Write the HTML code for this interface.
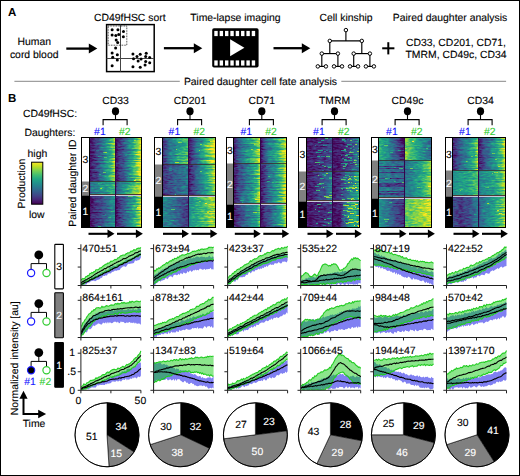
<!DOCTYPE html><html><head><meta charset="utf-8"><title>Figure</title><style>html,body{margin:0;padding:0;background:#fff;width:520px;height:476px;overflow:hidden}svg text{font-family:"Liberation Sans", sans-serif}</style></head><body><svg width="520" height="476" viewBox="0 0 520 476" style="display:block" font-family="Liberation Sans, sans-serif" text-rendering="geometricPrecision"><defs><filter id="vf" x="0" y="0" width="1" height="1" color-interpolation-filters="sRGB"><feTurbulence type="fractalNoise" baseFrequency="0.22 0.65" numOctaves="2" seed="4" result="t"/><feColorMatrix in="t" type="matrix" values="1 0 0 0 0 1 0 0 0 0 1 0 0 0 0 0 0 0 0 1" result="n"/><feComposite in="SourceGraphic" in2="n" operator="arithmetic" k1="0" k2="1" k3="0.42" k4="-0.21" result="s"/><feComponentTransfer in="s"><feFuncR type="table" tableValues="0.267 0.282 0.255 0.208 0.165 0.129 0.133 0.267 0.478 0.741 0.992"/><feFuncG type="table" tableValues="0.004 0.141 0.267 0.373 0.471 0.569 0.659 0.749 0.820 0.875 0.906"/><feFuncB type="table" tableValues="0.329 0.459 0.529 0.553 0.557 0.549 0.518 0.439 0.318 0.149 0.145"/></feComponentTransfer></filter><clipPath id="hc0"><rect x="90.0" y="137.5" width="51.0" height="90.0"/></clipPath><clipPath id="c1"><rect x="90.00" y="137.50" width="25.80" height="44.00"/></clipPath><linearGradient id="g1"><stop offset="0.00" stop-color="#050505"/><stop offset="0.06" stop-color="#0e0e0e"/><stop offset="0.30" stop-color="#2c2c2c"/><stop offset="0.60" stop-color="#656565"/><stop offset="0.85" stop-color="#969696"/><stop offset="1.00" stop-color="#cccccc"/></linearGradient><linearGradient id="g2"><stop offset="0.00" stop-color="#0d0d0d"/><stop offset="0.06" stop-color="#161616"/><stop offset="0.30" stop-color="#373737"/><stop offset="0.60" stop-color="#757575"/><stop offset="0.85" stop-color="#ababab"/><stop offset="1.00" stop-color="#e6e6e6"/></linearGradient><linearGradient id="g3"><stop offset="0.00" stop-color="#050505"/><stop offset="0.06" stop-color="#0f0f0f"/><stop offset="0.30" stop-color="#333333"/><stop offset="0.60" stop-color="#757575"/><stop offset="0.85" stop-color="#aeaeae"/><stop offset="1.00" stop-color="#eeeeee"/></linearGradient><linearGradient id="g4"><stop offset="0.00" stop-color="#0a0a0a"/><stop offset="0.06" stop-color="#141414"/><stop offset="0.30" stop-color="#393939"/><stop offset="0.60" stop-color="#7d7d7d"/><stop offset="0.85" stop-color="#b8b8b8"/><stop offset="1.00" stop-color="#fafafa"/></linearGradient><linearGradient id="g5"><stop offset="0.00" stop-color="#0f0f0f"/><stop offset="0.06" stop-color="#1a1a1a"/><stop offset="0.30" stop-color="#404040"/><stop offset="0.60" stop-color="#878787"/><stop offset="0.85" stop-color="#c4c4c4"/><stop offset="1.00" stop-color="#ffffff"/></linearGradient><linearGradient id="g6"><stop offset="0.00" stop-color="#0a0a0a"/><stop offset="0.06" stop-color="#151515"/><stop offset="0.30" stop-color="#3e3e3e"/><stop offset="0.60" stop-color="#888888"/><stop offset="0.85" stop-color="#c9c9c9"/><stop offset="1.00" stop-color="#ffffff"/></linearGradient><linearGradient id="g7"><stop offset="0.00" stop-color="#0d0d0d"/><stop offset="0.06" stop-color="#191919"/><stop offset="0.30" stop-color="#444444"/><stop offset="0.60" stop-color="#949494"/><stop offset="0.85" stop-color="#d8d8d8"/><stop offset="1.00" stop-color="#ffffff"/></linearGradient><clipPath id="c2"><rect x="115.80" y="137.50" width="25.20" height="44.00"/></clipPath><linearGradient id="g8"><stop offset="0.00" stop-color="#030303"/><stop offset="0.06" stop-color="#0d0d0d"/><stop offset="0.30" stop-color="#323232"/><stop offset="0.60" stop-color="#6a6a6a"/><stop offset="0.85" stop-color="#a4a4a4"/><stop offset="1.00" stop-color="#d2d2d2"/></linearGradient><linearGradient id="g9"><stop offset="0.00" stop-color="#0a0a0a"/><stop offset="0.06" stop-color="#161616"/><stop offset="0.30" stop-color="#3e3e3e"/><stop offset="0.60" stop-color="#7c7c7c"/><stop offset="0.85" stop-color="#bababa"/><stop offset="1.00" stop-color="#ededed"/></linearGradient><linearGradient id="g10"><stop offset="0.00" stop-color="#030303"/><stop offset="0.06" stop-color="#0f0f0f"/><stop offset="0.30" stop-color="#3a3a3a"/><stop offset="0.60" stop-color="#7c7c7c"/><stop offset="0.85" stop-color="#c0c0c0"/><stop offset="1.00" stop-color="#f5f5f5"/></linearGradient><linearGradient id="g11"><stop offset="0.00" stop-color="#080808"/><stop offset="0.06" stop-color="#141414"/><stop offset="0.30" stop-color="#414141"/><stop offset="0.60" stop-color="#858585"/><stop offset="0.85" stop-color="#cacaca"/><stop offset="1.00" stop-color="#ffffff"/></linearGradient><linearGradient id="g12"><stop offset="0.00" stop-color="#0d0d0d"/><stop offset="0.06" stop-color="#1a1a1a"/><stop offset="0.30" stop-color="#484848"/><stop offset="0.60" stop-color="#8f8f8f"/><stop offset="0.85" stop-color="#d7d7d7"/><stop offset="1.00" stop-color="#ffffff"/></linearGradient><linearGradient id="g13"><stop offset="0.00" stop-color="#080808"/><stop offset="0.06" stop-color="#161616"/><stop offset="0.30" stop-color="#474747"/><stop offset="0.60" stop-color="#919191"/><stop offset="0.85" stop-color="#dddddd"/><stop offset="1.00" stop-color="#ffffff"/></linearGradient><linearGradient id="g14"><stop offset="0.00" stop-color="#0a0a0a"/><stop offset="0.06" stop-color="#191919"/><stop offset="0.30" stop-color="#4e4e4e"/><stop offset="0.60" stop-color="#9d9d9d"/><stop offset="0.85" stop-color="#eeeeee"/><stop offset="1.00" stop-color="#ffffff"/></linearGradient><clipPath id="c3"><rect x="90.00" y="181.50" width="25.80" height="14.00"/></clipPath><linearGradient id="g15"><stop offset="0.00" stop-color="#3b3b3b"/><stop offset="0.06" stop-color="#565656"/><stop offset="0.30" stop-color="#666666"/><stop offset="0.60" stop-color="#747474"/><stop offset="0.85" stop-color="#848484"/><stop offset="1.00" stop-color="#979797"/></linearGradient><linearGradient id="g16"><stop offset="0.00" stop-color="#424242"/><stop offset="0.06" stop-color="#606060"/><stop offset="0.30" stop-color="#727272"/><stop offset="0.60" stop-color="#818181"/><stop offset="0.85" stop-color="#929292"/><stop offset="1.00" stop-color="#a7a7a7"/></linearGradient><linearGradient id="g17"><stop offset="0.00" stop-color="#3b3b3b"/><stop offset="0.06" stop-color="#5b5b5b"/><stop offset="0.30" stop-color="#6d6d6d"/><stop offset="0.60" stop-color="#7e7e7e"/><stop offset="0.85" stop-color="#909090"/><stop offset="1.00" stop-color="#a5a5a5"/></linearGradient><linearGradient id="g18"><stop offset="0.00" stop-color="#404040"/><stop offset="0.06" stop-color="#616161"/><stop offset="0.30" stop-color="#747474"/><stop offset="0.60" stop-color="#858585"/><stop offset="0.85" stop-color="#979797"/><stop offset="1.00" stop-color="#adadad"/></linearGradient><linearGradient id="g19"><stop offset="0.00" stop-color="#454545"/><stop offset="0.06" stop-color="#676767"/><stop offset="0.30" stop-color="#7b7b7b"/><stop offset="0.60" stop-color="#8d8d8d"/><stop offset="0.85" stop-color="#9f9f9f"/><stop offset="1.00" stop-color="#b6b6b6"/></linearGradient><linearGradient id="g20"><stop offset="0.00" stop-color="#404040"/><stop offset="0.06" stop-color="#646464"/><stop offset="0.30" stop-color="#797979"/><stop offset="0.60" stop-color="#8b8b8b"/><stop offset="0.85" stop-color="#9f9f9f"/><stop offset="1.00" stop-color="#b7b7b7"/></linearGradient><linearGradient id="g21"><stop offset="0.00" stop-color="#424242"/><stop offset="0.06" stop-color="#696969"/><stop offset="0.30" stop-color="#808080"/><stop offset="0.60" stop-color="#939393"/><stop offset="0.85" stop-color="#a8a8a8"/><stop offset="1.00" stop-color="#c1c1c1"/></linearGradient><clipPath id="c4"><rect x="115.80" y="181.50" width="25.20" height="14.00"/></clipPath><linearGradient id="g22"><stop offset="0.00" stop-color="#0f0f0f"/><stop offset="0.06" stop-color="#3d3d3d"/><stop offset="0.30" stop-color="#686868"/><stop offset="0.60" stop-color="#8c8c8c"/><stop offset="0.85" stop-color="#b1b1b1"/><stop offset="1.00" stop-color="#c2c2c2"/></linearGradient><linearGradient id="g23"><stop offset="0.00" stop-color="#171717"/><stop offset="0.06" stop-color="#494949"/><stop offset="0.30" stop-color="#797979"/><stop offset="0.60" stop-color="#9f9f9f"/><stop offset="0.85" stop-color="#c7c7c7"/><stop offset="1.00" stop-color="#d9d9d9"/></linearGradient><linearGradient id="g24"><stop offset="0.00" stop-color="#0f0f0f"/><stop offset="0.06" stop-color="#464646"/><stop offset="0.30" stop-color="#797979"/><stop offset="0.60" stop-color="#a2a2a2"/><stop offset="0.85" stop-color="#cccccc"/><stop offset="1.00" stop-color="#e0e0e0"/></linearGradient><linearGradient id="g25"><stop offset="0.00" stop-color="#141414"/><stop offset="0.06" stop-color="#4d4d4d"/><stop offset="0.30" stop-color="#818181"/><stop offset="0.60" stop-color="#ababab"/><stop offset="0.85" stop-color="#d7d7d7"/><stop offset="1.00" stop-color="#ebebeb"/></linearGradient><linearGradient id="g26"><stop offset="0.00" stop-color="#1a1a1a"/><stop offset="0.06" stop-color="#545454"/><stop offset="0.30" stop-color="#8a8a8a"/><stop offset="0.60" stop-color="#b6b6b6"/><stop offset="0.85" stop-color="#e3e3e3"/><stop offset="1.00" stop-color="#f8f8f8"/></linearGradient><linearGradient id="g27"><stop offset="0.00" stop-color="#141414"/><stop offset="0.06" stop-color="#525252"/><stop offset="0.30" stop-color="#8c8c8c"/><stop offset="0.60" stop-color="#bababa"/><stop offset="0.85" stop-color="#e9e9e9"/><stop offset="1.00" stop-color="#fefefe"/></linearGradient><linearGradient id="g28"><stop offset="0.00" stop-color="#171717"/><stop offset="0.06" stop-color="#595959"/><stop offset="0.30" stop-color="#979797"/><stop offset="0.60" stop-color="#c8c8c8"/><stop offset="0.85" stop-color="#fbfbfb"/><stop offset="1.00" stop-color="#ffffff"/></linearGradient><clipPath id="c5"><rect x="90.00" y="195.50" width="25.80" height="32.00"/></clipPath><linearGradient id="g29"><stop offset="0.00" stop-color="#050505"/><stop offset="0.06" stop-color="#0e0e0e"/><stop offset="0.30" stop-color="#242424"/><stop offset="0.60" stop-color="#414141"/><stop offset="0.85" stop-color="#606060"/><stop offset="1.00" stop-color="#757575"/></linearGradient><linearGradient id="g30"><stop offset="0.00" stop-color="#0d0d0d"/><stop offset="0.06" stop-color="#161616"/><stop offset="0.30" stop-color="#2e2e2e"/><stop offset="0.60" stop-color="#4e4e4e"/><stop offset="0.85" stop-color="#6f6f6f"/><stop offset="1.00" stop-color="#868686"/></linearGradient><linearGradient id="g31"><stop offset="0.00" stop-color="#050505"/><stop offset="0.06" stop-color="#0f0f0f"/><stop offset="0.30" stop-color="#292929"/><stop offset="0.60" stop-color="#4b4b4b"/><stop offset="0.85" stop-color="#6e6e6e"/><stop offset="1.00" stop-color="#868686"/></linearGradient><linearGradient id="g32"><stop offset="0.00" stop-color="#0a0a0a"/><stop offset="0.06" stop-color="#141414"/><stop offset="0.30" stop-color="#2f2f2f"/><stop offset="0.60" stop-color="#525252"/><stop offset="0.85" stop-color="#767676"/><stop offset="1.00" stop-color="#8f8f8f"/></linearGradient><linearGradient id="g33"><stop offset="0.00" stop-color="#0f0f0f"/><stop offset="0.06" stop-color="#1a1a1a"/><stop offset="0.30" stop-color="#363636"/><stop offset="0.60" stop-color="#5a5a5a"/><stop offset="0.85" stop-color="#7f7f7f"/><stop offset="1.00" stop-color="#999999"/></linearGradient><linearGradient id="g34"><stop offset="0.00" stop-color="#0a0a0a"/><stop offset="0.06" stop-color="#151515"/><stop offset="0.30" stop-color="#333333"/><stop offset="0.60" stop-color="#595959"/><stop offset="0.85" stop-color="#808080"/><stop offset="1.00" stop-color="#9b9b9b"/></linearGradient><linearGradient id="g35"><stop offset="0.00" stop-color="#0d0d0d"/><stop offset="0.06" stop-color="#191919"/><stop offset="0.30" stop-color="#383838"/><stop offset="0.60" stop-color="#606060"/><stop offset="0.85" stop-color="#8a8a8a"/><stop offset="1.00" stop-color="#a6a6a6"/></linearGradient><clipPath id="c6"><rect x="115.80" y="195.50" width="25.20" height="32.00"/></clipPath><linearGradient id="g36"><stop offset="0.00" stop-color="#000000"/><stop offset="0.06" stop-color="#0d0d0d"/><stop offset="0.30" stop-color="#313131"/><stop offset="0.60" stop-color="#5f5f5f"/><stop offset="0.85" stop-color="#8f8f8f"/><stop offset="1.00" stop-color="#bdbdbd"/></linearGradient><linearGradient id="g37"><stop offset="0.00" stop-color="#080808"/><stop offset="0.06" stop-color="#151515"/><stop offset="0.30" stop-color="#3e3e3e"/><stop offset="0.60" stop-color="#707070"/><stop offset="0.85" stop-color="#a3a3a3"/><stop offset="1.00" stop-color="#d5d5d5"/></linearGradient><linearGradient id="g38"><stop offset="0.00" stop-color="#000000"/><stop offset="0.06" stop-color="#0f0f0f"/><stop offset="0.30" stop-color="#3a3a3a"/><stop offset="0.60" stop-color="#707070"/><stop offset="0.85" stop-color="#a7a7a7"/><stop offset="1.00" stop-color="#dddddd"/></linearGradient><linearGradient id="g39"><stop offset="0.00" stop-color="#050505"/><stop offset="0.06" stop-color="#141414"/><stop offset="0.30" stop-color="#414141"/><stop offset="0.60" stop-color="#787878"/><stop offset="0.85" stop-color="#b1b1b1"/><stop offset="1.00" stop-color="#e8e8e8"/></linearGradient><linearGradient id="g40"><stop offset="0.00" stop-color="#0a0a0a"/><stop offset="0.06" stop-color="#1a1a1a"/><stop offset="0.30" stop-color="#494949"/><stop offset="0.60" stop-color="#828282"/><stop offset="0.85" stop-color="#bcbcbc"/><stop offset="1.00" stop-color="#f6f6f6"/></linearGradient><linearGradient id="g41"><stop offset="0.00" stop-color="#050505"/><stop offset="0.06" stop-color="#161616"/><stop offset="0.30" stop-color="#474747"/><stop offset="0.60" stop-color="#838383"/><stop offset="0.85" stop-color="#c1c1c1"/><stop offset="1.00" stop-color="#fdfdfd"/></linearGradient><linearGradient id="g42"><stop offset="0.00" stop-color="#080808"/><stop offset="0.06" stop-color="#1a1a1a"/><stop offset="0.30" stop-color="#4e4e4e"/><stop offset="0.60" stop-color="#8f8f8f"/><stop offset="0.85" stop-color="#d0d0d0"/><stop offset="1.00" stop-color="#ffffff"/></linearGradient><clipPath id="hc1"><rect x="163.0" y="137.5" width="52.0" height="90.0"/></clipPath><clipPath id="c7"><rect x="163.00" y="137.50" width="25.70" height="27.00"/></clipPath><linearGradient id="g43"><stop offset="0.00" stop-color="#141414"/><stop offset="0.06" stop-color="#292929"/><stop offset="0.30" stop-color="#555555"/><stop offset="0.60" stop-color="#787878"/><stop offset="0.85" stop-color="#888888"/><stop offset="1.00" stop-color="#a1a1a1"/></linearGradient><linearGradient id="g44"><stop offset="0.00" stop-color="#1c1c1c"/><stop offset="0.06" stop-color="#333333"/><stop offset="0.30" stop-color="#626262"/><stop offset="0.60" stop-color="#898989"/><stop offset="0.85" stop-color="#9a9a9a"/><stop offset="1.00" stop-color="#b5b5b5"/></linearGradient><linearGradient id="g45"><stop offset="0.00" stop-color="#141414"/><stop offset="0.06" stop-color="#2d2d2d"/><stop offset="0.30" stop-color="#606060"/><stop offset="0.60" stop-color="#898989"/><stop offset="0.85" stop-color="#9b9b9b"/><stop offset="1.00" stop-color="#b8b8b8"/></linearGradient><linearGradient id="g46"><stop offset="0.00" stop-color="#1a1a1a"/><stop offset="0.06" stop-color="#333333"/><stop offset="0.30" stop-color="#676767"/><stop offset="0.60" stop-color="#929292"/><stop offset="0.85" stop-color="#a4a4a4"/><stop offset="1.00" stop-color="#c2c2c2"/></linearGradient><linearGradient id="g47"><stop offset="0.00" stop-color="#1f1f1f"/><stop offset="0.06" stop-color="#393939"/><stop offset="0.30" stop-color="#707070"/><stop offset="0.60" stop-color="#9b9b9b"/><stop offset="0.85" stop-color="#aeaeae"/><stop offset="1.00" stop-color="#cdcdcd"/></linearGradient><linearGradient id="g48"><stop offset="0.00" stop-color="#1a1a1a"/><stop offset="0.06" stop-color="#363636"/><stop offset="0.30" stop-color="#6f6f6f"/><stop offset="0.60" stop-color="#9d9d9d"/><stop offset="0.85" stop-color="#b1b1b1"/><stop offset="1.00" stop-color="#d1d1d1"/></linearGradient><linearGradient id="g49"><stop offset="0.00" stop-color="#1c1c1c"/><stop offset="0.06" stop-color="#3a3a3a"/><stop offset="0.30" stop-color="#787878"/><stop offset="0.60" stop-color="#a9a9a9"/><stop offset="0.85" stop-color="#bebebe"/><stop offset="1.00" stop-color="#e0e0e0"/></linearGradient><clipPath id="c8"><rect x="188.70" y="137.50" width="26.30" height="27.00"/></clipPath><linearGradient id="g50"><stop offset="0.00" stop-color="#050505"/><stop offset="0.06" stop-color="#121212"/><stop offset="0.30" stop-color="#474747"/><stop offset="0.60" stop-color="#808080"/><stop offset="0.85" stop-color="#afafaf"/><stop offset="1.00" stop-color="#c8c8c8"/></linearGradient><linearGradient id="g51"><stop offset="0.00" stop-color="#0d0d0d"/><stop offset="0.06" stop-color="#1b1b1b"/><stop offset="0.30" stop-color="#555555"/><stop offset="0.60" stop-color="#939393"/><stop offset="0.85" stop-color="#c6c6c6"/><stop offset="1.00" stop-color="#e1e1e1"/></linearGradient><linearGradient id="g52"><stop offset="0.00" stop-color="#050505"/><stop offset="0.06" stop-color="#141414"/><stop offset="0.30" stop-color="#535353"/><stop offset="0.60" stop-color="#959595"/><stop offset="0.85" stop-color="#cccccc"/><stop offset="1.00" stop-color="#e9e9e9"/></linearGradient><linearGradient id="g53"><stop offset="0.00" stop-color="#0a0a0a"/><stop offset="0.06" stop-color="#1a1a1a"/><stop offset="0.30" stop-color="#5b5b5b"/><stop offset="0.60" stop-color="#9f9f9f"/><stop offset="0.85" stop-color="#d7d7d7"/><stop offset="1.00" stop-color="#f5f5f5"/></linearGradient><linearGradient id="g54"><stop offset="0.00" stop-color="#0f0f0f"/><stop offset="0.06" stop-color="#1f1f1f"/><stop offset="0.30" stop-color="#636363"/><stop offset="0.60" stop-color="#a9a9a9"/><stop offset="0.85" stop-color="#e4e4e4"/><stop offset="1.00" stop-color="#ffffff"/></linearGradient><linearGradient id="g55"><stop offset="0.00" stop-color="#0a0a0a"/><stop offset="0.06" stop-color="#1b1b1b"/><stop offset="0.30" stop-color="#636363"/><stop offset="0.60" stop-color="#adadad"/><stop offset="0.85" stop-color="#eaeaea"/><stop offset="1.00" stop-color="#ffffff"/></linearGradient><linearGradient id="g56"><stop offset="0.00" stop-color="#0d0d0d"/><stop offset="0.06" stop-color="#1f1f1f"/><stop offset="0.30" stop-color="#6b6b6b"/><stop offset="0.60" stop-color="#bbbbbb"/><stop offset="0.85" stop-color="#fcfcfc"/><stop offset="1.00" stop-color="#ffffff"/></linearGradient><clipPath id="c9"><rect x="163.00" y="164.50" width="25.70" height="32.00"/></clipPath><linearGradient id="g57"><stop offset="0.00" stop-color="#141414"/><stop offset="0.06" stop-color="#1f1f1f"/><stop offset="0.30" stop-color="#2f2f2f"/><stop offset="0.60" stop-color="#444444"/><stop offset="0.85" stop-color="#4d4d4d"/><stop offset="1.00" stop-color="#585858"/></linearGradient><linearGradient id="g58"><stop offset="0.00" stop-color="#1c1c1c"/><stop offset="0.06" stop-color="#282828"/><stop offset="0.30" stop-color="#393939"/><stop offset="0.60" stop-color="#4f4f4f"/><stop offset="0.85" stop-color="#5a5a5a"/><stop offset="1.00" stop-color="#656565"/></linearGradient><linearGradient id="g59"><stop offset="0.00" stop-color="#141414"/><stop offset="0.06" stop-color="#212121"/><stop offset="0.30" stop-color="#333333"/><stop offset="0.60" stop-color="#4b4b4b"/><stop offset="0.85" stop-color="#565656"/><stop offset="1.00" stop-color="#626262"/></linearGradient><linearGradient id="g60"><stop offset="0.00" stop-color="#1a1a1a"/><stop offset="0.06" stop-color="#262626"/><stop offset="0.30" stop-color="#393939"/><stop offset="0.60" stop-color="#525252"/><stop offset="0.85" stop-color="#5d5d5d"/><stop offset="1.00" stop-color="#696969"/></linearGradient><linearGradient id="g61"><stop offset="0.00" stop-color="#1f1f1f"/><stop offset="0.06" stop-color="#2c2c2c"/><stop offset="0.30" stop-color="#404040"/><stop offset="0.60" stop-color="#595959"/><stop offset="0.85" stop-color="#646464"/><stop offset="1.00" stop-color="#707070"/></linearGradient><linearGradient id="g62"><stop offset="0.00" stop-color="#1a1a1a"/><stop offset="0.06" stop-color="#282828"/><stop offset="0.30" stop-color="#3d3d3d"/><stop offset="0.60" stop-color="#575757"/><stop offset="0.85" stop-color="#626262"/><stop offset="1.00" stop-color="#6f6f6f"/></linearGradient><linearGradient id="g63"><stop offset="0.00" stop-color="#1c1c1c"/><stop offset="0.06" stop-color="#2b2b2b"/><stop offset="0.30" stop-color="#424242"/><stop offset="0.60" stop-color="#5e5e5e"/><stop offset="0.85" stop-color="#696969"/><stop offset="1.00" stop-color="#777777"/></linearGradient><clipPath id="c10"><rect x="188.70" y="164.50" width="26.30" height="32.00"/></clipPath><linearGradient id="g64"><stop offset="0.00" stop-color="#080808"/><stop offset="0.06" stop-color="#121212"/><stop offset="0.30" stop-color="#3d3d3d"/><stop offset="0.60" stop-color="#6b6b6b"/><stop offset="0.85" stop-color="#969696"/><stop offset="1.00" stop-color="#b8b8b8"/></linearGradient><linearGradient id="g65"><stop offset="0.00" stop-color="#0f0f0f"/><stop offset="0.06" stop-color="#1b1b1b"/><stop offset="0.30" stop-color="#4a4a4a"/><stop offset="0.60" stop-color="#7c7c7c"/><stop offset="0.85" stop-color="#ababab"/><stop offset="1.00" stop-color="#cfcfcf"/></linearGradient><linearGradient id="g66"><stop offset="0.00" stop-color="#080808"/><stop offset="0.06" stop-color="#141414"/><stop offset="0.30" stop-color="#474747"/><stop offset="0.60" stop-color="#7c7c7c"/><stop offset="0.85" stop-color="#afafaf"/><stop offset="1.00" stop-color="#d5d5d5"/></linearGradient><linearGradient id="g67"><stop offset="0.00" stop-color="#0d0d0d"/><stop offset="0.06" stop-color="#1a1a1a"/><stop offset="0.30" stop-color="#4e4e4e"/><stop offset="0.60" stop-color="#858585"/><stop offset="0.85" stop-color="#b8b8b8"/><stop offset="1.00" stop-color="#e0e0e0"/></linearGradient><linearGradient id="g68"><stop offset="0.00" stop-color="#121212"/><stop offset="0.06" stop-color="#1f1f1f"/><stop offset="0.30" stop-color="#565656"/><stop offset="0.60" stop-color="#8f8f8f"/><stop offset="0.85" stop-color="#c4c4c4"/><stop offset="1.00" stop-color="#ededed"/></linearGradient><linearGradient id="g69"><stop offset="0.00" stop-color="#0d0d0d"/><stop offset="0.06" stop-color="#1b1b1b"/><stop offset="0.30" stop-color="#545454"/><stop offset="0.60" stop-color="#909090"/><stop offset="0.85" stop-color="#c9c9c9"/><stop offset="1.00" stop-color="#f4f4f4"/></linearGradient><linearGradient id="g70"><stop offset="0.00" stop-color="#0f0f0f"/><stop offset="0.06" stop-color="#1e1e1e"/><stop offset="0.30" stop-color="#5c5c5c"/><stop offset="0.60" stop-color="#9c9c9c"/><stop offset="0.85" stop-color="#d8d8d8"/><stop offset="1.00" stop-color="#ffffff"/></linearGradient><clipPath id="c11"><rect x="163.00" y="196.50" width="25.70" height="31.00"/></clipPath><linearGradient id="g71"><stop offset="0.00" stop-color="#6e6e6e"/><stop offset="0.06" stop-color="#6e6e6e"/><stop offset="0.30" stop-color="#5f5f5f"/><stop offset="0.60" stop-color="#4e4e4e"/><stop offset="0.85" stop-color="#393939"/><stop offset="1.00" stop-color="#2f2f2f"/></linearGradient><linearGradient id="g72"><stop offset="0.00" stop-color="#757575"/><stop offset="0.06" stop-color="#757575"/><stop offset="0.30" stop-color="#656565"/><stop offset="0.60" stop-color="#535353"/><stop offset="0.85" stop-color="#3c3c3c"/><stop offset="1.00" stop-color="#303030"/></linearGradient><linearGradient id="g73"><stop offset="0.00" stop-color="#6e6e6e"/><stop offset="0.06" stop-color="#6e6e6e"/><stop offset="0.30" stop-color="#5c5c5c"/><stop offset="0.60" stop-color="#494949"/><stop offset="0.85" stop-color="#303030"/><stop offset="1.00" stop-color="#232323"/></linearGradient><linearGradient id="g74"><stop offset="0.00" stop-color="#737373"/><stop offset="0.06" stop-color="#737373"/><stop offset="0.30" stop-color="#616161"/><stop offset="0.60" stop-color="#4c4c4c"/><stop offset="0.85" stop-color="#333333"/><stop offset="1.00" stop-color="#262626"/></linearGradient><linearGradient id="g75"><stop offset="0.00" stop-color="#787878"/><stop offset="0.06" stop-color="#787878"/><stop offset="0.30" stop-color="#656565"/><stop offset="0.60" stop-color="#505050"/><stop offset="0.85" stop-color="#363636"/><stop offset="1.00" stop-color="#282828"/></linearGradient><linearGradient id="g76"><stop offset="0.00" stop-color="#737373"/><stop offset="0.06" stop-color="#737373"/><stop offset="0.30" stop-color="#5f5f5f"/><stop offset="0.60" stop-color="#494949"/><stop offset="0.85" stop-color="#2d2d2d"/><stop offset="1.00" stop-color="#1f1f1f"/></linearGradient><linearGradient id="g77"><stop offset="0.00" stop-color="#757575"/><stop offset="0.06" stop-color="#757575"/><stop offset="0.30" stop-color="#606060"/><stop offset="0.60" stop-color="#484848"/><stop offset="0.85" stop-color="#2a2a2a"/><stop offset="1.00" stop-color="#1b1b1b"/></linearGradient><clipPath id="c12"><rect x="188.70" y="196.50" width="26.30" height="31.00"/></clipPath><linearGradient id="g78"><stop offset="0.00" stop-color="#6e6e6e"/><stop offset="0.06" stop-color="#787878"/><stop offset="0.30" stop-color="#8e8e8e"/><stop offset="0.60" stop-color="#a7a7a7"/><stop offset="0.85" stop-color="#bebebe"/><stop offset="1.00" stop-color="#cacaca"/></linearGradient><linearGradient id="g79"><stop offset="0.00" stop-color="#757575"/><stop offset="0.06" stop-color="#818181"/><stop offset="0.30" stop-color="#999999"/><stop offset="0.60" stop-color="#b4b4b4"/><stop offset="0.85" stop-color="#cccccc"/><stop offset="1.00" stop-color="#dadada"/></linearGradient><linearGradient id="g80"><stop offset="0.00" stop-color="#6e6e6e"/><stop offset="0.06" stop-color="#7a7a7a"/><stop offset="0.30" stop-color="#949494"/><stop offset="0.60" stop-color="#b1b1b1"/><stop offset="0.85" stop-color="#cacaca"/><stop offset="1.00" stop-color="#d8d8d8"/></linearGradient><linearGradient id="g81"><stop offset="0.00" stop-color="#737373"/><stop offset="0.06" stop-color="#808080"/><stop offset="0.30" stop-color="#9a9a9a"/><stop offset="0.60" stop-color="#b8b8b8"/><stop offset="0.85" stop-color="#d2d2d2"/><stop offset="1.00" stop-color="#e0e0e0"/></linearGradient><linearGradient id="g82"><stop offset="0.00" stop-color="#787878"/><stop offset="0.06" stop-color="#858585"/><stop offset="0.30" stop-color="#a1a1a1"/><stop offset="0.60" stop-color="#c0c0c0"/><stop offset="0.85" stop-color="#dadada"/><stop offset="1.00" stop-color="#e9e9e9"/></linearGradient><linearGradient id="g83"><stop offset="0.00" stop-color="#737373"/><stop offset="0.06" stop-color="#818181"/><stop offset="0.30" stop-color="#9e9e9e"/><stop offset="0.60" stop-color="#bebebe"/><stop offset="0.85" stop-color="#dadada"/><stop offset="1.00" stop-color="#eaeaea"/></linearGradient><linearGradient id="g84"><stop offset="0.00" stop-color="#757575"/><stop offset="0.06" stop-color="#848484"/><stop offset="0.30" stop-color="#a4a4a4"/><stop offset="0.60" stop-color="#c6c6c6"/><stop offset="0.85" stop-color="#e4e4e4"/><stop offset="1.00" stop-color="#f4f4f4"/></linearGradient><clipPath id="hc2"><rect x="234.0" y="137.5" width="52.0" height="90.0"/></clipPath><clipPath id="c13"><rect x="234.00" y="137.50" width="26.50" height="26.00"/></clipPath><linearGradient id="g85"><stop offset="0.00" stop-color="#080808"/><stop offset="0.06" stop-color="#1d1d1d"/><stop offset="0.30" stop-color="#525252"/><stop offset="0.60" stop-color="#767676"/><stop offset="0.85" stop-color="#9b9b9b"/><stop offset="1.00" stop-color="#c9c9c9"/></linearGradient><linearGradient id="g86"><stop offset="0.00" stop-color="#0f0f0f"/><stop offset="0.06" stop-color="#262626"/><stop offset="0.30" stop-color="#616161"/><stop offset="0.60" stop-color="#888888"/><stop offset="0.85" stop-color="#b0b0b0"/><stop offset="1.00" stop-color="#e2e2e2"/></linearGradient><linearGradient id="g87"><stop offset="0.00" stop-color="#080808"/><stop offset="0.06" stop-color="#202020"/><stop offset="0.30" stop-color="#606060"/><stop offset="0.60" stop-color="#898989"/><stop offset="0.85" stop-color="#b3b3b3"/><stop offset="1.00" stop-color="#e9e9e9"/></linearGradient><linearGradient id="g88"><stop offset="0.00" stop-color="#0d0d0d"/><stop offset="0.06" stop-color="#262626"/><stop offset="0.30" stop-color="#676767"/><stop offset="0.60" stop-color="#929292"/><stop offset="0.85" stop-color="#bebebe"/><stop offset="1.00" stop-color="#f5f5f5"/></linearGradient><linearGradient id="g89"><stop offset="0.00" stop-color="#121212"/><stop offset="0.06" stop-color="#2c2c2c"/><stop offset="0.30" stop-color="#707070"/><stop offset="0.60" stop-color="#9c9c9c"/><stop offset="0.85" stop-color="#c9c9c9"/><stop offset="1.00" stop-color="#ffffff"/></linearGradient><linearGradient id="g90"><stop offset="0.00" stop-color="#0d0d0d"/><stop offset="0.06" stop-color="#292929"/><stop offset="0.30" stop-color="#707070"/><stop offset="0.60" stop-color="#9f9f9f"/><stop offset="0.85" stop-color="#cecece"/><stop offset="1.00" stop-color="#ffffff"/></linearGradient><linearGradient id="g91"><stop offset="0.00" stop-color="#0f0f0f"/><stop offset="0.06" stop-color="#2d2d2d"/><stop offset="0.30" stop-color="#7a7a7a"/><stop offset="0.60" stop-color="#ababab"/><stop offset="0.85" stop-color="#dedede"/><stop offset="1.00" stop-color="#ffffff"/></linearGradient><clipPath id="c14"><rect x="260.50" y="137.50" width="25.50" height="26.00"/></clipPath><linearGradient id="g92"><stop offset="0.00" stop-color="#050505"/><stop offset="0.06" stop-color="#121212"/><stop offset="0.30" stop-color="#525252"/><stop offset="0.60" stop-color="#757575"/><stop offset="0.85" stop-color="#a5a5a5"/><stop offset="1.00" stop-color="#cccccc"/></linearGradient><linearGradient id="g93"><stop offset="0.00" stop-color="#0d0d0d"/><stop offset="0.06" stop-color="#1b1b1b"/><stop offset="0.30" stop-color="#616161"/><stop offset="0.60" stop-color="#878787"/><stop offset="0.85" stop-color="#bbbbbb"/><stop offset="1.00" stop-color="#e6e6e6"/></linearGradient><linearGradient id="g94"><stop offset="0.00" stop-color="#050505"/><stop offset="0.06" stop-color="#141414"/><stop offset="0.30" stop-color="#606060"/><stop offset="0.60" stop-color="#898989"/><stop offset="0.85" stop-color="#c0c0c0"/><stop offset="1.00" stop-color="#eeeeee"/></linearGradient><linearGradient id="g95"><stop offset="0.00" stop-color="#0a0a0a"/><stop offset="0.06" stop-color="#1a1a1a"/><stop offset="0.30" stop-color="#676767"/><stop offset="0.60" stop-color="#929292"/><stop offset="0.85" stop-color="#cacaca"/><stop offset="1.00" stop-color="#fafafa"/></linearGradient><linearGradient id="g96"><stop offset="0.00" stop-color="#0f0f0f"/><stop offset="0.06" stop-color="#1f1f1f"/><stop offset="0.30" stop-color="#707070"/><stop offset="0.60" stop-color="#9c9c9c"/><stop offset="0.85" stop-color="#d7d7d7"/><stop offset="1.00" stop-color="#ffffff"/></linearGradient><linearGradient id="g97"><stop offset="0.00" stop-color="#0a0a0a"/><stop offset="0.06" stop-color="#1b1b1b"/><stop offset="0.30" stop-color="#717171"/><stop offset="0.60" stop-color="#9f9f9f"/><stop offset="0.85" stop-color="#dcdcdc"/><stop offset="1.00" stop-color="#ffffff"/></linearGradient><linearGradient id="g98"><stop offset="0.00" stop-color="#0d0d0d"/><stop offset="0.06" stop-color="#1f1f1f"/><stop offset="0.30" stop-color="#7a7a7a"/><stop offset="0.60" stop-color="#acacac"/><stop offset="0.85" stop-color="#ededed"/><stop offset="1.00" stop-color="#ffffff"/></linearGradient><clipPath id="c15"><rect x="234.00" y="163.50" width="26.50" height="41.00"/></clipPath><linearGradient id="g99"><stop offset="0.00" stop-color="#080808"/><stop offset="0.06" stop-color="#121212"/><stop offset="0.30" stop-color="#3d3d3d"/><stop offset="0.60" stop-color="#616161"/><stop offset="0.85" stop-color="#8a8a8a"/><stop offset="1.00" stop-color="#c0c0c0"/></linearGradient><linearGradient id="g100"><stop offset="0.00" stop-color="#0f0f0f"/><stop offset="0.06" stop-color="#1b1b1b"/><stop offset="0.30" stop-color="#4a4a4a"/><stop offset="0.60" stop-color="#717171"/><stop offset="0.85" stop-color="#9d9d9d"/><stop offset="1.00" stop-color="#d8d8d8"/></linearGradient><linearGradient id="g101"><stop offset="0.00" stop-color="#080808"/><stop offset="0.06" stop-color="#141414"/><stop offset="0.30" stop-color="#474747"/><stop offset="0.60" stop-color="#707070"/><stop offset="0.85" stop-color="#a0a0a0"/><stop offset="1.00" stop-color="#dfdfdf"/></linearGradient><linearGradient id="g102"><stop offset="0.00" stop-color="#0d0d0d"/><stop offset="0.06" stop-color="#1a1a1a"/><stop offset="0.30" stop-color="#4e4e4e"/><stop offset="0.60" stop-color="#787878"/><stop offset="0.85" stop-color="#a9a9a9"/><stop offset="1.00" stop-color="#ebebeb"/></linearGradient><linearGradient id="g103"><stop offset="0.00" stop-color="#121212"/><stop offset="0.06" stop-color="#1f1f1f"/><stop offset="0.30" stop-color="#565656"/><stop offset="0.60" stop-color="#818181"/><stop offset="0.85" stop-color="#b4b4b4"/><stop offset="1.00" stop-color="#f8f8f8"/></linearGradient><linearGradient id="g104"><stop offset="0.00" stop-color="#0d0d0d"/><stop offset="0.06" stop-color="#1b1b1b"/><stop offset="0.30" stop-color="#545454"/><stop offset="0.60" stop-color="#828282"/><stop offset="0.85" stop-color="#b8b8b8"/><stop offset="1.00" stop-color="#ffffff"/></linearGradient><linearGradient id="g105"><stop offset="0.00" stop-color="#0f0f0f"/><stop offset="0.06" stop-color="#1e1e1e"/><stop offset="0.30" stop-color="#5c5c5c"/><stop offset="0.60" stop-color="#8d8d8d"/><stop offset="0.85" stop-color="#c6c6c6"/><stop offset="1.00" stop-color="#ffffff"/></linearGradient><clipPath id="c16"><rect x="260.50" y="163.50" width="25.50" height="41.00"/></clipPath><linearGradient id="g106"><stop offset="0.00" stop-color="#030303"/><stop offset="0.06" stop-color="#0d0d0d"/><stop offset="0.30" stop-color="#3c3c3c"/><stop offset="0.60" stop-color="#686868"/><stop offset="0.85" stop-color="#969696"/><stop offset="1.00" stop-color="#c6c6c6"/></linearGradient><linearGradient id="g107"><stop offset="0.00" stop-color="#0a0a0a"/><stop offset="0.06" stop-color="#161616"/><stop offset="0.30" stop-color="#4a4a4a"/><stop offset="0.60" stop-color="#797979"/><stop offset="0.85" stop-color="#aaaaaa"/><stop offset="1.00" stop-color="#dfdfdf"/></linearGradient><linearGradient id="g108"><stop offset="0.00" stop-color="#030303"/><stop offset="0.06" stop-color="#0f0f0f"/><stop offset="0.30" stop-color="#474747"/><stop offset="0.60" stop-color="#7a7a7a"/><stop offset="0.85" stop-color="#aeaeae"/><stop offset="1.00" stop-color="#e7e7e7"/></linearGradient><linearGradient id="g109"><stop offset="0.00" stop-color="#080808"/><stop offset="0.06" stop-color="#141414"/><stop offset="0.30" stop-color="#4e4e4e"/><stop offset="0.60" stop-color="#828282"/><stop offset="0.85" stop-color="#b8b8b8"/><stop offset="1.00" stop-color="#f2f2f2"/></linearGradient><linearGradient id="g110"><stop offset="0.00" stop-color="#0d0d0d"/><stop offset="0.06" stop-color="#1a1a1a"/><stop offset="0.30" stop-color="#565656"/><stop offset="0.60" stop-color="#8c8c8c"/><stop offset="0.85" stop-color="#c4c4c4"/><stop offset="1.00" stop-color="#ffffff"/></linearGradient><linearGradient id="g111"><stop offset="0.00" stop-color="#080808"/><stop offset="0.06" stop-color="#161616"/><stop offset="0.30" stop-color="#555555"/><stop offset="0.60" stop-color="#8e8e8e"/><stop offset="0.85" stop-color="#c9c9c9"/><stop offset="1.00" stop-color="#ffffff"/></linearGradient><linearGradient id="g112"><stop offset="0.00" stop-color="#0a0a0a"/><stop offset="0.06" stop-color="#191919"/><stop offset="0.30" stop-color="#5d5d5d"/><stop offset="0.60" stop-color="#9a9a9a"/><stop offset="0.85" stop-color="#d9d9d9"/><stop offset="1.00" stop-color="#ffffff"/></linearGradient><clipPath id="c17"><rect x="234.00" y="204.50" width="26.50" height="23.00"/></clipPath><linearGradient id="g113"><stop offset="0.00" stop-color="#080808"/><stop offset="0.06" stop-color="#121212"/><stop offset="0.30" stop-color="#333333"/><stop offset="0.60" stop-color="#565656"/><stop offset="0.85" stop-color="#717171"/><stop offset="1.00" stop-color="#a9a9a9"/></linearGradient><linearGradient id="g114"><stop offset="0.00" stop-color="#0f0f0f"/><stop offset="0.06" stop-color="#1b1b1b"/><stop offset="0.30" stop-color="#3f3f3f"/><stop offset="0.60" stop-color="#656565"/><stop offset="0.85" stop-color="#828282"/><stop offset="1.00" stop-color="#bfbfbf"/></linearGradient><linearGradient id="g115"><stop offset="0.00" stop-color="#080808"/><stop offset="0.06" stop-color="#141414"/><stop offset="0.30" stop-color="#3a3a3a"/><stop offset="0.60" stop-color="#646464"/><stop offset="0.85" stop-color="#828282"/><stop offset="1.00" stop-color="#c4c4c4"/></linearGradient><linearGradient id="g116"><stop offset="0.00" stop-color="#0d0d0d"/><stop offset="0.06" stop-color="#1a1a1a"/><stop offset="0.30" stop-color="#414141"/><stop offset="0.60" stop-color="#6c6c6c"/><stop offset="0.85" stop-color="#8b8b8b"/><stop offset="1.00" stop-color="#cfcfcf"/></linearGradient><linearGradient id="g117"><stop offset="0.00" stop-color="#121212"/><stop offset="0.06" stop-color="#1f1f1f"/><stop offset="0.30" stop-color="#484848"/><stop offset="0.60" stop-color="#747474"/><stop offset="0.85" stop-color="#949494"/><stop offset="1.00" stop-color="#dbdbdb"/></linearGradient><linearGradient id="g118"><stop offset="0.00" stop-color="#0d0d0d"/><stop offset="0.06" stop-color="#1b1b1b"/><stop offset="0.30" stop-color="#464646"/><stop offset="0.60" stop-color="#747474"/><stop offset="0.85" stop-color="#969696"/><stop offset="1.00" stop-color="#e0e0e0"/></linearGradient><linearGradient id="g119"><stop offset="0.00" stop-color="#0f0f0f"/><stop offset="0.06" stop-color="#1e1e1e"/><stop offset="0.30" stop-color="#4d4d4d"/><stop offset="0.60" stop-color="#7e7e7e"/><stop offset="0.85" stop-color="#a2a2a2"/><stop offset="1.00" stop-color="#f1f1f1"/></linearGradient><clipPath id="c18"><rect x="260.50" y="204.50" width="25.50" height="23.00"/></clipPath><linearGradient id="g120"><stop offset="0.00" stop-color="#030303"/><stop offset="0.06" stop-color="#0d0d0d"/><stop offset="0.30" stop-color="#323232"/><stop offset="0.60" stop-color="#5a5a5a"/><stop offset="0.85" stop-color="#898989"/><stop offset="1.00" stop-color="#c4c4c4"/></linearGradient><linearGradient id="g121"><stop offset="0.00" stop-color="#0a0a0a"/><stop offset="0.06" stop-color="#161616"/><stop offset="0.30" stop-color="#3e3e3e"/><stop offset="0.60" stop-color="#696969"/><stop offset="0.85" stop-color="#9d9d9d"/><stop offset="1.00" stop-color="#dddddd"/></linearGradient><linearGradient id="g122"><stop offset="0.00" stop-color="#030303"/><stop offset="0.06" stop-color="#0f0f0f"/><stop offset="0.30" stop-color="#3a3a3a"/><stop offset="0.60" stop-color="#696969"/><stop offset="0.85" stop-color="#a0a0a0"/><stop offset="1.00" stop-color="#e4e4e4"/></linearGradient><linearGradient id="g123"><stop offset="0.00" stop-color="#080808"/><stop offset="0.06" stop-color="#141414"/><stop offset="0.30" stop-color="#414141"/><stop offset="0.60" stop-color="#717171"/><stop offset="0.85" stop-color="#a9a9a9"/><stop offset="1.00" stop-color="#f0f0f0"/></linearGradient><linearGradient id="g124"><stop offset="0.00" stop-color="#0d0d0d"/><stop offset="0.06" stop-color="#1a1a1a"/><stop offset="0.30" stop-color="#484848"/><stop offset="0.60" stop-color="#7a7a7a"/><stop offset="0.85" stop-color="#b4b4b4"/><stop offset="1.00" stop-color="#fdfdfd"/></linearGradient><linearGradient id="g125"><stop offset="0.00" stop-color="#080808"/><stop offset="0.06" stop-color="#161616"/><stop offset="0.30" stop-color="#474747"/><stop offset="0.60" stop-color="#7b7b7b"/><stop offset="0.85" stop-color="#b8b8b8"/><stop offset="1.00" stop-color="#ffffff"/></linearGradient><linearGradient id="g126"><stop offset="0.00" stop-color="#0a0a0a"/><stop offset="0.06" stop-color="#191919"/><stop offset="0.30" stop-color="#4e4e4e"/><stop offset="0.60" stop-color="#858585"/><stop offset="0.85" stop-color="#c7c7c7"/><stop offset="1.00" stop-color="#ffffff"/></linearGradient><clipPath id="hc3"><rect x="307.0" y="137.5" width="52.0" height="90.0"/></clipPath><clipPath id="c19"><rect x="307.00" y="137.50" width="25.80" height="34.00"/></clipPath><linearGradient id="g127"><stop offset="0.00" stop-color="#0d0d0d"/><stop offset="0.06" stop-color="#0f0f0f"/><stop offset="0.30" stop-color="#141414"/><stop offset="0.60" stop-color="#1d1d1d"/><stop offset="0.85" stop-color="#262626"/><stop offset="1.00" stop-color="#2f2f2f"/></linearGradient><linearGradient id="g128"><stop offset="0.00" stop-color="#141414"/><stop offset="0.06" stop-color="#171717"/><stop offset="0.30" stop-color="#1d1d1d"/><stop offset="0.60" stop-color="#252525"/><stop offset="0.85" stop-color="#303030"/><stop offset="1.00" stop-color="#383838"/></linearGradient><linearGradient id="g129"><stop offset="0.00" stop-color="#0d0d0d"/><stop offset="0.06" stop-color="#0f0f0f"/><stop offset="0.30" stop-color="#161616"/><stop offset="0.60" stop-color="#1f1f1f"/><stop offset="0.85" stop-color="#292929"/><stop offset="1.00" stop-color="#323232"/></linearGradient><linearGradient id="g130"><stop offset="0.00" stop-color="#121212"/><stop offset="0.06" stop-color="#141414"/><stop offset="0.30" stop-color="#1b1b1b"/><stop offset="0.60" stop-color="#242424"/><stop offset="0.85" stop-color="#2f2f2f"/><stop offset="1.00" stop-color="#383838"/></linearGradient><linearGradient id="g131"><stop offset="0.00" stop-color="#171717"/><stop offset="0.06" stop-color="#1a1a1a"/><stop offset="0.30" stop-color="#202020"/><stop offset="0.60" stop-color="#2a2a2a"/><stop offset="0.85" stop-color="#353535"/><stop offset="1.00" stop-color="#3e3e3e"/></linearGradient><linearGradient id="g132"><stop offset="0.00" stop-color="#121212"/><stop offset="0.06" stop-color="#151515"/><stop offset="0.30" stop-color="#1c1c1c"/><stop offset="0.60" stop-color="#252525"/><stop offset="0.85" stop-color="#313131"/><stop offset="1.00" stop-color="#3a3a3a"/></linearGradient><linearGradient id="g133"><stop offset="0.00" stop-color="#141414"/><stop offset="0.06" stop-color="#171717"/><stop offset="0.30" stop-color="#1f1f1f"/><stop offset="0.60" stop-color="#292929"/><stop offset="0.85" stop-color="#353535"/><stop offset="1.00" stop-color="#3f3f3f"/></linearGradient><clipPath id="c20"><rect x="332.80" y="137.50" width="26.20" height="34.00"/></clipPath><linearGradient id="g134"><stop offset="0.00" stop-color="#080808"/><stop offset="0.06" stop-color="#0a0a0a"/><stop offset="0.30" stop-color="#0f0f0f"/><stop offset="0.60" stop-color="#222222"/><stop offset="0.85" stop-color="#3d3d3d"/><stop offset="1.00" stop-color="#4b4b4b"/></linearGradient><linearGradient id="g135"><stop offset="0.00" stop-color="#0f0f0f"/><stop offset="0.06" stop-color="#121212"/><stop offset="0.30" stop-color="#181818"/><stop offset="0.60" stop-color="#2c2c2c"/><stop offset="0.85" stop-color="#484848"/><stop offset="1.00" stop-color="#585858"/></linearGradient><linearGradient id="g136"><stop offset="0.00" stop-color="#080808"/><stop offset="0.06" stop-color="#0a0a0a"/><stop offset="0.30" stop-color="#101010"/><stop offset="0.60" stop-color="#262626"/><stop offset="0.85" stop-color="#444444"/><stop offset="1.00" stop-color="#555555"/></linearGradient><linearGradient id="g137"><stop offset="0.00" stop-color="#0d0d0d"/><stop offset="0.06" stop-color="#0f0f0f"/><stop offset="0.30" stop-color="#161616"/><stop offset="0.60" stop-color="#2c2c2c"/><stop offset="0.85" stop-color="#4b4b4b"/><stop offset="1.00" stop-color="#5c5c5c"/></linearGradient><linearGradient id="g138"><stop offset="0.00" stop-color="#121212"/><stop offset="0.06" stop-color="#151515"/><stop offset="0.30" stop-color="#1b1b1b"/><stop offset="0.60" stop-color="#323232"/><stop offset="0.85" stop-color="#525252"/><stop offset="1.00" stop-color="#636363"/></linearGradient><linearGradient id="g139"><stop offset="0.00" stop-color="#0d0d0d"/><stop offset="0.06" stop-color="#101010"/><stop offset="0.30" stop-color="#171717"/><stop offset="0.60" stop-color="#2e2e2e"/><stop offset="0.85" stop-color="#505050"/><stop offset="1.00" stop-color="#626262"/></linearGradient><linearGradient id="g140"><stop offset="0.00" stop-color="#0f0f0f"/><stop offset="0.06" stop-color="#121212"/><stop offset="0.30" stop-color="#1a1a1a"/><stop offset="0.60" stop-color="#333333"/><stop offset="0.85" stop-color="#575757"/><stop offset="1.00" stop-color="#6a6a6a"/></linearGradient><clipPath id="c21"><rect x="307.00" y="171.50" width="25.80" height="30.00"/></clipPath><linearGradient id="g141"><stop offset="0.00" stop-color="#080808"/><stop offset="0.06" stop-color="#0c0c0c"/><stop offset="0.30" stop-color="#181818"/><stop offset="0.60" stop-color="#313131"/><stop offset="0.85" stop-color="#4b4b4b"/><stop offset="1.00" stop-color="#585858"/></linearGradient><linearGradient id="g142"><stop offset="0.00" stop-color="#0f0f0f"/><stop offset="0.06" stop-color="#141414"/><stop offset="0.30" stop-color="#212121"/><stop offset="0.60" stop-color="#3c3c3c"/><stop offset="0.85" stop-color="#585858"/><stop offset="1.00" stop-color="#666666"/></linearGradient><linearGradient id="g143"><stop offset="0.00" stop-color="#080808"/><stop offset="0.06" stop-color="#0d0d0d"/><stop offset="0.30" stop-color="#1a1a1a"/><stop offset="0.60" stop-color="#373737"/><stop offset="0.85" stop-color="#555555"/><stop offset="1.00" stop-color="#646464"/></linearGradient><linearGradient id="g144"><stop offset="0.00" stop-color="#0d0d0d"/><stop offset="0.06" stop-color="#121212"/><stop offset="0.30" stop-color="#202020"/><stop offset="0.60" stop-color="#3e3e3e"/><stop offset="0.85" stop-color="#5d5d5d"/><stop offset="1.00" stop-color="#6b6b6b"/></linearGradient><linearGradient id="g145"><stop offset="0.00" stop-color="#121212"/><stop offset="0.06" stop-color="#171717"/><stop offset="0.30" stop-color="#262626"/><stop offset="0.60" stop-color="#444444"/><stop offset="0.85" stop-color="#656565"/><stop offset="1.00" stop-color="#737373"/></linearGradient><linearGradient id="g146"><stop offset="0.00" stop-color="#0d0d0d"/><stop offset="0.06" stop-color="#121212"/><stop offset="0.30" stop-color="#222222"/><stop offset="0.60" stop-color="#424242"/><stop offset="0.85" stop-color="#646464"/><stop offset="1.00" stop-color="#737373"/></linearGradient><linearGradient id="g147"><stop offset="0.00" stop-color="#0f0f0f"/><stop offset="0.06" stop-color="#151515"/><stop offset="0.30" stop-color="#262626"/><stop offset="0.60" stop-color="#484848"/><stop offset="0.85" stop-color="#6c6c6c"/><stop offset="1.00" stop-color="#7c7c7c"/></linearGradient><clipPath id="c22"><rect x="332.80" y="171.50" width="26.20" height="30.00"/></clipPath><linearGradient id="g148"><stop offset="0.00" stop-color="#080808"/><stop offset="0.06" stop-color="#0c0c0c"/><stop offset="0.30" stop-color="#1e1e1e"/><stop offset="0.60" stop-color="#464646"/><stop offset="0.85" stop-color="#666666"/><stop offset="1.00" stop-color="#7f7f7f"/></linearGradient><linearGradient id="g149"><stop offset="0.00" stop-color="#0f0f0f"/><stop offset="0.06" stop-color="#141414"/><stop offset="0.30" stop-color="#282828"/><stop offset="0.60" stop-color="#535353"/><stop offset="0.85" stop-color="#767676"/><stop offset="1.00" stop-color="#919191"/></linearGradient><linearGradient id="g150"><stop offset="0.00" stop-color="#080808"/><stop offset="0.06" stop-color="#0d0d0d"/><stop offset="0.30" stop-color="#222222"/><stop offset="0.60" stop-color="#505050"/><stop offset="0.85" stop-color="#767676"/><stop offset="1.00" stop-color="#939393"/></linearGradient><linearGradient id="g151"><stop offset="0.00" stop-color="#0d0d0d"/><stop offset="0.06" stop-color="#121212"/><stop offset="0.30" stop-color="#282828"/><stop offset="0.60" stop-color="#575757"/><stop offset="0.85" stop-color="#7e7e7e"/><stop offset="1.00" stop-color="#9c9c9c"/></linearGradient><linearGradient id="g152"><stop offset="0.00" stop-color="#121212"/><stop offset="0.06" stop-color="#171717"/><stop offset="0.30" stop-color="#2e2e2e"/><stop offset="0.60" stop-color="#5f5f5f"/><stop offset="0.85" stop-color="#878787"/><stop offset="1.00" stop-color="#a6a6a6"/></linearGradient><linearGradient id="g153"><stop offset="0.00" stop-color="#0d0d0d"/><stop offset="0.06" stop-color="#121212"/><stop offset="0.30" stop-color="#2a2a2a"/><stop offset="0.60" stop-color="#5e5e5e"/><stop offset="0.85" stop-color="#888888"/><stop offset="1.00" stop-color="#a8a8a8"/></linearGradient><linearGradient id="g154"><stop offset="0.00" stop-color="#0f0f0f"/><stop offset="0.06" stop-color="#151515"/><stop offset="0.30" stop-color="#2f2f2f"/><stop offset="0.60" stop-color="#666666"/><stop offset="0.85" stop-color="#939393"/><stop offset="1.00" stop-color="#b5b5b5"/></linearGradient><clipPath id="c23"><rect x="307.00" y="201.50" width="25.80" height="26.00"/></clipPath><linearGradient id="g155"><stop offset="0.00" stop-color="#080808"/><stop offset="0.06" stop-color="#0a0a0a"/><stop offset="0.30" stop-color="#0f0f0f"/><stop offset="0.60" stop-color="#181818"/><stop offset="0.85" stop-color="#212121"/><stop offset="1.00" stop-color="#262626"/></linearGradient><linearGradient id="g156"><stop offset="0.00" stop-color="#0f0f0f"/><stop offset="0.06" stop-color="#121212"/><stop offset="0.30" stop-color="#181818"/><stop offset="0.60" stop-color="#202020"/><stop offset="0.85" stop-color="#2a2a2a"/><stop offset="1.00" stop-color="#2f2f2f"/></linearGradient><linearGradient id="g157"><stop offset="0.00" stop-color="#080808"/><stop offset="0.06" stop-color="#0a0a0a"/><stop offset="0.30" stop-color="#101010"/><stop offset="0.60" stop-color="#1a1a1a"/><stop offset="0.85" stop-color="#242424"/><stop offset="1.00" stop-color="#282828"/></linearGradient><linearGradient id="g158"><stop offset="0.00" stop-color="#0d0d0d"/><stop offset="0.06" stop-color="#0f0f0f"/><stop offset="0.30" stop-color="#161616"/><stop offset="0.60" stop-color="#1f1f1f"/><stop offset="0.85" stop-color="#2a2a2a"/><stop offset="1.00" stop-color="#2e2e2e"/></linearGradient><linearGradient id="g159"><stop offset="0.00" stop-color="#121212"/><stop offset="0.06" stop-color="#151515"/><stop offset="0.30" stop-color="#1b1b1b"/><stop offset="0.60" stop-color="#252525"/><stop offset="0.85" stop-color="#2f2f2f"/><stop offset="1.00" stop-color="#343434"/></linearGradient><linearGradient id="g160"><stop offset="0.00" stop-color="#0d0d0d"/><stop offset="0.06" stop-color="#101010"/><stop offset="0.30" stop-color="#171717"/><stop offset="0.60" stop-color="#202020"/><stop offset="0.85" stop-color="#2b2b2b"/><stop offset="1.00" stop-color="#303030"/></linearGradient><linearGradient id="g161"><stop offset="0.00" stop-color="#0f0f0f"/><stop offset="0.06" stop-color="#121212"/><stop offset="0.30" stop-color="#1a1a1a"/><stop offset="0.60" stop-color="#242424"/><stop offset="0.85" stop-color="#2f2f2f"/><stop offset="1.00" stop-color="#343434"/></linearGradient><clipPath id="c24"><rect x="332.80" y="201.50" width="26.20" height="26.00"/></clipPath><linearGradient id="g162"><stop offset="0.00" stop-color="#030303"/><stop offset="0.06" stop-color="#070707"/><stop offset="0.30" stop-color="#0e0e0e"/><stop offset="0.60" stop-color="#606060"/><stop offset="0.85" stop-color="#858585"/><stop offset="1.00" stop-color="#5b5b5b"/></linearGradient><linearGradient id="g163"><stop offset="0.00" stop-color="#0a0a0a"/><stop offset="0.06" stop-color="#0f0f0f"/><stop offset="0.30" stop-color="#171717"/><stop offset="0.60" stop-color="#707070"/><stop offset="0.85" stop-color="#989898"/><stop offset="1.00" stop-color="#6a6a6a"/></linearGradient><linearGradient id="g164"><stop offset="0.00" stop-color="#030303"/><stop offset="0.06" stop-color="#080808"/><stop offset="0.30" stop-color="#101010"/><stop offset="0.60" stop-color="#707070"/><stop offset="0.85" stop-color="#9b9b9b"/><stop offset="1.00" stop-color="#686868"/></linearGradient><linearGradient id="g165"><stop offset="0.00" stop-color="#080808"/><stop offset="0.06" stop-color="#0d0d0d"/><stop offset="0.30" stop-color="#161616"/><stop offset="0.60" stop-color="#787878"/><stop offset="0.85" stop-color="#a4a4a4"/><stop offset="1.00" stop-color="#707070"/></linearGradient><linearGradient id="g166"><stop offset="0.00" stop-color="#0d0d0d"/><stop offset="0.06" stop-color="#121212"/><stop offset="0.30" stop-color="#1b1b1b"/><stop offset="0.60" stop-color="#828282"/><stop offset="0.85" stop-color="#afafaf"/><stop offset="1.00" stop-color="#797979"/></linearGradient><linearGradient id="g167"><stop offset="0.00" stop-color="#080808"/><stop offset="0.06" stop-color="#0d0d0d"/><stop offset="0.30" stop-color="#171717"/><stop offset="0.60" stop-color="#838383"/><stop offset="0.85" stop-color="#b3b3b3"/><stop offset="1.00" stop-color="#797979"/></linearGradient><linearGradient id="g168"><stop offset="0.00" stop-color="#0a0a0a"/><stop offset="0.06" stop-color="#101010"/><stop offset="0.30" stop-color="#1b1b1b"/><stop offset="0.60" stop-color="#8e8e8e"/><stop offset="0.85" stop-color="#c1c1c1"/><stop offset="1.00" stop-color="#838383"/></linearGradient><clipPath id="hc4"><rect x="379.0" y="137.5" width="52.0" height="90.0"/></clipPath><clipPath id="c25"><rect x="379.00" y="137.50" width="25.80" height="23.00"/></clipPath><linearGradient id="g169"><stop offset="0.00" stop-color="#999999"/><stop offset="0.06" stop-color="#999999"/><stop offset="0.30" stop-color="#808080"/><stop offset="0.60" stop-color="#5a5a5a"/><stop offset="0.85" stop-color="#373737"/><stop offset="1.00" stop-color="#282828"/></linearGradient><linearGradient id="g170"><stop offset="0.00" stop-color="#a1a1a1"/><stop offset="0.06" stop-color="#a1a1a1"/><stop offset="0.30" stop-color="#858585"/><stop offset="0.60" stop-color="#5c5c5c"/><stop offset="0.85" stop-color="#353535"/><stop offset="1.00" stop-color="#252525"/></linearGradient><linearGradient id="g171"><stop offset="0.00" stop-color="#999999"/><stop offset="0.06" stop-color="#999999"/><stop offset="0.30" stop-color="#7b7b7b"/><stop offset="0.60" stop-color="#4f4f4f"/><stop offset="0.85" stop-color="#252525"/><stop offset="1.00" stop-color="#131313"/></linearGradient><linearGradient id="g172"><stop offset="0.00" stop-color="#9e9e9e"/><stop offset="0.06" stop-color="#9e9e9e"/><stop offset="0.30" stop-color="#808080"/><stop offset="0.60" stop-color="#525252"/><stop offset="0.85" stop-color="#262626"/><stop offset="1.00" stop-color="#141414"/></linearGradient><linearGradient id="g173"><stop offset="0.00" stop-color="#a3a3a3"/><stop offset="0.06" stop-color="#a3a3a3"/><stop offset="0.30" stop-color="#838383"/><stop offset="0.60" stop-color="#545454"/><stop offset="0.85" stop-color="#272727"/><stop offset="1.00" stop-color="#141414"/></linearGradient><linearGradient id="g174"><stop offset="0.00" stop-color="#9e9e9e"/><stop offset="0.06" stop-color="#9e9e9e"/><stop offset="0.30" stop-color="#7c7c7c"/><stop offset="0.60" stop-color="#4a4a4a"/><stop offset="0.85" stop-color="#1a1a1a"/><stop offset="1.00" stop-color="#070707"/></linearGradient><linearGradient id="g175"><stop offset="0.00" stop-color="#a1a1a1"/><stop offset="0.06" stop-color="#a1a1a1"/><stop offset="0.30" stop-color="#7d7d7d"/><stop offset="0.60" stop-color="#464646"/><stop offset="0.85" stop-color="#131313"/><stop offset="1.00" stop-color="#000000"/></linearGradient><clipPath id="c26"><rect x="404.80" y="137.50" width="26.20" height="23.00"/></clipPath><linearGradient id="g176"><stop offset="0.00" stop-color="#c2c2c2"/><stop offset="0.06" stop-color="#c6c6c6"/><stop offset="0.30" stop-color="#adadad"/><stop offset="0.60" stop-color="#8b8b8b"/><stop offset="0.85" stop-color="#727272"/><stop offset="1.00" stop-color="#5d5d5d"/></linearGradient><linearGradient id="g177"><stop offset="0.00" stop-color="#c9c9c9"/><stop offset="0.06" stop-color="#cecece"/><stop offset="0.30" stop-color="#b3b3b3"/><stop offset="0.60" stop-color="#8e8e8e"/><stop offset="0.85" stop-color="#727272"/><stop offset="1.00" stop-color="#5b5b5b"/></linearGradient><linearGradient id="g178"><stop offset="0.00" stop-color="#c2c2c2"/><stop offset="0.06" stop-color="#c7c7c7"/><stop offset="0.30" stop-color="#a9a9a9"/><stop offset="0.60" stop-color="#818181"/><stop offset="0.85" stop-color="#646464"/><stop offset="1.00" stop-color="#4b4b4b"/></linearGradient><linearGradient id="g179"><stop offset="0.00" stop-color="#c7c7c7"/><stop offset="0.06" stop-color="#cccccc"/><stop offset="0.30" stop-color="#adadad"/><stop offset="0.60" stop-color="#858585"/><stop offset="0.85" stop-color="#666666"/><stop offset="1.00" stop-color="#4c4c4c"/></linearGradient><linearGradient id="g180"><stop offset="0.00" stop-color="#cccccc"/><stop offset="0.06" stop-color="#d1d1d1"/><stop offset="0.30" stop-color="#b1b1b1"/><stop offset="0.60" stop-color="#878787"/><stop offset="0.85" stop-color="#676767"/><stop offset="1.00" stop-color="#4d4d4d"/></linearGradient><linearGradient id="g181"><stop offset="0.00" stop-color="#c7c7c7"/><stop offset="0.06" stop-color="#cdcdcd"/><stop offset="0.30" stop-color="#ababab"/><stop offset="0.60" stop-color="#7e7e7e"/><stop offset="0.85" stop-color="#5c5c5c"/><stop offset="1.00" stop-color="#404040"/></linearGradient><linearGradient id="g182"><stop offset="0.00" stop-color="#c9c9c9"/><stop offset="0.06" stop-color="#cfcfcf"/><stop offset="0.30" stop-color="#ababab"/><stop offset="0.60" stop-color="#7b7b7b"/><stop offset="0.85" stop-color="#575757"/><stop offset="1.00" stop-color="#393939"/></linearGradient><clipPath id="c27"><rect x="379.00" y="160.50" width="25.80" height="38.00"/></clipPath><linearGradient id="g183"><stop offset="0.00" stop-color="#666666"/><stop offset="0.06" stop-color="#666666"/><stop offset="0.30" stop-color="#626262"/><stop offset="0.60" stop-color="#595959"/><stop offset="0.85" stop-color="#535353"/><stop offset="1.00" stop-color="#535353"/></linearGradient><linearGradient id="g184"><stop offset="0.00" stop-color="#6e6e6e"/><stop offset="0.06" stop-color="#6e6e6e"/><stop offset="0.30" stop-color="#696969"/><stop offset="0.60" stop-color="#606060"/><stop offset="0.85" stop-color="#595959"/><stop offset="1.00" stop-color="#595959"/></linearGradient><linearGradient id="g185"><stop offset="0.00" stop-color="#666666"/><stop offset="0.06" stop-color="#666666"/><stop offset="0.30" stop-color="#616161"/><stop offset="0.60" stop-color="#575757"/><stop offset="0.85" stop-color="#505050"/><stop offset="1.00" stop-color="#505050"/></linearGradient><linearGradient id="g186"><stop offset="0.00" stop-color="#6b6b6b"/><stop offset="0.06" stop-color="#6b6b6b"/><stop offset="0.30" stop-color="#666666"/><stop offset="0.60" stop-color="#5c5c5c"/><stop offset="0.85" stop-color="#545454"/><stop offset="1.00" stop-color="#545454"/></linearGradient><linearGradient id="g187"><stop offset="0.00" stop-color="#707070"/><stop offset="0.06" stop-color="#707070"/><stop offset="0.30" stop-color="#6b6b6b"/><stop offset="0.60" stop-color="#606060"/><stop offset="0.85" stop-color="#585858"/><stop offset="1.00" stop-color="#585858"/></linearGradient><linearGradient id="g188"><stop offset="0.00" stop-color="#6b6b6b"/><stop offset="0.06" stop-color="#6b6b6b"/><stop offset="0.30" stop-color="#656565"/><stop offset="0.60" stop-color="#5a5a5a"/><stop offset="0.85" stop-color="#525252"/><stop offset="1.00" stop-color="#525252"/></linearGradient><linearGradient id="g189"><stop offset="0.00" stop-color="#6e6e6e"/><stop offset="0.06" stop-color="#6e6e6e"/><stop offset="0.30" stop-color="#686868"/><stop offset="0.60" stop-color="#5c5c5c"/><stop offset="0.85" stop-color="#535353"/><stop offset="1.00" stop-color="#535353"/></linearGradient><linearGradient id="g190"><stop offset="0.00" stop-color="#2e2e2e"/><stop offset="0.06" stop-color="#2e2e2e"/><stop offset="0.30" stop-color="#2a2a2a"/><stop offset="0.60" stop-color="#252525"/><stop offset="0.85" stop-color="#232323"/><stop offset="1.00" stop-color="#272727"/></linearGradient><linearGradient id="g191"><stop offset="0.00" stop-color="#2e2e2e"/><stop offset="0.06" stop-color="#2e2e2e"/><stop offset="0.30" stop-color="#292929"/><stop offset="0.60" stop-color="#242424"/><stop offset="0.85" stop-color="#212121"/><stop offset="1.00" stop-color="#262626"/></linearGradient><linearGradient id="g192"><stop offset="0.00" stop-color="#333333"/><stop offset="0.06" stop-color="#333333"/><stop offset="0.30" stop-color="#2d2d2d"/><stop offset="0.60" stop-color="#272727"/><stop offset="0.85" stop-color="#242424"/><stop offset="1.00" stop-color="#2a2a2a"/></linearGradient><clipPath id="c28"><rect x="404.80" y="160.50" width="26.20" height="38.00"/></clipPath><linearGradient id="g193"><stop offset="0.00" stop-color="#4f4f4f"/><stop offset="0.06" stop-color="#5a5a5a"/><stop offset="0.30" stop-color="#6a6a6a"/><stop offset="0.60" stop-color="#838383"/><stop offset="0.85" stop-color="#a3a3a3"/><stop offset="1.00" stop-color="#bcbcbc"/></linearGradient><linearGradient id="g194"><stop offset="0.00" stop-color="#575757"/><stop offset="0.06" stop-color="#626262"/><stop offset="0.30" stop-color="#747474"/><stop offset="0.60" stop-color="#8f8f8f"/><stop offset="0.85" stop-color="#b2b2b2"/><stop offset="1.00" stop-color="#cdcdcd"/></linearGradient><linearGradient id="g195"><stop offset="0.00" stop-color="#4f4f4f"/><stop offset="0.06" stop-color="#5b5b5b"/><stop offset="0.30" stop-color="#6e6e6e"/><stop offset="0.60" stop-color="#8b8b8b"/><stop offset="0.85" stop-color="#b1b1b1"/><stop offset="1.00" stop-color="#cecece"/></linearGradient><linearGradient id="g196"><stop offset="0.00" stop-color="#545454"/><stop offset="0.06" stop-color="#616161"/><stop offset="0.30" stop-color="#747474"/><stop offset="0.60" stop-color="#929292"/><stop offset="0.85" stop-color="#b8b8b8"/><stop offset="1.00" stop-color="#d6d6d6"/></linearGradient><linearGradient id="g197"><stop offset="0.00" stop-color="#595959"/><stop offset="0.06" stop-color="#676767"/><stop offset="0.30" stop-color="#7a7a7a"/><stop offset="0.60" stop-color="#999999"/><stop offset="0.85" stop-color="#c1c1c1"/><stop offset="1.00" stop-color="#e0e0e0"/></linearGradient><linearGradient id="g198"><stop offset="0.00" stop-color="#545454"/><stop offset="0.06" stop-color="#626262"/><stop offset="0.30" stop-color="#777777"/><stop offset="0.60" stop-color="#979797"/><stop offset="0.85" stop-color="#c1c1c1"/><stop offset="1.00" stop-color="#e2e2e2"/></linearGradient><linearGradient id="g199"><stop offset="0.00" stop-color="#575757"/><stop offset="0.06" stop-color="#666666"/><stop offset="0.30" stop-color="#7c7c7c"/><stop offset="0.60" stop-color="#9e9e9e"/><stop offset="0.85" stop-color="#cbcbcb"/><stop offset="1.00" stop-color="#ededed"/></linearGradient><clipPath id="c29"><rect x="379.00" y="198.50" width="25.80" height="29.00"/></clipPath><linearGradient id="g200"><stop offset="0.00" stop-color="#808080"/><stop offset="0.06" stop-color="#777777"/><stop offset="0.30" stop-color="#626262"/><stop offset="0.60" stop-color="#474747"/><stop offset="0.85" stop-color="#323232"/><stop offset="1.00" stop-color="#282828"/></linearGradient><linearGradient id="g201"><stop offset="0.00" stop-color="#878787"/><stop offset="0.06" stop-color="#7e7e7e"/><stop offset="0.30" stop-color="#676767"/><stop offset="0.60" stop-color="#494949"/><stop offset="0.85" stop-color="#323232"/><stop offset="1.00" stop-color="#272727"/></linearGradient><linearGradient id="g202"><stop offset="0.00" stop-color="#808080"/><stop offset="0.06" stop-color="#767676"/><stop offset="0.30" stop-color="#5d5d5d"/><stop offset="0.60" stop-color="#3d3d3d"/><stop offset="0.85" stop-color="#242424"/><stop offset="1.00" stop-color="#181818"/></linearGradient><linearGradient id="g203"><stop offset="0.00" stop-color="#858585"/><stop offset="0.06" stop-color="#7a7a7a"/><stop offset="0.30" stop-color="#616161"/><stop offset="0.60" stop-color="#404040"/><stop offset="0.85" stop-color="#262626"/><stop offset="1.00" stop-color="#191919"/></linearGradient><linearGradient id="g204"><stop offset="0.00" stop-color="#8a8a8a"/><stop offset="0.06" stop-color="#7f7f7f"/><stop offset="0.30" stop-color="#656565"/><stop offset="0.60" stop-color="#424242"/><stop offset="0.85" stop-color="#282828"/><stop offset="1.00" stop-color="#1a1a1a"/></linearGradient><linearGradient id="g205"><stop offset="0.00" stop-color="#858585"/><stop offset="0.06" stop-color="#797979"/><stop offset="0.30" stop-color="#5d5d5d"/><stop offset="0.60" stop-color="#393939"/><stop offset="0.85" stop-color="#1d1d1d"/><stop offset="1.00" stop-color="#0f0f0f"/></linearGradient><linearGradient id="g206"><stop offset="0.00" stop-color="#878787"/><stop offset="0.06" stop-color="#7b7b7b"/><stop offset="0.30" stop-color="#5d5d5d"/><stop offset="0.60" stop-color="#363636"/><stop offset="0.85" stop-color="#181818"/><stop offset="1.00" stop-color="#090909"/></linearGradient><clipPath id="c30"><rect x="404.80" y="198.50" width="26.20" height="29.00"/></clipPath><linearGradient id="g207"><stop offset="0.00" stop-color="#b2b2b2"/><stop offset="0.06" stop-color="#b9b9b9"/><stop offset="0.30" stop-color="#c0c0c0"/><stop offset="0.60" stop-color="#cdcdcd"/><stop offset="0.85" stop-color="#dbdbdb"/><stop offset="1.00" stop-color="#e7e7e7"/></linearGradient><linearGradient id="g208"><stop offset="0.00" stop-color="#bababa"/><stop offset="0.06" stop-color="#c1c1c1"/><stop offset="0.30" stop-color="#c9c9c9"/><stop offset="0.60" stop-color="#d7d7d7"/><stop offset="0.85" stop-color="#e5e5e5"/><stop offset="1.00" stop-color="#f3f3f3"/></linearGradient><linearGradient id="g209"><stop offset="0.00" stop-color="#b2b2b2"/><stop offset="0.06" stop-color="#bababa"/><stop offset="0.30" stop-color="#c3c3c3"/><stop offset="0.60" stop-color="#d1d1d1"/><stop offset="0.85" stop-color="#e0e0e0"/><stop offset="1.00" stop-color="#eeeeee"/></linearGradient><linearGradient id="g210"><stop offset="0.00" stop-color="#b8b8b8"/><stop offset="0.06" stop-color="#bfbfbf"/><stop offset="0.30" stop-color="#c8c8c8"/><stop offset="0.60" stop-color="#d7d7d7"/><stop offset="0.85" stop-color="#e6e6e6"/><stop offset="1.00" stop-color="#f5f5f5"/></linearGradient><linearGradient id="g211"><stop offset="0.00" stop-color="#bdbdbd"/><stop offset="0.06" stop-color="#c5c5c5"/><stop offset="0.30" stop-color="#cecece"/><stop offset="0.60" stop-color="#dddddd"/><stop offset="0.85" stop-color="#ededed"/><stop offset="1.00" stop-color="#fcfcfc"/></linearGradient><linearGradient id="g212"><stop offset="0.00" stop-color="#b8b8b8"/><stop offset="0.06" stop-color="#c0c0c0"/><stop offset="0.30" stop-color="#cacaca"/><stop offset="0.60" stop-color="#d9d9d9"/><stop offset="0.85" stop-color="#eaeaea"/><stop offset="1.00" stop-color="#f9f9f9"/></linearGradient><linearGradient id="g213"><stop offset="0.00" stop-color="#bababa"/><stop offset="0.06" stop-color="#c3c3c3"/><stop offset="0.30" stop-color="#cecece"/><stop offset="0.60" stop-color="#dedede"/><stop offset="0.85" stop-color="#efefef"/><stop offset="1.00" stop-color="#ffffff"/></linearGradient><clipPath id="hc5"><rect x="453.0" y="137.5" width="52.0" height="90.0"/></clipPath><clipPath id="c31"><rect x="453.00" y="137.50" width="25.90" height="33.00"/></clipPath><linearGradient id="g214"><stop offset="0.00" stop-color="#0f0f0f"/><stop offset="0.06" stop-color="#181818"/><stop offset="0.30" stop-color="#3f3f3f"/><stop offset="0.60" stop-color="#626262"/><stop offset="0.85" stop-color="#878787"/><stop offset="1.00" stop-color="#b5b5b5"/></linearGradient><linearGradient id="g215"><stop offset="0.00" stop-color="#171717"/><stop offset="0.06" stop-color="#202020"/><stop offset="0.30" stop-color="#4b4b4b"/><stop offset="0.60" stop-color="#717171"/><stop offset="0.85" stop-color="#999999"/><stop offset="1.00" stop-color="#cbcbcb"/></linearGradient><linearGradient id="g216"><stop offset="0.00" stop-color="#0f0f0f"/><stop offset="0.06" stop-color="#191919"/><stop offset="0.30" stop-color="#474747"/><stop offset="0.60" stop-color="#707070"/><stop offset="0.85" stop-color="#9b9b9b"/><stop offset="1.00" stop-color="#d1d1d1"/></linearGradient><linearGradient id="g217"><stop offset="0.00" stop-color="#141414"/><stop offset="0.06" stop-color="#1f1f1f"/><stop offset="0.30" stop-color="#4e4e4e"/><stop offset="0.60" stop-color="#787878"/><stop offset="0.85" stop-color="#a4a4a4"/><stop offset="1.00" stop-color="#dbdbdb"/></linearGradient><linearGradient id="g218"><stop offset="0.00" stop-color="#1a1a1a"/><stop offset="0.06" stop-color="#242424"/><stop offset="0.30" stop-color="#555555"/><stop offset="0.60" stop-color="#818181"/><stop offset="0.85" stop-color="#aeaeae"/><stop offset="1.00" stop-color="#e8e8e8"/></linearGradient><linearGradient id="g219"><stop offset="0.00" stop-color="#141414"/><stop offset="0.06" stop-color="#202020"/><stop offset="0.30" stop-color="#535353"/><stop offset="0.60" stop-color="#828282"/><stop offset="0.85" stop-color="#b1b1b1"/><stop offset="1.00" stop-color="#eeeeee"/></linearGradient><linearGradient id="g220"><stop offset="0.00" stop-color="#171717"/><stop offset="0.06" stop-color="#232323"/><stop offset="0.30" stop-color="#5b5b5b"/><stop offset="0.60" stop-color="#8c8c8c"/><stop offset="0.85" stop-color="#bebebe"/><stop offset="1.00" stop-color="#ffffff"/></linearGradient><clipPath id="c32"><rect x="478.90" y="137.50" width="26.10" height="33.00"/></clipPath><linearGradient id="g221"><stop offset="0.00" stop-color="#080808"/><stop offset="0.06" stop-color="#121212"/><stop offset="0.30" stop-color="#3d3d3d"/><stop offset="0.60" stop-color="#616161"/><stop offset="0.85" stop-color="#8a8a8a"/><stop offset="1.00" stop-color="#bebebe"/></linearGradient><linearGradient id="g222"><stop offset="0.00" stop-color="#0f0f0f"/><stop offset="0.06" stop-color="#1b1b1b"/><stop offset="0.30" stop-color="#4a4a4a"/><stop offset="0.60" stop-color="#717171"/><stop offset="0.85" stop-color="#9d9d9d"/><stop offset="1.00" stop-color="#d6d6d6"/></linearGradient><linearGradient id="g223"><stop offset="0.00" stop-color="#080808"/><stop offset="0.06" stop-color="#141414"/><stop offset="0.30" stop-color="#474747"/><stop offset="0.60" stop-color="#707070"/><stop offset="0.85" stop-color="#a0a0a0"/><stop offset="1.00" stop-color="#dddddd"/></linearGradient><linearGradient id="g224"><stop offset="0.00" stop-color="#0d0d0d"/><stop offset="0.06" stop-color="#1a1a1a"/><stop offset="0.30" stop-color="#4e4e4e"/><stop offset="0.60" stop-color="#787878"/><stop offset="0.85" stop-color="#a9a9a9"/><stop offset="1.00" stop-color="#e8e8e8"/></linearGradient><linearGradient id="g225"><stop offset="0.00" stop-color="#121212"/><stop offset="0.06" stop-color="#1f1f1f"/><stop offset="0.30" stop-color="#565656"/><stop offset="0.60" stop-color="#818181"/><stop offset="0.85" stop-color="#b4b4b4"/><stop offset="1.00" stop-color="#f5f5f5"/></linearGradient><linearGradient id="g226"><stop offset="0.00" stop-color="#0d0d0d"/><stop offset="0.06" stop-color="#1b1b1b"/><stop offset="0.30" stop-color="#545454"/><stop offset="0.60" stop-color="#828282"/><stop offset="0.85" stop-color="#b8b8b8"/><stop offset="1.00" stop-color="#fcfcfc"/></linearGradient><linearGradient id="g227"><stop offset="0.00" stop-color="#0f0f0f"/><stop offset="0.06" stop-color="#1e1e1e"/><stop offset="0.30" stop-color="#5c5c5c"/><stop offset="0.60" stop-color="#8d8d8d"/><stop offset="0.85" stop-color="#c6c6c6"/><stop offset="1.00" stop-color="#ffffff"/></linearGradient><clipPath id="c33"><rect x="453.00" y="170.50" width="25.90" height="26.00"/></clipPath><linearGradient id="g228"><stop offset="0.00" stop-color="#6e6e6e"/><stop offset="0.06" stop-color="#787878"/><stop offset="0.30" stop-color="#848484"/><stop offset="0.60" stop-color="#888888"/><stop offset="0.85" stop-color="#9c9c9c"/><stop offset="1.00" stop-color="#b1b1b1"/></linearGradient><linearGradient id="g229"><stop offset="0.00" stop-color="#757575"/><stop offset="0.06" stop-color="#818181"/><stop offset="0.30" stop-color="#8e8e8e"/><stop offset="0.60" stop-color="#929292"/><stop offset="0.85" stop-color="#a7a7a7"/><stop offset="1.00" stop-color="#bebebe"/></linearGradient><linearGradient id="g230"><stop offset="0.00" stop-color="#6e6e6e"/><stop offset="0.06" stop-color="#7a7a7a"/><stop offset="0.30" stop-color="#888888"/><stop offset="0.60" stop-color="#8c8c8c"/><stop offset="0.85" stop-color="#a3a3a3"/><stop offset="1.00" stop-color="#bbbbbb"/></linearGradient><linearGradient id="g231"><stop offset="0.00" stop-color="#737373"/><stop offset="0.06" stop-color="#808080"/><stop offset="0.30" stop-color="#8e8e8e"/><stop offset="0.60" stop-color="#929292"/><stop offset="0.85" stop-color="#a9a9a9"/><stop offset="1.00" stop-color="#c2c2c2"/></linearGradient><linearGradient id="g232"><stop offset="0.00" stop-color="#787878"/><stop offset="0.06" stop-color="#858585"/><stop offset="0.30" stop-color="#949494"/><stop offset="0.60" stop-color="#989898"/><stop offset="0.85" stop-color="#b0b0b0"/><stop offset="1.00" stop-color="#c9c9c9"/></linearGradient><linearGradient id="g233"><stop offset="0.00" stop-color="#737373"/><stop offset="0.06" stop-color="#818181"/><stop offset="0.30" stop-color="#909090"/><stop offset="0.60" stop-color="#949494"/><stop offset="0.85" stop-color="#adadad"/><stop offset="1.00" stop-color="#c8c8c8"/></linearGradient><linearGradient id="g234"><stop offset="0.00" stop-color="#757575"/><stop offset="0.06" stop-color="#848484"/><stop offset="0.30" stop-color="#959595"/><stop offset="0.60" stop-color="#999999"/><stop offset="0.85" stop-color="#b4b4b4"/><stop offset="1.00" stop-color="#d0d0d0"/></linearGradient><clipPath id="c34"><rect x="478.90" y="170.50" width="26.10" height="26.00"/></clipPath><linearGradient id="g235"><stop offset="0.00" stop-color="#545454"/><stop offset="0.06" stop-color="#696969"/><stop offset="0.30" stop-color="#757575"/><stop offset="0.60" stop-color="#838383"/><stop offset="0.85" stop-color="#9e9e9e"/><stop offset="1.00" stop-color="#c2c2c2"/></linearGradient><linearGradient id="g236"><stop offset="0.00" stop-color="#5c5c5c"/><stop offset="0.06" stop-color="#737373"/><stop offset="0.30" stop-color="#808080"/><stop offset="0.60" stop-color="#8f8f8f"/><stop offset="0.85" stop-color="#acacac"/><stop offset="1.00" stop-color="#d2d2d2"/></linearGradient><linearGradient id="g237"><stop offset="0.00" stop-color="#545454"/><stop offset="0.06" stop-color="#6d6d6d"/><stop offset="0.30" stop-color="#7b7b7b"/><stop offset="0.60" stop-color="#8b8b8b"/><stop offset="0.85" stop-color="#a9a9a9"/><stop offset="1.00" stop-color="#d3d3d3"/></linearGradient><linearGradient id="g238"><stop offset="0.00" stop-color="#595959"/><stop offset="0.06" stop-color="#737373"/><stop offset="0.30" stop-color="#818181"/><stop offset="0.60" stop-color="#929292"/><stop offset="0.85" stop-color="#b1b1b1"/><stop offset="1.00" stop-color="#dbdbdb"/></linearGradient><linearGradient id="g239"><stop offset="0.00" stop-color="#5e5e5e"/><stop offset="0.06" stop-color="#797979"/><stop offset="0.30" stop-color="#888888"/><stop offset="0.60" stop-color="#999999"/><stop offset="0.85" stop-color="#b9b9b9"/><stop offset="1.00" stop-color="#e5e5e5"/></linearGradient><linearGradient id="g240"><stop offset="0.00" stop-color="#595959"/><stop offset="0.06" stop-color="#757575"/><stop offset="0.30" stop-color="#858585"/><stop offset="0.60" stop-color="#979797"/><stop offset="0.85" stop-color="#b8b8b8"/><stop offset="1.00" stop-color="#e7e7e7"/></linearGradient><linearGradient id="g241"><stop offset="0.00" stop-color="#5c5c5c"/><stop offset="0.06" stop-color="#7a7a7a"/><stop offset="0.30" stop-color="#8a8a8a"/><stop offset="0.60" stop-color="#9d9d9d"/><stop offset="0.85" stop-color="#c1c1c1"/><stop offset="1.00" stop-color="#f3f3f3"/></linearGradient><clipPath id="c35"><rect x="453.00" y="196.50" width="25.90" height="31.00"/></clipPath><linearGradient id="g242"><stop offset="0.00" stop-color="#3b3b3b"/><stop offset="0.06" stop-color="#303030"/><stop offset="0.30" stop-color="#272727"/><stop offset="0.60" stop-color="#363636"/><stop offset="0.85" stop-color="#505050"/><stop offset="1.00" stop-color="#696969"/></linearGradient><linearGradient id="g243"><stop offset="0.00" stop-color="#424242"/><stop offset="0.06" stop-color="#373737"/><stop offset="0.30" stop-color="#2d2d2d"/><stop offset="0.60" stop-color="#3c3c3c"/><stop offset="0.85" stop-color="#595959"/><stop offset="1.00" stop-color="#747474"/></linearGradient><linearGradient id="g244"><stop offset="0.00" stop-color="#3b3b3b"/><stop offset="0.06" stop-color="#2e2e2e"/><stop offset="0.30" stop-color="#232323"/><stop offset="0.60" stop-color="#343434"/><stop offset="0.85" stop-color="#525252"/><stop offset="1.00" stop-color="#6f6f6f"/></linearGradient><linearGradient id="g245"><stop offset="0.00" stop-color="#404040"/><stop offset="0.06" stop-color="#333333"/><stop offset="0.30" stop-color="#282828"/><stop offset="0.60" stop-color="#393939"/><stop offset="0.85" stop-color="#585858"/><stop offset="1.00" stop-color="#757575"/></linearGradient><linearGradient id="g246"><stop offset="0.00" stop-color="#454545"/><stop offset="0.06" stop-color="#383838"/><stop offset="0.30" stop-color="#2c2c2c"/><stop offset="0.60" stop-color="#3d3d3d"/><stop offset="0.85" stop-color="#5d5d5d"/><stop offset="1.00" stop-color="#7c7c7c"/></linearGradient><linearGradient id="g247"><stop offset="0.00" stop-color="#404040"/><stop offset="0.06" stop-color="#323232"/><stop offset="0.30" stop-color="#252525"/><stop offset="0.60" stop-color="#373737"/><stop offset="0.85" stop-color="#595959"/><stop offset="1.00" stop-color="#797979"/></linearGradient><linearGradient id="g248"><stop offset="0.00" stop-color="#424242"/><stop offset="0.06" stop-color="#333333"/><stop offset="0.30" stop-color="#262626"/><stop offset="0.60" stop-color="#393939"/><stop offset="0.85" stop-color="#5c5c5c"/><stop offset="1.00" stop-color="#7f7f7f"/></linearGradient><clipPath id="c36"><rect x="478.90" y="196.50" width="26.10" height="31.00"/></clipPath><linearGradient id="g249"><stop offset="0.00" stop-color="#3b3b3b"/><stop offset="0.06" stop-color="#505050"/><stop offset="0.30" stop-color="#666666"/><stop offset="0.60" stop-color="#7f7f7f"/><stop offset="0.85" stop-color="#999999"/><stop offset="1.00" stop-color="#bdbdbd"/></linearGradient><linearGradient id="g250"><stop offset="0.00" stop-color="#424242"/><stop offset="0.06" stop-color="#595959"/><stop offset="0.30" stop-color="#727272"/><stop offset="0.60" stop-color="#8d8d8d"/><stop offset="0.85" stop-color="#a9a9a9"/><stop offset="1.00" stop-color="#d0d0d0"/></linearGradient><linearGradient id="g251"><stop offset="0.00" stop-color="#3b3b3b"/><stop offset="0.06" stop-color="#535353"/><stop offset="0.30" stop-color="#6d6d6d"/><stop offset="0.60" stop-color="#8a8a8a"/><stop offset="0.85" stop-color="#a9a9a9"/><stop offset="1.00" stop-color="#d2d2d2"/></linearGradient><linearGradient id="g252"><stop offset="0.00" stop-color="#404040"/><stop offset="0.06" stop-color="#595959"/><stop offset="0.30" stop-color="#747474"/><stop offset="0.60" stop-color="#929292"/><stop offset="0.85" stop-color="#b1b1b1"/><stop offset="1.00" stop-color="#dbdbdb"/></linearGradient><linearGradient id="g253"><stop offset="0.00" stop-color="#454545"/><stop offset="0.06" stop-color="#5f5f5f"/><stop offset="0.30" stop-color="#7b7b7b"/><stop offset="0.60" stop-color="#9a9a9a"/><stop offset="0.85" stop-color="#bababa"/><stop offset="1.00" stop-color="#e6e6e6"/></linearGradient><linearGradient id="g254"><stop offset="0.00" stop-color="#404040"/><stop offset="0.06" stop-color="#5c5c5c"/><stop offset="0.30" stop-color="#797979"/><stop offset="0.60" stop-color="#999999"/><stop offset="0.85" stop-color="#bbbbbb"/><stop offset="1.00" stop-color="#e9e9e9"/></linearGradient><linearGradient id="g255"><stop offset="0.00" stop-color="#424242"/><stop offset="0.06" stop-color="#606060"/><stop offset="0.30" stop-color="#808080"/><stop offset="0.60" stop-color="#a2a2a2"/><stop offset="0.85" stop-color="#c6c6c6"/><stop offset="1.00" stop-color="#f7f7f7"/></linearGradient><linearGradient id="cbar" x1="0" y1="0" x2="0" y2="1"><stop offset="0.0" stop-color="#fde725"/><stop offset="0.1" stop-color="#bddf26"/><stop offset="0.2" stop-color="#7ad151"/><stop offset="0.3" stop-color="#44bf70"/><stop offset="0.4" stop-color="#22a884"/><stop offset="0.5" stop-color="#21918c"/><stop offset="0.6" stop-color="#2a788e"/><stop offset="0.7" stop-color="#355f8d"/><stop offset="0.8" stop-color="#414487"/><stop offset="0.9" stop-color="#482475"/><stop offset="1.0" stop-color="#440154"/></linearGradient><clipPath id="pc00"><rect x="80.9" y="240.6" width="61.0" height="44.900000000000006"/></clipPath><clipPath id="pc01"><rect x="153.6" y="240.6" width="61.0" height="44.900000000000006"/></clipPath><clipPath id="pc02"><rect x="227.6" y="240.6" width="61.0" height="44.900000000000006"/></clipPath><clipPath id="pc03"><rect x="300.7" y="240.6" width="61.0" height="44.900000000000006"/></clipPath><clipPath id="pc04"><rect x="373.5" y="240.6" width="61.0" height="44.900000000000006"/></clipPath><clipPath id="pc05"><rect x="446.5" y="240.6" width="61.0" height="44.900000000000006"/></clipPath><clipPath id="pc10"><rect x="80.9" y="292.3" width="61.0" height="45.19999999999999"/></clipPath><clipPath id="pc11"><rect x="153.6" y="292.3" width="61.0" height="45.19999999999999"/></clipPath><clipPath id="pc12"><rect x="227.6" y="292.3" width="61.0" height="45.19999999999999"/></clipPath><clipPath id="pc13"><rect x="300.7" y="292.3" width="61.0" height="45.19999999999999"/></clipPath><clipPath id="pc14"><rect x="373.5" y="292.3" width="61.0" height="45.19999999999999"/></clipPath><clipPath id="pc15"><rect x="446.5" y="292.3" width="61.0" height="45.19999999999999"/></clipPath><clipPath id="pc20"><rect x="80.9" y="345.2" width="61.0" height="45.10000000000002"/></clipPath><clipPath id="pc21"><rect x="153.6" y="345.2" width="61.0" height="45.10000000000002"/></clipPath><clipPath id="pc22"><rect x="227.6" y="345.2" width="61.0" height="45.10000000000002"/></clipPath><clipPath id="pc23"><rect x="300.7" y="345.2" width="61.0" height="45.10000000000002"/></clipPath><clipPath id="pc24"><rect x="373.5" y="345.2" width="61.0" height="45.10000000000002"/></clipPath><clipPath id="pc25"><rect x="446.5" y="345.2" width="61.0" height="45.10000000000002"/></clipPath></defs><rect x="0.5" y="0.5" width="519" height="475" fill="#fff" stroke="#000" stroke-width="1"/><text x="8.00" y="16.40" font-size="11.5" fill="#000" text-anchor="start" font-weight="bold" >A</text><text x="34.20" y="45.40" font-size="10.4" fill="#000" stroke="#000" stroke-width="0.12" text-anchor="middle" font-weight="normal" >Human</text><text x="34.20" y="57.90" font-size="10.4" fill="#000" stroke="#000" stroke-width="0.12" text-anchor="middle" font-weight="normal" >cord blood</text><line x1="66.3" y1="48.6" x2="89.8" y2="48.6" stroke="#000" stroke-width="2.3"/><polygon points="88.8,43.6 97.3,48.6 88.8,53.6" fill="#000"/><text x="129.80" y="21.10" font-size="10.4" fill="#000" stroke="#000" stroke-width="0.12" text-anchor="middle" font-weight="normal" >CD49fHSC sort</text><rect x="106.6" y="24.6" width="47.6" height="47" fill="#fff" stroke="#000" stroke-width="1.5"/><line x1="120.5" y1="24.6" x2="120.5" y2="71.6" stroke="#444" stroke-width="1"/><line x1="106.6" y1="58.5" x2="154.2" y2="58.5" stroke="#444" stroke-width="1"/><rect x="108.2" y="26" width="18.6" height="19.2" fill="none" stroke="#000" stroke-width="0.8" stroke-dasharray="0.8,0.8"/><circle cx="112.14" cy="29.83" r="1.5" fill="#000"/><circle cx="117.92" cy="29.83" r="1.5" fill="#000"/><circle cx="123.47" cy="31.56" r="1.5" fill="#000"/><circle cx="112.14" cy="35.03" r="1.5" fill="#000"/><circle cx="115.84" cy="35.38" r="1.5" fill="#000"/><circle cx="118.73" cy="34.45" r="1.5" fill="#000"/><circle cx="123.35" cy="36.76" r="1.5" fill="#000"/><circle cx="116.18" cy="39.88" r="1.5" fill="#000"/><circle cx="117.69" cy="42.54" r="1.5" fill="#000"/><circle cx="115.61" cy="48.09" r="1.5" fill="#000"/><circle cx="112.14" cy="52.95" r="1.5" fill="#000"/><circle cx="117.34" cy="54.68" r="1.5" fill="#000"/><circle cx="112.72" cy="57.23" r="1.5" fill="#000"/><circle cx="117.34" cy="59.88" r="1.5" fill="#000"/><circle cx="112.14" cy="65.66" r="1.5" fill="#000"/><circle cx="132.95" cy="54.10" r="1.5" fill="#000"/><circle cx="136.99" cy="56.42" r="1.5" fill="#000"/><circle cx="140.23" cy="54.34" r="1.5" fill="#000"/><circle cx="146.24" cy="53.18" r="1.5" fill="#000"/><circle cx="133.53" cy="58.73" r="1.5" fill="#000"/><circle cx="138.15" cy="61.04" r="1.5" fill="#000"/><circle cx="141.04" cy="58.96" r="1.5" fill="#000"/><circle cx="145.66" cy="56.42" r="1.5" fill="#000"/><circle cx="149.71" cy="57.57" r="1.5" fill="#000"/><circle cx="145.66" cy="61.39" r="1.5" fill="#000"/><circle cx="149.71" cy="62.77" r="1.5" fill="#000"/><circle cx="132.95" cy="66.82" r="1.5" fill="#000"/><circle cx="140.23" cy="67.17" r="1.5" fill="#000"/><circle cx="145.09" cy="65.09" r="1.5" fill="#000"/><line x1="163.9" y1="48.2" x2="194.8" y2="48.2" stroke="#000" stroke-width="2.3"/><polygon points="193.8,43.2 202.3,48.2 193.8,53.2" fill="#000"/><text x="235.50" y="21.10" font-size="10.4" fill="#000" stroke="#000" stroke-width="0.12" text-anchor="middle" font-weight="normal" >Time-lapse imaging</text><rect x="212.2" y="28.2" width="46.4" height="39.3" rx="1.8" fill="#000"/><rect x="214.30" y="30.9" width="3.4" height="5.2" fill="#fff"/><rect x="214.30" y="60.4" width="3.4" height="5.2" fill="#fff"/><rect x="219.65" y="30.9" width="3.4" height="5.2" fill="#fff"/><rect x="219.65" y="60.4" width="3.4" height="5.2" fill="#fff"/><rect x="225.00" y="30.9" width="3.4" height="5.2" fill="#fff"/><rect x="225.00" y="60.4" width="3.4" height="5.2" fill="#fff"/><rect x="230.35" y="30.9" width="3.4" height="5.2" fill="#fff"/><rect x="230.35" y="60.4" width="3.4" height="5.2" fill="#fff"/><rect x="235.70" y="30.9" width="3.4" height="5.2" fill="#fff"/><rect x="235.70" y="60.4" width="3.4" height="5.2" fill="#fff"/><rect x="241.05" y="30.9" width="3.4" height="5.2" fill="#fff"/><rect x="241.05" y="60.4" width="3.4" height="5.2" fill="#fff"/><rect x="246.40" y="30.9" width="3.4" height="5.2" fill="#fff"/><rect x="246.40" y="60.4" width="3.4" height="5.2" fill="#fff"/><rect x="251.75" y="30.9" width="3.4" height="5.2" fill="#fff"/><rect x="251.75" y="60.4" width="3.4" height="5.2" fill="#fff"/><polygon points="230.1,39.3 244.4,47.8 230.1,56.3" fill="#fff"/><line x1="273.5" y1="48.2" x2="302.8" y2="48.2" stroke="#000" stroke-width="2.3"/><polygon points="301.8,43.2 310.3,48.2 301.8,53.2" fill="#000"/><text x="346.00" y="21.10" font-size="10.4" fill="#000" stroke="#000" stroke-width="0.12" text-anchor="middle" font-weight="normal" >Cell kinship</text><line x1="345.9" y1="30.1" x2="345.9" y2="40.9" stroke="#000" stroke-width="1.15"/><line x1="329.8" y1="40.9" x2="361.8" y2="40.9" stroke="#000" stroke-width="1.15"/><line x1="329.8" y1="40.9" x2="329.8" y2="53.6" stroke="#000" stroke-width="1.15"/><line x1="361.8" y1="40.9" x2="361.8" y2="53.6" stroke="#000" stroke-width="1.15"/><line x1="321.8" y1="53.6" x2="337.9" y2="53.6" stroke="#000" stroke-width="1.15"/><line x1="353.7" y1="53.6" x2="369.9" y2="53.6" stroke="#000" stroke-width="1.15"/><line x1="321.8" y1="53.6" x2="321.8" y2="66.4" stroke="#000" stroke-width="1.15"/><line x1="317.8" y1="66.4" x2="325.9" y2="66.4" stroke="#000" stroke-width="1.15"/><line x1="337.9" y1="53.6" x2="337.9" y2="66.4" stroke="#000" stroke-width="1.15"/><line x1="334" y1="66.4" x2="342" y2="66.4" stroke="#000" stroke-width="1.15"/><line x1="353.7" y1="53.6" x2="353.7" y2="66.4" stroke="#000" stroke-width="1.15"/><line x1="350" y1="66.4" x2="358" y2="66.4" stroke="#000" stroke-width="1.15"/><line x1="369.9" y1="53.6" x2="369.9" y2="66.4" stroke="#000" stroke-width="1.15"/><line x1="365.9" y1="66.4" x2="373.9" y2="66.4" stroke="#000" stroke-width="1.15"/><circle cx="345.9" cy="30.1" r="1.75" fill="#fff" stroke="#000" stroke-width="1.0"/><circle cx="329.8" cy="40.9" r="1.75" fill="#fff" stroke="#000" stroke-width="1.0"/><circle cx="361.8" cy="40.9" r="1.75" fill="#fff" stroke="#000" stroke-width="1.0"/><circle cx="321.8" cy="53.6" r="1.75" fill="#fff" stroke="#000" stroke-width="1.0"/><circle cx="337.9" cy="53.6" r="1.75" fill="#fff" stroke="#000" stroke-width="1.0"/><circle cx="353.7" cy="53.6" r="1.75" fill="#fff" stroke="#000" stroke-width="1.0"/><circle cx="369.9" cy="53.6" r="1.75" fill="#fff" stroke="#000" stroke-width="1.0"/><circle cx="317.8" cy="66.4" r="1.75" fill="#fff" stroke="#000" stroke-width="1.0"/><circle cx="325.9" cy="66.4" r="1.75" fill="#fff" stroke="#000" stroke-width="1.0"/><circle cx="334" cy="66.4" r="1.75" fill="#fff" stroke="#000" stroke-width="1.0"/><circle cx="342" cy="66.4" r="1.75" fill="#fff" stroke="#000" stroke-width="1.0"/><circle cx="350" cy="66.4" r="1.75" fill="#fff" stroke="#000" stroke-width="1.0"/><circle cx="358" cy="66.4" r="1.75" fill="#fff" stroke="#000" stroke-width="1.0"/><circle cx="365.9" cy="66.4" r="1.75" fill="#fff" stroke="#000" stroke-width="1.0"/><circle cx="373.9" cy="66.4" r="1.75" fill="#fff" stroke="#000" stroke-width="1.0"/><line x1="382.2" y1="48.3" x2="394.4" y2="48.3" stroke="#000" stroke-width="2"/><line x1="388.3" y1="42.2" x2="388.3" y2="54.4" stroke="#000" stroke-width="2"/><text x="450.00" y="21.10" font-size="10.4" fill="#000" stroke="#000" stroke-width="0.12" text-anchor="middle" font-weight="normal" >Paired daughter analysis</text><text x="456.00" y="46.00" font-size="10.4" fill="#000" stroke="#000" stroke-width="0.12" text-anchor="middle" font-weight="normal" >CD33, CD201, CD71,</text><text x="456.00" y="58.00" font-size="10.4" fill="#000" stroke="#000" stroke-width="0.12" text-anchor="middle" font-weight="normal" >TMRM, CD49c, CD34</text><line x1="14.4" y1="81.3" x2="179.8" y2="81.3" stroke="#888" stroke-width="1"/><line x1="341.3" y1="81.3" x2="506.1" y2="81.3" stroke="#888" stroke-width="1"/><text x="183.90" y="84.90" font-size="10.4" fill="#000" stroke="#000" stroke-width="0.12" text-anchor="start" font-weight="normal" >Paired daughter cell fate analysis</text><text x="8.00" y="102.40" font-size="11.5" fill="#000" text-anchor="start" font-weight="bold" >B</text><text x="77.20" y="116.50" font-size="10.4" fill="#000" stroke="#000" stroke-width="0.12" text-anchor="end" font-weight="normal" >CD49fHSC:</text><text x="75.30" y="135.70" font-size="10.4" fill="#000" stroke="#000" stroke-width="0.12" text-anchor="end" font-weight="normal" >Daughters:</text><g clip-path="url(#hc0)"><g filter="url(#vf)"><g clip-path="url(#c1)"><rect x="90.00" y="137.50" width="25.80" height="44.00" fill="url(#g3)"/><rect x="90.0" y="137" width="25.8" height="1" fill="url(#g3)"/><rect x="90.0" y="138" width="25.8" height="1" fill="url(#g2)"/><rect x="90.0" y="139" width="25.8" height="1" fill="url(#g4)"/><rect x="90.0" y="140" width="25.8" height="1" fill="url(#g6)"/><rect x="90.0" y="141" width="25.8" height="1" fill="url(#g1)"/><rect x="90.0" y="142" width="25.8" height="1" fill="url(#g1)"/><rect x="90.0" y="143" width="25.8" height="1" fill="url(#g7)"/><rect x="90.0" y="144" width="25.8" height="1" fill="url(#g5)"/><rect x="90.0" y="145" width="25.8" height="1" fill="url(#g1)"/><rect x="90.0" y="146" width="25.8" height="1" fill="url(#g3)"/><rect x="90.0" y="147" width="25.8" height="1" fill="url(#g5)"/><rect x="90.0" y="148" width="25.8" height="1" fill="url(#g1)"/><rect x="90.0" y="149" width="25.8" height="1" fill="url(#g5)"/><rect x="90.0" y="150" width="25.8" height="1" fill="url(#g2)"/><rect x="90.0" y="151" width="25.8" height="1" fill="url(#g1)"/><rect x="90.0" y="152" width="25.8" height="1" fill="url(#g1)"/><rect x="90.0" y="153" width="25.8" height="1" fill="url(#g4)"/><rect x="90.0" y="154" width="25.8" height="1" fill="url(#g4)"/><rect x="90.0" y="155" width="25.8" height="1" fill="url(#g1)"/><rect x="90.0" y="156" width="25.8" height="1" fill="url(#g2)"/><rect x="90.0" y="157" width="25.8" height="1" fill="url(#g1)"/><rect x="90.0" y="158" width="25.8" height="1" fill="url(#g5)"/><rect x="90.0" y="159" width="25.8" height="1" fill="url(#g4)"/><rect x="90.0" y="160" width="25.8" height="1" fill="url(#g1)"/><rect x="90.0" y="161" width="25.8" height="1" fill="url(#g7)"/><rect x="90.0" y="162" width="25.8" height="1" fill="url(#g5)"/><rect x="90.0" y="163" width="25.8" height="1" fill="url(#g1)"/><rect x="90.0" y="164" width="25.8" height="1" fill="url(#g2)"/><rect x="90.0" y="165" width="25.8" height="1" fill="url(#g6)"/><rect x="90.0" y="166" width="25.8" height="1" fill="url(#g6)"/><rect x="90.0" y="167" width="25.8" height="1" fill="url(#g5)"/><rect x="90.0" y="168" width="25.8" height="1" fill="url(#g1)"/><rect x="90.0" y="169" width="25.8" height="1" fill="url(#g5)"/><rect x="90.0" y="170" width="25.8" height="1" fill="url(#g5)"/><rect x="90.0" y="171" width="25.8" height="1" fill="url(#g4)"/><rect x="90.0" y="172" width="25.8" height="1" fill="url(#g1)"/><rect x="90.0" y="173" width="25.8" height="1" fill="url(#g2)"/><rect x="90.0" y="174" width="25.8" height="1" fill="url(#g1)"/><rect x="90.0" y="175" width="25.8" height="1" fill="url(#g5)"/><rect x="90.0" y="176" width="25.8" height="1" fill="url(#g7)"/><rect x="90.0" y="177" width="25.8" height="1" fill="url(#g2)"/><rect x="90.0" y="178" width="25.8" height="1" fill="url(#g3)"/><rect x="90.0" y="179" width="25.8" height="1" fill="url(#g4)"/><rect x="90.0" y="180" width="25.8" height="1" fill="url(#g2)"/><rect x="90.0" y="181" width="25.8" height="1" fill="url(#g5)"/><rect x="98" y="156" width="4" height="1" fill="#7c7c7c"/><rect x="99" y="174" width="2" height="1" fill="#878787"/><rect x="103" y="172" width="3" height="1" fill="#b2b2b2"/><rect x="96" y="150" width="3" height="1" fill="#707070"/><rect x="104" y="157" width="3" height="1" fill="#a9a9a9"/><rect x="103" y="152" width="4" height="1" fill="#b7b7b7"/></g><g clip-path="url(#c2)"><rect x="115.80" y="137.50" width="25.20" height="44.00" fill="url(#g10)"/><rect x="115.8" y="137" width="25.2" height="1" fill="url(#g14)"/><rect x="115.8" y="138" width="25.2" height="1" fill="url(#g9)"/><rect x="115.8" y="139" width="25.2" height="1" fill="url(#g8)"/><rect x="115.8" y="140" width="25.2" height="1" fill="url(#g12)"/><rect x="115.8" y="141" width="25.2" height="1" fill="url(#g10)"/><rect x="115.8" y="142" width="25.2" height="1" fill="url(#g12)"/><rect x="115.8" y="143" width="25.2" height="1" fill="url(#g11)"/><rect x="115.8" y="144" width="25.2" height="1" fill="url(#g10)"/><rect x="115.8" y="145" width="25.2" height="1" fill="url(#g13)"/><rect x="115.8" y="146" width="25.2" height="1" fill="url(#g11)"/><rect x="115.8" y="147" width="25.2" height="1" fill="url(#g10)"/><rect x="115.8" y="148" width="25.2" height="1" fill="url(#g12)"/><rect x="115.8" y="149" width="25.2" height="1" fill="url(#g8)"/><rect x="115.8" y="150" width="25.2" height="1" fill="url(#g8)"/><rect x="115.8" y="151" width="25.2" height="1" fill="url(#g12)"/><rect x="115.8" y="152" width="25.2" height="1" fill="url(#g11)"/><rect x="115.8" y="153" width="25.2" height="1" fill="url(#g9)"/><rect x="115.8" y="154" width="25.2" height="1" fill="url(#g14)"/><rect x="115.8" y="155" width="25.2" height="1" fill="url(#g10)"/><rect x="115.8" y="156" width="25.2" height="1" fill="url(#g9)"/><rect x="115.8" y="157" width="25.2" height="1" fill="url(#g11)"/><rect x="115.8" y="158" width="25.2" height="1" fill="url(#g11)"/><rect x="115.8" y="159" width="25.2" height="1" fill="url(#g8)"/><rect x="115.8" y="160" width="25.2" height="1" fill="url(#g13)"/><rect x="115.8" y="161" width="25.2" height="1" fill="url(#g8)"/><rect x="115.8" y="162" width="25.2" height="1" fill="url(#g14)"/><rect x="115.8" y="163" width="25.2" height="1" fill="url(#g12)"/><rect x="115.8" y="164" width="25.2" height="1" fill="url(#g12)"/><rect x="115.8" y="165" width="25.2" height="1" fill="url(#g14)"/><rect x="115.8" y="166" width="25.2" height="1" fill="url(#g14)"/><rect x="115.8" y="167" width="25.2" height="1" fill="url(#g10)"/><rect x="115.8" y="168" width="25.2" height="1" fill="url(#g10)"/><rect x="115.8" y="169" width="25.2" height="1" fill="url(#g13)"/><rect x="115.8" y="170" width="25.2" height="1" fill="url(#g10)"/><rect x="115.8" y="171" width="25.2" height="1" fill="url(#g12)"/><rect x="115.8" y="172" width="25.2" height="1" fill="url(#g11)"/><rect x="115.8" y="173" width="25.2" height="1" fill="url(#g12)"/><rect x="115.8" y="174" width="25.2" height="1" fill="url(#g14)"/><rect x="115.8" y="175" width="25.2" height="1" fill="url(#g11)"/><rect x="115.8" y="176" width="25.2" height="1" fill="url(#g8)"/><rect x="115.8" y="177" width="25.2" height="1" fill="url(#g14)"/><rect x="115.8" y="178" width="25.2" height="1" fill="url(#g8)"/><rect x="115.8" y="179" width="25.2" height="1" fill="url(#g10)"/><rect x="115.8" y="180" width="25.2" height="1" fill="url(#g11)"/><rect x="115.8" y="181" width="25.2" height="1" fill="url(#g13)"/><rect x="134" y="140" width="2" height="1" fill="#f2f2f2"/><rect x="134" y="180" width="2" height="1" fill="#f6f6f6"/><rect x="135" y="179" width="3" height="1" fill="#e0e0e0"/><rect x="128" y="176" width="1" height="1" fill="#898989"/><rect x="125" y="155" width="2" height="1" fill="#737373"/><rect x="129" y="168" width="3" height="1" fill="#8e8e8e"/></g><g clip-path="url(#c3)"><rect x="90.00" y="181.50" width="25.80" height="14.00" fill="url(#g17)"/><rect x="90.0" y="181" width="25.8" height="1" fill="url(#g18)"/><rect x="90.0" y="182" width="25.8" height="1" fill="url(#g19)"/><rect x="90.0" y="183" width="25.8" height="1" fill="url(#g17)"/><rect x="90.0" y="184" width="25.8" height="1" fill="url(#g16)"/><rect x="90.0" y="185" width="25.8" height="1" fill="url(#g21)"/><rect x="90.0" y="186" width="25.8" height="1" fill="url(#g18)"/><rect x="90.0" y="187" width="25.8" height="1" fill="url(#g21)"/><rect x="90.0" y="188" width="25.8" height="1" fill="url(#g19)"/><rect x="90.0" y="189" width="25.8" height="1" fill="url(#g17)"/><rect x="90.0" y="190" width="25.8" height="1" fill="url(#g20)"/><rect x="90.0" y="191" width="25.8" height="1" fill="url(#g18)"/><rect x="90.0" y="192" width="25.8" height="1" fill="url(#g17)"/><rect x="90.0" y="193" width="25.8" height="1" fill="url(#g20)"/><rect x="90.0" y="194" width="25.8" height="1" fill="url(#g18)"/><rect x="90.0" y="195" width="25.8" height="1" fill="url(#g16)"/><rect x="98" y="183" width="4" height="1" fill="#999999"/><rect x="100" y="188" width="2" height="1" fill="#d0d0d0"/></g><g clip-path="url(#c4)"><rect x="115.80" y="181.50" width="25.20" height="14.00" fill="url(#g24)"/><rect x="115.8" y="181" width="25.2" height="1" fill="url(#g24)"/><rect x="115.8" y="182" width="25.2" height="1" fill="url(#g24)"/><rect x="115.8" y="183" width="25.2" height="1" fill="url(#g22)"/><rect x="115.8" y="184" width="25.2" height="1" fill="url(#g23)"/><rect x="115.8" y="185" width="25.2" height="1" fill="url(#g25)"/><rect x="115.8" y="186" width="25.2" height="1" fill="url(#g26)"/><rect x="115.8" y="187" width="25.2" height="1" fill="url(#g24)"/><rect x="115.8" y="188" width="25.2" height="1" fill="url(#g26)"/><rect x="115.8" y="189" width="25.2" height="1" fill="url(#g26)"/><rect x="115.8" y="190" width="25.2" height="1" fill="url(#g24)"/><rect x="115.8" y="191" width="25.2" height="1" fill="url(#g23)"/><rect x="115.8" y="192" width="25.2" height="1" fill="url(#g27)"/><rect x="115.8" y="193" width="25.2" height="1" fill="url(#g28)"/><rect x="115.8" y="194" width="25.2" height="1" fill="url(#g26)"/><rect x="115.8" y="195" width="25.2" height="1" fill="url(#g26)"/><rect x="134" y="192" width="5" height="1" fill="#d6d6d6"/><rect x="137" y="194" width="3" height="1" fill="#ffffff"/></g><g clip-path="url(#c5)"><rect x="90.00" y="195.50" width="25.80" height="32.00" fill="url(#g31)"/><rect x="90.0" y="195" width="25.8" height="1" fill="url(#g32)"/><rect x="90.0" y="196" width="25.8" height="1" fill="url(#g32)"/><rect x="90.0" y="197" width="25.8" height="1" fill="url(#g32)"/><rect x="90.0" y="198" width="25.8" height="1" fill="url(#g32)"/><rect x="90.0" y="199" width="25.8" height="1" fill="url(#g29)"/><rect x="90.0" y="200" width="25.8" height="1" fill="url(#g32)"/><rect x="90.0" y="201" width="25.8" height="1" fill="url(#g34)"/><rect x="90.0" y="202" width="25.8" height="1" fill="url(#g32)"/><rect x="90.0" y="203" width="25.8" height="1" fill="url(#g29)"/><rect x="90.0" y="204" width="25.8" height="1" fill="url(#g30)"/><rect x="90.0" y="205" width="25.8" height="1" fill="url(#g29)"/><rect x="90.0" y="206" width="25.8" height="1" fill="url(#g30)"/><rect x="90.0" y="207" width="25.8" height="1" fill="url(#g32)"/><rect x="90.0" y="208" width="25.8" height="1" fill="url(#g30)"/><rect x="90.0" y="209" width="25.8" height="1" fill="url(#g29)"/><rect x="90.0" y="210" width="25.8" height="1" fill="url(#g31)"/><rect x="90.0" y="211" width="25.8" height="1" fill="url(#g33)"/><rect x="90.0" y="212" width="25.8" height="1" fill="url(#g29)"/><rect x="90.0" y="213" width="25.8" height="1" fill="url(#g29)"/><rect x="90.0" y="214" width="25.8" height="1" fill="url(#g29)"/><rect x="90.0" y="215" width="25.8" height="1" fill="url(#g33)"/><rect x="90.0" y="216" width="25.8" height="1" fill="url(#g30)"/><rect x="90.0" y="217" width="25.8" height="1" fill="url(#g33)"/><rect x="90.0" y="218" width="25.8" height="1" fill="url(#g29)"/><rect x="90.0" y="219" width="25.8" height="1" fill="url(#g31)"/><rect x="90.0" y="220" width="25.8" height="1" fill="url(#g33)"/><rect x="90.0" y="221" width="25.8" height="1" fill="url(#g29)"/><rect x="90.0" y="222" width="25.8" height="1" fill="url(#g29)"/><rect x="90.0" y="223" width="25.8" height="1" fill="url(#g35)"/><rect x="90.0" y="224" width="25.8" height="1" fill="url(#g30)"/><rect x="90.0" y="225" width="25.8" height="1" fill="url(#g33)"/><rect x="90.0" y="226" width="25.8" height="1" fill="url(#g32)"/><rect x="90.0" y="227" width="25.8" height="1" fill="url(#g30)"/><rect x="108" y="217" width="3" height="1" fill="#a1a1a1"/><rect x="98" y="226" width="3" height="1" fill="#939393"/><rect x="105" y="214" width="1" height="1" fill="#6b6b6b"/><rect x="111" y="211" width="4" height="1" fill="#a3a3a3"/></g><g clip-path="url(#c6)"><rect x="115.80" y="195.50" width="25.20" height="32.00" fill="url(#g38)"/><rect x="115.8" y="195" width="25.2" height="1" fill="url(#g37)"/><rect x="115.8" y="196" width="25.2" height="1" fill="url(#g40)"/><rect x="115.8" y="197" width="25.2" height="1" fill="url(#g36)"/><rect x="115.8" y="198" width="25.2" height="1" fill="url(#g37)"/><rect x="115.8" y="199" width="25.2" height="1" fill="url(#g40)"/><rect x="115.8" y="200" width="25.2" height="1" fill="url(#g38)"/><rect x="115.8" y="201" width="25.2" height="1" fill="url(#g37)"/><rect x="115.8" y="202" width="25.2" height="1" fill="url(#g41)"/><rect x="115.8" y="203" width="25.2" height="1" fill="url(#g40)"/><rect x="115.8" y="204" width="25.2" height="1" fill="url(#g36)"/><rect x="115.8" y="205" width="25.2" height="1" fill="url(#g42)"/><rect x="115.8" y="206" width="25.2" height="1" fill="url(#g40)"/><rect x="115.8" y="207" width="25.2" height="1" fill="url(#g38)"/><rect x="115.8" y="208" width="25.2" height="1" fill="url(#g41)"/><rect x="115.8" y="209" width="25.2" height="1" fill="url(#g42)"/><rect x="115.8" y="210" width="25.2" height="1" fill="url(#g36)"/><rect x="115.8" y="211" width="25.2" height="1" fill="url(#g41)"/><rect x="115.8" y="212" width="25.2" height="1" fill="url(#g42)"/><rect x="115.8" y="213" width="25.2" height="1" fill="url(#g38)"/><rect x="115.8" y="214" width="25.2" height="1" fill="url(#g40)"/><rect x="115.8" y="215" width="25.2" height="1" fill="url(#g38)"/><rect x="115.8" y="216" width="25.2" height="1" fill="url(#g37)"/><rect x="115.8" y="217" width="25.2" height="1" fill="url(#g38)"/><rect x="115.8" y="218" width="25.2" height="1" fill="url(#g42)"/><rect x="115.8" y="219" width="25.2" height="1" fill="url(#g37)"/><rect x="115.8" y="220" width="25.2" height="1" fill="url(#g40)"/><rect x="115.8" y="221" width="25.2" height="1" fill="url(#g40)"/><rect x="115.8" y="222" width="25.2" height="1" fill="url(#g42)"/><rect x="115.8" y="223" width="25.2" height="1" fill="url(#g40)"/><rect x="115.8" y="224" width="25.2" height="1" fill="url(#g38)"/><rect x="115.8" y="225" width="25.2" height="1" fill="url(#g41)"/><rect x="115.8" y="226" width="25.2" height="1" fill="url(#g37)"/><rect x="115.8" y="227" width="25.2" height="1" fill="url(#g40)"/><rect x="137" y="207" width="5" height="1" fill="#fdfdfd"/><rect x="129" y="209" width="3" height="1" fill="#8e8e8e"/><rect x="128" y="196" width="5" height="1" fill="#c4c4c4"/><rect x="126" y="211" width="3" height="1" fill="#7d7d7d"/></g></g></g><line x1="89.5" y1="181.5" x2="141.5" y2="181.5" stroke="#3a2a20" stroke-opacity="0.7" stroke-width="1"/><line x1="89.5" y1="194.5" x2="141.5" y2="194.5" stroke="#4a3a32" stroke-width="1"/><line x1="89.5" y1="195.5" x2="141.5" y2="195.5" stroke="#c8c8dc" stroke-width="1"/><line x1="115.5" y1="137.5" x2="115.5" y2="227.5" stroke="#30084a" stroke-width="1"/><rect x="81.5" y="137.5" width="8.0" height="44.0" fill="#fff"/><rect x="81.5" y="181.5" width="8.0" height="14.0" fill="#808080"/><rect x="81.5" y="195.5" width="8.0" height="32.0" fill="#000"/><line x1="89.5" y1="137.5" x2="89.5" y2="227.5" stroke="#000" stroke-width="1"/><rect x="81.5" y="137.5" width="60.0" height="90.0" fill="none" stroke="#000" stroke-width="1"/><text x="85.50" y="163.20" font-size="10.4" fill="#000" stroke="#000" stroke-width="0.12" text-anchor="middle" font-weight="normal" >3</text><text x="85.50" y="192.20" font-size="10.4" fill="#fff" stroke="#fff" stroke-width="0.12" text-anchor="middle" font-weight="normal" >2</text><text x="85.50" y="215.20" font-size="10.4" fill="#fff" stroke="#fff" stroke-width="0.12" text-anchor="middle" font-weight="normal" >1</text><text x="115.50" y="103.80" font-size="10.4" fill="#000" stroke="#000" stroke-width="0.12" text-anchor="middle" font-weight="normal" >CD33</text><ellipse cx="115.5" cy="111.2" rx="3.6" ry="4" fill="#000"/><path d="M115.5,113 V119.6 M103.1,125.2 V119.6 H127.1 V125.2" fill="none" stroke="#000" stroke-width="1.1"/><text x="99.90" y="135.20" font-size="10.4" fill="#1010ff" stroke="#1010ff" stroke-width="0.12" text-anchor="middle" font-weight="normal" >#1</text><text x="124.80" y="135.20" font-size="10.4" fill="#2ecc2e" stroke="#2ecc2e" stroke-width="0.12" text-anchor="middle" font-weight="normal" >#2</text><line x1="88.5" y1="233.8" x2="108.5" y2="233.8" stroke="#000" stroke-width="2.1"/><polygon points="107.5,229.5 114.5,233.8 107.5,238.10000000000002" fill="#000"/><line x1="117.0" y1="233.8" x2="136.9" y2="233.8" stroke="#000" stroke-width="2.1"/><polygon points="135.9,229.5 142.9,233.8 135.9,238.10000000000002" fill="#000"/><g clip-path="url(#hc1)"><g filter="url(#vf)"><g clip-path="url(#c7)"><rect x="163.00" y="137.50" width="25.70" height="27.00" fill="url(#g45)"/><rect x="163.0" y="137" width="25.7" height="1" fill="url(#g45)"/><rect x="163.0" y="138" width="25.7" height="1" fill="url(#g46)"/><rect x="163.0" y="139" width="25.7" height="1" fill="url(#g49)"/><rect x="163.0" y="140" width="25.7" height="1" fill="url(#g48)"/><rect x="163.0" y="141" width="25.7" height="1" fill="url(#g45)"/><rect x="163.0" y="142" width="25.7" height="1" fill="url(#g45)"/><rect x="163.0" y="143" width="25.7" height="1" fill="url(#g43)"/><rect x="163.0" y="144" width="25.7" height="1" fill="url(#g44)"/><rect x="163.0" y="145" width="25.7" height="1" fill="url(#g43)"/><rect x="163.0" y="146" width="25.7" height="1" fill="url(#g44)"/><rect x="163.0" y="147" width="25.7" height="1" fill="url(#g46)"/><rect x="163.0" y="148" width="25.7" height="1" fill="url(#g44)"/><rect x="163.0" y="149" width="25.7" height="1" fill="url(#g45)"/><rect x="163.0" y="150" width="25.7" height="1" fill="url(#g44)"/><rect x="163.0" y="151" width="25.7" height="1" fill="url(#g46)"/><rect x="163.0" y="152" width="25.7" height="1" fill="url(#g47)"/><rect x="163.0" y="153" width="25.7" height="1" fill="url(#g47)"/><rect x="163.0" y="154" width="25.7" height="1" fill="url(#g49)"/><rect x="163.0" y="155" width="25.7" height="1" fill="url(#g43)"/><rect x="163.0" y="156" width="25.7" height="1" fill="url(#g46)"/><rect x="163.0" y="157" width="25.7" height="1" fill="url(#g48)"/><rect x="163.0" y="158" width="25.7" height="1" fill="url(#g45)"/><rect x="163.0" y="159" width="25.7" height="1" fill="url(#g49)"/><rect x="163.0" y="160" width="25.7" height="1" fill="url(#g48)"/><rect x="163.0" y="161" width="25.7" height="1" fill="url(#g43)"/><rect x="163.0" y="162" width="25.7" height="1" fill="url(#g49)"/><rect x="163.0" y="163" width="25.7" height="1" fill="url(#g48)"/><rect x="163.0" y="164" width="25.7" height="1" fill="url(#g43)"/><rect x="187" y="162" width="2" height="1" fill="#f6f6f6"/><rect x="178" y="142" width="4" height="1" fill="#c5c5c5"/><rect x="175" y="162" width="4" height="1" fill="#dddddd"/><rect x="176" y="149" width="1" height="1" fill="#d4d4d4"/></g><g clip-path="url(#c8)"><rect x="188.70" y="137.50" width="26.30" height="27.00" fill="url(#g52)"/><rect x="188.7" y="137" width="26.3" height="1" fill="url(#g55)"/><rect x="188.7" y="138" width="26.3" height="1" fill="url(#g51)"/><rect x="188.7" y="139" width="26.3" height="1" fill="url(#g51)"/><rect x="188.7" y="140" width="26.3" height="1" fill="url(#g51)"/><rect x="188.7" y="141" width="26.3" height="1" fill="url(#g50)"/><rect x="188.7" y="142" width="26.3" height="1" fill="url(#g51)"/><rect x="188.7" y="143" width="26.3" height="1" fill="url(#g54)"/><rect x="188.7" y="144" width="26.3" height="1" fill="url(#g53)"/><rect x="188.7" y="145" width="26.3" height="1" fill="url(#g56)"/><rect x="188.7" y="146" width="26.3" height="1" fill="url(#g55)"/><rect x="188.7" y="147" width="26.3" height="1" fill="url(#g51)"/><rect x="188.7" y="148" width="26.3" height="1" fill="url(#g54)"/><rect x="188.7" y="149" width="26.3" height="1" fill="url(#g56)"/><rect x="188.7" y="150" width="26.3" height="1" fill="url(#g54)"/><rect x="188.7" y="151" width="26.3" height="1" fill="url(#g53)"/><rect x="188.7" y="152" width="26.3" height="1" fill="url(#g55)"/><rect x="188.7" y="153" width="26.3" height="1" fill="url(#g52)"/><rect x="188.7" y="154" width="26.3" height="1" fill="url(#g51)"/><rect x="188.7" y="155" width="26.3" height="1" fill="url(#g54)"/><rect x="188.7" y="156" width="26.3" height="1" fill="url(#g54)"/><rect x="188.7" y="157" width="26.3" height="1" fill="url(#g51)"/><rect x="188.7" y="158" width="26.3" height="1" fill="url(#g50)"/><rect x="188.7" y="159" width="26.3" height="1" fill="url(#g50)"/><rect x="188.7" y="160" width="26.3" height="1" fill="url(#g56)"/><rect x="188.7" y="161" width="26.3" height="1" fill="url(#g55)"/><rect x="188.7" y="162" width="26.3" height="1" fill="url(#g55)"/><rect x="188.7" y="163" width="26.3" height="1" fill="url(#g50)"/><rect x="188.7" y="164" width="26.3" height="1" fill="url(#g54)"/><rect x="210" y="141" width="5" height="1" fill="#fcfcfc"/><rect x="198" y="143" width="2" height="1" fill="#818181"/><rect x="200" y="144" width="2" height="1" fill="#cacaca"/><rect x="199" y="150" width="1" height="1" fill="#c9c9c9"/></g><g clip-path="url(#c9)"><rect x="163.00" y="164.50" width="25.70" height="32.00" fill="url(#g59)"/><rect x="163.0" y="164" width="25.7" height="1" fill="url(#g62)"/><rect x="163.0" y="165" width="25.7" height="1" fill="url(#g59)"/><rect x="163.0" y="166" width="25.7" height="1" fill="url(#g60)"/><rect x="163.0" y="167" width="25.7" height="1" fill="url(#g62)"/><rect x="163.0" y="168" width="25.7" height="1" fill="url(#g61)"/><rect x="163.0" y="169" width="25.7" height="1" fill="url(#g63)"/><rect x="163.0" y="170" width="25.7" height="1" fill="url(#g61)"/><rect x="163.0" y="171" width="25.7" height="1" fill="url(#g60)"/><rect x="163.0" y="172" width="25.7" height="1" fill="url(#g63)"/><rect x="163.0" y="173" width="25.7" height="1" fill="url(#g61)"/><rect x="163.0" y="174" width="25.7" height="1" fill="url(#g58)"/><rect x="163.0" y="175" width="25.7" height="1" fill="url(#g61)"/><rect x="163.0" y="176" width="25.7" height="1" fill="url(#g58)"/><rect x="163.0" y="177" width="25.7" height="1" fill="url(#g61)"/><rect x="163.0" y="178" width="25.7" height="1" fill="url(#g61)"/><rect x="163.0" y="179" width="25.7" height="1" fill="url(#g57)"/><rect x="163.0" y="180" width="25.7" height="1" fill="url(#g63)"/><rect x="163.0" y="181" width="25.7" height="1" fill="url(#g60)"/><rect x="163.0" y="182" width="25.7" height="1" fill="url(#g63)"/><rect x="163.0" y="183" width="25.7" height="1" fill="url(#g58)"/><rect x="163.0" y="184" width="25.7" height="1" fill="url(#g61)"/><rect x="163.0" y="185" width="25.7" height="1" fill="url(#g57)"/><rect x="163.0" y="186" width="25.7" height="1" fill="url(#g63)"/><rect x="163.0" y="187" width="25.7" height="1" fill="url(#g63)"/><rect x="163.0" y="188" width="25.7" height="1" fill="url(#g58)"/><rect x="163.0" y="189" width="25.7" height="1" fill="url(#g58)"/><rect x="163.0" y="190" width="25.7" height="1" fill="url(#g58)"/><rect x="163.0" y="191" width="25.7" height="1" fill="url(#g60)"/><rect x="163.0" y="192" width="25.7" height="1" fill="url(#g61)"/><rect x="163.0" y="193" width="25.7" height="1" fill="url(#g62)"/><rect x="163.0" y="194" width="25.7" height="1" fill="url(#g57)"/><rect x="163.0" y="195" width="25.7" height="1" fill="url(#g61)"/><rect x="163.0" y="196" width="25.7" height="1" fill="url(#g57)"/><rect x="175" y="194" width="1" height="1" fill="#999999"/><rect x="186" y="167" width="2" height="1" fill="#818181"/><rect x="169" y="170" width="3" height="1" fill="#747474"/><rect x="169" y="168" width="3" height="1" fill="#6e6e6e"/></g><g clip-path="url(#c10)"><rect x="188.70" y="164.50" width="26.30" height="32.00" fill="url(#g66)"/><rect x="188.7" y="164" width="26.3" height="1" fill="url(#g68)"/><rect x="188.7" y="165" width="26.3" height="1" fill="url(#g68)"/><rect x="188.7" y="166" width="26.3" height="1" fill="url(#g68)"/><rect x="188.7" y="167" width="26.3" height="1" fill="url(#g65)"/><rect x="188.7" y="168" width="26.3" height="1" fill="url(#g69)"/><rect x="188.7" y="169" width="26.3" height="1" fill="url(#g66)"/><rect x="188.7" y="170" width="26.3" height="1" fill="url(#g67)"/><rect x="188.7" y="171" width="26.3" height="1" fill="url(#g68)"/><rect x="188.7" y="172" width="26.3" height="1" fill="url(#g68)"/><rect x="188.7" y="173" width="26.3" height="1" fill="url(#g70)"/><rect x="188.7" y="174" width="26.3" height="1" fill="url(#g67)"/><rect x="188.7" y="175" width="26.3" height="1" fill="url(#g68)"/><rect x="188.7" y="176" width="26.3" height="1" fill="url(#g65)"/><rect x="188.7" y="177" width="26.3" height="1" fill="url(#g69)"/><rect x="188.7" y="178" width="26.3" height="1" fill="url(#g68)"/><rect x="188.7" y="179" width="26.3" height="1" fill="url(#g66)"/><rect x="188.7" y="180" width="26.3" height="1" fill="url(#g68)"/><rect x="188.7" y="181" width="26.3" height="1" fill="url(#g65)"/><rect x="188.7" y="182" width="26.3" height="1" fill="url(#g70)"/><rect x="188.7" y="183" width="26.3" height="1" fill="url(#g67)"/><rect x="188.7" y="184" width="26.3" height="1" fill="url(#g65)"/><rect x="188.7" y="185" width="26.3" height="1" fill="url(#g67)"/><rect x="188.7" y="186" width="26.3" height="1" fill="url(#g64)"/><rect x="188.7" y="187" width="26.3" height="1" fill="url(#g67)"/><rect x="188.7" y="188" width="26.3" height="1" fill="url(#g67)"/><rect x="188.7" y="189" width="26.3" height="1" fill="url(#g66)"/><rect x="188.7" y="190" width="26.3" height="1" fill="url(#g64)"/><rect x="188.7" y="191" width="26.3" height="1" fill="url(#g69)"/><rect x="188.7" y="192" width="26.3" height="1" fill="url(#g65)"/><rect x="188.7" y="193" width="26.3" height="1" fill="url(#g67)"/><rect x="188.7" y="194" width="26.3" height="1" fill="url(#g64)"/><rect x="188.7" y="195" width="26.3" height="1" fill="url(#g65)"/><rect x="188.7" y="196" width="26.3" height="1" fill="url(#g69)"/><rect x="200" y="171" width="2" height="1" fill="#c3c3c3"/><rect x="214" y="187" width="2" height="1" fill="#eaeaea"/><rect x="214" y="178" width="1" height="1" fill="#ffffff"/><rect x="202" y="195" width="4" height="1" fill="#989898"/></g><g clip-path="url(#c11)"><rect x="163.00" y="196.50" width="25.70" height="31.00" fill="url(#g73)"/><rect x="163.0" y="196" width="25.7" height="1" fill="url(#g77)"/><rect x="163.0" y="197" width="25.7" height="1" fill="url(#g72)"/><rect x="163.0" y="198" width="25.7" height="1" fill="url(#g72)"/><rect x="163.0" y="199" width="25.7" height="1" fill="url(#g76)"/><rect x="163.0" y="200" width="25.7" height="1" fill="url(#g74)"/><rect x="163.0" y="201" width="25.7" height="1" fill="url(#g75)"/><rect x="163.0" y="202" width="25.7" height="1" fill="url(#g74)"/><rect x="163.0" y="203" width="25.7" height="1" fill="url(#g73)"/><rect x="163.0" y="204" width="25.7" height="1" fill="url(#g74)"/><rect x="163.0" y="205" width="25.7" height="1" fill="url(#g72)"/><rect x="163.0" y="206" width="25.7" height="1" fill="url(#g73)"/><rect x="163.0" y="207" width="25.7" height="1" fill="url(#g73)"/><rect x="163.0" y="208" width="25.7" height="1" fill="url(#g71)"/><rect x="163.0" y="209" width="25.7" height="1" fill="url(#g76)"/><rect x="163.0" y="210" width="25.7" height="1" fill="url(#g73)"/><rect x="163.0" y="211" width="25.7" height="1" fill="url(#g71)"/><rect x="163.0" y="212" width="25.7" height="1" fill="url(#g73)"/><rect x="163.0" y="213" width="25.7" height="1" fill="url(#g75)"/><rect x="163.0" y="214" width="25.7" height="1" fill="url(#g74)"/><rect x="163.0" y="215" width="25.7" height="1" fill="url(#g74)"/><rect x="163.0" y="216" width="25.7" height="1" fill="url(#g76)"/><rect x="163.0" y="217" width="25.7" height="1" fill="url(#g71)"/><rect x="163.0" y="218" width="25.7" height="1" fill="url(#g74)"/><rect x="163.0" y="219" width="25.7" height="1" fill="url(#g73)"/><rect x="163.0" y="220" width="25.7" height="1" fill="url(#g75)"/><rect x="163.0" y="221" width="25.7" height="1" fill="url(#g75)"/><rect x="163.0" y="222" width="25.7" height="1" fill="url(#g73)"/><rect x="163.0" y="223" width="25.7" height="1" fill="url(#g75)"/><rect x="163.0" y="224" width="25.7" height="1" fill="url(#g71)"/><rect x="163.0" y="225" width="25.7" height="1" fill="url(#g71)"/><rect x="163.0" y="226" width="25.7" height="1" fill="url(#g77)"/><rect x="163.0" y="227" width="25.7" height="1" fill="url(#g72)"/><rect x="188" y="199" width="2" height="1" fill="#484848"/><rect x="169" y="220" width="5" height="1" fill="#8d8d8d"/><rect x="171" y="209" width="4" height="1" fill="#bbbbbb"/><rect x="185" y="204" width="3" height="1" fill="#6b6b6b"/></g><g clip-path="url(#c12)"><rect x="188.70" y="196.50" width="26.30" height="31.00" fill="url(#g80)"/><rect x="188.7" y="196" width="26.3" height="1" fill="url(#g82)"/><rect x="188.7" y="197" width="26.3" height="1" fill="url(#g82)"/><rect x="188.7" y="198" width="26.3" height="1" fill="url(#g81)"/><rect x="188.7" y="199" width="26.3" height="1" fill="url(#g83)"/><rect x="188.7" y="200" width="26.3" height="1" fill="url(#g80)"/><rect x="188.7" y="201" width="26.3" height="1" fill="url(#g78)"/><rect x="188.7" y="202" width="26.3" height="1" fill="url(#g80)"/><rect x="188.7" y="203" width="26.3" height="1" fill="url(#g78)"/><rect x="188.7" y="204" width="26.3" height="1" fill="url(#g84)"/><rect x="188.7" y="205" width="26.3" height="1" fill="url(#g83)"/><rect x="188.7" y="206" width="26.3" height="1" fill="url(#g79)"/><rect x="188.7" y="207" width="26.3" height="1" fill="url(#g81)"/><rect x="188.7" y="208" width="26.3" height="1" fill="url(#g78)"/><rect x="188.7" y="209" width="26.3" height="1" fill="url(#g80)"/><rect x="188.7" y="210" width="26.3" height="1" fill="url(#g78)"/><rect x="188.7" y="211" width="26.3" height="1" fill="url(#g83)"/><rect x="188.7" y="212" width="26.3" height="1" fill="url(#g78)"/><rect x="188.7" y="213" width="26.3" height="1" fill="url(#g84)"/><rect x="188.7" y="214" width="26.3" height="1" fill="url(#g80)"/><rect x="188.7" y="215" width="26.3" height="1" fill="url(#g78)"/><rect x="188.7" y="216" width="26.3" height="1" fill="url(#g82)"/><rect x="188.7" y="217" width="26.3" height="1" fill="url(#g84)"/><rect x="188.7" y="218" width="26.3" height="1" fill="url(#g79)"/><rect x="188.7" y="219" width="26.3" height="1" fill="url(#g78)"/><rect x="188.7" y="220" width="26.3" height="1" fill="url(#g80)"/><rect x="188.7" y="221" width="26.3" height="1" fill="url(#g84)"/><rect x="188.7" y="222" width="26.3" height="1" fill="url(#g78)"/><rect x="188.7" y="223" width="26.3" height="1" fill="url(#g81)"/><rect x="188.7" y="224" width="26.3" height="1" fill="url(#g78)"/><rect x="188.7" y="225" width="26.3" height="1" fill="url(#g80)"/><rect x="188.7" y="226" width="26.3" height="1" fill="url(#g82)"/><rect x="188.7" y="227" width="26.3" height="1" fill="url(#g81)"/><rect x="213" y="204" width="1" height="1" fill="#ffffff"/><rect x="205" y="203" width="2" height="1" fill="#ffffff"/><rect x="199" y="201" width="2" height="1" fill="#cbcbcb"/><rect x="207" y="212" width="2" height="1" fill="#ffffff"/></g></g></g><line x1="162.5" y1="164.5" x2="215.5" y2="164.5" stroke="#3a2a20" stroke-opacity="0.7" stroke-width="1"/><line x1="162.5" y1="195.5" x2="215.5" y2="195.5" stroke="#4a3a32" stroke-width="1"/><line x1="162.5" y1="196.5" x2="215.5" y2="196.5" stroke="#c8c8dc" stroke-width="1"/><line x1="188.5" y1="137.5" x2="188.5" y2="227.5" stroke="#30084a" stroke-width="1"/><rect x="154.5" y="137.5" width="8.0" height="27.0" fill="#fff"/><rect x="154.5" y="164.5" width="8.0" height="32.0" fill="#808080"/><rect x="154.5" y="196.5" width="8.0" height="31.0" fill="#000"/><line x1="162.5" y1="137.5" x2="162.5" y2="227.5" stroke="#000" stroke-width="1"/><rect x="154.5" y="137.5" width="61.0" height="90.0" fill="none" stroke="#000" stroke-width="1"/><text x="158.50" y="154.70" font-size="10.4" fill="#000" stroke="#000" stroke-width="0.12" text-anchor="middle" font-weight="normal" >3</text><text x="158.50" y="184.20" font-size="10.4" fill="#fff" stroke="#fff" stroke-width="0.12" text-anchor="middle" font-weight="normal" >2</text><text x="158.50" y="215.70" font-size="10.4" fill="#fff" stroke="#fff" stroke-width="0.12" text-anchor="middle" font-weight="normal" >1</text><text x="190.00" y="103.80" font-size="10.4" fill="#000" stroke="#000" stroke-width="0.12" text-anchor="middle" font-weight="normal" >CD201</text><ellipse cx="190.0" cy="111.2" rx="3.6" ry="4" fill="#000"/><path d="M190.0,113 V119.6 M177.6,125.2 V119.6 H201.6 V125.2" fill="none" stroke="#000" stroke-width="1.1"/><text x="174.40" y="135.20" font-size="10.4" fill="#1010ff" stroke="#1010ff" stroke-width="0.12" text-anchor="middle" font-weight="normal" >#1</text><text x="199.30" y="135.20" font-size="10.4" fill="#2ecc2e" stroke="#2ecc2e" stroke-width="0.12" text-anchor="middle" font-weight="normal" >#2</text><line x1="163.0" y1="233.8" x2="183.0" y2="233.8" stroke="#000" stroke-width="2.1"/><polygon points="182.0,229.5 189.0,233.8 182.0,238.10000000000002" fill="#000"/><line x1="191.5" y1="233.8" x2="211.4" y2="233.8" stroke="#000" stroke-width="2.1"/><polygon points="210.4,229.5 217.4,233.8 210.4,238.10000000000002" fill="#000"/><g clip-path="url(#hc2)"><g filter="url(#vf)"><g clip-path="url(#c13)"><rect x="234.00" y="137.50" width="26.50" height="26.00" fill="url(#g87)"/><rect x="234.0" y="137" width="26.5" height="1" fill="url(#g88)"/><rect x="234.0" y="138" width="26.5" height="1" fill="url(#g89)"/><rect x="234.0" y="139" width="26.5" height="1" fill="url(#g90)"/><rect x="234.0" y="140" width="26.5" height="1" fill="url(#g86)"/><rect x="234.0" y="141" width="26.5" height="1" fill="url(#g87)"/><rect x="234.0" y="142" width="26.5" height="1" fill="url(#g87)"/><rect x="234.0" y="143" width="26.5" height="1" fill="url(#g91)"/><rect x="234.0" y="144" width="26.5" height="1" fill="url(#g85)"/><rect x="234.0" y="145" width="26.5" height="1" fill="url(#g87)"/><rect x="234.0" y="146" width="26.5" height="1" fill="url(#g85)"/><rect x="234.0" y="147" width="26.5" height="1" fill="url(#g85)"/><rect x="234.0" y="148" width="26.5" height="1" fill="url(#g85)"/><rect x="234.0" y="149" width="26.5" height="1" fill="url(#g90)"/><rect x="234.0" y="150" width="26.5" height="1" fill="url(#g89)"/><rect x="234.0" y="151" width="26.5" height="1" fill="url(#g89)"/><rect x="234.0" y="152" width="26.5" height="1" fill="url(#g86)"/><rect x="234.0" y="153" width="26.5" height="1" fill="url(#g89)"/><rect x="234.0" y="154" width="26.5" height="1" fill="url(#g88)"/><rect x="234.0" y="155" width="26.5" height="1" fill="url(#g86)"/><rect x="234.0" y="156" width="26.5" height="1" fill="url(#g88)"/><rect x="234.0" y="157" width="26.5" height="1" fill="url(#g85)"/><rect x="234.0" y="158" width="26.5" height="1" fill="url(#g90)"/><rect x="234.0" y="159" width="26.5" height="1" fill="url(#g91)"/><rect x="234.0" y="160" width="26.5" height="1" fill="url(#g90)"/><rect x="234.0" y="161" width="26.5" height="1" fill="url(#g88)"/><rect x="234.0" y="162" width="26.5" height="1" fill="url(#g90)"/><rect x="234.0" y="163" width="26.5" height="1" fill="url(#g88)"/><rect x="251" y="149" width="2" height="1" fill="#f6f6f6"/><rect x="254" y="144" width="5" height="1" fill="#d7d7d7"/><rect x="258" y="160" width="3" height="1" fill="#ffffff"/></g><g clip-path="url(#c14)"><rect x="260.50" y="137.50" width="25.50" height="26.00" fill="url(#g94)"/><rect x="260.5" y="137" width="25.5" height="1" fill="url(#g94)"/><rect x="260.5" y="138" width="25.5" height="1" fill="url(#g92)"/><rect x="260.5" y="139" width="25.5" height="1" fill="url(#g98)"/><rect x="260.5" y="140" width="25.5" height="1" fill="url(#g93)"/><rect x="260.5" y="141" width="25.5" height="1" fill="url(#g92)"/><rect x="260.5" y="142" width="25.5" height="1" fill="url(#g92)"/><rect x="260.5" y="143" width="25.5" height="1" fill="url(#g97)"/><rect x="260.5" y="144" width="25.5" height="1" fill="url(#g97)"/><rect x="260.5" y="145" width="25.5" height="1" fill="url(#g94)"/><rect x="260.5" y="146" width="25.5" height="1" fill="url(#g95)"/><rect x="260.5" y="147" width="25.5" height="1" fill="url(#g93)"/><rect x="260.5" y="148" width="25.5" height="1" fill="url(#g92)"/><rect x="260.5" y="149" width="25.5" height="1" fill="url(#g92)"/><rect x="260.5" y="150" width="25.5" height="1" fill="url(#g97)"/><rect x="260.5" y="151" width="25.5" height="1" fill="url(#g98)"/><rect x="260.5" y="152" width="25.5" height="1" fill="url(#g95)"/><rect x="260.5" y="153" width="25.5" height="1" fill="url(#g98)"/><rect x="260.5" y="154" width="25.5" height="1" fill="url(#g96)"/><rect x="260.5" y="155" width="25.5" height="1" fill="url(#g97)"/><rect x="260.5" y="156" width="25.5" height="1" fill="url(#g94)"/><rect x="260.5" y="157" width="25.5" height="1" fill="url(#g96)"/><rect x="260.5" y="158" width="25.5" height="1" fill="url(#g93)"/><rect x="260.5" y="159" width="25.5" height="1" fill="url(#g97)"/><rect x="260.5" y="160" width="25.5" height="1" fill="url(#g94)"/><rect x="260.5" y="161" width="25.5" height="1" fill="url(#g92)"/><rect x="260.5" y="162" width="25.5" height="1" fill="url(#g95)"/><rect x="260.5" y="163" width="25.5" height="1" fill="url(#g93)"/><rect x="269" y="151" width="2" height="1" fill="#838383"/><rect x="285" y="154" width="1" height="1" fill="#ffffff"/><rect x="285" y="146" width="2" height="1" fill="#ffffff"/></g><g clip-path="url(#c15)"><rect x="234.00" y="163.50" width="26.50" height="41.00" fill="url(#g101)"/><rect x="234.0" y="163" width="26.5" height="1" fill="url(#g99)"/><rect x="234.0" y="164" width="26.5" height="1" fill="url(#g101)"/><rect x="234.0" y="165" width="26.5" height="1" fill="url(#g102)"/><rect x="234.0" y="166" width="26.5" height="1" fill="url(#g99)"/><rect x="234.0" y="167" width="26.5" height="1" fill="url(#g102)"/><rect x="234.0" y="168" width="26.5" height="1" fill="url(#g101)"/><rect x="234.0" y="169" width="26.5" height="1" fill="url(#g103)"/><rect x="234.0" y="170" width="26.5" height="1" fill="url(#g104)"/><rect x="234.0" y="171" width="26.5" height="1" fill="url(#g100)"/><rect x="234.0" y="172" width="26.5" height="1" fill="url(#g100)"/><rect x="234.0" y="173" width="26.5" height="1" fill="url(#g103)"/><rect x="234.0" y="174" width="26.5" height="1" fill="url(#g105)"/><rect x="234.0" y="175" width="26.5" height="1" fill="url(#g99)"/><rect x="234.0" y="176" width="26.5" height="1" fill="url(#g99)"/><rect x="234.0" y="177" width="26.5" height="1" fill="url(#g101)"/><rect x="234.0" y="178" width="26.5" height="1" fill="url(#g105)"/><rect x="234.0" y="179" width="26.5" height="1" fill="url(#g99)"/><rect x="234.0" y="180" width="26.5" height="1" fill="url(#g100)"/><rect x="234.0" y="181" width="26.5" height="1" fill="url(#g102)"/><rect x="234.0" y="182" width="26.5" height="1" fill="url(#g103)"/><rect x="234.0" y="183" width="26.5" height="1" fill="url(#g99)"/><rect x="234.0" y="184" width="26.5" height="1" fill="url(#g102)"/><rect x="234.0" y="185" width="26.5" height="1" fill="url(#g99)"/><rect x="234.0" y="186" width="26.5" height="1" fill="url(#g101)"/><rect x="234.0" y="187" width="26.5" height="1" fill="url(#g101)"/><rect x="234.0" y="188" width="26.5" height="1" fill="url(#g104)"/><rect x="234.0" y="189" width="26.5" height="1" fill="url(#g100)"/><rect x="234.0" y="190" width="26.5" height="1" fill="url(#g99)"/><rect x="234.0" y="191" width="26.5" height="1" fill="url(#g103)"/><rect x="234.0" y="192" width="26.5" height="1" fill="url(#g103)"/><rect x="234.0" y="193" width="26.5" height="1" fill="url(#g105)"/><rect x="234.0" y="194" width="26.5" height="1" fill="url(#g105)"/><rect x="234.0" y="195" width="26.5" height="1" fill="url(#g100)"/><rect x="234.0" y="196" width="26.5" height="1" fill="url(#g104)"/><rect x="234.0" y="197" width="26.5" height="1" fill="url(#g104)"/><rect x="234.0" y="198" width="26.5" height="1" fill="url(#g105)"/><rect x="234.0" y="199" width="26.5" height="1" fill="url(#g103)"/><rect x="234.0" y="200" width="26.5" height="1" fill="url(#g102)"/><rect x="234.0" y="201" width="26.5" height="1" fill="url(#g105)"/><rect x="234.0" y="202" width="26.5" height="1" fill="url(#g101)"/><rect x="234.0" y="203" width="26.5" height="1" fill="url(#g104)"/><rect x="234.0" y="204" width="26.5" height="1" fill="url(#g102)"/><rect x="242" y="202" width="1" height="1" fill="#9a9a9a"/><rect x="257" y="195" width="4" height="1" fill="#ececec"/><rect x="254" y="195" width="3" height="1" fill="#b3b3b3"/><rect x="255" y="199" width="5" height="1" fill="#efefef"/><rect x="240" y="200" width="4" height="1" fill="#919191"/><rect x="254" y="177" width="1" height="1" fill="#acacac"/></g><g clip-path="url(#c16)"><rect x="260.50" y="163.50" width="25.50" height="41.00" fill="url(#g108)"/><rect x="260.5" y="163" width="25.5" height="1" fill="url(#g107)"/><rect x="260.5" y="164" width="25.5" height="1" fill="url(#g111)"/><rect x="260.5" y="165" width="25.5" height="1" fill="url(#g108)"/><rect x="260.5" y="166" width="25.5" height="1" fill="url(#g106)"/><rect x="260.5" y="167" width="25.5" height="1" fill="url(#g109)"/><rect x="260.5" y="168" width="25.5" height="1" fill="url(#g112)"/><rect x="260.5" y="169" width="25.5" height="1" fill="url(#g109)"/><rect x="260.5" y="170" width="25.5" height="1" fill="url(#g110)"/><rect x="260.5" y="171" width="25.5" height="1" fill="url(#g106)"/><rect x="260.5" y="172" width="25.5" height="1" fill="url(#g111)"/><rect x="260.5" y="173" width="25.5" height="1" fill="url(#g106)"/><rect x="260.5" y="174" width="25.5" height="1" fill="url(#g111)"/><rect x="260.5" y="175" width="25.5" height="1" fill="url(#g110)"/><rect x="260.5" y="176" width="25.5" height="1" fill="url(#g111)"/><rect x="260.5" y="177" width="25.5" height="1" fill="url(#g107)"/><rect x="260.5" y="178" width="25.5" height="1" fill="url(#g109)"/><rect x="260.5" y="179" width="25.5" height="1" fill="url(#g108)"/><rect x="260.5" y="180" width="25.5" height="1" fill="url(#g106)"/><rect x="260.5" y="181" width="25.5" height="1" fill="url(#g109)"/><rect x="260.5" y="182" width="25.5" height="1" fill="url(#g112)"/><rect x="260.5" y="183" width="25.5" height="1" fill="url(#g106)"/><rect x="260.5" y="184" width="25.5" height="1" fill="url(#g111)"/><rect x="260.5" y="185" width="25.5" height="1" fill="url(#g110)"/><rect x="260.5" y="186" width="25.5" height="1" fill="url(#g110)"/><rect x="260.5" y="187" width="25.5" height="1" fill="url(#g106)"/><rect x="260.5" y="188" width="25.5" height="1" fill="url(#g111)"/><rect x="260.5" y="189" width="25.5" height="1" fill="url(#g110)"/><rect x="260.5" y="190" width="25.5" height="1" fill="url(#g106)"/><rect x="260.5" y="191" width="25.5" height="1" fill="url(#g111)"/><rect x="260.5" y="192" width="25.5" height="1" fill="url(#g111)"/><rect x="260.5" y="193" width="25.5" height="1" fill="url(#g109)"/><rect x="260.5" y="194" width="25.5" height="1" fill="url(#g108)"/><rect x="260.5" y="195" width="25.5" height="1" fill="url(#g112)"/><rect x="260.5" y="196" width="25.5" height="1" fill="url(#g106)"/><rect x="260.5" y="197" width="25.5" height="1" fill="url(#g112)"/><rect x="260.5" y="198" width="25.5" height="1" fill="url(#g108)"/><rect x="260.5" y="199" width="25.5" height="1" fill="url(#g107)"/><rect x="260.5" y="200" width="25.5" height="1" fill="url(#g111)"/><rect x="260.5" y="201" width="25.5" height="1" fill="url(#g112)"/><rect x="260.5" y="202" width="25.5" height="1" fill="url(#g107)"/><rect x="260.5" y="203" width="25.5" height="1" fill="url(#g107)"/><rect x="260.5" y="204" width="25.5" height="1" fill="url(#g111)"/><rect x="279" y="192" width="3" height="1" fill="#d3d3d3"/><rect x="267" y="181" width="3" height="1" fill="#989898"/><rect x="279" y="175" width="2" height="1" fill="#b1b1b1"/><rect x="272" y="182" width="2" height="1" fill="#b0b0b0"/><rect x="266" y="166" width="4" height="1" fill="#767676"/><rect x="268" y="176" width="2" height="1" fill="#959595"/></g><g clip-path="url(#c17)"><rect x="234.00" y="204.50" width="26.50" height="23.00" fill="url(#g115)"/><rect x="234.0" y="204" width="26.5" height="1" fill="url(#g118)"/><rect x="234.0" y="205" width="26.5" height="1" fill="url(#g117)"/><rect x="234.0" y="206" width="26.5" height="1" fill="url(#g115)"/><rect x="234.0" y="207" width="26.5" height="1" fill="url(#g116)"/><rect x="234.0" y="208" width="26.5" height="1" fill="url(#g116)"/><rect x="234.0" y="209" width="26.5" height="1" fill="url(#g116)"/><rect x="234.0" y="210" width="26.5" height="1" fill="url(#g119)"/><rect x="234.0" y="211" width="26.5" height="1" fill="url(#g113)"/><rect x="234.0" y="212" width="26.5" height="1" fill="url(#g117)"/><rect x="234.0" y="213" width="26.5" height="1" fill="url(#g114)"/><rect x="234.0" y="214" width="26.5" height="1" fill="url(#g115)"/><rect x="234.0" y="215" width="26.5" height="1" fill="url(#g113)"/><rect x="234.0" y="216" width="26.5" height="1" fill="url(#g116)"/><rect x="234.0" y="217" width="26.5" height="1" fill="url(#g113)"/><rect x="234.0" y="218" width="26.5" height="1" fill="url(#g115)"/><rect x="234.0" y="219" width="26.5" height="1" fill="url(#g116)"/><rect x="234.0" y="220" width="26.5" height="1" fill="url(#g113)"/><rect x="234.0" y="221" width="26.5" height="1" fill="url(#g119)"/><rect x="234.0" y="222" width="26.5" height="1" fill="url(#g117)"/><rect x="234.0" y="223" width="26.5" height="1" fill="url(#g116)"/><rect x="234.0" y="224" width="26.5" height="1" fill="url(#g115)"/><rect x="234.0" y="225" width="26.5" height="1" fill="url(#g116)"/><rect x="234.0" y="226" width="26.5" height="1" fill="url(#g114)"/><rect x="234.0" y="227" width="26.5" height="1" fill="url(#g114)"/><rect x="241" y="206" width="3" height="1" fill="#5e5e5e"/><rect x="245" y="215" width="5" height="1" fill="#717171"/><rect x="253" y="212" width="4" height="1" fill="#cecece"/></g><g clip-path="url(#c18)"><rect x="260.50" y="204.50" width="25.50" height="23.00" fill="url(#g122)"/><rect x="260.5" y="204" width="25.5" height="1" fill="url(#g122)"/><rect x="260.5" y="205" width="25.5" height="1" fill="url(#g121)"/><rect x="260.5" y="206" width="25.5" height="1" fill="url(#g123)"/><rect x="260.5" y="207" width="25.5" height="1" fill="url(#g123)"/><rect x="260.5" y="208" width="25.5" height="1" fill="url(#g123)"/><rect x="260.5" y="209" width="25.5" height="1" fill="url(#g120)"/><rect x="260.5" y="210" width="25.5" height="1" fill="url(#g121)"/><rect x="260.5" y="211" width="25.5" height="1" fill="url(#g120)"/><rect x="260.5" y="212" width="25.5" height="1" fill="url(#g123)"/><rect x="260.5" y="213" width="25.5" height="1" fill="url(#g125)"/><rect x="260.5" y="214" width="25.5" height="1" fill="url(#g123)"/><rect x="260.5" y="215" width="25.5" height="1" fill="url(#g123)"/><rect x="260.5" y="216" width="25.5" height="1" fill="url(#g122)"/><rect x="260.5" y="217" width="25.5" height="1" fill="url(#g125)"/><rect x="260.5" y="218" width="25.5" height="1" fill="url(#g121)"/><rect x="260.5" y="219" width="25.5" height="1" fill="url(#g123)"/><rect x="260.5" y="220" width="25.5" height="1" fill="url(#g122)"/><rect x="260.5" y="221" width="25.5" height="1" fill="url(#g123)"/><rect x="260.5" y="222" width="25.5" height="1" fill="url(#g122)"/><rect x="260.5" y="223" width="25.5" height="1" fill="url(#g120)"/><rect x="260.5" y="224" width="25.5" height="1" fill="url(#g126)"/><rect x="260.5" y="225" width="25.5" height="1" fill="url(#g122)"/><rect x="260.5" y="226" width="25.5" height="1" fill="url(#g120)"/><rect x="260.5" y="227" width="25.5" height="1" fill="url(#g122)"/><rect x="281" y="216" width="2" height="1" fill="#b7b7b7"/><rect x="280" y="213" width="1" height="1" fill="#bbbbbb"/><rect x="274" y="222" width="3" height="1" fill="#7e7e7e"/></g></g></g><line x1="233.5" y1="163.5" x2="286.5" y2="163.5" stroke="#3a2a20" stroke-opacity="0.7" stroke-width="1"/><line x1="233.5" y1="203.5" x2="286.5" y2="203.5" stroke="#4a3a32" stroke-width="1"/><line x1="233.5" y1="204.5" x2="286.5" y2="204.5" stroke="#c8c8dc" stroke-width="1"/><line x1="260.5" y1="137.5" x2="260.5" y2="227.5" stroke="#30084a" stroke-width="1"/><rect x="226.5" y="137.5" width="7.0" height="26.0" fill="#fff"/><rect x="226.5" y="163.5" width="7.0" height="41.0" fill="#808080"/><rect x="226.5" y="204.5" width="7.0" height="23.0" fill="#000"/><line x1="233.5" y1="137.5" x2="233.5" y2="227.5" stroke="#000" stroke-width="1"/><rect x="226.5" y="137.5" width="60.0" height="90.0" fill="none" stroke="#000" stroke-width="1"/><text x="230.00" y="154.20" font-size="10.4" fill="#000" stroke="#000" stroke-width="0.12" text-anchor="middle" font-weight="normal" >3</text><text x="230.00" y="187.70" font-size="10.4" fill="#fff" stroke="#fff" stroke-width="0.12" text-anchor="middle" font-weight="normal" >2</text><text x="230.00" y="219.70" font-size="10.4" fill="#fff" stroke="#fff" stroke-width="0.12" text-anchor="middle" font-weight="normal" >1</text><text x="261.80" y="103.80" font-size="10.4" fill="#000" stroke="#000" stroke-width="0.12" text-anchor="middle" font-weight="normal" >CD71</text><ellipse cx="261.8" cy="111.2" rx="3.6" ry="4" fill="#000"/><path d="M261.8,113 V119.6 M249.4,125.2 V119.6 H273.40000000000003 V125.2" fill="none" stroke="#000" stroke-width="1.1"/><text x="246.20" y="135.20" font-size="10.4" fill="#1010ff" stroke="#1010ff" stroke-width="0.12" text-anchor="middle" font-weight="normal" >#1</text><text x="271.10" y="135.20" font-size="10.4" fill="#2ecc2e" stroke="#2ecc2e" stroke-width="0.12" text-anchor="middle" font-weight="normal" >#2</text><line x1="234.8" y1="233.8" x2="254.8" y2="233.8" stroke="#000" stroke-width="2.1"/><polygon points="253.8,229.5 260.8,233.8 253.8,238.10000000000002" fill="#000"/><line x1="263.3" y1="233.8" x2="283.2" y2="233.8" stroke="#000" stroke-width="2.1"/><polygon points="282.2,229.5 289.2,233.8 282.2,238.10000000000002" fill="#000"/><g clip-path="url(#hc3)"><g filter="url(#vf)"><g clip-path="url(#c19)"><rect x="307.00" y="137.50" width="25.80" height="34.00" fill="url(#g129)"/><rect x="307.0" y="137" width="25.8" height="1" fill="url(#g133)"/><rect x="307.0" y="138" width="25.8" height="1" fill="url(#g129)"/><rect x="307.0" y="139" width="25.8" height="1" fill="url(#g133)"/><rect x="307.0" y="140" width="25.8" height="1" fill="url(#g127)"/><rect x="307.0" y="141" width="25.8" height="1" fill="url(#g129)"/><rect x="307.0" y="142" width="25.8" height="1" fill="url(#g127)"/><rect x="307.0" y="143" width="25.8" height="1" fill="url(#g127)"/><rect x="307.0" y="144" width="25.8" height="1" fill="url(#g133)"/><rect x="307.0" y="145" width="25.8" height="1" fill="url(#g132)"/><rect x="307.0" y="146" width="25.8" height="1" fill="url(#g129)"/><rect x="307.0" y="147" width="25.8" height="1" fill="url(#g132)"/><rect x="307.0" y="148" width="25.8" height="1" fill="url(#g128)"/><rect x="307.0" y="149" width="25.8" height="1" fill="url(#g128)"/><rect x="307.0" y="150" width="25.8" height="1" fill="url(#g129)"/><rect x="307.0" y="151" width="25.8" height="1" fill="url(#g130)"/><rect x="307.0" y="152" width="25.8" height="1" fill="url(#g131)"/><rect x="307.0" y="153" width="25.8" height="1" fill="url(#g129)"/><rect x="307.0" y="154" width="25.8" height="1" fill="url(#g128)"/><rect x="307.0" y="155" width="25.8" height="1" fill="url(#g133)"/><rect x="307.0" y="156" width="25.8" height="1" fill="url(#g129)"/><rect x="307.0" y="157" width="25.8" height="1" fill="url(#g133)"/><rect x="307.0" y="158" width="25.8" height="1" fill="url(#g130)"/><rect x="307.0" y="159" width="25.8" height="1" fill="url(#g127)"/><rect x="307.0" y="160" width="25.8" height="1" fill="url(#g133)"/><rect x="307.0" y="161" width="25.8" height="1" fill="url(#g133)"/><rect x="307.0" y="162" width="25.8" height="1" fill="url(#g132)"/><rect x="307.0" y="163" width="25.8" height="1" fill="url(#g130)"/><rect x="307.0" y="164" width="25.8" height="1" fill="url(#g131)"/><rect x="307.0" y="165" width="25.8" height="1" fill="url(#g131)"/><rect x="307.0" y="166" width="25.8" height="1" fill="url(#g128)"/><rect x="307.0" y="167" width="25.8" height="1" fill="url(#g132)"/><rect x="307.0" y="168" width="25.8" height="1" fill="url(#g127)"/><rect x="307.0" y="169" width="25.8" height="1" fill="url(#g127)"/><rect x="307.0" y="170" width="25.8" height="1" fill="url(#g132)"/><rect x="307.0" y="171" width="25.8" height="1" fill="url(#g130)"/><rect x="323" y="145" width="2" height="1" fill="#989898"/><rect x="324" y="145" width="3" height="1" fill="#6e6e6e"/><rect x="321" y="156" width="4" height="1" fill="#747474"/><rect x="332" y="153" width="2" height="1" fill="#8c8c8c"/><rect x="320" y="162" width="4" height="1" fill="#686868"/><rect x="318" y="150" width="5" height="1" fill="#888888"/><rect x="324" y="151" width="2" height="1" fill="#888888"/><rect x="333" y="165" width="3" height="1" fill="#8f8f8f"/><rect x="318" y="142" width="3" height="1" fill="#6b6b6b"/><rect x="316" y="152" width="5" height="1" fill="#7b7b7b"/><rect x="325" y="138" width="3" height="1" fill="#a3a3a3"/><rect x="322" y="170" width="2" height="1" fill="#717171"/><rect x="321" y="140" width="3" height="1" fill="#8a8a8a"/><rect x="332" y="145" width="3" height="1" fill="#a5a5a5"/><rect x="326" y="150" width="2" height="1" fill="#696969"/><rect x="322" y="165" width="2" height="1" fill="#848484"/><rect x="330" y="138" width="3" height="1" fill="#707070"/><rect x="328" y="167" width="3" height="1" fill="#b9b9b9"/><rect x="315" y="162" width="5" height="1" fill="#acacac"/><rect x="324" y="166" width="2" height="1" fill="#b7b7b7"/><rect x="329" y="151" width="3" height="1" fill="#717171"/><rect x="332" y="143" width="4" height="1" fill="#bcbcbc"/><rect x="327" y="166" width="5" height="1" fill="#6a6a6a"/><rect x="315" y="145" width="1" height="1" fill="#6e6e6e"/><rect x="326" y="156" width="4" height="1" fill="#b7b7b7"/><rect x="319" y="164" width="1" height="1" fill="#9b9b9b"/><rect x="317" y="156" width="3" height="1" fill="#898989"/></g><g clip-path="url(#c20)"><rect x="332.80" y="137.50" width="26.20" height="34.00" fill="url(#g136)"/><rect x="332.8" y="137" width="26.2" height="1" fill="url(#g135)"/><rect x="332.8" y="138" width="26.2" height="1" fill="url(#g137)"/><rect x="332.8" y="139" width="26.2" height="1" fill="url(#g136)"/><rect x="332.8" y="140" width="26.2" height="1" fill="url(#g135)"/><rect x="332.8" y="141" width="26.2" height="1" fill="url(#g140)"/><rect x="332.8" y="142" width="26.2" height="1" fill="url(#g138)"/><rect x="332.8" y="143" width="26.2" height="1" fill="url(#g134)"/><rect x="332.8" y="144" width="26.2" height="1" fill="url(#g134)"/><rect x="332.8" y="145" width="26.2" height="1" fill="url(#g138)"/><rect x="332.8" y="146" width="26.2" height="1" fill="url(#g136)"/><rect x="332.8" y="147" width="26.2" height="1" fill="url(#g137)"/><rect x="332.8" y="148" width="26.2" height="1" fill="url(#g136)"/><rect x="332.8" y="149" width="26.2" height="1" fill="url(#g136)"/><rect x="332.8" y="150" width="26.2" height="1" fill="url(#g139)"/><rect x="332.8" y="151" width="26.2" height="1" fill="url(#g140)"/><rect x="332.8" y="152" width="26.2" height="1" fill="url(#g135)"/><rect x="332.8" y="153" width="26.2" height="1" fill="url(#g137)"/><rect x="332.8" y="154" width="26.2" height="1" fill="url(#g138)"/><rect x="332.8" y="155" width="26.2" height="1" fill="url(#g135)"/><rect x="332.8" y="156" width="26.2" height="1" fill="url(#g138)"/><rect x="332.8" y="157" width="26.2" height="1" fill="url(#g135)"/><rect x="332.8" y="158" width="26.2" height="1" fill="url(#g134)"/><rect x="332.8" y="159" width="26.2" height="1" fill="url(#g137)"/><rect x="332.8" y="160" width="26.2" height="1" fill="url(#g139)"/><rect x="332.8" y="161" width="26.2" height="1" fill="url(#g139)"/><rect x="332.8" y="162" width="26.2" height="1" fill="url(#g136)"/><rect x="332.8" y="163" width="26.2" height="1" fill="url(#g134)"/><rect x="332.8" y="164" width="26.2" height="1" fill="url(#g134)"/><rect x="332.8" y="165" width="26.2" height="1" fill="url(#g135)"/><rect x="332.8" y="166" width="26.2" height="1" fill="url(#g137)"/><rect x="332.8" y="167" width="26.2" height="1" fill="url(#g139)"/><rect x="332.8" y="168" width="26.2" height="1" fill="url(#g139)"/><rect x="332.8" y="169" width="26.2" height="1" fill="url(#g137)"/><rect x="332.8" y="170" width="26.2" height="1" fill="url(#g134)"/><rect x="332.8" y="171" width="26.2" height="1" fill="url(#g136)"/><rect x="345" y="164" width="2" height="1" fill="#b0b0b0"/><rect x="350" y="158" width="2" height="1" fill="#ababab"/><rect x="353" y="149" width="2" height="1" fill="#797979"/><rect x="354" y="169" width="3" height="1" fill="#828282"/><rect x="358" y="156" width="2" height="1" fill="#cfcfcf"/><rect x="345" y="151" width="2" height="1" fill="#757575"/><rect x="343" y="168" width="2" height="1" fill="#8f8f8f"/><rect x="350" y="140" width="2" height="1" fill="#bfbfbf"/><rect x="358" y="140" width="3" height="1" fill="#9b9b9b"/><rect x="343" y="140" width="2" height="1" fill="#999999"/><rect x="348" y="157" width="1" height="1" fill="#a6a6a6"/><rect x="358" y="158" width="4" height="1" fill="#999999"/><rect x="358" y="166" width="4" height="1" fill="#8b8b8b"/><rect x="354" y="160" width="3" height="1" fill="#d3d3d3"/><rect x="344" y="137" width="1" height="1" fill="#626262"/><rect x="347" y="144" width="5" height="1" fill="#959595"/><rect x="344" y="159" width="2" height="1" fill="#a1a1a1"/><rect x="356" y="164" width="4" height="1" fill="#898989"/><rect x="349" y="160" width="3" height="1" fill="#9a9a9a"/><rect x="344" y="160" width="3" height="1" fill="#9e9e9e"/><rect x="341" y="163" width="4" height="1" fill="#6c6c6c"/><rect x="355" y="139" width="3" height="1" fill="#a0a0a0"/><rect x="342" y="140" width="4" height="1" fill="#6e6e6e"/><rect x="342" y="158" width="2" height="1" fill="#777777"/><rect x="358" y="139" width="4" height="1" fill="#a1a1a1"/><rect x="353" y="154" width="4" height="1" fill="#939393"/><rect x="355" y="141" width="2" height="1" fill="#808080"/><rect x="343" y="166" width="3" height="1" fill="#aeaeae"/><rect x="355" y="164" width="2" height="1" fill="#c8c8c8"/><rect x="358" y="148" width="4" height="1" fill="#898989"/><rect x="346" y="146" width="2" height="1" fill="#979797"/><rect x="356" y="166" width="5" height="1" fill="#a4a4a4"/><rect x="352" y="169" width="5" height="1" fill="#848484"/><rect x="344" y="163" width="1" height="1" fill="#616161"/><rect x="349" y="157" width="3" height="1" fill="#787878"/><rect x="357" y="141" width="1" height="1" fill="#9d9d9d"/><rect x="344" y="163" width="4" height="1" fill="#898989"/><rect x="358" y="148" width="3" height="1" fill="#9f9f9f"/><rect x="349" y="152" width="5" height="1" fill="#ababab"/><rect x="355" y="144" width="2" height="1" fill="#c4c4c4"/><rect x="346" y="154" width="4" height="1" fill="#828282"/><rect x="345" y="165" width="2" height="1" fill="#757575"/><rect x="345" y="155" width="3" height="1" fill="#adadad"/><rect x="344" y="141" width="2" height="1" fill="#7f7f7f"/><rect x="350" y="151" width="1" height="1" fill="#a6a6a6"/><rect x="353" y="139" width="3" height="1" fill="#7f7f7f"/><rect x="357" y="151" width="2" height="1" fill="#d0d0d0"/><rect x="341" y="155" width="1" height="1" fill="#6b6b6b"/><rect x="344" y="149" width="2" height="1" fill="#afafaf"/><rect x="350" y="148" width="2" height="1" fill="#949494"/><rect x="355" y="137" width="3" height="1" fill="#888888"/><rect x="354" y="159" width="2" height="1" fill="#8d8d8d"/><rect x="347" y="139" width="2" height="1" fill="#757575"/><rect x="341" y="150" width="5" height="1" fill="#9e9e9e"/><rect x="347" y="160" width="2" height="1" fill="#727272"/><rect x="342" y="139" width="3" height="1" fill="#9e9e9e"/><rect x="350" y="163" width="3" height="1" fill="#737373"/><rect x="353" y="146" width="1" height="1" fill="#b0b0b0"/><rect x="353" y="162" width="3" height="1" fill="#b4b4b4"/><rect x="359" y="156" width="1" height="1" fill="#b1b1b1"/><rect x="346" y="159" width="1" height="1" fill="#868686"/></g><g clip-path="url(#c21)"><rect x="307.00" y="171.50" width="25.80" height="30.00" fill="url(#g143)"/><rect x="307.0" y="171" width="25.8" height="1" fill="url(#g147)"/><rect x="307.0" y="172" width="25.8" height="1" fill="url(#g147)"/><rect x="307.0" y="173" width="25.8" height="1" fill="url(#g147)"/><rect x="307.0" y="174" width="25.8" height="1" fill="url(#g143)"/><rect x="307.0" y="175" width="25.8" height="1" fill="url(#g146)"/><rect x="307.0" y="176" width="25.8" height="1" fill="url(#g142)"/><rect x="307.0" y="177" width="25.8" height="1" fill="url(#g144)"/><rect x="307.0" y="178" width="25.8" height="1" fill="url(#g146)"/><rect x="307.0" y="179" width="25.8" height="1" fill="url(#g144)"/><rect x="307.0" y="180" width="25.8" height="1" fill="url(#g142)"/><rect x="307.0" y="181" width="25.8" height="1" fill="url(#g141)"/><rect x="307.0" y="182" width="25.8" height="1" fill="url(#g144)"/><rect x="307.0" y="183" width="25.8" height="1" fill="url(#g142)"/><rect x="307.0" y="184" width="25.8" height="1" fill="url(#g144)"/><rect x="307.0" y="185" width="25.8" height="1" fill="url(#g141)"/><rect x="307.0" y="186" width="25.8" height="1" fill="url(#g147)"/><rect x="307.0" y="187" width="25.8" height="1" fill="url(#g141)"/><rect x="307.0" y="188" width="25.8" height="1" fill="url(#g144)"/><rect x="307.0" y="189" width="25.8" height="1" fill="url(#g145)"/><rect x="307.0" y="190" width="25.8" height="1" fill="url(#g143)"/><rect x="307.0" y="191" width="25.8" height="1" fill="url(#g144)"/><rect x="307.0" y="192" width="25.8" height="1" fill="url(#g147)"/><rect x="307.0" y="193" width="25.8" height="1" fill="url(#g142)"/><rect x="307.0" y="194" width="25.8" height="1" fill="url(#g142)"/><rect x="307.0" y="195" width="25.8" height="1" fill="url(#g141)"/><rect x="307.0" y="196" width="25.8" height="1" fill="url(#g141)"/><rect x="307.0" y="197" width="25.8" height="1" fill="url(#g145)"/><rect x="307.0" y="198" width="25.8" height="1" fill="url(#g142)"/><rect x="307.0" y="199" width="25.8" height="1" fill="url(#g146)"/><rect x="307.0" y="200" width="25.8" height="1" fill="url(#g147)"/><rect x="307.0" y="201" width="25.8" height="1" fill="url(#g144)"/><rect x="316" y="190" width="4" height="1" fill="#b6b6b6"/><rect x="324" y="175" width="2" height="1" fill="#9c9c9c"/><rect x="324" y="200" width="3" height="1" fill="#848484"/><rect x="324" y="196" width="5" height="1" fill="#c3c3c3"/><rect x="318" y="175" width="1" height="1" fill="#b5b5b5"/><rect x="332" y="186" width="3" height="1" fill="#b6b6b6"/><rect x="331" y="183" width="4" height="1" fill="#a0a0a0"/><rect x="326" y="197" width="4" height="1" fill="#d5d5d5"/><rect x="329" y="178" width="3" height="1" fill="#c9c9c9"/><rect x="330" y="197" width="3" height="1" fill="#bebebe"/><rect x="319" y="183" width="2" height="1" fill="#bfbfbf"/><rect x="322" y="174" width="4" height="1" fill="#838383"/><rect x="329" y="177" width="3" height="1" fill="#969696"/><rect x="330" y="192" width="5" height="1" fill="#979797"/><rect x="321" y="183" width="3" height="1" fill="#a7a7a7"/><rect x="330" y="195" width="3" height="1" fill="#b0b0b0"/><rect x="320" y="178" width="4" height="1" fill="#979797"/><rect x="321" y="187" width="1" height="1" fill="#9b9b9b"/><rect x="315" y="186" width="3" height="1" fill="#888888"/><rect x="329" y="195" width="5" height="1" fill="#d9d9d9"/><rect x="318" y="186" width="1" height="1" fill="#8d8d8d"/><rect x="317" y="184" width="5" height="1" fill="#878787"/><rect x="323" y="187" width="1" height="1" fill="#b3b3b3"/><rect x="326" y="173" width="2" height="1" fill="#d9d9d9"/></g><g clip-path="url(#c22)"><rect x="332.80" y="171.50" width="26.20" height="30.00" fill="url(#g150)"/><rect x="332.8" y="171" width="26.2" height="1" fill="url(#g154)"/><rect x="332.8" y="172" width="26.2" height="1" fill="url(#g153)"/><rect x="332.8" y="173" width="26.2" height="1" fill="url(#g152)"/><rect x="332.8" y="174" width="26.2" height="1" fill="url(#g148)"/><rect x="332.8" y="175" width="26.2" height="1" fill="url(#g148)"/><rect x="332.8" y="176" width="26.2" height="1" fill="url(#g154)"/><rect x="332.8" y="177" width="26.2" height="1" fill="url(#g152)"/><rect x="332.8" y="178" width="26.2" height="1" fill="url(#g151)"/><rect x="332.8" y="179" width="26.2" height="1" fill="url(#g153)"/><rect x="332.8" y="180" width="26.2" height="1" fill="url(#g154)"/><rect x="332.8" y="181" width="26.2" height="1" fill="url(#g149)"/><rect x="332.8" y="182" width="26.2" height="1" fill="url(#g148)"/><rect x="332.8" y="183" width="26.2" height="1" fill="url(#g154)"/><rect x="332.8" y="184" width="26.2" height="1" fill="url(#g148)"/><rect x="332.8" y="185" width="26.2" height="1" fill="url(#g152)"/><rect x="332.8" y="186" width="26.2" height="1" fill="url(#g153)"/><rect x="332.8" y="187" width="26.2" height="1" fill="url(#g153)"/><rect x="332.8" y="188" width="26.2" height="1" fill="url(#g154)"/><rect x="332.8" y="189" width="26.2" height="1" fill="url(#g148)"/><rect x="332.8" y="190" width="26.2" height="1" fill="url(#g149)"/><rect x="332.8" y="191" width="26.2" height="1" fill="url(#g149)"/><rect x="332.8" y="192" width="26.2" height="1" fill="url(#g151)"/><rect x="332.8" y="193" width="26.2" height="1" fill="url(#g150)"/><rect x="332.8" y="194" width="26.2" height="1" fill="url(#g154)"/><rect x="332.8" y="195" width="26.2" height="1" fill="url(#g154)"/><rect x="332.8" y="196" width="26.2" height="1" fill="url(#g149)"/><rect x="332.8" y="197" width="26.2" height="1" fill="url(#g153)"/><rect x="332.8" y="198" width="26.2" height="1" fill="url(#g154)"/><rect x="332.8" y="199" width="26.2" height="1" fill="url(#g153)"/><rect x="332.8" y="200" width="26.2" height="1" fill="url(#g149)"/><rect x="332.8" y="201" width="26.2" height="1" fill="url(#g148)"/><rect x="356" y="190" width="2" height="1" fill="#fcfcfc"/><rect x="347" y="190" width="5" height="1" fill="#9f9f9f"/><rect x="349" y="179" width="3" height="1" fill="#c1c1c1"/><rect x="344" y="179" width="2" height="1" fill="#b2b2b2"/><rect x="347" y="172" width="3" height="1" fill="#989898"/><rect x="344" y="200" width="2" height="1" fill="#8f8f8f"/><rect x="357" y="176" width="2" height="1" fill="#ffffff"/><rect x="343" y="187" width="5" height="1" fill="#767676"/><rect x="347" y="198" width="3" height="1" fill="#b3b3b3"/><rect x="351" y="199" width="2" height="1" fill="#efefef"/><rect x="359" y="191" width="4" height="1" fill="#ffffff"/><rect x="355" y="179" width="2" height="1" fill="#d5d5d5"/><rect x="351" y="182" width="1" height="1" fill="#bdbdbd"/><rect x="349" y="176" width="1" height="1" fill="#cacaca"/><rect x="346" y="187" width="4" height="1" fill="#9b9b9b"/><rect x="358" y="198" width="4" height="1" fill="#fcfcfc"/><rect x="357" y="194" width="1" height="1" fill="#c0c0c0"/><rect x="345" y="180" width="3" height="1" fill="#b3b3b3"/><rect x="348" y="182" width="2" height="1" fill="#e0e0e0"/><rect x="350" y="190" width="1" height="1" fill="#d1d1d1"/><rect x="342" y="189" width="1" height="1" fill="#8b8b8b"/><rect x="350" y="188" width="3" height="1" fill="#aeaeae"/><rect x="346" y="175" width="3" height="1" fill="#979797"/><rect x="356" y="176" width="5" height="1" fill="#c4c4c4"/><rect x="345" y="175" width="1" height="1" fill="#a7a7a7"/><rect x="352" y="198" width="2" height="1" fill="#e0e0e0"/><rect x="348" y="179" width="1" height="1" fill="#e5e5e5"/><rect x="352" y="188" width="3" height="1" fill="#f5f5f5"/><rect x="353" y="185" width="3" height="1" fill="#dbdbdb"/><rect x="354" y="178" width="1" height="1" fill="#bcbcbc"/><rect x="341" y="188" width="2" height="1" fill="#6d6d6d"/><rect x="345" y="172" width="1" height="1" fill="#cfcfcf"/><rect x="341" y="188" width="2" height="1" fill="#a2a2a2"/><rect x="343" y="177" width="4" height="1" fill="#a3a3a3"/><rect x="350" y="191" width="3" height="1" fill="#bebebe"/><rect x="344" y="180" width="4" height="1" fill="#7d7d7d"/><rect x="342" y="199" width="3" height="1" fill="#acacac"/><rect x="354" y="171" width="3" height="1" fill="#cdcdcd"/><rect x="354" y="185" width="4" height="1" fill="#b6b6b6"/><rect x="349" y="178" width="2" height="1" fill="#ededed"/><rect x="345" y="172" width="4" height="1" fill="#888888"/><rect x="358" y="198" width="1" height="1" fill="#dbdbdb"/><rect x="346" y="188" width="4" height="1" fill="#bebebe"/><rect x="355" y="187" width="2" height="1" fill="#ffffff"/><rect x="352" y="199" width="3" height="1" fill="#b9b9b9"/><rect x="341" y="179" width="5" height="1" fill="#b8b8b8"/><rect x="354" y="176" width="2" height="1" fill="#f1f1f1"/><rect x="344" y="183" width="2" height="1" fill="#979797"/><rect x="348" y="198" width="4" height="1" fill="#c5c5c5"/><rect x="359" y="197" width="3" height="1" fill="#ffffff"/><rect x="349" y="187" width="5" height="1" fill="#d4d4d4"/><rect x="341" y="194" width="2" height="1" fill="#7e7e7e"/><rect x="355" y="183" width="1" height="1" fill="#eaeaea"/><rect x="351" y="176" width="1" height="1" fill="#ababab"/></g><g clip-path="url(#c23)"><rect x="307.00" y="201.50" width="25.80" height="26.00" fill="url(#g157)"/><rect x="307.0" y="201" width="25.8" height="1" fill="url(#g155)"/><rect x="307.0" y="202" width="25.8" height="1" fill="url(#g155)"/><rect x="307.0" y="203" width="25.8" height="1" fill="url(#g159)"/><rect x="307.0" y="204" width="25.8" height="1" fill="url(#g156)"/><rect x="307.0" y="205" width="25.8" height="1" fill="url(#g157)"/><rect x="307.0" y="206" width="25.8" height="1" fill="url(#g156)"/><rect x="307.0" y="207" width="25.8" height="1" fill="url(#g160)"/><rect x="307.0" y="208" width="25.8" height="1" fill="url(#g155)"/><rect x="307.0" y="209" width="25.8" height="1" fill="url(#g155)"/><rect x="307.0" y="210" width="25.8" height="1" fill="url(#g155)"/><rect x="307.0" y="211" width="25.8" height="1" fill="url(#g156)"/><rect x="307.0" y="212" width="25.8" height="1" fill="url(#g160)"/><rect x="307.0" y="213" width="25.8" height="1" fill="url(#g160)"/><rect x="307.0" y="214" width="25.8" height="1" fill="url(#g160)"/><rect x="307.0" y="215" width="25.8" height="1" fill="url(#g155)"/><rect x="307.0" y="216" width="25.8" height="1" fill="url(#g160)"/><rect x="307.0" y="217" width="25.8" height="1" fill="url(#g155)"/><rect x="307.0" y="218" width="25.8" height="1" fill="url(#g160)"/><rect x="307.0" y="219" width="25.8" height="1" fill="url(#g155)"/><rect x="307.0" y="220" width="25.8" height="1" fill="url(#g155)"/><rect x="307.0" y="221" width="25.8" height="1" fill="url(#g161)"/><rect x="307.0" y="222" width="25.8" height="1" fill="url(#g159)"/><rect x="307.0" y="223" width="25.8" height="1" fill="url(#g161)"/><rect x="307.0" y="224" width="25.8" height="1" fill="url(#g157)"/><rect x="307.0" y="225" width="25.8" height="1" fill="url(#g156)"/><rect x="307.0" y="226" width="25.8" height="1" fill="url(#g161)"/><rect x="307.0" y="227" width="25.8" height="1" fill="url(#g161)"/><rect x="324" y="222" width="5" height="1" fill="#616161"/><rect x="328" y="223" width="1" height="1" fill="#b2b2b2"/><rect x="319" y="207" width="1" height="1" fill="#616161"/><rect x="332" y="226" width="1" height="1" fill="#a2a2a2"/><rect x="330" y="221" width="3" height="1" fill="#979797"/><rect x="317" y="204" width="4" height="1" fill="#9c9c9c"/><rect x="318" y="211" width="2" height="1" fill="#757575"/><rect x="315" y="209" width="1" height="1" fill="#a7a7a7"/><rect x="328" y="212" width="5" height="1" fill="#afafaf"/><rect x="332" y="217" width="2" height="1" fill="#898989"/><rect x="326" y="201" width="1" height="1" fill="#a2a2a2"/><rect x="323" y="225" width="3" height="1" fill="#626262"/><rect x="327" y="218" width="4" height="1" fill="#909090"/><rect x="330" y="203" width="2" height="1" fill="#929292"/><rect x="318" y="201" width="2" height="1" fill="#858585"/><rect x="329" y="202" width="3" height="1" fill="#5e5e5e"/><rect x="316" y="223" width="2" height="1" fill="#9c9c9c"/><rect x="332" y="219" width="5" height="1" fill="#7d7d7d"/><rect x="324" y="219" width="2" height="1" fill="#afafaf"/><rect x="329" y="223" width="2" height="1" fill="#737373"/></g><g clip-path="url(#c24)"><rect x="332.80" y="201.50" width="26.20" height="26.00" fill="url(#g164)"/><rect x="332.8" y="201" width="26.2" height="1" fill="url(#g162)"/><rect x="332.8" y="202" width="26.2" height="1" fill="url(#g167)"/><rect x="332.8" y="203" width="26.2" height="1" fill="url(#g168)"/><rect x="332.8" y="204" width="26.2" height="1" fill="url(#g162)"/><rect x="332.8" y="205" width="26.2" height="1" fill="url(#g165)"/><rect x="332.8" y="206" width="26.2" height="1" fill="url(#g168)"/><rect x="332.8" y="207" width="26.2" height="1" fill="url(#g167)"/><rect x="332.8" y="208" width="26.2" height="1" fill="url(#g166)"/><rect x="332.8" y="209" width="26.2" height="1" fill="url(#g168)"/><rect x="332.8" y="210" width="26.2" height="1" fill="url(#g162)"/><rect x="332.8" y="211" width="26.2" height="1" fill="url(#g167)"/><rect x="332.8" y="212" width="26.2" height="1" fill="url(#g164)"/><rect x="332.8" y="213" width="26.2" height="1" fill="url(#g164)"/><rect x="332.8" y="214" width="26.2" height="1" fill="url(#g162)"/><rect x="332.8" y="215" width="26.2" height="1" fill="url(#g165)"/><rect x="332.8" y="216" width="26.2" height="1" fill="url(#g165)"/><rect x="332.8" y="217" width="26.2" height="1" fill="url(#g167)"/><rect x="332.8" y="218" width="26.2" height="1" fill="url(#g162)"/><rect x="332.8" y="219" width="26.2" height="1" fill="url(#g165)"/><rect x="332.8" y="220" width="26.2" height="1" fill="url(#g167)"/><rect x="332.8" y="221" width="26.2" height="1" fill="url(#g162)"/><rect x="332.8" y="222" width="26.2" height="1" fill="url(#g164)"/><rect x="332.8" y="223" width="26.2" height="1" fill="url(#g163)"/><rect x="332.8" y="224" width="26.2" height="1" fill="url(#g164)"/><rect x="332.8" y="225" width="26.2" height="1" fill="url(#g164)"/><rect x="332.8" y="226" width="26.2" height="1" fill="url(#g165)"/><rect x="332.8" y="227" width="26.2" height="1" fill="url(#g166)"/><rect x="350" y="213" width="4" height="1" fill="#ffffff"/><rect x="345" y="215" width="3" height="1" fill="#939393"/><rect x="354" y="225" width="1" height="1" fill="#ffffff"/><rect x="347" y="211" width="5" height="1" fill="#cfcfcf"/><rect x="356" y="222" width="2" height="1" fill="#fbfbfb"/><rect x="344" y="215" width="2" height="1" fill="#b7b7b7"/><rect x="351" y="205" width="4" height="1" fill="#e0e0e0"/><rect x="357" y="208" width="2" height="1" fill="#ececec"/><rect x="346" y="223" width="3" height="1" fill="#e0e0e0"/><rect x="343" y="205" width="4" height="1" fill="#cdcdcd"/><rect x="347" y="217" width="2" height="1" fill="#bbbbbb"/><rect x="347" y="207" width="4" height="1" fill="#b3b3b3"/><rect x="359" y="206" width="1" height="1" fill="#f8f8f8"/><rect x="344" y="205" width="5" height="1" fill="#d7d7d7"/><rect x="346" y="210" width="2" height="1" fill="#bdbdbd"/><rect x="343" y="204" width="3" height="1" fill="#858585"/><rect x="349" y="201" width="5" height="1" fill="#dadada"/><rect x="349" y="208" width="4" height="1" fill="#e0e0e0"/><rect x="346" y="201" width="3" height="1" fill="#a2a2a2"/><rect x="354" y="201" width="5" height="1" fill="#ffffff"/><rect x="349" y="219" width="4" height="1" fill="#e7e7e7"/><rect x="348" y="208" width="4" height="1" fill="#ececec"/><rect x="357" y="225" width="3" height="1" fill="#f9f9f9"/><rect x="356" y="222" width="1" height="1" fill="#d7d7d7"/><rect x="349" y="211" width="4" height="1" fill="#cccccc"/><rect x="342" y="214" width="3" height="1" fill="#7f7f7f"/><rect x="354" y="221" width="5" height="1" fill="#dfdfdf"/><rect x="348" y="215" width="5" height="1" fill="#b3b3b3"/><rect x="348" y="222" width="5" height="1" fill="#e9e9e9"/><rect x="344" y="221" width="1" height="1" fill="#9a9a9a"/><rect x="348" y="216" width="1" height="1" fill="#fbfbfb"/><rect x="341" y="218" width="4" height="1" fill="#707070"/><rect x="355" y="207" width="1" height="1" fill="#ffffff"/><rect x="356" y="215" width="4" height="1" fill="#f9f9f9"/><rect x="349" y="201" width="5" height="1" fill="#f1f1f1"/><rect x="347" y="211" width="3" height="1" fill="#cacaca"/><rect x="345" y="222" width="3" height="1" fill="#939393"/><rect x="355" y="204" width="3" height="1" fill="#ffffff"/><rect x="347" y="202" width="3" height="1" fill="#b9b9b9"/><rect x="348" y="201" width="3" height="1" fill="#b3b3b3"/><rect x="352" y="222" width="2" height="1" fill="#e7e7e7"/><rect x="343" y="210" width="3" height="1" fill="#aeaeae"/><rect x="358" y="226" width="3" height="1" fill="#fefefe"/><rect x="345" y="205" width="1" height="1" fill="#d6d6d6"/><rect x="356" y="221" width="4" height="1" fill="#e4e4e4"/><rect x="351" y="208" width="2" height="1" fill="#ffffff"/></g></g></g><line x1="306.5" y1="171.5" x2="359.5" y2="171.5" stroke="#3a2a20" stroke-opacity="0.7" stroke-width="1"/><line x1="306.5" y1="200.5" x2="359.5" y2="200.5" stroke="#4a3a32" stroke-width="1"/><line x1="306.5" y1="201.5" x2="359.5" y2="201.5" stroke="#c8c8dc" stroke-width="1"/><line x1="332.5" y1="137.5" x2="332.5" y2="227.5" stroke="#30084a" stroke-width="1"/><rect x="298.5" y="137.5" width="8.0" height="34.0" fill="#fff"/><rect x="298.5" y="171.5" width="8.0" height="30.0" fill="#808080"/><rect x="298.5" y="201.5" width="8.0" height="26.0" fill="#000"/><line x1="306.5" y1="137.5" x2="306.5" y2="227.5" stroke="#000" stroke-width="1"/><rect x="298.5" y="137.5" width="61.0" height="90.0" fill="none" stroke="#000" stroke-width="1"/><text x="302.50" y="158.20" font-size="10.4" fill="#000" stroke="#000" stroke-width="0.12" text-anchor="middle" font-weight="normal" >3</text><text x="302.50" y="190.20" font-size="10.4" fill="#fff" stroke="#fff" stroke-width="0.12" text-anchor="middle" font-weight="normal" >2</text><text x="302.50" y="218.20" font-size="10.4" fill="#fff" stroke="#fff" stroke-width="0.12" text-anchor="middle" font-weight="normal" >1</text><text x="334.50" y="103.80" font-size="10.4" fill="#000" stroke="#000" stroke-width="0.12" text-anchor="middle" font-weight="normal" >TMRM</text><ellipse cx="334.5" cy="111.2" rx="3.6" ry="4" fill="#000"/><path d="M334.5,113 V119.6 M322.1,125.2 V119.6 H346.1 V125.2" fill="none" stroke="#000" stroke-width="1.1"/><text x="318.90" y="135.20" font-size="10.4" fill="#1010ff" stroke="#1010ff" stroke-width="0.12" text-anchor="middle" font-weight="normal" >#1</text><text x="343.80" y="135.20" font-size="10.4" fill="#2ecc2e" stroke="#2ecc2e" stroke-width="0.12" text-anchor="middle" font-weight="normal" >#2</text><line x1="307.5" y1="233.8" x2="327.5" y2="233.8" stroke="#000" stroke-width="2.1"/><polygon points="326.5,229.5 333.5,233.8 326.5,238.10000000000002" fill="#000"/><line x1="336.0" y1="233.8" x2="355.9" y2="233.8" stroke="#000" stroke-width="2.1"/><polygon points="354.9,229.5 361.9,233.8 354.9,238.10000000000002" fill="#000"/><g clip-path="url(#hc4)"><g filter="url(#vf)"><g clip-path="url(#c25)"><rect x="379.00" y="137.50" width="25.80" height="23.00" fill="url(#g171)"/><rect x="379.0" y="137" width="25.8" height="1" fill="url(#g171)"/><rect x="379.0" y="138" width="25.8" height="1" fill="url(#g174)"/><rect x="379.0" y="139" width="25.8" height="1" fill="url(#g174)"/><rect x="379.0" y="140" width="25.8" height="1" fill="url(#g175)"/><rect x="379.0" y="141" width="25.8" height="1" fill="url(#g175)"/><rect x="379.0" y="142" width="25.8" height="1" fill="url(#g175)"/><rect x="379.0" y="143" width="25.8" height="1" fill="url(#g175)"/><rect x="379.0" y="144" width="25.8" height="1" fill="url(#g172)"/><rect x="379.0" y="145" width="25.8" height="1" fill="url(#g172)"/><rect x="379.0" y="146" width="25.8" height="1" fill="url(#g171)"/><rect x="379.0" y="147" width="25.8" height="1" fill="url(#g175)"/><rect x="379.0" y="148" width="25.8" height="1" fill="url(#g173)"/><rect x="379.0" y="149" width="25.8" height="1" fill="url(#g174)"/><rect x="379.0" y="150" width="25.8" height="1" fill="url(#g170)"/><rect x="379.0" y="151" width="25.8" height="1" fill="url(#g175)"/><rect x="379.0" y="152" width="25.8" height="1" fill="url(#g175)"/><rect x="379.0" y="153" width="25.8" height="1" fill="url(#g172)"/><rect x="379.0" y="154" width="25.8" height="1" fill="url(#g171)"/><rect x="379.0" y="155" width="25.8" height="1" fill="url(#g175)"/><rect x="379.0" y="156" width="25.8" height="1" fill="url(#g175)"/><rect x="379.0" y="157" width="25.8" height="1" fill="url(#g170)"/><rect x="379.0" y="158" width="25.8" height="1" fill="url(#g171)"/><rect x="379.0" y="159" width="25.8" height="1" fill="url(#g174)"/><rect x="379.0" y="160" width="25.8" height="1" fill="url(#g172)"/><rect x="398" y="150" width="3" height="1" fill="#858585"/><rect x="384" y="145" width="4" height="1" fill="#c1c1c1"/><rect x="390" y="152" width="3" height="1" fill="#a8a8a8"/></g><g clip-path="url(#c26)"><rect x="404.80" y="137.50" width="26.20" height="23.00" fill="url(#g178)"/><rect x="404.8" y="137" width="26.2" height="1" fill="url(#g181)"/><rect x="404.8" y="138" width="26.2" height="1" fill="url(#g176)"/><rect x="404.8" y="139" width="26.2" height="1" fill="url(#g181)"/><rect x="404.8" y="140" width="26.2" height="1" fill="url(#g178)"/><rect x="404.8" y="141" width="26.2" height="1" fill="url(#g177)"/><rect x="404.8" y="142" width="26.2" height="1" fill="url(#g178)"/><rect x="404.8" y="143" width="26.2" height="1" fill="url(#g182)"/><rect x="404.8" y="144" width="26.2" height="1" fill="url(#g179)"/><rect x="404.8" y="145" width="26.2" height="1" fill="url(#g176)"/><rect x="404.8" y="146" width="26.2" height="1" fill="url(#g176)"/><rect x="404.8" y="147" width="26.2" height="1" fill="url(#g182)"/><rect x="404.8" y="148" width="26.2" height="1" fill="url(#g180)"/><rect x="404.8" y="149" width="26.2" height="1" fill="url(#g178)"/><rect x="404.8" y="150" width="26.2" height="1" fill="url(#g182)"/><rect x="404.8" y="151" width="26.2" height="1" fill="url(#g177)"/><rect x="404.8" y="152" width="26.2" height="1" fill="url(#g180)"/><rect x="404.8" y="153" width="26.2" height="1" fill="url(#g182)"/><rect x="404.8" y="154" width="26.2" height="1" fill="url(#g178)"/><rect x="404.8" y="155" width="26.2" height="1" fill="url(#g181)"/><rect x="404.8" y="156" width="26.2" height="1" fill="url(#g180)"/><rect x="404.8" y="157" width="26.2" height="1" fill="url(#g176)"/><rect x="404.8" y="158" width="26.2" height="1" fill="url(#g181)"/><rect x="404.8" y="159" width="26.2" height="1" fill="url(#g176)"/><rect x="404.8" y="160" width="26.2" height="1" fill="url(#g177)"/><rect x="430" y="157" width="3" height="1" fill="#838383"/><rect x="412" y="141" width="2" height="1" fill="#ffffff"/><rect x="426" y="148" width="2" height="1" fill="#bfbfbf"/></g><g clip-path="url(#c27)"><rect x="379.00" y="160.50" width="25.80" height="38.00" fill="url(#g185)"/><rect x="379.0" y="160" width="25.8" height="1" fill="url(#g189)"/><rect x="379.0" y="161" width="25.8" height="1" fill="url(#g187)"/><rect x="379.0" y="162" width="25.8" height="1" fill="url(#g187)"/><rect x="379.0" y="163" width="25.8" height="1" fill="url(#g183)"/><rect x="379.0" y="164" width="25.8" height="1" fill="url(#g187)"/><rect x="379.0" y="165" width="25.8" height="1" fill="url(#g189)"/><rect x="379.0" y="166" width="25.8" height="1" fill="url(#g191)"/><rect x="379.0" y="167" width="25.8" height="1" fill="url(#g187)"/><rect x="379.0" y="168" width="25.8" height="1" fill="url(#g191)"/><rect x="379.0" y="169" width="25.8" height="1" fill="url(#g183)"/><rect x="379.0" y="170" width="25.8" height="1" fill="url(#g185)"/><rect x="379.0" y="171" width="25.8" height="1" fill="url(#g189)"/><rect x="379.0" y="172" width="25.8" height="1" fill="url(#g191)"/><rect x="379.0" y="173" width="25.8" height="1" fill="url(#g186)"/><rect x="379.0" y="174" width="25.8" height="1" fill="url(#g184)"/><rect x="379.0" y="175" width="25.8" height="1" fill="url(#g184)"/><rect x="379.0" y="176" width="25.8" height="1" fill="url(#g187)"/><rect x="379.0" y="177" width="25.8" height="1" fill="url(#g188)"/><rect x="379.0" y="178" width="25.8" height="1" fill="url(#g191)"/><rect x="379.0" y="179" width="25.8" height="1" fill="url(#g187)"/><rect x="379.0" y="180" width="25.8" height="1" fill="url(#g185)"/><rect x="379.0" y="181" width="25.8" height="1" fill="url(#g185)"/><rect x="379.0" y="182" width="25.8" height="1" fill="url(#g188)"/><rect x="379.0" y="183" width="25.8" height="1" fill="url(#g192)"/><rect x="379.0" y="184" width="25.8" height="1" fill="url(#g192)"/><rect x="379.0" y="185" width="25.8" height="1" fill="url(#g192)"/><rect x="379.0" y="186" width="25.8" height="1" fill="url(#g192)"/><rect x="379.0" y="187" width="25.8" height="1" fill="url(#g185)"/><rect x="379.0" y="188" width="25.8" height="1" fill="url(#g183)"/><rect x="379.0" y="189" width="25.8" height="1" fill="url(#g186)"/><rect x="379.0" y="190" width="25.8" height="1" fill="url(#g184)"/><rect x="379.0" y="191" width="25.8" height="1" fill="url(#g192)"/><rect x="379.0" y="192" width="25.8" height="1" fill="url(#g184)"/><rect x="379.0" y="193" width="25.8" height="1" fill="url(#g192)"/><rect x="379.0" y="194" width="25.8" height="1" fill="url(#g191)"/><rect x="379.0" y="195" width="25.8" height="1" fill="url(#g187)"/><rect x="379.0" y="196" width="25.8" height="1" fill="url(#g184)"/><rect x="379.0" y="197" width="25.8" height="1" fill="url(#g191)"/><rect x="379.0" y="198" width="25.8" height="1" fill="url(#g187)"/><rect x="385" y="178" width="5" height="1" fill="#979797"/><rect x="394" y="181" width="2" height="1" fill="#9c9c9c"/><rect x="402" y="182" width="4" height="1" fill="#b8b8b8"/><rect x="394" y="167" width="2" height="1" fill="#8f8f8f"/><rect x="399" y="168" width="4" height="1" fill="#9d9d9d"/></g><g clip-path="url(#c28)"><rect x="404.80" y="160.50" width="26.20" height="38.00" fill="url(#g195)"/><rect x="404.8" y="160" width="26.2" height="1" fill="url(#g193)"/><rect x="404.8" y="161" width="26.2" height="1" fill="url(#g199)"/><rect x="404.8" y="162" width="26.2" height="1" fill="url(#g193)"/><rect x="404.8" y="163" width="26.2" height="1" fill="url(#g196)"/><rect x="404.8" y="164" width="26.2" height="1" fill="url(#g198)"/><rect x="404.8" y="165" width="26.2" height="1" fill="url(#g197)"/><rect x="404.8" y="166" width="26.2" height="1" fill="url(#g196)"/><rect x="404.8" y="167" width="26.2" height="1" fill="url(#g197)"/><rect x="404.8" y="168" width="26.2" height="1" fill="url(#g197)"/><rect x="404.8" y="169" width="26.2" height="1" fill="url(#g193)"/><rect x="404.8" y="170" width="26.2" height="1" fill="url(#g196)"/><rect x="404.8" y="171" width="26.2" height="1" fill="url(#g195)"/><rect x="404.8" y="172" width="26.2" height="1" fill="url(#g193)"/><rect x="404.8" y="173" width="26.2" height="1" fill="url(#g193)"/><rect x="404.8" y="174" width="26.2" height="1" fill="url(#g193)"/><rect x="404.8" y="175" width="26.2" height="1" fill="url(#g194)"/><rect x="404.8" y="176" width="26.2" height="1" fill="url(#g199)"/><rect x="404.8" y="177" width="26.2" height="1" fill="url(#g196)"/><rect x="404.8" y="178" width="26.2" height="1" fill="url(#g197)"/><rect x="404.8" y="179" width="26.2" height="1" fill="url(#g199)"/><rect x="404.8" y="180" width="26.2" height="1" fill="url(#g198)"/><rect x="404.8" y="181" width="26.2" height="1" fill="url(#g193)"/><rect x="404.8" y="182" width="26.2" height="1" fill="url(#g199)"/><rect x="404.8" y="183" width="26.2" height="1" fill="url(#g197)"/><rect x="404.8" y="184" width="26.2" height="1" fill="url(#g197)"/><rect x="404.8" y="185" width="26.2" height="1" fill="url(#g197)"/><rect x="404.8" y="186" width="26.2" height="1" fill="url(#g196)"/><rect x="404.8" y="187" width="26.2" height="1" fill="url(#g197)"/><rect x="404.8" y="188" width="26.2" height="1" fill="url(#g194)"/><rect x="404.8" y="189" width="26.2" height="1" fill="url(#g198)"/><rect x="404.8" y="190" width="26.2" height="1" fill="url(#g198)"/><rect x="404.8" y="191" width="26.2" height="1" fill="url(#g198)"/><rect x="404.8" y="192" width="26.2" height="1" fill="url(#g198)"/><rect x="404.8" y="193" width="26.2" height="1" fill="url(#g197)"/><rect x="404.8" y="194" width="26.2" height="1" fill="url(#g198)"/><rect x="404.8" y="195" width="26.2" height="1" fill="url(#g193)"/><rect x="404.8" y="196" width="26.2" height="1" fill="url(#g194)"/><rect x="404.8" y="197" width="26.2" height="1" fill="url(#g193)"/><rect x="404.8" y="198" width="26.2" height="1" fill="url(#g198)"/><rect x="423" y="171" width="2" height="1" fill="#bcbcbc"/><rect x="428" y="186" width="4" height="1" fill="#ffffff"/><rect x="410" y="168" width="3" height="1" fill="#c2c2c2"/><rect x="425" y="179" width="1" height="1" fill="#cacaca"/><rect x="417" y="187" width="3" height="1" fill="#c5c5c5"/></g><g clip-path="url(#c29)"><rect x="379.00" y="198.50" width="25.80" height="29.00" fill="url(#g202)"/><rect x="379.0" y="198" width="25.8" height="1" fill="url(#g200)"/><rect x="379.0" y="199" width="25.8" height="1" fill="url(#g203)"/><rect x="379.0" y="200" width="25.8" height="1" fill="url(#g204)"/><rect x="379.0" y="201" width="25.8" height="1" fill="url(#g204)"/><rect x="379.0" y="202" width="25.8" height="1" fill="url(#g200)"/><rect x="379.0" y="203" width="25.8" height="1" fill="url(#g206)"/><rect x="379.0" y="204" width="25.8" height="1" fill="url(#g200)"/><rect x="379.0" y="205" width="25.8" height="1" fill="url(#g206)"/><rect x="379.0" y="206" width="25.8" height="1" fill="url(#g206)"/><rect x="379.0" y="207" width="25.8" height="1" fill="url(#g203)"/><rect x="379.0" y="208" width="25.8" height="1" fill="url(#g204)"/><rect x="379.0" y="209" width="25.8" height="1" fill="url(#g205)"/><rect x="379.0" y="210" width="25.8" height="1" fill="url(#g203)"/><rect x="379.0" y="211" width="25.8" height="1" fill="url(#g203)"/><rect x="379.0" y="212" width="25.8" height="1" fill="url(#g200)"/><rect x="379.0" y="213" width="25.8" height="1" fill="url(#g200)"/><rect x="379.0" y="214" width="25.8" height="1" fill="url(#g205)"/><rect x="379.0" y="215" width="25.8" height="1" fill="url(#g203)"/><rect x="379.0" y="216" width="25.8" height="1" fill="url(#g204)"/><rect x="379.0" y="217" width="25.8" height="1" fill="url(#g204)"/><rect x="379.0" y="218" width="25.8" height="1" fill="url(#g205)"/><rect x="379.0" y="219" width="25.8" height="1" fill="url(#g201)"/><rect x="379.0" y="220" width="25.8" height="1" fill="url(#g203)"/><rect x="379.0" y="221" width="25.8" height="1" fill="url(#g206)"/><rect x="379.0" y="222" width="25.8" height="1" fill="url(#g203)"/><rect x="379.0" y="223" width="25.8" height="1" fill="url(#g204)"/><rect x="379.0" y="224" width="25.8" height="1" fill="url(#g200)"/><rect x="379.0" y="225" width="25.8" height="1" fill="url(#g200)"/><rect x="379.0" y="226" width="25.8" height="1" fill="url(#g205)"/><rect x="379.0" y="227" width="25.8" height="1" fill="url(#g203)"/><rect x="389" y="202" width="3" height="1" fill="#a3a3a3"/><rect x="384" y="219" width="5" height="1" fill="#b8b8b8"/><rect x="386" y="225" width="3" height="1" fill="#878787"/><rect x="385" y="221" width="3" height="1" fill="#afafaf"/></g><g clip-path="url(#c30)"><rect x="404.80" y="198.50" width="26.20" height="29.00" fill="url(#g209)"/><rect x="404.8" y="198" width="26.2" height="1" fill="url(#g212)"/><rect x="404.8" y="199" width="26.2" height="1" fill="url(#g212)"/><rect x="404.8" y="200" width="26.2" height="1" fill="url(#g208)"/><rect x="404.8" y="201" width="26.2" height="1" fill="url(#g207)"/><rect x="404.8" y="202" width="26.2" height="1" fill="url(#g209)"/><rect x="404.8" y="203" width="26.2" height="1" fill="url(#g213)"/><rect x="404.8" y="204" width="26.2" height="1" fill="url(#g212)"/><rect x="404.8" y="205" width="26.2" height="1" fill="url(#g212)"/><rect x="404.8" y="206" width="26.2" height="1" fill="url(#g212)"/><rect x="404.8" y="207" width="26.2" height="1" fill="url(#g213)"/><rect x="404.8" y="208" width="26.2" height="1" fill="url(#g208)"/><rect x="404.8" y="209" width="26.2" height="1" fill="url(#g212)"/><rect x="404.8" y="210" width="26.2" height="1" fill="url(#g213)"/><rect x="404.8" y="211" width="26.2" height="1" fill="url(#g207)"/><rect x="404.8" y="212" width="26.2" height="1" fill="url(#g209)"/><rect x="404.8" y="213" width="26.2" height="1" fill="url(#g212)"/><rect x="404.8" y="214" width="26.2" height="1" fill="url(#g211)"/><rect x="404.8" y="215" width="26.2" height="1" fill="url(#g212)"/><rect x="404.8" y="216" width="26.2" height="1" fill="url(#g210)"/><rect x="404.8" y="217" width="26.2" height="1" fill="url(#g210)"/><rect x="404.8" y="218" width="26.2" height="1" fill="url(#g212)"/><rect x="404.8" y="219" width="26.2" height="1" fill="url(#g209)"/><rect x="404.8" y="220" width="26.2" height="1" fill="url(#g207)"/><rect x="404.8" y="221" width="26.2" height="1" fill="url(#g212)"/><rect x="404.8" y="222" width="26.2" height="1" fill="url(#g207)"/><rect x="404.8" y="223" width="26.2" height="1" fill="url(#g207)"/><rect x="404.8" y="224" width="26.2" height="1" fill="url(#g207)"/><rect x="404.8" y="225" width="26.2" height="1" fill="url(#g207)"/><rect x="404.8" y="226" width="26.2" height="1" fill="url(#g212)"/><rect x="404.8" y="227" width="26.2" height="1" fill="url(#g212)"/><rect x="427" y="200" width="2" height="1" fill="#ffffff"/><rect x="425" y="203" width="5" height="1" fill="#ffffff"/><rect x="420" y="199" width="3" height="1" fill="#ffffff"/><rect x="425" y="213" width="2" height="1" fill="#ffffff"/></g></g></g><line x1="378.5" y1="160.5" x2="431.5" y2="160.5" stroke="#3a2a20" stroke-opacity="0.7" stroke-width="1"/><line x1="378.5" y1="197.5" x2="431.5" y2="197.5" stroke="#4a3a32" stroke-width="1"/><line x1="378.5" y1="198.5" x2="431.5" y2="198.5" stroke="#c8c8dc" stroke-width="1"/><line x1="404.5" y1="137.5" x2="404.5" y2="227.5" stroke="#30084a" stroke-width="1"/><rect x="371.5" y="137.5" width="7.0" height="23.0" fill="#fff"/><rect x="371.5" y="160.5" width="7.0" height="38.0" fill="#808080"/><rect x="371.5" y="198.5" width="7.0" height="29.0" fill="#000"/><line x1="378.5" y1="137.5" x2="378.5" y2="227.5" stroke="#000" stroke-width="1"/><rect x="371.5" y="137.5" width="60.0" height="90.0" fill="none" stroke="#000" stroke-width="1"/><text x="375.00" y="152.70" font-size="10.4" fill="#000" stroke="#000" stroke-width="0.12" text-anchor="middle" font-weight="normal" >3</text><text x="375.00" y="183.20" font-size="10.4" fill="#fff" stroke="#fff" stroke-width="0.12" text-anchor="middle" font-weight="normal" >2</text><text x="375.00" y="216.70" font-size="10.4" fill="#fff" stroke="#fff" stroke-width="0.12" text-anchor="middle" font-weight="normal" >1</text><text x="407.50" y="103.80" font-size="10.4" fill="#000" stroke="#000" stroke-width="0.12" text-anchor="middle" font-weight="normal" >CD49c</text><ellipse cx="407.5" cy="111.2" rx="3.6" ry="4" fill="#000"/><path d="M407.5,113 V119.6 M395.1,125.2 V119.6 H419.1 V125.2" fill="none" stroke="#000" stroke-width="1.1"/><text x="391.90" y="135.20" font-size="10.4" fill="#1010ff" stroke="#1010ff" stroke-width="0.12" text-anchor="middle" font-weight="normal" >#1</text><text x="416.80" y="135.20" font-size="10.4" fill="#2ecc2e" stroke="#2ecc2e" stroke-width="0.12" text-anchor="middle" font-weight="normal" >#2</text><line x1="380.5" y1="233.8" x2="400.5" y2="233.8" stroke="#000" stroke-width="2.1"/><polygon points="399.5,229.5 406.5,233.8 399.5,238.10000000000002" fill="#000"/><line x1="409.0" y1="233.8" x2="428.9" y2="233.8" stroke="#000" stroke-width="2.1"/><polygon points="427.9,229.5 434.9,233.8 427.9,238.10000000000002" fill="#000"/><g clip-path="url(#hc5)"><g filter="url(#vf)"><g clip-path="url(#c31)"><rect x="453.00" y="137.50" width="25.90" height="33.00" fill="url(#g216)"/><rect x="453.0" y="137" width="25.9" height="1" fill="url(#g220)"/><rect x="453.0" y="138" width="25.9" height="1" fill="url(#g214)"/><rect x="453.0" y="139" width="25.9" height="1" fill="url(#g216)"/><rect x="453.0" y="140" width="25.9" height="1" fill="url(#g219)"/><rect x="453.0" y="141" width="25.9" height="1" fill="url(#g215)"/><rect x="453.0" y="142" width="25.9" height="1" fill="url(#g219)"/><rect x="453.0" y="143" width="25.9" height="1" fill="url(#g220)"/><rect x="453.0" y="144" width="25.9" height="1" fill="url(#g217)"/><rect x="453.0" y="145" width="25.9" height="1" fill="url(#g217)"/><rect x="453.0" y="146" width="25.9" height="1" fill="url(#g217)"/><rect x="453.0" y="147" width="25.9" height="1" fill="url(#g220)"/><rect x="453.0" y="148" width="25.9" height="1" fill="url(#g220)"/><rect x="453.0" y="149" width="25.9" height="1" fill="url(#g217)"/><rect x="453.0" y="150" width="25.9" height="1" fill="url(#g216)"/><rect x="453.0" y="151" width="25.9" height="1" fill="url(#g220)"/><rect x="453.0" y="152" width="25.9" height="1" fill="url(#g220)"/><rect x="453.0" y="153" width="25.9" height="1" fill="url(#g218)"/><rect x="453.0" y="154" width="25.9" height="1" fill="url(#g216)"/><rect x="453.0" y="155" width="25.9" height="1" fill="url(#g216)"/><rect x="453.0" y="156" width="25.9" height="1" fill="url(#g216)"/><rect x="453.0" y="157" width="25.9" height="1" fill="url(#g214)"/><rect x="453.0" y="158" width="25.9" height="1" fill="url(#g218)"/><rect x="453.0" y="159" width="25.9" height="1" fill="url(#g219)"/><rect x="453.0" y="160" width="25.9" height="1" fill="url(#g219)"/><rect x="453.0" y="161" width="25.9" height="1" fill="url(#g220)"/><rect x="453.0" y="162" width="25.9" height="1" fill="url(#g220)"/><rect x="453.0" y="163" width="25.9" height="1" fill="url(#g218)"/><rect x="453.0" y="164" width="25.9" height="1" fill="url(#g216)"/><rect x="453.0" y="165" width="25.9" height="1" fill="url(#g220)"/><rect x="453.0" y="166" width="25.9" height="1" fill="url(#g218)"/><rect x="453.0" y="167" width="25.9" height="1" fill="url(#g219)"/><rect x="453.0" y="168" width="25.9" height="1" fill="url(#g214)"/><rect x="453.0" y="169" width="25.9" height="1" fill="url(#g220)"/><rect x="453.0" y="170" width="25.9" height="1" fill="url(#g215)"/><rect x="471" y="156" width="2" height="1" fill="#c5c5c5"/><rect x="466" y="161" width="2" height="1" fill="#aeaeae"/><rect x="475" y="155" width="2" height="1" fill="#e7e7e7"/><rect x="464" y="164" width="5" height="1" fill="#808080"/></g><g clip-path="url(#c32)"><rect x="478.90" y="137.50" width="26.10" height="33.00" fill="url(#g223)"/><rect x="478.9" y="137" width="26.1" height="1" fill="url(#g227)"/><rect x="478.9" y="138" width="26.1" height="1" fill="url(#g227)"/><rect x="478.9" y="139" width="26.1" height="1" fill="url(#g221)"/><rect x="478.9" y="140" width="26.1" height="1" fill="url(#g223)"/><rect x="478.9" y="141" width="26.1" height="1" fill="url(#g227)"/><rect x="478.9" y="142" width="26.1" height="1" fill="url(#g222)"/><rect x="478.9" y="143" width="26.1" height="1" fill="url(#g227)"/><rect x="478.9" y="144" width="26.1" height="1" fill="url(#g227)"/><rect x="478.9" y="145" width="26.1" height="1" fill="url(#g225)"/><rect x="478.9" y="146" width="26.1" height="1" fill="url(#g222)"/><rect x="478.9" y="147" width="26.1" height="1" fill="url(#g223)"/><rect x="478.9" y="148" width="26.1" height="1" fill="url(#g227)"/><rect x="478.9" y="149" width="26.1" height="1" fill="url(#g227)"/><rect x="478.9" y="150" width="26.1" height="1" fill="url(#g227)"/><rect x="478.9" y="151" width="26.1" height="1" fill="url(#g225)"/><rect x="478.9" y="152" width="26.1" height="1" fill="url(#g226)"/><rect x="478.9" y="153" width="26.1" height="1" fill="url(#g227)"/><rect x="478.9" y="154" width="26.1" height="1" fill="url(#g224)"/><rect x="478.9" y="155" width="26.1" height="1" fill="url(#g223)"/><rect x="478.9" y="156" width="26.1" height="1" fill="url(#g225)"/><rect x="478.9" y="157" width="26.1" height="1" fill="url(#g221)"/><rect x="478.9" y="158" width="26.1" height="1" fill="url(#g225)"/><rect x="478.9" y="159" width="26.1" height="1" fill="url(#g225)"/><rect x="478.9" y="160" width="26.1" height="1" fill="url(#g224)"/><rect x="478.9" y="161" width="26.1" height="1" fill="url(#g227)"/><rect x="478.9" y="162" width="26.1" height="1" fill="url(#g224)"/><rect x="478.9" y="163" width="26.1" height="1" fill="url(#g222)"/><rect x="478.9" y="164" width="26.1" height="1" fill="url(#g227)"/><rect x="478.9" y="165" width="26.1" height="1" fill="url(#g227)"/><rect x="478.9" y="166" width="26.1" height="1" fill="url(#g226)"/><rect x="478.9" y="167" width="26.1" height="1" fill="url(#g222)"/><rect x="478.9" y="168" width="26.1" height="1" fill="url(#g223)"/><rect x="478.9" y="169" width="26.1" height="1" fill="url(#g225)"/><rect x="478.9" y="170" width="26.1" height="1" fill="url(#g221)"/><rect x="498" y="166" width="2" height="1" fill="#dbdbdb"/><rect x="496" y="137" width="3" height="1" fill="#d5d5d5"/><rect x="495" y="159" width="2" height="1" fill="#cdcdcd"/><rect x="492" y="153" width="3" height="1" fill="#c6c6c6"/></g><g clip-path="url(#c33)"><rect x="453.00" y="170.50" width="25.90" height="26.00" fill="url(#g230)"/><rect x="453.0" y="170" width="25.9" height="1" fill="url(#g230)"/><rect x="453.0" y="171" width="25.9" height="1" fill="url(#g231)"/><rect x="453.0" y="172" width="25.9" height="1" fill="url(#g232)"/><rect x="453.0" y="173" width="25.9" height="1" fill="url(#g232)"/><rect x="453.0" y="174" width="25.9" height="1" fill="url(#g229)"/><rect x="453.0" y="175" width="25.9" height="1" fill="url(#g229)"/><rect x="453.0" y="176" width="25.9" height="1" fill="url(#g229)"/><rect x="453.0" y="177" width="25.9" height="1" fill="url(#g229)"/><rect x="453.0" y="178" width="25.9" height="1" fill="url(#g228)"/><rect x="453.0" y="179" width="25.9" height="1" fill="url(#g229)"/><rect x="453.0" y="180" width="25.9" height="1" fill="url(#g234)"/><rect x="453.0" y="181" width="25.9" height="1" fill="url(#g233)"/><rect x="453.0" y="182" width="25.9" height="1" fill="url(#g230)"/><rect x="453.0" y="183" width="25.9" height="1" fill="url(#g230)"/><rect x="453.0" y="184" width="25.9" height="1" fill="url(#g232)"/><rect x="453.0" y="185" width="25.9" height="1" fill="url(#g232)"/><rect x="453.0" y="186" width="25.9" height="1" fill="url(#g230)"/><rect x="453.0" y="187" width="25.9" height="1" fill="url(#g231)"/><rect x="453.0" y="188" width="25.9" height="1" fill="url(#g234)"/><rect x="453.0" y="189" width="25.9" height="1" fill="url(#g232)"/><rect x="453.0" y="190" width="25.9" height="1" fill="url(#g234)"/><rect x="453.0" y="191" width="25.9" height="1" fill="url(#g229)"/><rect x="453.0" y="192" width="25.9" height="1" fill="url(#g229)"/><rect x="453.0" y="193" width="25.9" height="1" fill="url(#g228)"/><rect x="453.0" y="194" width="25.9" height="1" fill="url(#g231)"/><rect x="453.0" y="195" width="25.9" height="1" fill="url(#g230)"/><rect x="453.0" y="196" width="25.9" height="1" fill="url(#g234)"/><rect x="460" y="190" width="1" height="1" fill="#c8c8c8"/><rect x="461" y="189" width="2" height="1" fill="#a8a8a8"/><rect x="469" y="170" width="2" height="1" fill="#aeaeae"/></g><g clip-path="url(#c34)"><rect x="478.90" y="170.50" width="26.10" height="26.00" fill="url(#g237)"/><rect x="478.9" y="170" width="26.1" height="1" fill="url(#g241)"/><rect x="478.9" y="171" width="26.1" height="1" fill="url(#g241)"/><rect x="478.9" y="172" width="26.1" height="1" fill="url(#g239)"/><rect x="478.9" y="173" width="26.1" height="1" fill="url(#g238)"/><rect x="478.9" y="174" width="26.1" height="1" fill="url(#g239)"/><rect x="478.9" y="175" width="26.1" height="1" fill="url(#g239)"/><rect x="478.9" y="176" width="26.1" height="1" fill="url(#g236)"/><rect x="478.9" y="177" width="26.1" height="1" fill="url(#g237)"/><rect x="478.9" y="178" width="26.1" height="1" fill="url(#g241)"/><rect x="478.9" y="179" width="26.1" height="1" fill="url(#g237)"/><rect x="478.9" y="180" width="26.1" height="1" fill="url(#g238)"/><rect x="478.9" y="181" width="26.1" height="1" fill="url(#g235)"/><rect x="478.9" y="182" width="26.1" height="1" fill="url(#g238)"/><rect x="478.9" y="183" width="26.1" height="1" fill="url(#g241)"/><rect x="478.9" y="184" width="26.1" height="1" fill="url(#g239)"/><rect x="478.9" y="185" width="26.1" height="1" fill="url(#g241)"/><rect x="478.9" y="186" width="26.1" height="1" fill="url(#g239)"/><rect x="478.9" y="187" width="26.1" height="1" fill="url(#g236)"/><rect x="478.9" y="188" width="26.1" height="1" fill="url(#g237)"/><rect x="478.9" y="189" width="26.1" height="1" fill="url(#g241)"/><rect x="478.9" y="190" width="26.1" height="1" fill="url(#g235)"/><rect x="478.9" y="191" width="26.1" height="1" fill="url(#g237)"/><rect x="478.9" y="192" width="26.1" height="1" fill="url(#g236)"/><rect x="478.9" y="193" width="26.1" height="1" fill="url(#g236)"/><rect x="478.9" y="194" width="26.1" height="1" fill="url(#g238)"/><rect x="478.9" y="195" width="26.1" height="1" fill="url(#g235)"/><rect x="478.9" y="196" width="26.1" height="1" fill="url(#g235)"/><rect x="485" y="187" width="4" height="1" fill="#b2b2b2"/><rect x="494" y="172" width="4" height="1" fill="#e6e6e6"/><rect x="492" y="173" width="1" height="1" fill="#d8d8d8"/></g><g clip-path="url(#c35)"><rect x="453.00" y="196.50" width="25.90" height="31.00" fill="url(#g244)"/><rect x="453.0" y="196" width="25.9" height="1" fill="url(#g244)"/><rect x="453.0" y="197" width="25.9" height="1" fill="url(#g244)"/><rect x="453.0" y="198" width="25.9" height="1" fill="url(#g246)"/><rect x="453.0" y="199" width="25.9" height="1" fill="url(#g243)"/><rect x="453.0" y="200" width="25.9" height="1" fill="url(#g247)"/><rect x="453.0" y="201" width="25.9" height="1" fill="url(#g242)"/><rect x="453.0" y="202" width="25.9" height="1" fill="url(#g247)"/><rect x="453.0" y="203" width="25.9" height="1" fill="url(#g246)"/><rect x="453.0" y="204" width="25.9" height="1" fill="url(#g245)"/><rect x="453.0" y="205" width="25.9" height="1" fill="url(#g243)"/><rect x="453.0" y="206" width="25.9" height="1" fill="url(#g245)"/><rect x="453.0" y="207" width="25.9" height="1" fill="url(#g248)"/><rect x="453.0" y="208" width="25.9" height="1" fill="url(#g243)"/><rect x="453.0" y="209" width="25.9" height="1" fill="url(#g244)"/><rect x="453.0" y="210" width="25.9" height="1" fill="url(#g243)"/><rect x="453.0" y="211" width="25.9" height="1" fill="url(#g247)"/><rect x="453.0" y="212" width="25.9" height="1" fill="url(#g243)"/><rect x="453.0" y="213" width="25.9" height="1" fill="url(#g243)"/><rect x="453.0" y="214" width="25.9" height="1" fill="url(#g242)"/><rect x="453.0" y="215" width="25.9" height="1" fill="url(#g244)"/><rect x="453.0" y="216" width="25.9" height="1" fill="url(#g244)"/><rect x="453.0" y="217" width="25.9" height="1" fill="url(#g242)"/><rect x="453.0" y="218" width="25.9" height="1" fill="url(#g246)"/><rect x="453.0" y="219" width="25.9" height="1" fill="url(#g242)"/><rect x="453.0" y="220" width="25.9" height="1" fill="url(#g248)"/><rect x="453.0" y="221" width="25.9" height="1" fill="url(#g242)"/><rect x="453.0" y="222" width="25.9" height="1" fill="url(#g244)"/><rect x="453.0" y="223" width="25.9" height="1" fill="url(#g248)"/><rect x="453.0" y="224" width="25.9" height="1" fill="url(#g246)"/><rect x="453.0" y="225" width="25.9" height="1" fill="url(#g247)"/><rect x="453.0" y="226" width="25.9" height="1" fill="url(#g247)"/><rect x="453.0" y="227" width="25.9" height="1" fill="url(#g247)"/><rect x="474" y="211" width="2" height="1" fill="#666666"/><rect x="465" y="196" width="4" height="1" fill="#8e8e8e"/><rect x="474" y="214" width="5" height="1" fill="#8e8e8e"/><rect x="472" y="211" width="2" height="1" fill="#727272"/></g><g clip-path="url(#c36)"><rect x="478.90" y="196.50" width="26.10" height="31.00" fill="url(#g251)"/><rect x="478.9" y="196" width="26.1" height="1" fill="url(#g252)"/><rect x="478.9" y="197" width="26.1" height="1" fill="url(#g249)"/><rect x="478.9" y="198" width="26.1" height="1" fill="url(#g251)"/><rect x="478.9" y="199" width="26.1" height="1" fill="url(#g252)"/><rect x="478.9" y="200" width="26.1" height="1" fill="url(#g252)"/><rect x="478.9" y="201" width="26.1" height="1" fill="url(#g250)"/><rect x="478.9" y="202" width="26.1" height="1" fill="url(#g252)"/><rect x="478.9" y="203" width="26.1" height="1" fill="url(#g250)"/><rect x="478.9" y="204" width="26.1" height="1" fill="url(#g255)"/><rect x="478.9" y="205" width="26.1" height="1" fill="url(#g250)"/><rect x="478.9" y="206" width="26.1" height="1" fill="url(#g254)"/><rect x="478.9" y="207" width="26.1" height="1" fill="url(#g249)"/><rect x="478.9" y="208" width="26.1" height="1" fill="url(#g252)"/><rect x="478.9" y="209" width="26.1" height="1" fill="url(#g254)"/><rect x="478.9" y="210" width="26.1" height="1" fill="url(#g250)"/><rect x="478.9" y="211" width="26.1" height="1" fill="url(#g255)"/><rect x="478.9" y="212" width="26.1" height="1" fill="url(#g249)"/><rect x="478.9" y="213" width="26.1" height="1" fill="url(#g250)"/><rect x="478.9" y="214" width="26.1" height="1" fill="url(#g255)"/><rect x="478.9" y="215" width="26.1" height="1" fill="url(#g250)"/><rect x="478.9" y="216" width="26.1" height="1" fill="url(#g249)"/><rect x="478.9" y="217" width="26.1" height="1" fill="url(#g253)"/><rect x="478.9" y="218" width="26.1" height="1" fill="url(#g255)"/><rect x="478.9" y="219" width="26.1" height="1" fill="url(#g251)"/><rect x="478.9" y="220" width="26.1" height="1" fill="url(#g254)"/><rect x="478.9" y="221" width="26.1" height="1" fill="url(#g250)"/><rect x="478.9" y="222" width="26.1" height="1" fill="url(#g255)"/><rect x="478.9" y="223" width="26.1" height="1" fill="url(#g252)"/><rect x="478.9" y="224" width="26.1" height="1" fill="url(#g249)"/><rect x="478.9" y="225" width="26.1" height="1" fill="url(#g252)"/><rect x="478.9" y="226" width="26.1" height="1" fill="url(#g255)"/><rect x="478.9" y="227" width="26.1" height="1" fill="url(#g249)"/><rect x="497" y="210" width="2" height="1" fill="#fbfbfb"/><rect x="501" y="211" width="2" height="1" fill="#cacaca"/><rect x="487" y="203" width="2" height="1" fill="#c6c6c6"/><rect x="499" y="213" width="3" height="1" fill="#fbfbfb"/></g></g></g><line x1="452.5" y1="170.5" x2="505.5" y2="170.5" stroke="#3a2a20" stroke-opacity="0.7" stroke-width="1"/><line x1="452.5" y1="195.5" x2="505.5" y2="195.5" stroke="#4a3a32" stroke-width="1"/><line x1="452.5" y1="196.5" x2="505.5" y2="196.5" stroke="#c8c8dc" stroke-width="1"/><line x1="478.5" y1="137.5" x2="478.5" y2="227.5" stroke="#30084a" stroke-width="1"/><rect x="445.5" y="137.5" width="7.0" height="33.0" fill="#fff"/><rect x="445.5" y="170.5" width="7.0" height="26.0" fill="#808080"/><rect x="445.5" y="196.5" width="7.0" height="31.0" fill="#000"/><line x1="452.5" y1="137.5" x2="452.5" y2="227.5" stroke="#000" stroke-width="1"/><rect x="445.5" y="137.5" width="60.0" height="90.0" fill="none" stroke="#000" stroke-width="1"/><text x="449.00" y="157.70" font-size="10.4" fill="#000" stroke="#000" stroke-width="0.12" text-anchor="middle" font-weight="normal" >3</text><text x="449.00" y="187.20" font-size="10.4" fill="#fff" stroke="#fff" stroke-width="0.12" text-anchor="middle" font-weight="normal" >2</text><text x="449.00" y="215.70" font-size="10.4" fill="#fff" stroke="#fff" stroke-width="0.12" text-anchor="middle" font-weight="normal" >1</text><text x="480.50" y="103.80" font-size="10.4" fill="#000" stroke="#000" stroke-width="0.12" text-anchor="middle" font-weight="normal" >CD34</text><ellipse cx="480.5" cy="111.2" rx="3.6" ry="4" fill="#000"/><path d="M480.5,113 V119.6 M468.1,125.2 V119.6 H492.1 V125.2" fill="none" stroke="#000" stroke-width="1.1"/><text x="464.90" y="135.20" font-size="10.4" fill="#1010ff" stroke="#1010ff" stroke-width="0.12" text-anchor="middle" font-weight="normal" >#1</text><text x="489.80" y="135.20" font-size="10.4" fill="#2ecc2e" stroke="#2ecc2e" stroke-width="0.12" text-anchor="middle" font-weight="normal" >#2</text><line x1="453.5" y1="233.8" x2="473.5" y2="233.8" stroke="#000" stroke-width="2.1"/><polygon points="472.5,229.5 479.5,233.8 472.5,238.10000000000002" fill="#000"/><line x1="482.0" y1="233.8" x2="501.9" y2="233.8" stroke="#000" stroke-width="2.1"/><polygon points="500.9,229.5 507.9,233.8 500.9,238.10000000000002" fill="#000"/><rect x="31.6" y="162.2" width="11.2" height="42" fill="url(#cbar)" stroke="#000" stroke-width="1"/><text x="37.40" y="156.70" font-size="10.4" fill="#000" stroke="#000" stroke-width="0.12" text-anchor="middle" font-weight="normal" >high</text><text x="36.80" y="218.20" font-size="10.4" fill="#000" stroke="#000" stroke-width="0.12" text-anchor="middle" font-weight="normal" >low</text><text x="0" y="0" font-size="10.4" stroke="#000" stroke-width="0.12" text-anchor="middle" transform="translate(25.3,183.6) rotate(-90)">Production</text><text x="0" y="0" font-size="10.4" stroke="#000" stroke-width="0.12" text-anchor="middle" transform="translate(75.6,183.1) rotate(-90)">Paired daughter ID</text><text x="0" y="0" font-size="10.4" stroke="#000" stroke-width="0.12" text-anchor="middle" transform="translate(17.8,358.3) rotate(-90)">Normalized intensity [au]</text><rect x="54.8" y="244.4" width="8.6" height="44.49999999999997" rx="0.6" fill="#fff" stroke="#000" stroke-width="1.1"/><text x="59.10" y="270.35" font-size="10.4" fill="#000" stroke="#000" stroke-width="0.12" text-anchor="middle" font-weight="normal" >3</text><circle cx="38.8" cy="254.9" r="4.4" fill="#000"/><path d="M38.8,254.9 V263.6 M31.1,269.2 V263.6 H46.5 V269.2" fill="none" stroke="#000" stroke-width="1"/><circle cx="31.1" cy="273.0" r="3.6" fill="#fff" stroke="#1a1aff" stroke-width="1.2"/><circle cx="46.5" cy="273.0" r="3.6" fill="#fff" stroke="#33cc33" stroke-width="1.2"/><rect x="54.8" y="292.8" width="8.6" height="44.89999999999998" rx="0.6" fill="#808080" stroke="#000" stroke-width="1.1"/><text x="59.10" y="318.95" font-size="10.4" fill="#fff" stroke="#fff" stroke-width="0.12" text-anchor="middle" font-weight="normal" >2</text><circle cx="38.8" cy="303.6" r="4.4" fill="#000"/><path d="M38.8,303.6 V312.4 M31.1,317.7 V312.4 H46.5 V317.7" fill="none" stroke="#000" stroke-width="1"/><circle cx="31.1" cy="321.5" r="3.6" fill="#fff" stroke="#1a1aff" stroke-width="1.2"/><circle cx="46.5" cy="321.5" r="3.6" fill="#fff" stroke="#33cc33" stroke-width="1.2"/><rect x="54.8" y="342.5" width="8.6" height="44.80000000000001" rx="0.6" fill="#000" stroke="#000" stroke-width="1.1"/><text x="59.10" y="368.60" font-size="10.4" fill="#fff" stroke="#fff" stroke-width="0.12" text-anchor="middle" font-weight="normal" >1</text><circle cx="38.8" cy="352.6" r="4.4" fill="#000"/><path d="M38.8,352.6 V361.4 M31.1,366.5 V361.4 H46.5 V366.5" fill="none" stroke="#000" stroke-width="1"/><circle cx="31.1" cy="370.3" r="3.6" fill="#000" stroke="#1a1aff" stroke-width="1.2"/><circle cx="46.5" cy="370.3" r="3.6" fill="#fff" stroke="#33cc33" stroke-width="1.2"/><text x="30.00" y="384.80" font-size="10.4" fill="#1a1aff" stroke="#1a1aff" stroke-width="0.12" text-anchor="middle" font-weight="normal" >#1</text><text x="45.40" y="384.80" font-size="10.4" fill="#33cc33" stroke="#33cc33" stroke-width="0.12" text-anchor="middle" font-weight="normal" >#2</text><path d="M23.5,397 V414 H40" fill="none" stroke="#000" stroke-width="2"/><polygon points="19.4,398.8 23.5,390.8 27.6,398.8" fill="#000"/><polygon points="38.2,409.8 46.1,414 38.2,418.2" fill="#000"/><text x="34.00" y="426.70" font-size="10.4" fill="#000" stroke="#000" stroke-width="0.12" text-anchor="middle" font-weight="normal" >Time</text><path d="M107,434.8 L107.00,402.80 A32.0,32.0 0 0 1 134.02,451.95 Z" fill="#000" stroke="#000" stroke-width="0.6"/><path d="M107,434.8 L134.02,451.95 A32.0,32.0 0 0 1 109.01,466.74 Z" fill="#808080" stroke="#000" stroke-width="0.6"/><path d="M107,434.8 L109.01,466.74 A32.0,32.0 0 1 1 107.00,402.80 Z" fill="#fff" stroke="#000" stroke-width="0.6"/><circle cx="107" cy="434.8" r="32.0" fill="none" stroke="#000" stroke-width="1"/><text x="121.30" y="429.80" font-size="10.4" fill="#fff" stroke="#fff" stroke-width="0.12" text-anchor="middle" font-weight="normal" >34</text><text x="116.20" y="456.70" font-size="10.4" fill="#fff" stroke="#fff" stroke-width="0.12" text-anchor="middle" font-weight="normal" >15</text><text x="91.80" y="439.90" font-size="10.4" fill="#000" stroke="#000" stroke-width="0.12" text-anchor="middle" font-weight="normal" >51</text><path d="M180.6,434.8 L180.60,402.80 A32.0,32.0 0 0 1 209.55,448.42 Z" fill="#000" stroke="#000" stroke-width="0.6"/><path d="M180.6,434.8 L209.55,448.42 A32.0,32.0 0 0 1 150.17,444.69 Z" fill="#808080" stroke="#000" stroke-width="0.6"/><path d="M180.6,434.8 L150.17,444.69 A32.0,32.0 0 0 1 180.60,402.80 Z" fill="#fff" stroke="#000" stroke-width="0.6"/><circle cx="180.6" cy="434.8" r="32.0" fill="none" stroke="#000" stroke-width="1"/><text x="195.50" y="430.30" font-size="10.4" fill="#fff" stroke="#fff" stroke-width="0.12" text-anchor="middle" font-weight="normal" >32</text><text x="177.30" y="456.20" font-size="10.4" fill="#fff" stroke="#fff" stroke-width="0.12" text-anchor="middle" font-weight="normal" >38</text><text x="166.00" y="429.50" font-size="10.4" fill="#000" stroke="#000" stroke-width="0.12" text-anchor="middle" font-weight="normal" >30</text><path d="M255.4,434.8 L255.40,402.80 A32.0,32.0 0 0 1 287.15,430.79 Z" fill="#000" stroke="#000" stroke-width="0.6"/><path d="M255.4,434.8 L287.15,430.79 A32.0,32.0 0 0 1 223.65,438.81 Z" fill="#808080" stroke="#000" stroke-width="0.6"/><path d="M255.4,434.8 L223.65,438.81 A32.0,32.0 0 0 1 255.40,402.80 Z" fill="#fff" stroke="#000" stroke-width="0.6"/><circle cx="255.4" cy="434.8" r="32.0" fill="none" stroke="#000" stroke-width="1"/><text x="269.10" y="425.10" font-size="10.4" fill="#fff" stroke="#fff" stroke-width="0.12" text-anchor="middle" font-weight="normal" >23</text><text x="257.40" y="454.70" font-size="10.4" fill="#fff" stroke="#fff" stroke-width="0.12" text-anchor="middle" font-weight="normal" >50</text><text x="241.00" y="428.10" font-size="10.4" fill="#000" stroke="#000" stroke-width="0.12" text-anchor="middle" font-weight="normal" >27</text><path d="M330.4,434.8 L330.40,402.80 A32.0,32.0 0 0 1 361.83,440.80 Z" fill="#000" stroke="#000" stroke-width="0.6"/><path d="M330.4,434.8 L361.83,440.80 A32.0,32.0 0 0 1 316.78,463.75 Z" fill="#808080" stroke="#000" stroke-width="0.6"/><path d="M330.4,434.8 L316.78,463.75 A32.0,32.0 0 0 1 330.40,402.80 Z" fill="#fff" stroke="#000" stroke-width="0.6"/><circle cx="330.4" cy="434.8" r="32.0" fill="none" stroke="#000" stroke-width="1"/><text x="345.50" y="428.40" font-size="10.4" fill="#fff" stroke="#fff" stroke-width="0.12" text-anchor="middle" font-weight="normal" >28</text><text x="337.40" y="455.80" font-size="10.4" fill="#fff" stroke="#fff" stroke-width="0.12" text-anchor="middle" font-weight="normal" >29</text><text x="313.50" y="434.80" font-size="10.4" fill="#000" stroke="#000" stroke-width="0.12" text-anchor="middle" font-weight="normal" >43</text><path d="M403.4,434.8 L403.40,402.80 A32.0,32.0 0 0 1 434.39,442.76 Z" fill="#000" stroke="#000" stroke-width="0.6"/><path d="M403.4,434.8 L434.39,442.76 A32.0,32.0 0 0 1 371.40,434.80 Z" fill="#808080" stroke="#000" stroke-width="0.6"/><path d="M403.4,434.8 L371.40,434.80 A32.0,32.0 0 0 1 403.40,402.80 Z" fill="#fff" stroke="#000" stroke-width="0.6"/><circle cx="403.4" cy="434.8" r="32.0" fill="none" stroke="#000" stroke-width="1"/><text x="418.80" y="429.30" font-size="10.4" fill="#fff" stroke="#fff" stroke-width="0.12" text-anchor="middle" font-weight="normal" >29</text><text x="402.00" y="455.50" font-size="10.4" fill="#fff" stroke="#fff" stroke-width="0.12" text-anchor="middle" font-weight="normal" >46</text><text x="388.50" y="426.90" font-size="10.4" fill="#000" stroke="#000" stroke-width="0.12" text-anchor="middle" font-weight="normal" >25</text><path d="M477.0,434.8 L477.00,402.80 A32.0,32.0 0 0 1 494.15,461.82 Z" fill="#000" stroke="#000" stroke-width="0.6"/><path d="M477.0,434.8 L494.15,461.82 A32.0,32.0 0 0 1 446.57,444.69 Z" fill="#808080" stroke="#000" stroke-width="0.6"/><path d="M477.0,434.8 L446.57,444.69 A32.0,32.0 0 0 1 477.00,402.80 Z" fill="#fff" stroke="#000" stroke-width="0.6"/><circle cx="477.0" cy="434.8" r="32.0" fill="none" stroke="#000" stroke-width="1"/><text x="493.00" y="434.00" font-size="10.4" fill="#fff" stroke="#fff" stroke-width="0.12" text-anchor="middle" font-weight="normal" >41</text><text x="470.30" y="456.20" font-size="10.4" fill="#fff" stroke="#fff" stroke-width="0.12" text-anchor="middle" font-weight="normal" >29</text><text x="462.70" y="425.90" font-size="10.4" fill="#000" stroke="#000" stroke-width="0.12" text-anchor="middle" font-weight="normal" >30</text><g clip-path="url(#pc00)"><polygon points="80.9,283.2 81.9,282.3 82.9,282.7 83.9,281.7 84.9,280.4 85.9,279.8 86.9,280.9 87.9,280.2 88.9,280.0 89.9,278.7 90.9,279.0 91.9,277.6 92.9,276.7 93.9,276.9 94.9,275.6 95.9,275.3 96.9,275.9 97.9,274.3 98.9,274.4 99.9,273.6 100.9,273.3 101.9,272.0 102.9,272.0 103.9,272.0 104.9,270.7 105.9,269.7 106.9,270.2 107.9,269.9 108.9,269.0 109.9,267.4 110.9,266.8 111.9,266.9 112.9,265.9 113.9,265.6 114.9,266.0 115.9,266.1 116.9,264.5 117.9,264.2 118.9,264.1 119.9,263.9 120.9,263.0 121.9,262.4 122.9,262.3 123.9,261.7 124.9,260.9 125.9,259.6 126.9,259.6 127.9,259.8 128.9,259.3 129.9,258.4 130.9,258.5 131.9,258.0 132.9,256.9 133.9,257.3 134.9,256.0 135.9,255.7 136.9,254.5 137.9,254.0 138.9,253.6 139.9,253.1 140.9,253.3 140.9,257.4 139.9,259.3 138.9,260.2 137.9,259.9 136.9,261.1 135.9,260.4 134.9,260.4 133.9,262.9 132.9,263.2 131.9,263.6 130.9,263.6 129.9,264.0 128.9,263.8 127.9,264.0 126.9,265.6 125.9,267.1 124.9,266.5 123.9,266.2 122.9,266.4 121.9,267.4 120.9,268.0 119.9,269.8 118.9,270.3 117.9,269.9 116.9,270.8 115.9,270.7 114.9,270.4 113.9,271.5 112.9,271.8 111.9,272.0 110.9,273.4 109.9,273.2 108.9,273.4 107.9,273.6 106.9,275.7 105.9,275.1 104.9,275.9 103.9,276.0 102.9,275.8 101.9,278.1 100.9,277.6 99.9,279.1 98.9,279.6 97.9,279.8 96.9,280.1 95.9,280.9 94.9,281.3 93.9,280.4 92.9,281.1 91.9,280.8 90.9,281.4 89.9,281.7 88.9,283.2 87.9,281.8 86.9,284.0 85.9,284.8 84.9,284.2 83.9,284.9 82.9,284.6 81.9,285.5 80.9,285.1" fill="#8080f2" fill-opacity="1"/><polygon points="80.9,279.6 81.9,279.3 82.9,278.4 83.9,279.0 84.9,278.3 85.9,276.5 86.9,276.5 87.9,275.5 88.9,275.4 89.9,273.4 90.9,273.5 91.9,272.4 92.9,273.0 93.9,271.6 94.9,271.7 95.9,269.7 96.9,269.8 97.9,269.8 98.9,269.2 99.9,267.8 100.9,268.0 101.9,267.2 102.9,266.2 103.9,265.5 104.9,264.8 105.9,264.1 106.9,264.0 107.9,263.0 108.9,263.2 109.9,262.4 110.9,261.0 111.9,261.5 112.9,260.9 113.9,260.3 114.9,259.4 115.9,259.7 116.9,259.1 117.9,257.9 118.9,257.8 119.9,256.5 120.9,255.8 121.9,255.6 122.9,255.0 123.9,255.0 124.9,255.1 125.9,253.9 126.9,253.6 127.9,252.7 128.9,253.0 129.9,252.4 130.9,251.0 131.9,251.5 132.9,250.8 133.9,249.5 134.9,250.2 135.9,249.9 136.9,248.6 137.9,248.4 138.9,247.9 139.9,248.5 140.9,247.4 140.9,254.6 139.9,255.2 138.9,255.6 137.9,257.0 136.9,256.0 135.9,256.8 134.9,257.5 133.9,258.3 132.9,258.6 131.9,260.0 130.9,260.4 129.9,260.2 128.9,261.3 127.9,260.8 126.9,262.4 125.9,262.1 124.9,262.7 123.9,262.6 122.9,263.0 121.9,264.6 120.9,264.0 119.9,264.7 118.9,265.4 117.9,265.5 116.9,267.0 115.9,267.3 114.9,267.6 113.9,268.2 112.9,268.2 111.9,269.3 110.9,269.3 109.9,270.9 108.9,270.9 107.9,270.5 106.9,272.0 105.9,272.6 104.9,271.9 103.9,272.5 102.9,273.6 101.9,274.8 100.9,274.2 99.9,275.2 98.9,275.4 97.9,276.2 96.9,276.4 95.9,276.5 94.9,278.4 93.9,277.6 92.9,279.2 91.9,278.6 90.9,279.7 89.9,280.0 88.9,280.3 87.9,281.2 86.9,280.9 85.9,281.4 84.9,283.1 83.9,284.0 82.9,283.4 81.9,284.7 80.9,285.6" fill="#00c800" fill-opacity="0.45"/><polyline points="80.9,279.6 81.9,279.3 82.9,278.4 83.9,279.0 84.9,278.3 85.9,276.5 86.9,276.5 87.9,275.5 88.9,275.4 89.9,273.4 90.9,273.5 91.9,272.4 92.9,273.0 93.9,271.6 94.9,271.7 95.9,269.7 96.9,269.8 97.9,269.8 98.9,269.2 99.9,267.8 100.9,268.0 101.9,267.2 102.9,266.2 103.9,265.5 104.9,264.8 105.9,264.1 106.9,264.0 107.9,263.0 108.9,263.2 109.9,262.4 110.9,261.0 111.9,261.5 112.9,260.9 113.9,260.3 114.9,259.4 115.9,259.7 116.9,259.1 117.9,257.9 118.9,257.8 119.9,256.5 120.9,255.8 121.9,255.6 122.9,255.0 123.9,255.0 124.9,255.1 125.9,253.9 126.9,253.6 127.9,252.7 128.9,253.0 129.9,252.4 130.9,251.0 131.9,251.5 132.9,250.8 133.9,249.5 134.9,250.2 135.9,249.9 136.9,248.6 137.9,248.4 138.9,247.9 139.9,248.5 140.9,247.4" fill="none" stroke="#22cc22" stroke-width="1.1" stroke-linejoin="round"/><polyline points="80.9,285.6 81.9,284.7 82.9,283.4 83.9,284.0 84.9,283.1 85.9,281.4 86.9,280.9 87.9,281.2 88.9,280.3 89.9,280.0 90.9,279.7 91.9,278.6 92.9,279.2 93.9,277.6 94.9,278.4 95.9,276.5 96.9,276.4 97.9,276.2 98.9,275.4 99.9,275.2 100.9,274.2 101.9,274.8 102.9,273.6 103.9,272.5 104.9,271.9 105.9,272.6 106.9,272.0 107.9,270.5 108.9,270.9 109.9,270.9 110.9,269.3 111.9,269.3 112.9,268.2 113.9,268.2 114.9,267.6 115.9,267.3 116.9,267.0 117.9,265.5 118.9,265.4 119.9,264.7 120.9,264.0 121.9,264.6 122.9,263.0 123.9,262.6 124.9,262.7 125.9,262.1 126.9,262.4 127.9,260.8 128.9,261.3 129.9,260.2 130.9,260.4 131.9,260.0 132.9,258.6 133.9,258.3 134.9,257.5 135.9,256.8 136.9,256.0 137.9,257.0 138.9,255.6 139.9,255.2 140.9,254.6" fill="none" stroke="#22cc22" stroke-width="1.1" stroke-linejoin="round"/><polyline points="80.9,284.3 81.9,284.0 82.9,283.7 83.9,282.9 84.9,282.2 85.9,282.2 86.9,282.0 87.9,281.5 88.9,281.0 89.9,279.9 90.9,279.7 91.9,279.0 92.9,279.1 93.9,278.5 94.9,277.7 95.9,277.1 96.9,277.0 97.9,276.8 98.9,275.6 99.9,275.6 100.9,274.8 101.9,274.8 102.9,273.8 103.9,273.2 104.9,272.8 105.9,272.6 106.9,271.8 107.9,271.8 108.9,271.2 109.9,270.6 110.9,269.7 111.9,269.8 112.9,268.7 113.9,268.2 114.9,267.6 115.9,267.6 116.9,267.2 117.9,266.6 118.9,265.6 119.9,265.0 120.9,264.7 121.9,264.4 122.9,264.0 123.9,263.0 124.9,262.5 125.9,262.6 126.9,262.0 127.9,260.9 128.9,260.4 129.9,260.3 130.9,259.8 131.9,259.1 132.9,258.5 133.9,258.3 134.9,257.1 135.9,256.9 136.9,256.1 137.9,256.0 138.9,254.9 139.9,254.5 140.9,254.3" fill="none" stroke="#000" stroke-width="1.1" stroke-linejoin="round"/><polyline points="80.9,282.9 81.9,282.2 82.9,281.4 83.9,281.1 84.9,280.4 85.9,279.7 86.9,279.6 87.9,278.7 88.9,278.4 89.9,277.7 90.9,277.3 91.9,276.5 92.9,275.9 93.9,275.1 94.9,274.4 95.9,273.7 96.9,273.4 97.9,272.4 98.9,272.3 99.9,271.4 100.9,271.0 101.9,270.4 102.9,270.1 103.9,269.0 104.9,268.6 105.9,268.6 106.9,267.7 107.9,266.8 108.9,267.0 109.9,266.3 110.9,265.4 111.9,265.4 112.9,264.3 113.9,263.9 114.9,263.3 115.9,262.9 116.9,262.1 117.9,262.0 118.9,261.3 119.9,261.2 120.9,260.3 121.9,259.9 122.9,259.0 123.9,258.5 124.9,258.7 125.9,258.3 126.9,257.7 127.9,257.1 128.9,256.2 129.9,255.9 130.9,255.4 131.9,255.0 132.9,254.9 133.9,254.1 134.9,253.1 135.9,252.8 136.9,252.6 137.9,252.4 138.9,251.4 139.9,251.3 140.9,250.7" fill="none" stroke="#000" stroke-width="1.1" stroke-linejoin="round"/></g><path d="M80.9,244.29999999999998 V288.5 M77.7,248.6 H80.9 M77.7,267.05 H80.9 M77.7,285.5 H140.9 M110.9,285.5 V288.5 M140.9,285.5 V288.5" fill="none" stroke="#222" stroke-width="1"/><text x="82.30" y="251.90" font-size="10.5" fill="#000" stroke="#000" stroke-width="0.12" text-anchor="start" font-weight="normal" >470±51</text><g clip-path="url(#pc01)"><polygon points="153.6,275.8 154.6,274.9 155.6,274.2 156.6,273.4 157.6,273.5 158.6,271.6 159.6,272.0 160.6,270.5 161.6,269.9 162.6,269.2 163.6,269.4 164.6,268.9 165.6,267.4 166.6,267.6 167.6,267.6 168.6,265.6 169.6,266.9 170.6,264.6 171.6,265.4 172.6,264.8 173.6,263.1 174.6,263.8 175.6,262.8 176.6,263.0 177.6,261.6 178.6,261.6 179.6,261.8 180.6,262.2 181.6,261.3 182.6,260.7 183.6,260.9 184.6,260.0 185.6,260.4 186.6,259.6 187.6,259.2 188.6,258.7 189.6,258.3 190.6,258.1 191.6,258.5 192.6,258.2 193.6,257.2 194.6,258.1 195.6,257.1 196.6,256.4 197.6,256.4 198.6,257.1 199.6,257.5 200.6,256.7 201.6,256.5 202.6,256.7 203.6,257.0 204.6,256.8 205.6,257.5 206.6,257.0 207.6,257.3 208.6,256.2 209.6,255.6 210.6,257.3 211.6,257.6 212.6,256.2 213.6,257.0 213.6,269.4 212.6,269.2 211.6,269.4 210.6,267.8 209.6,269.1 208.6,269.1 207.6,269.3 206.6,268.9 205.6,269.9 204.6,268.8 203.6,269.6 202.6,269.7 201.6,269.2 200.6,268.7 199.6,268.8 198.6,270.5 197.6,269.7 196.6,270.4 195.6,269.4 194.6,270.5 193.6,269.9 192.6,271.0 191.6,272.1 190.6,270.5 189.6,270.8 188.6,272.5 187.6,271.0 186.6,273.0 185.6,273.4 184.6,273.0 183.6,272.2 182.6,274.3 181.6,273.5 180.6,273.1 179.6,275.1 178.6,273.8 177.6,275.0 176.6,275.2 175.6,274.8 174.6,274.7 173.6,275.3 172.6,277.6 171.6,276.6 170.6,276.2 169.6,276.4 168.6,277.4 167.6,279.2 166.6,278.4 165.6,278.0 164.6,279.8 163.6,280.0 162.6,280.6 161.6,280.6 160.6,281.7 159.6,280.7 158.6,281.4 157.6,282.5 156.6,282.8 155.6,284.5 154.6,285.3 153.6,284.7" fill="#8080f2" fill-opacity="1"/><polygon points="153.6,272.3 154.6,270.3 155.6,271.0 156.6,268.9 157.6,269.2 158.6,267.8 159.6,268.5 160.6,267.1 161.6,266.8 162.6,265.4 163.6,264.9 164.6,264.6 165.6,263.6 166.6,262.5 167.6,263.4 168.6,262.1 169.6,261.3 170.6,260.8 171.6,260.9 172.6,259.4 173.6,259.9 174.6,258.4 175.6,258.5 176.6,258.6 177.6,257.0 178.6,257.7 179.6,256.1 180.6,256.0 181.6,255.1 182.6,254.8 183.6,255.0 184.6,255.1 185.6,254.5 186.6,254.5 187.6,253.1 188.6,253.7 189.6,253.2 190.6,252.7 191.6,252.1 192.6,251.3 193.6,251.4 194.6,251.0 195.6,251.4 196.6,250.8 197.6,250.7 198.6,249.6 199.6,250.5 200.6,249.3 201.6,249.0 202.6,249.1 203.6,249.6 204.6,249.1 205.6,249.0 206.6,248.7 207.6,248.6 208.6,247.3 209.6,247.4 210.6,247.2 211.6,247.3 212.6,247.8 213.6,246.8 213.6,260.0 212.6,259.0 211.6,259.1 210.6,259.6 209.6,260.6 208.6,260.2 207.6,260.2 206.6,261.4 205.6,260.0 204.6,261.3 203.6,261.5 202.6,262.1 201.6,261.1 200.6,262.4 199.6,261.9 198.6,261.8 197.6,262.9 196.6,263.5 195.6,263.6 194.6,263.6 193.6,264.7 192.6,264.5 191.6,264.2 190.6,265.5 189.6,265.1 188.6,266.0 187.6,266.8 186.6,266.9 185.6,267.7 184.6,267.8 183.6,267.4 182.6,267.9 181.6,268.0 180.6,268.6 179.6,270.1 178.6,269.6 177.6,270.5 176.6,271.4 175.6,271.9 174.6,271.7 173.6,272.5 172.6,272.5 171.6,273.9 170.6,274.0 169.6,274.0 168.6,274.4 167.6,275.4 166.6,275.6 165.6,276.7 164.6,277.5 163.6,277.5 162.6,277.8 161.6,278.3 160.6,279.4 159.6,280.2 158.6,280.1 157.6,280.6 156.6,282.1 155.6,282.0 154.6,283.5 153.6,283.7" fill="#00c800" fill-opacity="0.45"/><polyline points="153.6,272.3 154.6,270.3 155.6,271.0 156.6,268.9 157.6,269.2 158.6,267.8 159.6,268.5 160.6,267.1 161.6,266.8 162.6,265.4 163.6,264.9 164.6,264.6 165.6,263.6 166.6,262.5 167.6,263.4 168.6,262.1 169.6,261.3 170.6,260.8 171.6,260.9 172.6,259.4 173.6,259.9 174.6,258.4 175.6,258.5 176.6,258.6 177.6,257.0 178.6,257.7 179.6,256.1 180.6,256.0 181.6,255.1 182.6,254.8 183.6,255.0 184.6,255.1 185.6,254.5 186.6,254.5 187.6,253.1 188.6,253.7 189.6,253.2 190.6,252.7 191.6,252.1 192.6,251.3 193.6,251.4 194.6,251.0 195.6,251.4 196.6,250.8 197.6,250.7 198.6,249.6 199.6,250.5 200.6,249.3 201.6,249.0 202.6,249.1 203.6,249.6 204.6,249.1 205.6,249.0 206.6,248.7 207.6,248.6 208.6,247.3 209.6,247.4 210.6,247.2 211.6,247.3 212.6,247.8 213.6,246.8" fill="none" stroke="#22cc22" stroke-width="1.1" stroke-linejoin="round"/><polyline points="153.6,283.7 154.6,283.5 155.6,282.0 156.6,282.1 157.6,280.6 158.6,280.1 159.6,280.2 160.6,279.4 161.6,278.3 162.6,277.8 163.6,277.5 164.6,277.5 165.6,276.7 166.6,275.6 167.6,275.4 168.6,274.4 169.6,274.0 170.6,274.0 171.6,273.9 172.6,272.5 173.6,272.5 174.6,271.7 175.6,271.9 176.6,271.4 177.6,270.5 178.6,269.6 179.6,270.1 180.6,268.6 181.6,268.0 182.6,267.9 183.6,267.4 184.6,267.8 185.6,267.7 186.6,266.9 187.6,266.8 188.6,266.0 189.6,265.1 190.6,265.5 191.6,264.2 192.6,264.5 193.6,264.7 194.6,263.6 195.6,263.6 196.6,263.5 197.6,262.9 198.6,261.8 199.6,261.9 200.6,262.4 201.6,261.1 202.6,262.1 203.6,261.5 204.6,261.3 205.6,260.0 206.6,261.4 207.6,260.2 208.6,260.2 209.6,260.6 210.6,259.6 211.6,259.1 212.6,259.0 213.6,260.0" fill="none" stroke="#22cc22" stroke-width="1.1" stroke-linejoin="round"/><polyline points="153.6,280.7 154.6,279.8 155.6,278.8 156.6,278.1 157.6,277.9 158.6,277.4 159.6,276.4 160.6,276.1 161.6,275.6 162.6,274.9 163.6,274.9 164.6,273.7 165.6,273.8 166.6,272.9 167.6,272.1 168.6,271.9 169.6,271.6 170.6,270.9 171.6,270.3 172.6,270.1 173.6,270.1 174.6,269.0 175.6,269.3 176.6,268.3 177.6,267.8 178.6,268.0 179.6,267.3 180.6,266.8 181.6,266.9 182.6,266.5 183.6,266.3 184.6,265.9 185.6,265.6 186.6,265.2 187.6,264.5 188.6,264.3 189.6,264.0 190.6,263.8 191.6,263.4 192.6,263.7 193.6,263.2 194.6,263.4 195.6,262.8 196.6,262.3 197.6,262.4 198.6,262.4 199.6,262.2 200.6,262.0 201.6,261.4 202.6,261.2 203.6,261.3 204.6,261.0 205.6,261.0 206.6,261.3 207.6,261.1 208.6,260.8 209.6,260.8 210.6,260.7 211.6,260.8 212.6,261.1 213.6,260.4" fill="none" stroke="#000" stroke-width="1.1" stroke-linejoin="round"/><polyline points="153.6,278.1 154.6,277.6 155.6,276.4 156.6,275.8 157.6,275.4 158.6,274.1 159.6,273.5 160.6,272.8 161.6,271.9 162.6,271.4 163.6,271.0 164.6,269.6 165.6,269.4 166.6,268.7 167.6,268.3 168.6,267.1 169.6,266.3 170.6,266.0 171.6,265.2 172.6,265.0 173.6,264.4 174.6,263.9 175.6,263.3 176.6,262.6 177.6,262.3 178.6,262.0 179.6,261.0 180.6,260.8 181.6,260.3 182.6,260.0 183.6,259.7 184.6,258.8 185.6,258.5 186.6,257.7 187.6,258.1 188.6,257.1 189.6,257.4 190.6,256.9 191.6,256.7 192.6,256.0 193.6,255.8 194.6,255.6 195.6,254.8 196.6,254.8 197.6,254.3 198.6,254.1 199.6,254.4 200.6,253.9 201.6,254.1 202.6,253.8 203.6,253.3 204.6,253.3 205.6,253.6 206.6,253.5 207.6,252.8 208.6,252.7 209.6,252.7 210.6,253.0 211.6,252.5 212.6,252.6 213.6,253.0" fill="none" stroke="#000" stroke-width="1.1" stroke-linejoin="round"/></g><path d="M153.6,244.29999999999998 V288.5 M150.4,248.6 H153.6 M150.4,267.05 H153.6 M150.4,285.5 H213.6 M183.6,285.5 V288.5 M213.6,285.5 V288.5" fill="none" stroke="#222" stroke-width="1"/><text x="155.00" y="251.90" font-size="10.5" fill="#000" stroke="#000" stroke-width="0.12" text-anchor="start" font-weight="normal" >673±94</text><g clip-path="url(#pc02)"><polygon points="227.6,281.8 228.6,280.1 229.6,278.6 230.6,278.7 231.6,278.6 232.6,277.0 233.6,277.3 234.6,275.8 235.6,275.5 236.6,275.7 237.6,274.0 238.6,273.4 239.6,271.9 240.6,271.7 241.6,271.9 242.6,270.6 243.6,270.8 244.6,269.3 245.6,268.9 246.6,268.3 247.6,268.6 248.6,266.9 249.6,266.8 250.6,265.8 251.6,266.7 252.6,264.8 253.6,263.8 254.6,264.1 255.6,264.5 256.6,262.4 257.6,262.7 258.6,262.8 259.6,261.6 260.6,260.7 261.6,261.8 262.6,260.5 263.6,259.9 264.6,258.9 265.6,260.3 266.6,259.0 267.6,258.1 268.6,257.9 269.6,257.1 270.6,257.2 271.6,256.9 272.6,256.6 273.6,257.2 274.6,255.5 275.6,255.9 276.6,256.6 277.6,254.7 278.6,254.7 279.6,254.5 280.6,255.5 281.6,253.9 282.6,254.4 283.6,253.2 284.6,254.3 285.6,253.8 286.6,254.0 287.6,254.0 287.6,260.4 286.6,262.5 285.6,261.7 284.6,261.6 283.6,261.8 282.6,261.5 281.6,263.3 280.6,263.6 279.6,262.7 278.6,262.0 277.6,263.3 276.6,263.5 275.6,263.2 274.6,263.2 273.6,264.9 272.6,264.5 271.6,264.9 270.6,264.3 269.6,264.7 268.6,265.3 267.6,267.0 266.6,265.4 265.6,267.3 264.6,266.5 263.6,268.2 262.6,267.6 261.6,268.9 260.6,268.2 259.6,269.6 258.6,268.8 257.6,269.6 256.6,270.2 255.6,269.8 254.6,271.5 253.6,271.4 252.6,271.1 251.6,272.2 250.6,273.4 249.6,272.1 248.6,272.7 247.6,274.9 246.6,274.8 245.6,275.6 244.6,276.9 243.6,276.8 242.6,277.2 241.6,277.2 240.6,277.3 239.6,277.3 238.6,278.3 237.6,280.6 236.6,278.9 235.6,281.4 234.6,281.7 233.6,280.7 232.6,281.9 231.6,281.9 230.6,284.1 229.6,284.4 228.6,284.4 227.6,285.9" fill="#8080f2" fill-opacity="1"/><polygon points="227.6,278.3 228.6,277.4 229.6,275.8 230.6,275.7 231.6,274.8 232.6,273.2 233.6,273.6 234.6,271.5 235.6,271.6 236.6,270.2 237.6,269.4 238.6,269.0 239.6,269.3 240.6,267.6 241.6,267.3 242.6,266.8 243.6,265.8 244.6,264.9 245.6,264.7 246.6,264.0 247.6,263.7 248.6,263.2 249.6,261.8 250.6,260.7 251.6,261.5 252.6,260.0 253.6,259.6 254.6,258.8 255.6,258.9 256.6,258.5 257.6,257.9 258.6,256.5 259.6,256.0 260.6,255.5 261.6,255.9 262.6,255.3 263.6,255.0 264.6,253.9 265.6,254.2 266.6,252.9 267.6,252.4 268.6,252.5 269.6,252.7 270.6,252.1 271.6,251.2 272.6,250.6 273.6,251.1 274.6,250.0 275.6,249.3 276.6,249.2 277.6,248.7 278.6,248.3 279.6,249.1 280.6,248.9 281.6,247.5 282.6,248.1 283.6,248.3 284.6,247.2 285.6,247.2 286.6,247.5 287.6,246.1 287.6,257.4 286.6,256.7 285.6,256.5 284.6,257.1 283.6,256.8 282.6,258.0 281.6,257.8 280.6,258.4 279.6,257.9 278.6,258.5 277.6,258.2 276.6,258.6 275.6,259.9 274.6,259.9 273.6,260.2 272.6,260.1 271.6,260.6 270.6,261.7 269.6,261.8 268.6,262.6 267.6,262.7 266.6,263.3 265.6,263.3 264.6,263.6 263.6,263.5 262.6,263.8 261.6,264.8 260.6,265.2 259.6,265.8 258.6,265.3 257.6,266.7 256.6,266.4 255.6,267.2 254.6,267.8 253.6,268.7 252.6,269.2 251.6,269.8 250.6,270.6 249.6,271.3 248.6,271.3 247.6,271.5 246.6,272.6 245.6,273.4 244.6,273.8 243.6,273.2 242.6,274.1 241.6,274.5 240.6,275.3 239.6,275.7 238.6,276.8 237.6,278.1 236.6,279.0 235.6,278.7 234.6,279.8 233.6,279.7 232.6,281.5 231.6,281.2 230.6,283.3 229.6,283.6 228.6,283.2 227.6,284.8" fill="#00c800" fill-opacity="0.45"/><polyline points="227.6,278.3 228.6,277.4 229.6,275.8 230.6,275.7 231.6,274.8 232.6,273.2 233.6,273.6 234.6,271.5 235.6,271.6 236.6,270.2 237.6,269.4 238.6,269.0 239.6,269.3 240.6,267.6 241.6,267.3 242.6,266.8 243.6,265.8 244.6,264.9 245.6,264.7 246.6,264.0 247.6,263.7 248.6,263.2 249.6,261.8 250.6,260.7 251.6,261.5 252.6,260.0 253.6,259.6 254.6,258.8 255.6,258.9 256.6,258.5 257.6,257.9 258.6,256.5 259.6,256.0 260.6,255.5 261.6,255.9 262.6,255.3 263.6,255.0 264.6,253.9 265.6,254.2 266.6,252.9 267.6,252.4 268.6,252.5 269.6,252.7 270.6,252.1 271.6,251.2 272.6,250.6 273.6,251.1 274.6,250.0 275.6,249.3 276.6,249.2 277.6,248.7 278.6,248.3 279.6,249.1 280.6,248.9 281.6,247.5 282.6,248.1 283.6,248.3 284.6,247.2 285.6,247.2 286.6,247.5 287.6,246.1" fill="none" stroke="#22cc22" stroke-width="1.1" stroke-linejoin="round"/><polyline points="227.6,284.8 228.6,283.2 229.6,283.6 230.6,283.3 231.6,281.2 232.6,281.5 233.6,279.7 234.6,279.8 235.6,278.7 236.6,279.0 237.6,278.1 238.6,276.8 239.6,275.7 240.6,275.3 241.6,274.5 242.6,274.1 243.6,273.2 244.6,273.8 245.6,273.4 246.6,272.6 247.6,271.5 248.6,271.3 249.6,271.3 250.6,270.6 251.6,269.8 252.6,269.2 253.6,268.7 254.6,267.8 255.6,267.2 256.6,266.4 257.6,266.7 258.6,265.3 259.6,265.8 260.6,265.2 261.6,264.8 262.6,263.8 263.6,263.5 264.6,263.6 265.6,263.3 266.6,263.3 267.6,262.7 268.6,262.6 269.6,261.8 270.6,261.7 271.6,260.6 272.6,260.1 273.6,260.2 274.6,259.9 275.6,259.9 276.6,258.6 277.6,258.2 278.6,258.5 279.6,257.9 280.6,258.4 281.6,257.8 282.6,258.0 283.6,256.8 284.6,257.1 285.6,256.5 286.6,256.7 287.6,257.4" fill="none" stroke="#22cc22" stroke-width="1.1" stroke-linejoin="round"/><polyline points="227.6,283.0 228.6,282.2 229.6,281.5 230.6,281.0 231.6,279.6 232.6,278.9 233.6,279.0 234.6,278.3 235.6,277.4 236.6,276.2 237.6,276.0 238.6,275.0 239.6,274.8 240.6,274.0 241.6,273.1 242.6,272.7 243.6,272.3 244.6,271.6 245.6,270.9 246.6,270.5 247.6,270.1 248.6,269.5 249.6,268.5 250.6,268.4 251.6,267.9 252.6,267.3 253.6,266.2 254.6,265.7 255.6,265.6 256.6,265.3 257.6,264.7 258.6,263.8 259.6,263.6 260.6,262.9 261.6,262.5 262.6,262.1 263.6,261.6 264.6,261.5 265.6,261.3 266.6,260.4 267.6,259.9 268.6,259.7 269.6,259.7 270.6,258.8 271.6,258.4 272.6,258.1 273.6,257.9 274.6,257.4 275.6,257.6 276.6,257.0 277.6,256.4 278.6,256.1 279.6,255.9 280.6,255.8 281.6,255.5 282.6,255.4 283.6,255.3 284.6,254.5 285.6,254.5 286.6,254.5 287.6,254.3" fill="none" stroke="#000" stroke-width="1.1" stroke-linejoin="round"/><polyline points="227.6,281.6 228.6,280.6 229.6,279.5 230.6,278.9 231.6,278.4 232.6,277.4 233.6,276.7 234.6,275.7 235.6,275.2 236.6,275.0 237.6,273.5 238.6,273.5 239.6,272.6 240.6,271.5 241.6,271.0 242.6,270.4 243.6,269.9 244.6,269.3 245.6,268.8 246.6,267.8 247.6,267.5 248.6,267.1 249.6,266.5 250.6,266.0 251.6,264.8 252.6,264.8 253.6,264.3 254.6,263.4 255.6,263.2 256.6,262.3 257.6,261.9 258.6,261.5 259.6,261.1 260.6,260.7 261.6,260.2 262.6,259.6 263.6,259.7 264.6,259.1 265.6,258.3 266.6,257.9 267.6,257.7 268.6,257.5 269.6,257.2 270.6,256.6 271.6,256.5 272.6,255.8 273.6,255.4 274.6,255.1 275.6,254.9 276.6,254.4 277.6,254.4 278.6,254.4 279.6,254.2 280.6,254.0 281.6,253.4 282.6,253.0 283.6,252.9 284.6,253.1 285.6,252.5 286.6,252.3 287.6,252.4" fill="none" stroke="#000" stroke-width="1.1" stroke-linejoin="round"/></g><path d="M227.6,244.29999999999998 V288.5 M224.4,248.6 H227.6 M224.4,267.05 H227.6 M224.4,285.5 H287.6 M257.6,285.5 V288.5 M287.6,285.5 V288.5" fill="none" stroke="#222" stroke-width="1"/><text x="229.00" y="251.90" font-size="10.5" fill="#000" stroke="#000" stroke-width="0.12" text-anchor="start" font-weight="normal" >423±37</text><g clip-path="url(#pc03)"><polygon points="300.7,279.9 301.7,280.6 302.7,279.3 303.7,280.3 304.7,279.4 305.7,278.2 306.7,278.3 307.7,278.6 308.7,277.3 309.7,277.7 310.7,276.8 311.7,277.5 312.7,277.0 313.7,276.8 314.7,277.8 315.7,277.4 316.7,277.2 317.7,276.8 318.7,275.0 319.7,275.5 320.7,275.2 321.7,274.5 322.7,275.9 323.7,274.5 324.7,274.8 325.7,274.9 326.7,273.9 327.7,273.6 328.7,273.9 329.7,273.5 330.7,273.0 331.7,273.8 332.7,272.6 333.7,273.2 334.7,272.1 335.7,272.3 336.7,272.4 337.7,271.4 338.7,272.2 339.7,272.7 340.7,271.9 341.7,272.0 342.7,270.6 343.7,272.1 344.7,271.0 345.7,271.0 346.7,271.7 347.7,270.4 348.7,270.5 349.7,270.6 350.7,269.4 351.7,271.0 352.7,269.8 353.7,270.3 354.7,269.7 355.7,269.9 356.7,269.1 357.7,268.5 358.7,270.0 359.7,269.1 360.7,268.4 360.7,283.5 359.7,283.2 358.7,282.8 357.7,284.9 356.7,283.9 355.7,284.6 354.7,284.3 353.7,284.8 352.7,284.2 351.7,283.9 350.7,284.6 349.7,283.6 348.7,285.3 347.7,284.2 346.7,283.4 345.7,284.5 344.7,285.1 343.7,284.5 342.7,283.5 341.7,283.9 340.7,285.4 339.7,284.4 338.7,283.1 337.7,284.3 336.7,285.0 335.7,284.3 334.7,284.8 333.7,283.1 332.7,284.6 331.7,285.0 330.7,284.7 329.7,283.4 328.7,283.4 327.7,284.7 326.7,284.2 325.7,284.8 324.7,284.8 323.7,283.7 322.7,285.8 321.7,284.2 320.7,284.3 319.7,283.5 318.7,285.7 317.7,283.7 316.7,284.6 315.7,284.7 314.7,284.2 313.7,285.4 312.7,286.0 311.7,284.9 310.7,286.2 309.7,286.3 308.7,284.0 307.7,286.3 306.7,284.8 305.7,284.8 304.7,285.1 303.7,286.3 302.7,284.3 301.7,285.9 300.7,286.0" fill="#8080f2" fill-opacity="1"/><polygon points="300.7,278.0 301.7,275.7 302.7,275.7 303.7,274.3 304.7,273.5 305.7,272.5 306.7,273.0 307.7,273.3 308.7,274.8 309.7,276.6 310.7,276.3 311.7,277.0 312.7,275.9 313.7,274.8 314.7,274.0 315.7,274.9 316.7,276.2 317.7,275.2 318.7,272.6 319.7,271.4 320.7,268.9 321.7,266.6 322.7,264.9 323.7,264.5 324.7,264.1 325.7,264.0 326.7,264.6 327.7,265.2 328.7,266.1 329.7,265.4 330.7,266.0 331.7,264.3 332.7,264.7 333.7,263.7 334.7,264.1 335.7,264.1 336.7,265.2 337.7,266.5 338.7,268.6 339.7,270.2 340.7,270.2 341.7,269.8 342.7,269.9 343.7,268.2 344.7,268.1 345.7,267.2 346.7,266.1 347.7,263.7 348.7,263.2 349.7,261.3 350.7,260.3 351.7,258.9 352.7,259.8 353.7,257.8 354.7,258.5 355.7,257.7 356.7,258.8 357.7,258.1 358.7,259.1 359.7,259.9 360.7,260.6 360.7,279.3 359.7,279.7 358.7,278.6 357.7,279.7 356.7,279.0 355.7,279.1 354.7,280.6 353.7,279.7 352.7,279.7 351.7,281.1 350.7,281.2 349.7,280.7 348.7,281.1 347.7,280.4 346.7,281.5 345.7,281.9 344.7,281.2 343.7,282.1 342.7,282.6 341.7,281.4 340.7,281.6 339.7,282.0 338.7,282.3 337.7,281.8 336.7,282.0 335.7,283.4 334.7,282.9 333.7,283.8 332.7,282.6 331.7,283.5 330.7,283.1 329.7,284.1 328.7,283.8 327.7,283.1 326.7,283.3 325.7,284.3 324.7,284.5 323.7,283.2 322.7,284.4 321.7,284.0 320.7,283.5 319.7,283.8 318.7,284.9 317.7,284.3 316.7,284.6 315.7,284.9 314.7,284.7 313.7,284.7 312.7,284.3 311.7,284.8 310.7,284.9 309.7,285.3 308.7,285.2 307.7,285.1 306.7,284.4 305.7,284.7 304.7,284.2 303.7,285.1 302.7,284.8 301.7,284.1 300.7,285.3" fill="#00c800" fill-opacity="0.45"/><polyline points="300.7,278.0 301.7,275.7 302.7,275.7 303.7,274.3 304.7,273.5 305.7,272.5 306.7,273.0 307.7,273.3 308.7,274.8 309.7,276.6 310.7,276.3 311.7,277.0 312.7,275.9 313.7,274.8 314.7,274.0 315.7,274.9 316.7,276.2 317.7,275.2 318.7,272.6 319.7,271.4 320.7,268.9 321.7,266.6 322.7,264.9 323.7,264.5 324.7,264.1 325.7,264.0 326.7,264.6 327.7,265.2 328.7,266.1 329.7,265.4 330.7,266.0 331.7,264.3 332.7,264.7 333.7,263.7 334.7,264.1 335.7,264.1 336.7,265.2 337.7,266.5 338.7,268.6 339.7,270.2 340.7,270.2 341.7,269.8 342.7,269.9 343.7,268.2 344.7,268.1 345.7,267.2 346.7,266.1 347.7,263.7 348.7,263.2 349.7,261.3 350.7,260.3 351.7,258.9 352.7,259.8 353.7,257.8 354.7,258.5 355.7,257.7 356.7,258.8 357.7,258.1 358.7,259.1 359.7,259.9 360.7,260.6" fill="none" stroke="#22cc22" stroke-width="1.1" stroke-linejoin="round"/><polyline points="300.7,285.3 301.7,284.1 302.7,284.8 303.7,285.1 304.7,284.2 305.7,284.7 306.7,284.4 307.7,285.1 308.7,285.2 309.7,285.3 310.7,284.9 311.7,284.8 312.7,284.3 313.7,284.7 314.7,284.7 315.7,284.9 316.7,284.6 317.7,284.3 318.7,284.9 319.7,283.8 320.7,283.5 321.7,284.0 322.7,284.4 323.7,283.2 324.7,284.5 325.7,284.3 326.7,283.3 327.7,283.1 328.7,283.8 329.7,284.1 330.7,283.1 331.7,283.5 332.7,282.6 333.7,283.8 334.7,282.9 335.7,283.4 336.7,282.0 337.7,281.8 338.7,282.3 339.7,282.0 340.7,281.6 341.7,281.4 342.7,282.6 343.7,282.1 344.7,281.2 345.7,281.9 346.7,281.5 347.7,280.4 348.7,281.1 349.7,280.7 350.7,281.2 351.7,281.1 352.7,279.7 353.7,279.7 354.7,280.6 355.7,279.1 356.7,279.0 357.7,279.7 358.7,278.6 359.7,279.7 360.7,279.3" fill="none" stroke="#22cc22" stroke-width="1.1" stroke-linejoin="round"/><polyline points="300.7,283.1 301.7,282.4 302.7,282.3 303.7,282.9 304.7,282.7 305.7,282.6 306.7,282.4 307.7,281.9 308.7,281.6 309.7,281.9 310.7,281.8 311.7,281.4 312.7,281.2 313.7,281.4 314.7,281.3 315.7,281.2 316.7,281.1 317.7,281.0 318.7,281.1 319.7,280.3 320.7,280.5 321.7,280.3 322.7,280.3 323.7,279.9 324.7,280.3 325.7,279.6 326.7,279.4 327.7,280.0 328.7,279.6 329.7,279.8 330.7,279.1 331.7,279.1 332.7,279.4 333.7,278.6 334.7,278.4 335.7,278.8 336.7,278.3 337.7,278.7 338.7,278.1 339.7,278.3 340.7,278.4 341.7,278.0 342.7,277.7 343.7,277.9 344.7,277.1 345.7,277.4 346.7,277.1 347.7,276.6 348.7,276.5 349.7,276.6 350.7,276.4 351.7,276.2 352.7,276.2 353.7,276.1 354.7,275.7 355.7,276.2 356.7,275.3 357.7,275.8 358.7,275.7 359.7,275.2 360.7,275.1" fill="none" stroke="#000" stroke-width="1.1" stroke-linejoin="round"/><polyline points="300.7,281.9 301.7,281.6 302.7,281.2 303.7,280.9 304.7,280.7 305.7,280.6 306.7,280.4 307.7,280.5 308.7,281.1 309.7,280.8 310.7,281.5 311.7,281.7 312.7,281.1 313.7,281.4 314.7,281.1 315.7,280.1 316.7,279.4 317.7,278.5 318.7,276.9 319.7,276.8 320.7,275.7 321.7,275.6 322.7,275.6 323.7,274.9 324.7,275.1 325.7,275.4 326.7,275.0 327.7,274.7 328.7,274.8 329.7,274.8 330.7,274.7 331.7,274.7 332.7,274.5 333.7,274.0 334.7,274.1 335.7,274.4 336.7,274.3 337.7,275.1 338.7,275.0 339.7,275.1 340.7,275.7 341.7,275.5 342.7,275.3 343.7,275.3 344.7,274.0 345.7,273.9 346.7,273.0 347.7,272.6 348.7,271.5 349.7,270.8 350.7,269.8 351.7,270.0 352.7,269.0 353.7,269.5 354.7,269.0 355.7,269.1 356.7,269.3 357.7,269.7 358.7,269.8 359.7,269.9 360.7,270.5" fill="none" stroke="#000" stroke-width="1.1" stroke-linejoin="round"/></g><path d="M300.7,244.29999999999998 V288.5 M297.5,248.6 H300.7 M297.5,267.05 H300.7 M297.5,285.5 H360.7 M330.7,285.5 V288.5 M360.7,285.5 V288.5" fill="none" stroke="#222" stroke-width="1"/><text x="302.10" y="251.90" font-size="10.5" fill="#000" stroke="#000" stroke-width="0.12" text-anchor="start" font-weight="normal" >535±22</text><g clip-path="url(#pc04)"><polygon points="373.5,253.6 374.5,252.6 375.5,253.0 376.5,254.2 377.5,254.8 378.5,253.7 379.5,255.2 380.5,256.2 381.5,254.9 382.5,256.6 383.5,256.6 384.5,256.6 385.5,257.2 386.5,258.1 387.5,258.4 388.5,258.2 389.5,259.3 390.5,258.1 391.5,259.7 392.5,260.3 393.5,260.6 394.5,260.9 395.5,259.8 396.5,261.1 397.5,260.8 398.5,261.0 399.5,262.9 400.5,262.1 401.5,262.0 402.5,263.6 403.5,262.5 404.5,263.6 405.5,264.0 406.5,263.3 407.5,265.3 408.5,264.1 409.5,265.8 410.5,265.5 411.5,266.8 412.5,266.6 413.5,267.1 414.5,266.3 415.5,266.2 416.5,268.3 417.5,268.8 418.5,267.8 419.5,267.5 420.5,267.8 421.5,268.3 422.5,268.9 423.5,269.5 424.5,271.0 425.5,269.4 426.5,270.4 427.5,270.9 428.5,272.1 429.5,272.1 430.5,272.1 431.5,271.1 432.5,272.0 433.5,272.2 433.5,285.4 432.5,285.1 431.5,284.2 430.5,283.3 429.5,283.9 428.5,282.5 427.5,283.3 426.5,281.5 425.5,283.0 424.5,282.3 423.5,280.5 422.5,280.5 421.5,281.3 420.5,281.0 419.5,280.5 418.5,279.8 417.5,279.8 416.5,279.2 415.5,279.3 414.5,279.4 413.5,277.7 412.5,279.8 411.5,279.6 410.5,278.3 409.5,277.3 408.5,276.5 407.5,277.7 406.5,278.0 405.5,276.9 404.5,277.5 403.5,276.9 402.5,276.4 401.5,276.0 400.5,274.5 399.5,275.0 398.5,273.5 397.5,275.1 396.5,272.6 395.5,274.4 394.5,271.8 393.5,272.8 392.5,272.8 391.5,271.4 390.5,271.7 389.5,270.4 388.5,270.7 387.5,271.0 386.5,270.2 385.5,269.2 384.5,269.1 383.5,269.2 382.5,267.5 381.5,268.2 380.5,268.4 379.5,266.5 378.5,267.9 377.5,266.6 376.5,266.9 375.5,266.7 374.5,265.0 373.5,265.5" fill="#8080f2" fill-opacity="1"/><polygon points="373.5,249.4 374.5,250.2 375.5,250.5 376.5,249.7 377.5,249.3 378.5,250.8 379.5,249.9 380.5,250.4 381.5,250.2 382.5,251.3 383.5,251.5 384.5,251.4 385.5,252.2 386.5,252.3 387.5,252.8 388.5,251.9 389.5,252.8 390.5,253.6 391.5,252.7 392.5,254.1 393.5,254.8 394.5,254.4 395.5,254.5 396.5,255.0 397.5,255.2 398.5,256.0 399.5,255.6 400.5,256.3 401.5,257.3 402.5,256.5 403.5,258.2 404.5,258.1 405.5,258.1 406.5,257.8 407.5,259.2 408.5,259.8 409.5,259.4 410.5,259.4 411.5,260.5 412.5,260.4 413.5,260.3 414.5,260.7 415.5,260.3 416.5,261.6 417.5,260.7 418.5,262.1 419.5,261.8 420.5,261.1 421.5,261.7 422.5,261.2 423.5,261.8 424.5,261.6 425.5,262.7 426.5,262.3 427.5,262.4 428.5,262.8 429.5,262.6 430.5,262.3 431.5,261.9 432.5,262.6 433.5,263.3 433.5,276.2 432.5,275.9 431.5,275.7 430.5,275.1 429.5,274.7 428.5,274.1 427.5,274.5 426.5,274.7 425.5,273.7 424.5,273.7 423.5,273.5 422.5,273.5 421.5,273.2 420.5,272.3 419.5,272.5 418.5,272.8 417.5,272.6 416.5,273.1 415.5,272.0 414.5,271.4 413.5,271.1 412.5,271.9 411.5,271.3 410.5,270.4 409.5,270.6 408.5,271.4 407.5,270.2 406.5,269.9 405.5,269.6 404.5,269.5 403.5,269.3 402.5,269.6 401.5,270.1 400.5,269.4 399.5,268.3 398.5,268.5 397.5,269.2 396.5,269.1 395.5,268.1 394.5,268.2 393.5,268.5 392.5,267.3 391.5,266.7 390.5,267.9 389.5,267.2 388.5,266.7 387.5,266.1 386.5,266.9 385.5,266.9 384.5,265.9 383.5,266.6 382.5,265.0 381.5,266.0 380.5,264.8 379.5,265.4 378.5,264.7 377.5,265.3 376.5,265.0 375.5,265.1 374.5,264.9 373.5,264.7" fill="#00c800" fill-opacity="0.45"/><polyline points="373.5,249.4 374.5,250.2 375.5,250.5 376.5,249.7 377.5,249.3 378.5,250.8 379.5,249.9 380.5,250.4 381.5,250.2 382.5,251.3 383.5,251.5 384.5,251.4 385.5,252.2 386.5,252.3 387.5,252.8 388.5,251.9 389.5,252.8 390.5,253.6 391.5,252.7 392.5,254.1 393.5,254.8 394.5,254.4 395.5,254.5 396.5,255.0 397.5,255.2 398.5,256.0 399.5,255.6 400.5,256.3 401.5,257.3 402.5,256.5 403.5,258.2 404.5,258.1 405.5,258.1 406.5,257.8 407.5,259.2 408.5,259.8 409.5,259.4 410.5,259.4 411.5,260.5 412.5,260.4 413.5,260.3 414.5,260.7 415.5,260.3 416.5,261.6 417.5,260.7 418.5,262.1 419.5,261.8 420.5,261.1 421.5,261.7 422.5,261.2 423.5,261.8 424.5,261.6 425.5,262.7 426.5,262.3 427.5,262.4 428.5,262.8 429.5,262.6 430.5,262.3 431.5,261.9 432.5,262.6 433.5,263.3" fill="none" stroke="#22cc22" stroke-width="1.1" stroke-linejoin="round"/><polyline points="373.5,264.7 374.5,264.9 375.5,265.1 376.5,265.0 377.5,265.3 378.5,264.7 379.5,265.4 380.5,264.8 381.5,266.0 382.5,265.0 383.5,266.6 384.5,265.9 385.5,266.9 386.5,266.9 387.5,266.1 388.5,266.7 389.5,267.2 390.5,267.9 391.5,266.7 392.5,267.3 393.5,268.5 394.5,268.2 395.5,268.1 396.5,269.1 397.5,269.2 398.5,268.5 399.5,268.3 400.5,269.4 401.5,270.1 402.5,269.6 403.5,269.3 404.5,269.5 405.5,269.6 406.5,269.9 407.5,270.2 408.5,271.4 409.5,270.6 410.5,270.4 411.5,271.3 412.5,271.9 413.5,271.1 414.5,271.4 415.5,272.0 416.5,273.1 417.5,272.6 418.5,272.8 419.5,272.5 420.5,272.3 421.5,273.2 422.5,273.5 423.5,273.5 424.5,273.7 425.5,273.7 426.5,274.7 427.5,274.5 428.5,274.1 429.5,274.7 430.5,275.1 431.5,275.7 432.5,275.9 433.5,276.2" fill="none" stroke="#22cc22" stroke-width="1.1" stroke-linejoin="round"/><polyline points="373.5,258.7 374.5,258.9 375.5,259.2 376.5,259.5 377.5,259.7 378.5,260.4 379.5,260.2 380.5,260.5 381.5,261.1 382.5,261.4 383.5,262.0 384.5,262.5 385.5,262.7 386.5,262.9 387.5,263.5 388.5,263.7 389.5,264.0 390.5,264.4 391.5,264.7 392.5,265.3 393.5,266.1 394.5,266.5 395.5,266.8 396.5,267.2 397.5,267.8 398.5,268.3 399.5,268.3 400.5,268.9 401.5,269.1 402.5,270.1 403.5,270.0 404.5,270.5 405.5,271.0 406.5,271.6 407.5,271.2 408.5,272.3 409.5,271.9 410.5,272.6 411.5,272.5 412.5,273.5 413.5,273.8 414.5,273.8 415.5,274.0 416.5,274.2 417.5,274.8 418.5,274.8 419.5,275.3 420.5,275.8 421.5,276.1 422.5,276.3 423.5,276.0 424.5,276.8 425.5,276.8 426.5,277.4 427.5,277.0 428.5,277.3 429.5,278.2 430.5,278.4 431.5,278.1 432.5,278.8 433.5,279.2" fill="none" stroke="#000" stroke-width="1.1" stroke-linejoin="round"/><polyline points="373.5,256.4 374.5,256.8 375.5,256.8 376.5,257.0 377.5,257.2 378.5,257.8 379.5,257.7 380.5,258.0 381.5,258.4 382.5,258.2 383.5,258.1 384.5,258.2 385.5,259.1 386.5,258.8 387.5,259.6 388.5,259.7 389.5,259.9 390.5,260.1 391.5,260.5 392.5,260.6 393.5,261.0 394.5,260.7 395.5,260.9 396.5,261.4 397.5,262.0 398.5,262.2 399.5,262.5 400.5,262.1 401.5,262.7 402.5,263.3 403.5,263.2 404.5,263.7 405.5,263.7 406.5,264.1 407.5,264.2 408.5,264.3 409.5,264.8 410.5,265.4 411.5,265.4 412.5,265.5 413.5,266.0 414.5,265.7 415.5,266.0 416.5,266.7 417.5,266.4 418.5,266.6 419.5,266.9 420.5,267.2 421.5,267.4 422.5,267.9 423.5,268.1 424.5,267.7 425.5,268.1 426.5,268.2 427.5,268.3 428.5,268.2 429.5,268.6 430.5,268.9 431.5,269.0 432.5,269.4 433.5,269.0" fill="none" stroke="#000" stroke-width="1.1" stroke-linejoin="round"/></g><path d="M373.5,244.29999999999998 V288.5 M370.3,248.6 H373.5 M370.3,267.05 H373.5 M370.3,285.5 H433.5 M403.5,285.5 V288.5 M433.5,285.5 V288.5" fill="none" stroke="#222" stroke-width="1"/><text x="374.90" y="251.90" font-size="10.5" fill="#000" stroke="#000" stroke-width="0.12" text-anchor="start" font-weight="normal" >807±19</text><g clip-path="url(#pc05)"><polygon points="446.5,277.9 447.5,278.7 448.5,276.9 449.5,276.0 450.5,275.8 451.5,276.0 452.5,275.7 453.5,274.6 454.5,274.6 455.5,275.1 456.5,273.7 457.5,273.1 458.5,273.8 459.5,273.5 460.5,272.8 461.5,273.2 462.5,271.4 463.5,272.2 464.5,270.7 465.5,271.1 466.5,270.9 467.5,269.3 468.5,268.5 469.5,269.4 470.5,267.8 471.5,268.9 472.5,268.0 473.5,267.6 474.5,266.6 475.5,266.7 476.5,266.5 477.5,265.2 478.5,265.1 479.5,264.1 480.5,264.0 481.5,263.8 482.5,263.1 483.5,262.0 484.5,261.7 485.5,262.0 486.5,261.2 487.5,261.6 488.5,259.4 489.5,258.7 490.5,258.6 491.5,257.8 492.5,258.8 493.5,257.9 494.5,257.8 495.5,257.4 496.5,256.2 497.5,255.4 498.5,254.3 499.5,253.6 500.5,254.3 501.5,252.5 502.5,251.9 503.5,251.9 504.5,251.0 505.5,250.1 506.5,250.4 506.5,265.9 505.5,266.2 504.5,266.5 503.5,267.2 502.5,267.8 501.5,266.5 500.5,267.0 499.5,268.0 498.5,269.1 497.5,268.0 496.5,269.0 495.5,269.6 494.5,270.2 493.5,271.1 492.5,270.2 491.5,271.0 490.5,271.4 489.5,273.5 488.5,273.8 487.5,273.4 486.5,272.9 485.5,273.3 484.5,275.3 483.5,274.9 482.5,274.8 481.5,274.8 480.5,275.5 479.5,276.5 478.5,275.5 477.5,275.5 476.5,277.3 475.5,277.5 474.5,277.3 473.5,278.7 472.5,277.1 471.5,278.1 470.5,278.1 469.5,278.6 468.5,278.4 467.5,278.5 466.5,280.0 465.5,281.2 464.5,280.2 463.5,281.9 462.5,281.5 461.5,282.1 460.5,281.4 459.5,281.6 458.5,282.4 457.5,282.4 456.5,282.2 455.5,282.5 454.5,282.2 453.5,282.8 452.5,282.9 451.5,284.2 450.5,284.2 449.5,283.7 448.5,284.1 447.5,285.3 446.5,285.7" fill="#8080f2" fill-opacity="1"/><polygon points="446.5,275.8 447.5,275.0 448.5,274.5 449.5,273.6 450.5,274.2 451.5,273.2 452.5,272.5 453.5,273.2 454.5,273.0 455.5,271.6 456.5,272.1 457.5,271.8 458.5,271.2 459.5,270.2 460.5,270.0 461.5,270.0 462.5,270.0 463.5,268.4 464.5,268.7 465.5,268.5 466.5,267.5 467.5,267.3 468.5,267.5 469.5,266.9 470.5,265.3 471.5,265.1 472.5,265.7 473.5,265.1 474.5,264.7 475.5,263.9 476.5,262.8 477.5,263.0 478.5,263.3 479.5,261.5 480.5,262.4 481.5,261.4 482.5,260.6 483.5,260.2 484.5,260.3 485.5,259.4 486.5,258.9 487.5,259.3 488.5,257.5 489.5,257.8 490.5,257.2 491.5,256.6 492.5,255.5 493.5,255.7 494.5,254.2 495.5,254.3 496.5,253.3 497.5,252.6 498.5,253.0 499.5,251.6 500.5,251.5 501.5,250.5 502.5,249.5 503.5,249.1 504.5,247.1 505.5,247.5 506.5,246.7 506.5,258.0 505.5,257.5 504.5,259.0 503.5,259.8 502.5,259.9 501.5,260.1 500.5,261.3 499.5,261.5 498.5,262.2 497.5,261.9 496.5,262.3 495.5,264.2 494.5,264.8 493.5,264.2 492.5,266.0 491.5,266.2 490.5,266.0 489.5,267.8 488.5,267.5 487.5,267.4 486.5,268.6 485.5,269.9 484.5,270.4 483.5,271.0 482.5,270.6 481.5,271.4 480.5,272.6 479.5,273.4 478.5,274.0 477.5,274.1 476.5,274.7 475.5,274.1 474.5,275.5 473.5,275.3 472.5,276.0 471.5,275.6 470.5,277.1 469.5,277.7 468.5,277.7 467.5,277.9 466.5,277.8 465.5,277.7 464.5,279.3 463.5,279.8 462.5,279.7 461.5,279.9 460.5,280.1 459.5,280.5 458.5,281.3 457.5,281.8 456.5,280.9 455.5,281.0 454.5,282.1 453.5,282.3 452.5,282.6 451.5,282.1 450.5,282.7 449.5,282.3 448.5,282.5 447.5,283.9 446.5,283.6" fill="#00c800" fill-opacity="0.45"/><polyline points="446.5,275.8 447.5,275.0 448.5,274.5 449.5,273.6 450.5,274.2 451.5,273.2 452.5,272.5 453.5,273.2 454.5,273.0 455.5,271.6 456.5,272.1 457.5,271.8 458.5,271.2 459.5,270.2 460.5,270.0 461.5,270.0 462.5,270.0 463.5,268.4 464.5,268.7 465.5,268.5 466.5,267.5 467.5,267.3 468.5,267.5 469.5,266.9 470.5,265.3 471.5,265.1 472.5,265.7 473.5,265.1 474.5,264.7 475.5,263.9 476.5,262.8 477.5,263.0 478.5,263.3 479.5,261.5 480.5,262.4 481.5,261.4 482.5,260.6 483.5,260.2 484.5,260.3 485.5,259.4 486.5,258.9 487.5,259.3 488.5,257.5 489.5,257.8 490.5,257.2 491.5,256.6 492.5,255.5 493.5,255.7 494.5,254.2 495.5,254.3 496.5,253.3 497.5,252.6 498.5,253.0 499.5,251.6 500.5,251.5 501.5,250.5 502.5,249.5 503.5,249.1 504.5,247.1 505.5,247.5 506.5,246.7" fill="none" stroke="#22cc22" stroke-width="1.1" stroke-linejoin="round"/><polyline points="446.5,283.6 447.5,283.9 448.5,282.5 449.5,282.3 450.5,282.7 451.5,282.1 452.5,282.6 453.5,282.3 454.5,282.1 455.5,281.0 456.5,280.9 457.5,281.8 458.5,281.3 459.5,280.5 460.5,280.1 461.5,279.9 462.5,279.7 463.5,279.8 464.5,279.3 465.5,277.7 466.5,277.8 467.5,277.9 468.5,277.7 469.5,277.7 470.5,277.1 471.5,275.6 472.5,276.0 473.5,275.3 474.5,275.5 475.5,274.1 476.5,274.7 477.5,274.1 478.5,274.0 479.5,273.4 480.5,272.6 481.5,271.4 482.5,270.6 483.5,271.0 484.5,270.4 485.5,269.9 486.5,268.6 487.5,267.4 488.5,267.5 489.5,267.8 490.5,266.0 491.5,266.2 492.5,266.0 493.5,264.2 494.5,264.8 495.5,264.2 496.5,262.3 497.5,261.9 498.5,262.2 499.5,261.5 500.5,261.3 501.5,260.1 502.5,259.9 503.5,259.8 504.5,259.0 505.5,257.5 506.5,258.0" fill="none" stroke="#22cc22" stroke-width="1.1" stroke-linejoin="round"/><polyline points="446.5,281.1 447.5,281.1 448.5,280.8 449.5,280.7 450.5,280.9 451.5,280.3 452.5,280.3 453.5,280.0 454.5,279.3 455.5,279.3 456.5,278.9 457.5,278.9 458.5,278.8 459.5,278.3 460.5,278.1 461.5,277.1 462.5,276.8 463.5,276.8 464.5,276.1 465.5,276.3 466.5,275.5 467.5,275.6 468.5,275.0 469.5,274.8 470.5,274.5 471.5,273.8 472.5,273.8 473.5,273.0 474.5,272.4 475.5,272.1 476.5,272.3 477.5,272.0 478.5,271.2 479.5,270.4 480.5,270.1 481.5,269.6 482.5,269.3 483.5,269.0 484.5,268.6 485.5,267.8 486.5,267.2 487.5,266.7 488.5,266.6 489.5,266.0 490.5,265.7 491.5,265.0 492.5,264.2 493.5,263.3 494.5,262.6 495.5,262.1 496.5,261.6 497.5,261.0 498.5,260.6 499.5,259.5 500.5,259.1 501.5,258.0 502.5,257.3 503.5,256.6 504.5,255.6 505.5,255.3 506.5,254.1" fill="none" stroke="#000" stroke-width="1.1" stroke-linejoin="round"/><polyline points="446.5,279.1 447.5,278.9 448.5,278.1 449.5,277.8 450.5,277.7 451.5,277.8 452.5,277.4 453.5,277.0 454.5,276.7 455.5,276.3 456.5,276.0 457.5,275.4 458.5,275.6 459.5,275.2 460.5,274.3 461.5,274.5 462.5,273.9 463.5,273.5 464.5,273.2 465.5,272.5 466.5,272.6 467.5,272.5 468.5,272.1 469.5,271.0 470.5,271.0 471.5,270.8 472.5,270.3 473.5,270.1 474.5,269.3 475.5,269.4 476.5,268.6 477.5,268.1 478.5,268.1 479.5,267.1 480.5,267.2 481.5,266.3 482.5,266.4 483.5,265.9 484.5,265.2 485.5,264.8 486.5,264.8 487.5,264.2 488.5,263.6 489.5,263.2 490.5,262.6 491.5,262.4 492.5,261.3 493.5,261.2 494.5,260.4 495.5,259.7 496.5,259.6 497.5,258.5 498.5,257.8 499.5,257.6 500.5,256.6 501.5,255.9 502.5,254.9 503.5,254.3 504.5,253.9 505.5,252.9 506.5,252.4" fill="none" stroke="#000" stroke-width="1.1" stroke-linejoin="round"/></g><path d="M446.5,244.29999999999998 V288.5 M443.3,248.6 H446.5 M443.3,267.05 H446.5 M443.3,285.5 H506.5 M476.5,285.5 V288.5 M506.5,285.5 V288.5" fill="none" stroke="#222" stroke-width="1"/><text x="447.90" y="251.90" font-size="10.5" fill="#000" stroke="#000" stroke-width="0.12" text-anchor="start" font-weight="normal" >422±52</text><g clip-path="url(#pc10)"><polygon points="80.9,330.6 81.9,328.8 82.9,327.1 83.9,324.9 84.9,323.2 85.9,322.8 86.9,321.6 87.9,319.8 88.9,318.7 89.9,318.0 90.9,317.7 91.9,317.0 92.9,315.5 93.9,315.2 94.9,314.4 95.9,312.9 96.9,314.2 97.9,312.5 98.9,312.1 99.9,313.3 100.9,312.1 101.9,312.7 102.9,312.4 103.9,312.1 104.9,311.2 105.9,312.2 106.9,311.2 107.9,311.2 108.9,310.3 109.9,310.2 110.9,309.9 111.9,309.5 112.9,310.3 113.9,311.2 114.9,309.2 115.9,310.9 116.9,309.1 117.9,309.3 118.9,310.5 119.9,310.1 120.9,309.6 121.9,309.9 122.9,309.1 123.9,310.6 124.9,309.5 125.9,310.3 126.9,309.7 127.9,308.9 128.9,308.8 129.9,310.2 130.9,309.0 131.9,310.2 132.9,308.6 133.9,309.6 134.9,309.9 135.9,309.0 136.9,310.2 137.9,308.5 138.9,308.3 139.9,308.2 140.9,309.5 140.9,325.1 139.9,323.7 138.9,323.6 137.9,323.5 136.9,323.9 135.9,322.6 134.9,323.7 133.9,322.3 132.9,323.2 131.9,322.4 130.9,323.2 129.9,322.1 128.9,322.3 127.9,322.9 126.9,322.2 125.9,323.1 124.9,323.2 123.9,322.2 122.9,321.8 121.9,322.3 120.9,321.2 119.9,323.1 118.9,323.3 117.9,321.5 116.9,322.8 115.9,321.7 114.9,321.8 113.9,321.7 112.9,322.8 111.9,323.3 110.9,323.0 109.9,322.0 108.9,323.4 107.9,321.8 106.9,323.8 105.9,322.0 104.9,323.5 103.9,322.8 102.9,322.7 101.9,324.5 100.9,324.4 99.9,324.1 98.9,323.6 97.9,323.4 96.9,324.7 95.9,324.6 94.9,326.3 93.9,325.5 92.9,325.8 91.9,327.8 90.9,328.7 89.9,329.6 88.9,328.6 87.9,329.9 86.9,332.6 85.9,331.9 84.9,332.2 83.9,333.2 82.9,334.2 81.9,335.3 80.9,338.1" fill="#8080f2" fill-opacity="1"/><polygon points="80.9,326.4 81.9,325.7 82.9,322.6 83.9,321.9 84.9,319.8 85.9,318.8 86.9,316.8 87.9,315.5 88.9,314.0 89.9,313.5 90.9,312.8 91.9,311.1 92.9,311.3 93.9,309.6 94.9,310.0 95.9,308.2 96.9,307.8 97.9,307.7 98.9,307.6 99.9,308.2 100.9,307.7 101.9,306.2 102.9,307.4 103.9,306.8 104.9,307.0 105.9,305.9 106.9,305.6 107.9,306.3 108.9,306.1 109.9,305.6 110.9,304.9 111.9,305.1 112.9,305.1 113.9,305.3 114.9,303.9 115.9,303.5 116.9,304.3 117.9,303.1 118.9,304.2 119.9,303.5 120.9,303.3 121.9,302.4 122.9,303.4 123.9,302.3 124.9,303.1 125.9,303.0 126.9,303.1 127.9,302.7 128.9,302.9 129.9,301.4 130.9,302.7 131.9,301.2 132.9,301.6 133.9,302.2 134.9,301.7 135.9,301.3 136.9,301.0 137.9,301.4 138.9,301.7 139.9,301.6 140.9,301.1 140.9,312.2 139.9,311.0 138.9,312.4 137.9,311.5 136.9,312.2 135.9,312.2 134.9,311.2 133.9,312.0 132.9,311.4 131.9,312.4 130.9,312.4 129.9,312.2 128.9,312.4 127.9,313.0 126.9,312.8 125.9,313.3 124.9,313.3 123.9,312.9 122.9,312.7 121.9,312.1 120.9,313.6 119.9,312.7 118.9,312.5 117.9,314.1 116.9,314.4 115.9,313.5 114.9,313.3 113.9,314.8 112.9,314.8 111.9,314.8 110.9,314.8 109.9,314.7 108.9,314.9 107.9,314.1 106.9,315.5 105.9,316.2 104.9,315.7 103.9,316.6 102.9,315.8 101.9,316.4 100.9,318.0 99.9,317.8 98.9,317.5 97.9,319.0 96.9,319.3 95.9,319.6 94.9,320.6 93.9,321.6 92.9,321.8 91.9,323.7 90.9,325.1 89.9,326.5 88.9,326.1 87.9,328.2 86.9,329.5 85.9,330.0 84.9,331.7 83.9,333.3 82.9,334.8 81.9,334.8 80.9,336.6" fill="#00c800" fill-opacity="0.45"/><polyline points="80.9,326.4 81.9,325.7 82.9,322.6 83.9,321.9 84.9,319.8 85.9,318.8 86.9,316.8 87.9,315.5 88.9,314.0 89.9,313.5 90.9,312.8 91.9,311.1 92.9,311.3 93.9,309.6 94.9,310.0 95.9,308.2 96.9,307.8 97.9,307.7 98.9,307.6 99.9,308.2 100.9,307.7 101.9,306.2 102.9,307.4 103.9,306.8 104.9,307.0 105.9,305.9 106.9,305.6 107.9,306.3 108.9,306.1 109.9,305.6 110.9,304.9 111.9,305.1 112.9,305.1 113.9,305.3 114.9,303.9 115.9,303.5 116.9,304.3 117.9,303.1 118.9,304.2 119.9,303.5 120.9,303.3 121.9,302.4 122.9,303.4 123.9,302.3 124.9,303.1 125.9,303.0 126.9,303.1 127.9,302.7 128.9,302.9 129.9,301.4 130.9,302.7 131.9,301.2 132.9,301.6 133.9,302.2 134.9,301.7 135.9,301.3 136.9,301.0 137.9,301.4 138.9,301.7 139.9,301.6 140.9,301.1" fill="none" stroke="#22cc22" stroke-width="1.1" stroke-linejoin="round"/><polyline points="80.9,336.6 81.9,334.8 82.9,334.8 83.9,333.3 84.9,331.7 85.9,330.0 86.9,329.5 87.9,328.2 88.9,326.1 89.9,326.5 90.9,325.1 91.9,323.7 92.9,321.8 93.9,321.6 94.9,320.6 95.9,319.6 96.9,319.3 97.9,319.0 98.9,317.5 99.9,317.8 100.9,318.0 101.9,316.4 102.9,315.8 103.9,316.6 104.9,315.7 105.9,316.2 106.9,315.5 107.9,314.1 108.9,314.9 109.9,314.7 110.9,314.8 111.9,314.8 112.9,314.8 113.9,314.8 114.9,313.3 115.9,313.5 116.9,314.4 117.9,314.1 118.9,312.5 119.9,312.7 120.9,313.6 121.9,312.1 122.9,312.7 123.9,312.9 124.9,313.3 125.9,313.3 126.9,312.8 127.9,313.0 128.9,312.4 129.9,312.2 130.9,312.4 131.9,312.4 132.9,311.4 133.9,312.0 134.9,311.2 135.9,312.2 136.9,312.2 137.9,311.5 138.9,312.4 139.9,311.0 140.9,312.2" fill="none" stroke="#22cc22" stroke-width="1.1" stroke-linejoin="round"/><polyline points="80.9,334.5 81.9,332.8 82.9,330.4 83.9,329.4 84.9,327.4 85.9,326.4 86.9,325.2 87.9,323.8 88.9,323.4 89.9,323.0 90.9,321.7 91.9,321.7 92.9,320.8 93.9,320.0 94.9,319.8 95.9,319.1 96.9,319.4 97.9,319.0 98.9,318.2 99.9,318.0 100.9,318.1 101.9,318.0 102.9,317.9 103.9,317.1 104.9,317.4 105.9,316.9 106.9,316.9 107.9,316.6 108.9,316.8 109.9,316.3 110.9,316.0 111.9,316.2 112.9,316.1 113.9,316.3 114.9,315.6 115.9,315.7 116.9,316.2 117.9,315.5 118.9,315.6 119.9,315.8 120.9,315.6 121.9,315.6 122.9,315.7 123.9,315.6 124.9,316.3 125.9,316.2 126.9,315.7 127.9,315.7 128.9,316.2 129.9,316.0 130.9,316.1 131.9,315.6 132.9,316.0 133.9,315.7 134.9,315.8 135.9,316.1 136.9,315.5 137.9,315.7 138.9,316.1 139.9,316.0 140.9,316.2" fill="none" stroke="#000" stroke-width="1.1" stroke-linejoin="round"/><polyline points="80.9,332.7 81.9,331.1 82.9,328.9 83.9,327.5 84.9,325.5 85.9,324.3 86.9,322.6 87.9,321.6 88.9,320.7 89.9,318.8 90.9,318.5 91.9,317.7 92.9,316.1 93.9,315.5 94.9,315.5 95.9,314.9 96.9,314.2 97.9,314.1 98.9,313.4 99.9,312.5 100.9,312.3 101.9,312.1 102.9,312.1 103.9,311.5 104.9,310.8 105.9,310.6 106.9,310.5 107.9,310.3 108.9,310.1 109.9,310.5 110.9,310.3 111.9,309.6 112.9,309.6 113.9,309.2 114.9,309.6 115.9,309.2 116.9,309.1 117.9,308.8 118.9,309.2 119.9,308.8 120.9,308.4 121.9,308.9 122.9,308.5 123.9,308.4 124.9,308.3 125.9,308.0 126.9,308.0 127.9,307.7 128.9,307.8 129.9,307.9 130.9,307.4 131.9,307.7 132.9,307.8 133.9,307.7 134.9,307.1 135.9,307.1 136.9,307.3 137.9,307.6 138.9,307.4 139.9,307.1 140.9,307.6" fill="none" stroke="#000" stroke-width="1.1" stroke-linejoin="round"/></g><path d="M80.9,296.0 V340.5 M77.7,300.3 H80.9 M77.7,318.9 H80.9 M77.7,337.5 H140.9 M110.9,337.5 V340.5 M140.9,337.5 V340.5" fill="none" stroke="#222" stroke-width="1"/><text x="82.30" y="301.20" font-size="10.5" fill="#000" stroke="#000" stroke-width="0.12" text-anchor="start" font-weight="normal" >864±161</text><g clip-path="url(#pc11)"><polygon points="153.6,330.2 154.6,329.8 155.6,329.3 156.6,329.5 157.6,329.0 158.6,329.0 159.6,327.8 160.6,328.2 161.6,327.8 162.6,327.3 163.6,326.7 164.6,326.5 165.6,325.9 166.6,326.6 167.6,326.3 168.6,325.4 169.6,324.8 170.6,323.4 171.6,325.1 172.6,323.1 173.6,324.2 174.6,323.1 175.6,322.3 176.6,322.0 177.6,322.8 178.6,321.3 179.6,322.6 180.6,321.6 181.6,320.0 182.6,320.2 183.6,320.6 184.6,320.7 185.6,319.9 186.6,319.6 187.6,318.2 188.6,319.5 189.6,317.9 190.6,317.6 191.6,318.4 192.6,316.9 193.6,316.3 194.6,317.0 195.6,317.0 196.6,316.4 197.6,315.9 198.6,315.5 199.6,315.4 200.6,314.4 201.6,315.2 202.6,313.5 203.6,314.1 204.6,314.7 205.6,314.2 206.6,313.1 207.6,312.3 208.6,313.3 209.6,311.4 210.6,312.8 211.6,310.7 212.6,312.0 213.6,310.9 213.6,327.2 212.6,328.0 211.6,326.0 210.6,327.6 209.6,326.0 208.6,326.3 207.6,326.2 206.6,328.1 205.6,326.7 204.6,326.1 203.6,327.6 202.6,328.7 201.6,328.3 200.6,328.2 199.6,328.1 198.6,329.0 197.6,326.9 196.6,328.6 195.6,328.1 194.6,327.9 193.6,328.4 192.6,327.8 191.6,328.9 190.6,329.4 189.6,329.8 188.6,329.8 187.6,329.4 186.6,328.8 185.6,329.5 184.6,330.2 183.6,329.7 182.6,329.9 181.6,330.4 180.6,331.1 179.6,329.7 178.6,332.0 177.6,331.7 176.6,331.0 175.6,332.5 174.6,332.6 173.6,332.3 172.6,332.8 171.6,331.6 170.6,332.7 169.6,333.8 168.6,331.8 167.6,334.3 166.6,333.5 165.6,333.3 164.6,333.2 163.6,334.3 162.6,334.2 161.6,333.6 160.6,334.9 159.6,334.7 158.6,335.4 157.6,334.8 156.6,336.9 155.6,336.4 154.6,337.2 153.6,336.1" fill="#8080f2" fill-opacity="1"/><polygon points="153.6,325.8 154.6,325.4 155.6,325.4 156.6,324.7 157.6,324.4 158.6,323.8 159.6,324.0 160.6,323.2 161.6,323.8 162.6,322.3 163.6,322.7 164.6,322.1 165.6,322.6 166.6,322.0 167.6,321.0 168.6,320.3 169.6,319.6 170.6,319.2 171.6,319.2 172.6,318.4 173.6,319.1 174.6,317.8 175.6,317.4 176.6,316.6 177.6,316.5 178.6,316.7 179.6,315.3 180.6,314.7 181.6,314.5 182.6,313.5 183.6,313.3 184.6,313.4 185.6,312.8 186.6,312.7 187.6,311.6 188.6,312.0 189.6,310.7 190.6,309.5 191.6,309.5 192.6,309.1 193.6,309.0 194.6,308.7 195.6,307.9 196.6,306.4 197.6,306.4 198.6,306.5 199.6,305.2 200.6,304.4 201.6,304.2 202.6,303.5 203.6,303.7 204.6,303.0 205.6,301.7 206.6,301.5 207.6,300.7 208.6,299.2 209.6,300.1 210.6,299.6 211.6,298.6 212.6,297.2 213.6,297.4 213.6,309.9 212.6,310.9 211.6,311.5 210.6,311.1 209.6,313.0 208.6,313.3 207.6,313.8 206.6,314.3 205.6,315.0 204.6,315.6 203.6,315.0 202.6,315.2 201.6,316.4 200.6,316.6 199.6,316.7 198.6,317.5 197.6,317.2 196.6,318.2 195.6,318.7 194.6,318.7 193.6,319.1 192.6,320.6 191.6,320.7 190.6,320.9 189.6,322.4 188.6,322.5 187.6,323.2 186.6,323.3 185.6,322.5 184.6,323.1 183.6,324.7 182.6,323.9 181.6,325.3 180.6,325.9 179.6,326.2 178.6,326.4 177.6,326.4 176.6,326.1 175.6,327.7 174.6,327.7 173.6,328.3 172.6,327.9 171.6,329.1 170.6,329.9 169.6,329.9 168.6,329.5 167.6,330.9 166.6,331.1 165.6,331.6 164.6,331.9 163.6,330.8 162.6,331.5 161.6,332.3 160.6,331.9 159.6,333.1 158.6,333.5 157.6,333.3 156.6,333.7 155.6,334.5 154.6,334.5 153.6,335.2" fill="#00c800" fill-opacity="0.45"/><polyline points="153.6,325.8 154.6,325.4 155.6,325.4 156.6,324.7 157.6,324.4 158.6,323.8 159.6,324.0 160.6,323.2 161.6,323.8 162.6,322.3 163.6,322.7 164.6,322.1 165.6,322.6 166.6,322.0 167.6,321.0 168.6,320.3 169.6,319.6 170.6,319.2 171.6,319.2 172.6,318.4 173.6,319.1 174.6,317.8 175.6,317.4 176.6,316.6 177.6,316.5 178.6,316.7 179.6,315.3 180.6,314.7 181.6,314.5 182.6,313.5 183.6,313.3 184.6,313.4 185.6,312.8 186.6,312.7 187.6,311.6 188.6,312.0 189.6,310.7 190.6,309.5 191.6,309.5 192.6,309.1 193.6,309.0 194.6,308.7 195.6,307.9 196.6,306.4 197.6,306.4 198.6,306.5 199.6,305.2 200.6,304.4 201.6,304.2 202.6,303.5 203.6,303.7 204.6,303.0 205.6,301.7 206.6,301.5 207.6,300.7 208.6,299.2 209.6,300.1 210.6,299.6 211.6,298.6 212.6,297.2 213.6,297.4" fill="none" stroke="#22cc22" stroke-width="1.1" stroke-linejoin="round"/><polyline points="153.6,335.2 154.6,334.5 155.6,334.5 156.6,333.7 157.6,333.3 158.6,333.5 159.6,333.1 160.6,331.9 161.6,332.3 162.6,331.5 163.6,330.8 164.6,331.9 165.6,331.6 166.6,331.1 167.6,330.9 168.6,329.5 169.6,329.9 170.6,329.9 171.6,329.1 172.6,327.9 173.6,328.3 174.6,327.7 175.6,327.7 176.6,326.1 177.6,326.4 178.6,326.4 179.6,326.2 180.6,325.9 181.6,325.3 182.6,323.9 183.6,324.7 184.6,323.1 185.6,322.5 186.6,323.3 187.6,323.2 188.6,322.5 189.6,322.4 190.6,320.9 191.6,320.7 192.6,320.6 193.6,319.1 194.6,318.7 195.6,318.7 196.6,318.2 197.6,317.2 198.6,317.5 199.6,316.7 200.6,316.6 201.6,316.4 202.6,315.2 203.6,315.0 204.6,315.6 205.6,315.0 206.6,314.3 207.6,313.8 208.6,313.3 209.6,313.0 210.6,311.1 211.6,311.5 212.6,310.9 213.6,309.9" fill="none" stroke="#22cc22" stroke-width="1.1" stroke-linejoin="round"/><polyline points="153.6,333.5 154.6,333.2 155.6,332.7 156.6,332.3 157.6,332.3 158.6,332.2 159.6,331.9 160.6,331.3 161.6,330.6 162.6,330.5 163.6,330.4 164.6,329.8 165.6,329.4 166.6,329.1 167.6,329.5 168.6,329.2 169.6,328.9 170.6,328.0 171.6,327.7 172.6,327.8 173.6,327.4 174.6,327.3 175.6,326.7 176.6,326.6 177.6,326.5 178.6,326.5 179.6,325.9 180.6,326.0 181.6,325.3 182.6,325.2 183.6,324.8 184.6,324.8 185.6,324.4 186.6,323.8 187.6,324.2 188.6,323.9 189.6,323.7 190.6,323.4 191.6,322.6 192.6,322.9 193.6,322.2 194.6,321.9 195.6,321.9 196.6,321.5 197.6,321.7 198.6,321.6 199.6,321.1 200.6,321.1 201.6,320.5 202.6,320.4 203.6,320.0 204.6,319.9 205.6,319.7 206.6,319.7 207.6,319.0 208.6,319.5 209.6,318.8 210.6,318.5 211.6,318.3 212.6,318.7 213.6,317.8" fill="none" stroke="#000" stroke-width="1.1" stroke-linejoin="round"/><polyline points="153.6,331.2 154.6,330.7 155.6,329.8 156.6,329.7 157.6,329.5 158.6,328.6 159.6,328.6 160.6,328.3 161.6,328.0 162.6,327.2 163.6,327.1 164.6,326.7 165.6,325.9 166.6,325.5 167.6,325.4 168.6,325.0 169.6,324.4 170.6,324.3 171.6,323.7 172.6,322.9 173.6,322.8 174.6,322.2 175.6,321.5 176.6,321.0 177.6,321.2 178.6,320.2 179.6,319.6 180.6,319.8 181.6,319.4 182.6,318.3 183.6,318.0 184.6,318.0 185.6,316.9 186.6,317.0 187.6,316.1 188.6,315.5 189.6,315.8 190.6,314.6 191.6,314.3 192.6,314.0 193.6,313.4 194.6,312.9 195.6,312.4 196.6,312.4 197.6,311.5 198.6,311.5 199.6,310.5 200.6,309.9 201.6,309.6 202.6,309.0 203.6,309.0 204.6,308.1 205.6,308.0 206.6,307.0 207.6,306.3 208.6,306.0 209.6,306.1 210.6,304.9 211.6,304.5 212.6,304.4 213.6,303.9" fill="none" stroke="#000" stroke-width="1.1" stroke-linejoin="round"/></g><path d="M153.6,296.0 V340.5 M150.4,300.3 H153.6 M150.4,318.9 H153.6 M150.4,337.5 H213.6 M183.6,337.5 V340.5 M213.6,337.5 V340.5" fill="none" stroke="#222" stroke-width="1"/><text x="155.00" y="301.20" font-size="10.5" fill="#000" stroke="#000" stroke-width="0.12" text-anchor="start" font-weight="normal" >878±32</text><g clip-path="url(#pc12)"><polygon points="227.6,333.9 228.6,332.0 229.6,331.6 230.6,332.4 231.6,330.8 232.6,330.6 233.6,329.5 234.6,330.2 235.6,329.8 236.6,329.4 237.6,327.9 238.6,327.0 239.6,327.8 240.6,326.5 241.6,326.2 242.6,325.7 243.6,325.8 244.6,325.1 245.6,324.0 246.6,324.7 247.6,323.1 248.6,323.7 249.6,323.3 250.6,322.6 251.6,321.3 252.6,321.0 253.6,321.4 254.6,319.1 255.6,320.4 256.6,319.4 257.6,318.5 258.6,317.7 259.6,316.7 260.6,316.1 261.6,317.4 262.6,315.4 263.6,316.2 264.6,314.4 265.6,315.6 266.6,314.0 267.6,312.8 268.6,313.8 269.6,311.7 270.6,311.2 271.6,311.9 272.6,311.9 273.6,310.2 274.6,310.2 275.6,310.6 276.6,308.8 277.6,307.9 278.6,308.2 279.6,307.9 280.6,307.7 281.6,306.5 282.6,305.5 283.6,306.1 284.6,305.6 285.6,304.0 286.6,303.5 287.6,304.2 287.6,313.8 286.6,312.2 285.6,314.3 284.6,314.8 283.6,314.2 282.6,315.6 281.6,316.2 280.6,316.3 279.6,316.9 278.6,317.9 277.6,317.7 276.6,317.0 275.6,317.9 274.6,317.7 273.6,318.0 272.6,320.1 271.6,318.3 270.6,319.7 269.6,319.4 268.6,320.7 267.6,321.3 266.6,320.6 265.6,320.9 264.6,322.3 263.6,322.8 262.6,322.6 261.6,322.6 260.6,322.9 259.6,323.5 258.6,325.1 257.6,324.9 256.6,324.6 255.6,327.0 254.6,325.7 253.6,326.9 252.6,327.8 251.6,326.4 250.6,328.0 249.6,327.7 248.6,329.3 247.6,330.2 246.6,329.8 245.6,330.4 244.6,329.7 243.6,331.9 242.6,330.3 241.6,331.3 240.6,331.5 239.6,331.6 238.6,334.0 237.6,334.2 236.6,334.6 235.6,333.9 234.6,334.4 233.6,334.1 232.6,336.2 231.6,335.1 230.6,336.0 229.6,336.2 228.6,335.9 227.6,338.6" fill="#8080f2" fill-opacity="1"/><polygon points="227.6,330.3 228.6,330.4 229.6,329.1 230.6,328.8 231.6,329.4 232.6,327.5 233.6,327.3 234.6,326.7 235.6,326.4 236.6,325.7 237.6,324.5 238.6,325.2 239.6,325.0 240.6,323.4 241.6,323.8 242.6,322.5 243.6,322.3 244.6,322.0 245.6,321.3 246.6,320.9 247.6,319.6 248.6,319.5 249.6,318.6 250.6,317.6 251.6,317.7 252.6,316.2 253.6,316.1 254.6,315.2 255.6,315.2 256.6,315.2 257.6,314.5 258.6,313.5 259.6,312.8 260.6,312.6 261.6,311.3 262.6,311.7 263.6,310.4 264.6,309.9 265.6,309.3 266.6,310.0 267.6,307.9 268.6,307.8 269.6,307.9 270.6,306.4 271.6,306.4 272.6,305.2 273.6,304.6 274.6,305.1 275.6,304.6 276.6,302.9 277.6,302.5 278.6,302.1 279.6,302.6 280.6,301.4 281.6,300.5 282.6,299.7 283.6,300.1 284.6,298.8 285.6,299.4 286.6,298.9 287.6,297.3 287.6,305.4 286.6,306.8 285.6,306.9 284.6,307.6 283.6,309.0 282.6,308.7 281.6,308.6 280.6,310.3 279.6,309.6 278.6,310.4 277.6,310.8 276.6,312.6 275.6,311.6 274.6,313.0 273.6,313.4 272.6,314.2 271.6,314.3 270.6,314.2 269.6,315.5 268.6,316.0 267.6,316.1 266.6,316.6 265.6,318.0 264.6,317.5 263.6,317.7 262.6,319.1 261.6,319.8 260.6,319.3 259.6,319.7 258.6,320.7 257.6,321.9 256.6,321.8 255.6,322.6 254.6,323.0 253.6,323.2 252.6,324.4 251.6,323.8 250.6,324.8 249.6,325.6 248.6,325.6 247.6,326.5 246.6,327.4 245.6,327.8 244.6,327.5 243.6,328.7 242.6,329.1 241.6,330.1 240.6,330.7 239.6,331.1 238.6,330.7 237.6,331.5 236.6,331.5 235.6,333.5 234.6,332.6 233.6,334.2 232.6,334.8 231.6,334.3 230.6,335.7 229.6,335.3 228.6,336.1 227.6,337.2" fill="#00c800" fill-opacity="0.45"/><polyline points="227.6,330.3 228.6,330.4 229.6,329.1 230.6,328.8 231.6,329.4 232.6,327.5 233.6,327.3 234.6,326.7 235.6,326.4 236.6,325.7 237.6,324.5 238.6,325.2 239.6,325.0 240.6,323.4 241.6,323.8 242.6,322.5 243.6,322.3 244.6,322.0 245.6,321.3 246.6,320.9 247.6,319.6 248.6,319.5 249.6,318.6 250.6,317.6 251.6,317.7 252.6,316.2 253.6,316.1 254.6,315.2 255.6,315.2 256.6,315.2 257.6,314.5 258.6,313.5 259.6,312.8 260.6,312.6 261.6,311.3 262.6,311.7 263.6,310.4 264.6,309.9 265.6,309.3 266.6,310.0 267.6,307.9 268.6,307.8 269.6,307.9 270.6,306.4 271.6,306.4 272.6,305.2 273.6,304.6 274.6,305.1 275.6,304.6 276.6,302.9 277.6,302.5 278.6,302.1 279.6,302.6 280.6,301.4 281.6,300.5 282.6,299.7 283.6,300.1 284.6,298.8 285.6,299.4 286.6,298.9 287.6,297.3" fill="none" stroke="#22cc22" stroke-width="1.1" stroke-linejoin="round"/><polyline points="227.6,337.2 228.6,336.1 229.6,335.3 230.6,335.7 231.6,334.3 232.6,334.8 233.6,334.2 234.6,332.6 235.6,333.5 236.6,331.5 237.6,331.5 238.6,330.7 239.6,331.1 240.6,330.7 241.6,330.1 242.6,329.1 243.6,328.7 244.6,327.5 245.6,327.8 246.6,327.4 247.6,326.5 248.6,325.6 249.6,325.6 250.6,324.8 251.6,323.8 252.6,324.4 253.6,323.2 254.6,323.0 255.6,322.6 256.6,321.8 257.6,321.9 258.6,320.7 259.6,319.7 260.6,319.3 261.6,319.8 262.6,319.1 263.6,317.7 264.6,317.5 265.6,318.0 266.6,316.6 267.6,316.1 268.6,316.0 269.6,315.5 270.6,314.2 271.6,314.3 272.6,314.2 273.6,313.4 274.6,313.0 275.6,311.6 276.6,312.6 277.6,310.8 278.6,310.4 279.6,309.6 280.6,310.3 281.6,308.6 282.6,308.7 283.6,309.0 284.6,307.6 285.6,306.9 286.6,306.8 287.6,305.4" fill="none" stroke="#22cc22" stroke-width="1.1" stroke-linejoin="round"/><polyline points="227.6,334.7 228.6,334.7 229.6,334.0 230.6,333.2 231.6,333.1 232.6,332.3 233.6,331.9 234.6,331.3 235.6,330.7 236.6,330.8 237.6,330.3 238.6,329.2 239.6,328.9 240.6,328.6 241.6,328.1 242.6,327.1 243.6,326.9 244.6,326.8 245.6,326.1 246.6,325.4 247.6,325.0 248.6,324.8 249.6,324.1 250.6,323.8 251.6,322.6 252.6,322.6 253.6,321.8 254.6,321.3 255.6,321.2 256.6,320.3 257.6,320.0 258.6,319.6 259.6,318.8 260.6,318.3 261.6,317.9 262.6,317.6 263.6,317.0 264.6,316.7 265.6,315.8 266.6,315.4 267.6,315.3 268.6,315.0 269.6,314.0 270.6,313.3 271.6,313.3 272.6,312.3 273.6,311.9 274.6,311.3 275.6,311.3 276.6,310.3 277.6,310.5 278.6,309.9 279.6,309.3 280.6,308.5 281.6,308.1 282.6,307.9 283.6,307.3 284.6,306.6 285.6,306.2 286.6,305.9 287.6,304.8" fill="none" stroke="#000" stroke-width="1.1" stroke-linejoin="round"/><polyline points="227.6,333.5 228.6,333.1 229.6,332.3 230.6,332.0 231.6,331.4 232.6,331.1 233.6,330.0 234.6,329.9 235.6,329.4 236.6,329.1 237.6,328.0 238.6,327.4 239.6,327.0 240.6,326.3 241.6,326.5 242.6,325.9 243.6,325.5 244.6,324.5 245.6,323.6 246.6,323.5 247.6,322.6 248.6,322.8 249.6,321.7 250.6,321.6 251.6,321.1 252.6,320.2 253.6,319.8 254.6,319.5 255.6,319.0 256.6,318.1 257.6,317.6 258.6,317.0 259.6,317.1 260.6,315.9 261.6,315.5 262.6,315.4 263.6,314.9 264.6,314.0 265.6,314.0 266.6,312.7 267.6,312.7 268.6,312.1 269.6,311.5 270.6,311.4 271.6,310.3 272.6,309.6 273.6,309.3 274.6,308.6 275.6,308.1 276.6,307.5 277.6,307.6 278.6,307.2 279.6,306.3 280.6,306.0 281.6,304.9 282.6,304.6 283.6,304.4 284.6,303.5 285.6,302.8 286.6,302.4 287.6,301.8" fill="none" stroke="#000" stroke-width="1.1" stroke-linejoin="round"/></g><path d="M227.6,296.0 V340.5 M224.4,300.3 H227.6 M224.4,318.9 H227.6 M224.4,337.5 H287.6 M257.6,337.5 V340.5 M287.6,337.5 V340.5" fill="none" stroke="#222" stroke-width="1"/><text x="229.00" y="301.20" font-size="10.5" fill="#000" stroke="#000" stroke-width="0.12" text-anchor="start" font-weight="normal" >442±44</text><g clip-path="url(#pc13)"><polygon points="300.7,323.0 301.7,321.6 302.7,322.2 303.7,321.1 304.7,320.8 305.7,322.1 306.7,321.4 307.7,321.2 308.7,320.3 309.7,320.3 310.7,319.1 311.7,320.1 312.7,319.8 313.7,318.8 314.7,320.2 315.7,319.6 316.7,318.9 317.7,318.9 318.7,318.7 319.7,318.1 320.7,317.8 321.7,318.5 322.7,317.1 323.7,316.6 324.7,317.7 325.7,316.5 326.7,316.6 327.7,316.1 328.7,316.0 329.7,315.5 330.7,314.6 331.7,315.0 332.7,314.2 333.7,315.2 334.7,314.4 335.7,314.0 336.7,314.5 337.7,313.0 338.7,313.9 339.7,311.7 340.7,312.5 341.7,311.1 342.7,312.6 343.7,311.0 344.7,310.5 345.7,310.6 346.7,311.2 347.7,311.1 348.7,309.7 349.7,309.0 350.7,309.9 351.7,309.2 352.7,308.2 353.7,308.7 354.7,308.6 355.7,308.7 356.7,307.7 357.7,308.0 358.7,306.1 359.7,307.2 360.7,305.6 360.7,326.7 359.7,327.3 358.7,326.3 357.7,328.2 356.7,326.3 355.7,327.6 354.7,327.3 353.7,328.3 352.7,327.0 351.7,327.2 350.7,328.9 349.7,328.4 348.7,327.7 347.7,328.8 346.7,329.3 345.7,329.1 344.7,329.9 343.7,330.0 342.7,329.6 341.7,328.9 340.7,329.7 339.7,329.4 338.7,329.3 337.7,331.0 336.7,331.0 335.7,330.4 334.7,329.8 333.7,330.9 332.7,331.3 331.7,330.9 330.7,331.8 329.7,332.9 328.7,331.3 327.7,331.0 326.7,331.9 325.7,332.9 324.7,331.7 323.7,333.5 322.7,333.6 321.7,334.0 320.7,333.0 319.7,334.9 318.7,334.5 317.7,333.7 316.7,334.2 315.7,335.3 314.7,334.3 313.7,336.1 312.7,334.8 311.7,334.4 310.7,336.5 309.7,336.0 308.7,335.5 307.7,336.1 306.7,337.6 305.7,337.1 304.7,337.1 303.7,337.6 302.7,337.9 301.7,336.3 300.7,336.3" fill="#8080f2" fill-opacity="1"/><polygon points="300.7,325.7 301.7,323.9 302.7,321.6 303.7,321.0 304.7,319.9 305.7,319.3 306.7,319.9 307.7,319.3 308.7,320.2 309.7,319.5 310.7,320.3 311.7,320.3 312.7,319.7 313.7,320.6 314.7,321.2 315.7,319.8 316.7,319.8 317.7,319.0 318.7,319.3 319.7,318.9 320.7,317.3 321.7,315.9 322.7,315.5 323.7,313.2 324.7,312.2 325.7,311.0 326.7,310.2 327.7,309.4 328.7,310.1 329.7,308.6 330.7,308.7 331.7,307.8 332.7,308.4 333.7,308.4 334.7,307.7 335.7,307.0 336.7,306.5 337.7,306.3 338.7,306.8 339.7,305.7 340.7,305.8 341.7,305.3 342.7,305.9 343.7,305.4 344.7,305.1 345.7,303.9 346.7,303.7 347.7,303.8 348.7,302.9 349.7,302.6 350.7,303.4 351.7,303.1 352.7,301.6 353.7,302.8 354.7,301.2 355.7,301.2 356.7,301.4 357.7,300.9 358.7,301.3 359.7,300.9 360.7,300.7 360.7,318.4 359.7,318.7 358.7,317.4 357.7,317.2 356.7,318.4 355.7,316.9 354.7,317.4 353.7,317.4 352.7,317.3 351.7,316.5 350.7,316.3 349.7,316.7 348.7,317.2 347.7,317.3 346.7,317.6 345.7,317.7 344.7,318.5 343.7,319.4 342.7,319.4 341.7,320.1 340.7,320.4 339.7,320.5 338.7,320.5 337.7,321.5 336.7,322.1 335.7,321.8 334.7,322.7 333.7,323.1 332.7,324.5 331.7,324.3 330.7,326.0 329.7,326.4 328.7,327.5 327.7,329.0 326.7,329.0 325.7,330.8 324.7,330.2 323.7,331.2 322.7,332.7 321.7,332.8 320.7,332.3 319.7,332.8 318.7,333.9 317.7,334.4 316.7,333.2 315.7,333.9 314.7,335.0 313.7,335.1 312.7,335.8 311.7,334.6 310.7,335.5 309.7,335.0 308.7,335.4 307.7,336.7 306.7,336.6 305.7,336.7 304.7,336.9 303.7,336.2 302.7,337.2 301.7,337.0 300.7,337.0" fill="#00c800" fill-opacity="0.45"/><polyline points="300.7,325.7 301.7,323.9 302.7,321.6 303.7,321.0 304.7,319.9 305.7,319.3 306.7,319.9 307.7,319.3 308.7,320.2 309.7,319.5 310.7,320.3 311.7,320.3 312.7,319.7 313.7,320.6 314.7,321.2 315.7,319.8 316.7,319.8 317.7,319.0 318.7,319.3 319.7,318.9 320.7,317.3 321.7,315.9 322.7,315.5 323.7,313.2 324.7,312.2 325.7,311.0 326.7,310.2 327.7,309.4 328.7,310.1 329.7,308.6 330.7,308.7 331.7,307.8 332.7,308.4 333.7,308.4 334.7,307.7 335.7,307.0 336.7,306.5 337.7,306.3 338.7,306.8 339.7,305.7 340.7,305.8 341.7,305.3 342.7,305.9 343.7,305.4 344.7,305.1 345.7,303.9 346.7,303.7 347.7,303.8 348.7,302.9 349.7,302.6 350.7,303.4 351.7,303.1 352.7,301.6 353.7,302.8 354.7,301.2 355.7,301.2 356.7,301.4 357.7,300.9 358.7,301.3 359.7,300.9 360.7,300.7" fill="none" stroke="#22cc22" stroke-width="1.1" stroke-linejoin="round"/><polyline points="300.7,337.0 301.7,337.0 302.7,337.2 303.7,336.2 304.7,336.9 305.7,336.7 306.7,336.6 307.7,336.7 308.7,335.4 309.7,335.0 310.7,335.5 311.7,334.6 312.7,335.8 313.7,335.1 314.7,335.0 315.7,333.9 316.7,333.2 317.7,334.4 318.7,333.9 319.7,332.8 320.7,332.3 321.7,332.8 322.7,332.7 323.7,331.2 324.7,330.2 325.7,330.8 326.7,329.0 327.7,329.0 328.7,327.5 329.7,326.4 330.7,326.0 331.7,324.3 332.7,324.5 333.7,323.1 334.7,322.7 335.7,321.8 336.7,322.1 337.7,321.5 338.7,320.5 339.7,320.5 340.7,320.4 341.7,320.1 342.7,319.4 343.7,319.4 344.7,318.5 345.7,317.7 346.7,317.6 347.7,317.3 348.7,317.2 349.7,316.7 350.7,316.3 351.7,316.5 352.7,317.3 353.7,317.4 354.7,317.4 355.7,316.9 356.7,318.4 357.7,317.2 358.7,317.4 359.7,318.7 360.7,318.4" fill="none" stroke="#22cc22" stroke-width="1.1" stroke-linejoin="round"/><polyline points="300.7,333.1 301.7,333.4 302.7,332.7 303.7,333.0 304.7,332.2 305.7,332.7 306.7,331.9 307.7,331.7 308.7,331.3 309.7,331.0 310.7,331.3 311.7,330.9 312.7,330.6 313.7,330.4 314.7,330.0 315.7,330.0 316.7,330.0 317.7,329.6 318.7,329.0 319.7,328.8 320.7,328.7 321.7,328.2 322.7,328.3 323.7,327.5 324.7,327.0 325.7,326.6 326.7,326.4 327.7,326.3 328.7,326.2 329.7,325.4 330.7,325.2 331.7,324.8 332.7,324.9 333.7,324.9 334.7,324.1 335.7,324.1 336.7,323.9 337.7,323.4 338.7,322.8 339.7,322.6 340.7,321.9 341.7,321.9 342.7,321.6 343.7,320.9 344.7,321.0 345.7,320.2 346.7,320.1 347.7,319.4 348.7,319.9 349.7,319.5 350.7,319.0 351.7,319.0 352.7,318.9 353.7,318.3 354.7,318.0 355.7,318.0 356.7,317.7 357.7,317.4 358.7,317.4 359.7,317.4 360.7,317.7" fill="none" stroke="#000" stroke-width="1.1" stroke-linejoin="round"/><polyline points="300.7,331.3 301.7,330.7 302.7,330.0 303.7,329.3 304.7,328.5 305.7,328.4 306.7,327.5 307.7,327.4 308.7,326.9 309.7,326.6 310.7,326.2 311.7,325.9 312.7,325.2 313.7,325.4 314.7,324.9 315.7,325.2 316.7,324.4 317.7,324.3 318.7,324.0 319.7,323.6 320.7,323.9 321.7,323.6 322.7,323.3 323.7,322.9 324.7,322.4 325.7,321.5 326.7,321.4 327.7,320.9 328.7,320.4 329.7,319.7 330.7,318.8 331.7,318.3 332.7,317.9 333.7,317.8 334.7,317.5 335.7,317.0 336.7,315.8 337.7,315.7 338.7,315.1 339.7,314.6 340.7,313.9 341.7,313.5 342.7,312.7 343.7,312.0 344.7,312.0 345.7,311.4 346.7,311.1 347.7,310.8 348.7,311.3 349.7,310.9 350.7,311.1 351.7,310.8 352.7,310.9 353.7,311.0 354.7,311.0 355.7,311.4 356.7,311.0 357.7,310.7 358.7,311.3 359.7,311.4 360.7,310.7" fill="none" stroke="#000" stroke-width="1.1" stroke-linejoin="round"/></g><path d="M300.7,296.0 V340.5 M297.5,300.3 H300.7 M297.5,318.9 H300.7 M297.5,337.5 H360.7 M330.7,337.5 V340.5 M360.7,337.5 V340.5" fill="none" stroke="#222" stroke-width="1"/><text x="302.10" y="301.20" font-size="10.5" fill="#000" stroke="#000" stroke-width="0.12" text-anchor="start" font-weight="normal" >709±44</text><g clip-path="url(#pc14)"><polygon points="373.5,316.8 374.5,317.3 375.5,318.3 376.5,317.8 377.5,317.7 378.5,317.0 379.5,317.2 380.5,316.6 381.5,317.0 382.5,318.2 383.5,317.3 384.5,316.2 385.5,316.1 386.5,317.1 387.5,317.0 388.5,317.7 389.5,317.5 390.5,317.1 391.5,316.9 392.5,316.5 393.5,316.5 394.5,316.9 395.5,316.0 396.5,315.5 397.5,315.4 398.5,316.1 399.5,316.6 400.5,315.4 401.5,316.3 402.5,316.2 403.5,314.6 404.5,315.1 405.5,315.4 406.5,314.2 407.5,314.3 408.5,315.1 409.5,314.6 410.5,314.8 411.5,314.6 412.5,313.4 413.5,313.4 414.5,314.3 415.5,312.6 416.5,313.3 417.5,312.0 418.5,312.8 419.5,313.2 420.5,311.7 421.5,311.7 422.5,311.7 423.5,312.7 424.5,311.9 425.5,310.7 426.5,311.3 427.5,311.9 428.5,310.8 429.5,310.5 430.5,311.0 431.5,311.1 432.5,309.2 433.5,308.8 433.5,329.9 432.5,329.6 431.5,328.5 430.5,330.3 429.5,329.9 428.5,330.1 427.5,330.2 426.5,330.1 425.5,329.1 424.5,328.8 423.5,329.2 422.5,330.5 421.5,329.7 420.5,330.1 419.5,330.1 418.5,330.7 417.5,331.2 416.5,330.8 415.5,329.2 414.5,331.6 413.5,330.8 412.5,329.9 411.5,330.3 410.5,329.6 409.5,331.2 408.5,331.8 407.5,331.0 406.5,331.1 405.5,330.0 404.5,331.6 403.5,331.9 402.5,330.4 401.5,331.9 400.5,332.0 399.5,331.8 398.5,330.9 397.5,331.1 396.5,333.0 395.5,332.3 394.5,331.8 393.5,333.9 392.5,333.4 391.5,333.1 390.5,331.8 389.5,332.4 388.5,332.8 387.5,332.1 386.5,333.1 385.5,332.9 384.5,332.0 383.5,332.0 382.5,332.6 381.5,332.5 380.5,333.8 379.5,331.9 378.5,332.5 377.5,333.1 376.5,333.2 375.5,333.1 374.5,332.0 373.5,333.2" fill="#8080f2" fill-opacity="1"/><polygon points="373.5,314.8 374.5,315.6 375.5,315.7 376.5,316.2 377.5,316.6 378.5,316.0 379.5,316.4 380.5,315.4 381.5,315.4 382.5,316.7 383.5,315.6 384.5,316.0 385.5,315.5 386.5,316.1 387.5,316.5 388.5,316.5 389.5,315.7 390.5,316.5 391.5,316.5 392.5,315.4 393.5,314.7 394.5,315.8 395.5,314.2 396.5,315.1 397.5,314.3 398.5,313.8 399.5,313.5 400.5,312.5 401.5,312.5 402.5,312.2 403.5,312.0 404.5,311.4 405.5,310.7 406.5,310.1 407.5,309.9 408.5,309.8 409.5,309.5 410.5,308.1 411.5,307.7 412.5,308.1 413.5,307.8 414.5,307.2 415.5,306.6 416.5,305.6 417.5,306.2 418.5,306.2 419.5,305.0 420.5,305.2 421.5,303.8 422.5,304.5 423.5,302.7 424.5,302.9 425.5,303.3 426.5,301.5 427.5,302.1 428.5,301.0 429.5,300.6 430.5,300.5 431.5,300.2 432.5,299.0 433.5,298.8 433.5,315.7 432.5,315.9 431.5,314.8 430.5,315.5 429.5,316.5 428.5,316.7 427.5,315.7 426.5,317.2 425.5,317.4 424.5,316.8 423.5,316.7 422.5,316.7 421.5,317.8 420.5,317.1 419.5,318.6 418.5,318.1 417.5,318.7 416.5,318.8 415.5,318.7 414.5,319.2 413.5,319.1 412.5,320.5 411.5,320.6 410.5,321.3 409.5,321.6 408.5,320.9 407.5,321.7 406.5,322.3 405.5,322.3 404.5,322.2 403.5,323.2 402.5,323.9 401.5,323.1 400.5,323.9 399.5,325.2 398.5,325.7 397.5,326.3 396.5,325.1 395.5,327.0 394.5,327.5 393.5,326.9 392.5,327.6 391.5,328.6 390.5,327.9 389.5,327.7 388.5,328.7 387.5,329.6 386.5,328.5 385.5,330.3 384.5,329.3 383.5,330.3 382.5,329.9 381.5,330.8 380.5,330.9 379.5,330.6 378.5,330.7 377.5,331.7 376.5,332.0 375.5,331.6 374.5,332.0 373.5,332.1" fill="#00c800" fill-opacity="0.45"/><polyline points="373.5,314.8 374.5,315.6 375.5,315.7 376.5,316.2 377.5,316.6 378.5,316.0 379.5,316.4 380.5,315.4 381.5,315.4 382.5,316.7 383.5,315.6 384.5,316.0 385.5,315.5 386.5,316.1 387.5,316.5 388.5,316.5 389.5,315.7 390.5,316.5 391.5,316.5 392.5,315.4 393.5,314.7 394.5,315.8 395.5,314.2 396.5,315.1 397.5,314.3 398.5,313.8 399.5,313.5 400.5,312.5 401.5,312.5 402.5,312.2 403.5,312.0 404.5,311.4 405.5,310.7 406.5,310.1 407.5,309.9 408.5,309.8 409.5,309.5 410.5,308.1 411.5,307.7 412.5,308.1 413.5,307.8 414.5,307.2 415.5,306.6 416.5,305.6 417.5,306.2 418.5,306.2 419.5,305.0 420.5,305.2 421.5,303.8 422.5,304.5 423.5,302.7 424.5,302.9 425.5,303.3 426.5,301.5 427.5,302.1 428.5,301.0 429.5,300.6 430.5,300.5 431.5,300.2 432.5,299.0 433.5,298.8" fill="none" stroke="#22cc22" stroke-width="1.1" stroke-linejoin="round"/><polyline points="373.5,332.1 374.5,332.0 375.5,331.6 376.5,332.0 377.5,331.7 378.5,330.7 379.5,330.6 380.5,330.9 381.5,330.8 382.5,329.9 383.5,330.3 384.5,329.3 385.5,330.3 386.5,328.5 387.5,329.6 388.5,328.7 389.5,327.7 390.5,327.9 391.5,328.6 392.5,327.6 393.5,326.9 394.5,327.5 395.5,327.0 396.5,325.1 397.5,326.3 398.5,325.7 399.5,325.2 400.5,323.9 401.5,323.1 402.5,323.9 403.5,323.2 404.5,322.2 405.5,322.3 406.5,322.3 407.5,321.7 408.5,320.9 409.5,321.6 410.5,321.3 411.5,320.6 412.5,320.5 413.5,319.1 414.5,319.2 415.5,318.7 416.5,318.8 417.5,318.7 418.5,318.1 419.5,318.6 420.5,317.1 421.5,317.8 422.5,316.7 423.5,316.7 424.5,316.8 425.5,317.4 426.5,317.2 427.5,315.7 428.5,316.7 429.5,316.5 430.5,315.5 431.5,314.8 432.5,315.9 433.5,315.7" fill="none" stroke="#22cc22" stroke-width="1.1" stroke-linejoin="round"/><polyline points="373.5,324.1 374.5,324.8 375.5,324.9 376.5,324.9 377.5,325.1 378.5,325.7 379.5,326.3 380.5,325.8 381.5,326.2 382.5,326.2 383.5,326.9 384.5,327.1 385.5,326.7 386.5,327.4 387.5,326.8 388.5,327.5 389.5,327.2 390.5,326.7 391.5,326.7 392.5,326.6 393.5,326.4 394.5,326.4 395.5,326.7 396.5,325.9 397.5,325.7 398.5,325.8 399.5,325.7 400.5,325.6 401.5,325.1 402.5,325.0 403.5,325.3 404.5,324.5 405.5,324.6 406.5,324.5 407.5,323.9 408.5,323.9 409.5,324.0 410.5,323.7 411.5,323.2 412.5,323.2 413.5,323.5 414.5,322.8 415.5,322.6 416.5,322.4 417.5,322.8 418.5,322.1 419.5,321.9 420.5,321.8 421.5,322.1 422.5,321.6 423.5,321.0 424.5,321.1 425.5,320.9 426.5,321.2 427.5,320.5 428.5,320.2 429.5,320.2 430.5,320.3 431.5,320.4 432.5,319.6 433.5,319.7" fill="none" stroke="#000" stroke-width="1.1" stroke-linejoin="round"/><polyline points="373.5,324.1 374.5,323.4 375.5,323.4 376.5,323.5 377.5,323.5 378.5,323.3 379.5,323.4 380.5,323.5 381.5,323.1 382.5,323.3 383.5,323.0 384.5,322.4 385.5,322.3 386.5,322.7 387.5,322.5 388.5,321.8 389.5,321.9 390.5,321.7 391.5,321.6 392.5,321.5 393.5,320.5 394.5,320.8 395.5,319.7 396.5,319.4 397.5,319.4 398.5,319.0 399.5,318.5 400.5,317.7 401.5,317.8 402.5,317.3 403.5,316.4 404.5,316.5 405.5,316.2 406.5,315.8 407.5,315.4 408.5,314.5 409.5,314.6 410.5,314.1 411.5,313.6 412.5,313.2 413.5,313.4 414.5,313.2 415.5,312.6 416.5,312.3 417.5,311.6 418.5,311.3 419.5,311.0 420.5,310.7 421.5,310.7 422.5,310.1 423.5,309.8 424.5,309.7 425.5,309.3 426.5,309.1 427.5,308.4 428.5,308.9 429.5,307.8 430.5,307.5 431.5,307.3 432.5,307.3 433.5,307.0" fill="none" stroke="#000" stroke-width="1.1" stroke-linejoin="round"/></g><path d="M373.5,296.0 V340.5 M370.3,300.3 H373.5 M370.3,318.9 H373.5 M370.3,337.5 H433.5 M403.5,337.5 V340.5 M433.5,337.5 V340.5" fill="none" stroke="#222" stroke-width="1"/><text x="374.90" y="301.20" font-size="10.5" fill="#000" stroke="#000" stroke-width="0.12" text-anchor="start" font-weight="normal" >984±48</text><g clip-path="url(#pc15)"><polygon points="446.5,316.8 447.5,317.0 448.5,317.6 449.5,316.9 450.5,315.7 451.5,315.8 452.5,315.2 453.5,315.3 454.5,316.4 455.5,314.6 456.5,316.0 457.5,314.4 458.5,315.0 459.5,314.6 460.5,315.4 461.5,314.1 462.5,314.7 463.5,314.5 464.5,312.7 465.5,313.1 466.5,313.4 467.5,313.2 468.5,313.1 469.5,312.2 470.5,312.9 471.5,311.2 472.5,312.1 473.5,310.5 474.5,312.0 475.5,310.7 476.5,311.3 477.5,310.3 478.5,310.4 479.5,309.1 480.5,309.7 481.5,310.4 482.5,308.2 483.5,308.6 484.5,309.1 485.5,308.0 486.5,307.1 487.5,308.3 488.5,308.2 489.5,307.4 490.5,306.5 491.5,306.0 492.5,306.7 493.5,306.8 494.5,305.9 495.5,306.3 496.5,305.8 497.5,304.4 498.5,305.1 499.5,304.4 500.5,304.3 501.5,303.5 502.5,304.4 503.5,303.2 504.5,303.1 505.5,301.7 506.5,302.7 506.5,315.0 505.5,317.2 504.5,317.7 503.5,316.3 502.5,316.3 501.5,317.7 500.5,317.4 499.5,319.5 498.5,317.8 497.5,319.1 496.5,319.7 495.5,318.6 494.5,319.6 493.5,319.3 492.5,320.5 491.5,320.1 490.5,319.7 489.5,320.5 488.5,321.6 487.5,322.1 486.5,321.5 485.5,322.1 484.5,323.1 483.5,323.5 482.5,322.3 481.5,322.4 480.5,322.6 479.5,322.7 478.5,322.5 477.5,324.3 476.5,323.3 475.5,324.1 474.5,324.6 473.5,325.2 472.5,323.6 471.5,324.2 470.5,325.2 469.5,326.0 468.5,324.5 467.5,325.9 466.5,325.4 465.5,326.3 464.5,325.2 463.5,327.1 462.5,325.2 461.5,326.7 460.5,326.4 459.5,327.5 458.5,326.8 457.5,328.1 456.5,328.8 455.5,328.0 454.5,328.0 453.5,328.9 452.5,328.5 451.5,328.9 450.5,329.3 449.5,330.2 448.5,330.5 447.5,331.7 446.5,331.0" fill="#8080f2" fill-opacity="1"/><polygon points="446.5,314.1 447.5,314.3 448.5,314.9 449.5,313.4 450.5,313.6 451.5,314.1 452.5,313.6 453.5,313.8 454.5,313.4 455.5,312.5 456.5,312.8 457.5,313.5 458.5,312.3 459.5,311.8 460.5,312.0 461.5,312.6 462.5,311.2 463.5,312.2 464.5,310.9 465.5,310.7 466.5,311.1 467.5,309.9 468.5,310.5 469.5,309.6 470.5,310.6 471.5,309.1 472.5,310.1 473.5,308.3 474.5,308.7 475.5,308.9 476.5,307.6 477.5,308.4 478.5,308.2 479.5,306.6 480.5,306.9 481.5,306.5 482.5,307.3 483.5,305.4 484.5,305.1 485.5,306.4 486.5,304.4 487.5,304.7 488.5,304.8 489.5,304.3 490.5,304.6 491.5,303.9 492.5,303.9 493.5,302.2 494.5,302.8 495.5,301.7 496.5,301.8 497.5,301.2 498.5,301.4 499.5,300.9 500.5,301.1 501.5,300.9 502.5,299.5 503.5,300.2 504.5,299.2 505.5,299.4 506.5,297.9 506.5,308.0 505.5,308.7 504.5,308.8 503.5,309.3 502.5,310.6 501.5,310.9 500.5,311.4 499.5,311.2 498.5,311.1 497.5,312.0 496.5,312.8 495.5,313.6 494.5,313.3 493.5,314.6 492.5,315.2 491.5,314.7 490.5,315.7 489.5,316.4 488.5,316.8 487.5,316.8 486.5,317.3 485.5,316.6 484.5,316.8 483.5,317.3 482.5,318.8 481.5,319.2 480.5,318.7 479.5,318.6 478.5,320.4 477.5,319.9 476.5,320.5 475.5,320.4 474.5,320.8 473.5,321.1 472.5,320.7 471.5,320.9 470.5,322.7 469.5,322.4 468.5,322.2 467.5,322.8 466.5,322.8 465.5,323.2 464.5,324.3 463.5,323.8 462.5,324.7 461.5,324.1 460.5,325.5 459.5,324.7 458.5,324.9 457.5,325.8 456.5,326.6 455.5,327.1 454.5,327.2 453.5,326.6 452.5,327.9 451.5,328.4 450.5,327.9 449.5,327.9 448.5,328.8 447.5,328.7 446.5,329.4" fill="#00c800" fill-opacity="0.45"/><polyline points="446.5,314.1 447.5,314.3 448.5,314.9 449.5,313.4 450.5,313.6 451.5,314.1 452.5,313.6 453.5,313.8 454.5,313.4 455.5,312.5 456.5,312.8 457.5,313.5 458.5,312.3 459.5,311.8 460.5,312.0 461.5,312.6 462.5,311.2 463.5,312.2 464.5,310.9 465.5,310.7 466.5,311.1 467.5,309.9 468.5,310.5 469.5,309.6 470.5,310.6 471.5,309.1 472.5,310.1 473.5,308.3 474.5,308.7 475.5,308.9 476.5,307.6 477.5,308.4 478.5,308.2 479.5,306.6 480.5,306.9 481.5,306.5 482.5,307.3 483.5,305.4 484.5,305.1 485.5,306.4 486.5,304.4 487.5,304.7 488.5,304.8 489.5,304.3 490.5,304.6 491.5,303.9 492.5,303.9 493.5,302.2 494.5,302.8 495.5,301.7 496.5,301.8 497.5,301.2 498.5,301.4 499.5,300.9 500.5,301.1 501.5,300.9 502.5,299.5 503.5,300.2 504.5,299.2 505.5,299.4 506.5,297.9" fill="none" stroke="#22cc22" stroke-width="1.1" stroke-linejoin="round"/><polyline points="446.5,329.4 447.5,328.7 448.5,328.8 449.5,327.9 450.5,327.9 451.5,328.4 452.5,327.9 453.5,326.6 454.5,327.2 455.5,327.1 456.5,326.6 457.5,325.8 458.5,324.9 459.5,324.7 460.5,325.5 461.5,324.1 462.5,324.7 463.5,323.8 464.5,324.3 465.5,323.2 466.5,322.8 467.5,322.8 468.5,322.2 469.5,322.4 470.5,322.7 471.5,320.9 472.5,320.7 473.5,321.1 474.5,320.8 475.5,320.4 476.5,320.5 477.5,319.9 478.5,320.4 479.5,318.6 480.5,318.7 481.5,319.2 482.5,318.8 483.5,317.3 484.5,316.8 485.5,316.6 486.5,317.3 487.5,316.8 488.5,316.8 489.5,316.4 490.5,315.7 491.5,314.7 492.5,315.2 493.5,314.6 494.5,313.3 495.5,313.6 496.5,312.8 497.5,312.0 498.5,311.1 499.5,311.2 500.5,311.4 501.5,310.9 502.5,310.6 503.5,309.3 504.5,308.8 505.5,308.7 506.5,308.0" fill="none" stroke="#22cc22" stroke-width="1.1" stroke-linejoin="round"/><polyline points="446.5,323.4 447.5,323.2 448.5,323.2 449.5,323.2 450.5,323.1 451.5,322.5 452.5,322.4 453.5,322.0 454.5,321.7 455.5,321.8 456.5,321.6 457.5,320.9 458.5,321.0 459.5,320.5 460.5,320.3 461.5,320.7 462.5,319.8 463.5,319.6 464.5,319.8 465.5,319.7 466.5,318.9 467.5,318.8 468.5,318.6 469.5,318.5 470.5,318.1 471.5,318.4 472.5,317.8 473.5,317.8 474.5,317.9 475.5,317.3 476.5,317.6 477.5,316.8 478.5,316.7 479.5,316.6 480.5,316.7 481.5,316.5 482.5,315.5 483.5,315.7 484.5,315.3 485.5,315.1 486.5,314.5 487.5,314.7 488.5,314.4 489.5,313.8 490.5,313.3 491.5,313.3 492.5,312.7 493.5,312.8 494.5,312.1 495.5,312.4 496.5,311.4 497.5,311.4 498.5,311.0 499.5,310.6 500.5,310.0 501.5,309.7 502.5,310.0 503.5,308.9 504.5,309.1 505.5,308.9 506.5,308.4" fill="none" stroke="#000" stroke-width="1.1" stroke-linejoin="round"/><polyline points="446.5,321.6 447.5,321.4 448.5,321.0 449.5,321.4 450.5,321.3 451.5,320.7 452.5,320.2 453.5,320.5 454.5,320.4 455.5,319.8 456.5,319.9 457.5,319.9 458.5,319.7 459.5,319.3 460.5,319.1 461.5,319.1 462.5,318.7 463.5,318.4 464.5,318.0 465.5,318.1 466.5,317.8 467.5,317.7 468.5,316.7 469.5,316.6 470.5,317.0 471.5,316.6 472.5,316.4 473.5,315.9 474.5,315.6 475.5,314.9 476.5,314.6 477.5,315.0 478.5,314.4 479.5,313.8 480.5,314.2 481.5,313.2 482.5,313.2 483.5,312.6 484.5,312.2 485.5,312.2 486.5,312.1 487.5,311.6 488.5,311.4 489.5,311.1 490.5,310.5 491.5,310.1 492.5,309.4 493.5,309.1 494.5,308.5 495.5,308.0 496.5,307.7 497.5,307.2 498.5,307.4 499.5,307.0 500.5,306.6 501.5,306.0 502.5,305.1 503.5,305.0 504.5,304.6 505.5,304.0 506.5,303.8" fill="none" stroke="#000" stroke-width="1.1" stroke-linejoin="round"/></g><path d="M446.5,296.0 V340.5 M443.3,300.3 H446.5 M443.3,318.9 H446.5 M443.3,337.5 H506.5 M476.5,337.5 V340.5 M506.5,337.5 V340.5" fill="none" stroke="#222" stroke-width="1"/><text x="447.90" y="301.20" font-size="10.5" fill="#000" stroke="#000" stroke-width="0.12" text-anchor="start" font-weight="normal" >570±42</text><g clip-path="url(#pc20)"><polygon points="80.9,388.4 81.9,387.9 82.9,387.3 83.9,387.5 84.9,386.1 85.9,386.9 86.9,385.3 87.9,384.6 88.9,385.4 89.9,385.8 90.9,384.1 91.9,385.2 92.9,384.7 93.9,384.6 94.9,384.2 95.9,383.7 96.9,382.4 97.9,381.3 98.9,382.5 99.9,381.8 100.9,381.3 101.9,380.9 102.9,381.0 103.9,379.4 104.9,379.5 105.9,380.2 106.9,378.0 107.9,378.2 108.9,377.4 109.9,376.6 110.9,377.9 111.9,376.1 112.9,376.2 113.9,376.6 114.9,376.1 115.9,375.9 116.9,374.5 117.9,375.0 118.9,374.1 119.9,372.4 120.9,372.9 121.9,371.4 122.9,371.2 123.9,371.7 124.9,370.5 125.9,371.4 126.9,369.0 127.9,368.7 128.9,368.8 129.9,369.0 130.9,368.4 131.9,368.5 132.9,366.6 133.9,367.4 134.9,366.6 135.9,365.9 136.9,364.0 137.9,363.6 138.9,363.0 139.9,363.0 140.9,362.2 140.9,375.5 139.9,377.2 138.9,376.7 137.9,376.5 136.9,378.4 135.9,378.1 134.9,377.0 133.9,378.6 132.9,377.3 131.9,378.9 130.9,378.5 129.9,378.8 128.9,379.9 127.9,379.1 126.9,380.4 125.9,378.3 124.9,379.9 123.9,379.8 122.9,379.6 121.9,380.4 120.9,381.7 119.9,380.4 118.9,381.0 117.9,381.7 116.9,380.4 115.9,381.5 114.9,381.7 113.9,381.5 112.9,381.5 111.9,381.5 110.9,383.2 109.9,382.9 108.9,384.0 107.9,382.9 106.9,384.5 105.9,383.4 104.9,385.1 103.9,384.9 102.9,384.7 101.9,384.9 100.9,385.0 99.9,384.8 98.9,385.4 97.9,385.3 96.9,385.4 95.9,387.6 94.9,387.5 93.9,387.6 92.9,387.4 91.9,387.3 90.9,388.0 89.9,388.2 88.9,389.0 87.9,389.5 86.9,387.9 85.9,388.1 84.9,390.3 83.9,388.8 82.9,389.1 81.9,390.5 80.9,391.0" fill="#8080f2" fill-opacity="1"/><polygon points="80.9,386.5 81.9,386.2 82.9,385.6 83.9,383.8 84.9,384.7 85.9,384.3 86.9,382.8 87.9,382.5 88.9,382.0 89.9,380.9 90.9,380.2 91.9,380.5 92.9,380.1 93.9,379.9 94.9,379.4 95.9,377.8 96.9,378.5 97.9,377.8 98.9,377.0 99.9,376.9 100.9,376.3 101.9,375.3 102.9,374.6 103.9,374.6 104.9,374.6 105.9,373.5 106.9,372.5 107.9,371.9 108.9,372.9 109.9,371.6 110.9,370.6 111.9,370.1 112.9,369.6 113.9,369.3 114.9,369.4 115.9,369.8 116.9,369.4 117.9,368.0 118.9,368.5 119.9,368.4 120.9,367.4 121.9,366.9 122.9,366.2 123.9,367.1 124.9,366.7 125.9,365.3 126.9,364.4 127.9,364.8 128.9,363.9 129.9,363.7 130.9,362.6 131.9,361.5 132.9,361.0 133.9,359.3 134.9,358.5 135.9,357.5 136.9,357.3 137.9,355.4 138.9,354.5 139.9,353.3 140.9,350.9 140.9,359.4 139.9,360.9 138.9,362.5 137.9,362.2 136.9,364.2 135.9,365.2 134.9,366.9 133.9,366.9 132.9,367.8 131.9,368.0 130.9,369.7 129.9,369.4 128.9,371.2 127.9,370.6 126.9,371.8 125.9,372.7 124.9,372.4 123.9,372.6 122.9,372.6 121.9,373.2 120.9,374.1 119.9,374.3 118.9,375.3 117.9,375.0 116.9,375.5 115.9,376.0 114.9,375.7 113.9,376.9 112.9,376.6 111.9,377.7 110.9,376.8 109.9,377.2 108.9,378.3 107.9,378.2 106.9,379.3 105.9,379.6 104.9,379.7 103.9,380.8 102.9,380.4 101.9,381.2 100.9,382.4 99.9,382.8 98.9,382.5 97.9,382.5 96.9,383.2 95.9,383.9 94.9,384.1 93.9,385.0 92.9,385.0 91.9,386.1 90.9,385.6 89.9,386.7 88.9,387.3 87.9,386.4 86.9,388.5 85.9,388.9 84.9,388.4 83.9,389.0 82.9,389.5 81.9,389.4 80.9,389.5" fill="#00c800" fill-opacity="0.45"/><polyline points="80.9,386.5 81.9,386.2 82.9,385.6 83.9,383.8 84.9,384.7 85.9,384.3 86.9,382.8 87.9,382.5 88.9,382.0 89.9,380.9 90.9,380.2 91.9,380.5 92.9,380.1 93.9,379.9 94.9,379.4 95.9,377.8 96.9,378.5 97.9,377.8 98.9,377.0 99.9,376.9 100.9,376.3 101.9,375.3 102.9,374.6 103.9,374.6 104.9,374.6 105.9,373.5 106.9,372.5 107.9,371.9 108.9,372.9 109.9,371.6 110.9,370.6 111.9,370.1 112.9,369.6 113.9,369.3 114.9,369.4 115.9,369.8 116.9,369.4 117.9,368.0 118.9,368.5 119.9,368.4 120.9,367.4 121.9,366.9 122.9,366.2 123.9,367.1 124.9,366.7 125.9,365.3 126.9,364.4 127.9,364.8 128.9,363.9 129.9,363.7 130.9,362.6 131.9,361.5 132.9,361.0 133.9,359.3 134.9,358.5 135.9,357.5 136.9,357.3 137.9,355.4 138.9,354.5 139.9,353.3 140.9,350.9" fill="none" stroke="#22cc22" stroke-width="1.1" stroke-linejoin="round"/><polyline points="80.9,389.5 81.9,389.4 82.9,389.5 83.9,389.0 84.9,388.4 85.9,388.9 86.9,388.5 87.9,386.4 88.9,387.3 89.9,386.7 90.9,385.6 91.9,386.1 92.9,385.0 93.9,385.0 94.9,384.1 95.9,383.9 96.9,383.2 97.9,382.5 98.9,382.5 99.9,382.8 100.9,382.4 101.9,381.2 102.9,380.4 103.9,380.8 104.9,379.7 105.9,379.6 106.9,379.3 107.9,378.2 108.9,378.3 109.9,377.2 110.9,376.8 111.9,377.7 112.9,376.6 113.9,376.9 114.9,375.7 115.9,376.0 116.9,375.5 117.9,375.0 118.9,375.3 119.9,374.3 120.9,374.1 121.9,373.2 122.9,372.6 123.9,372.6 124.9,372.4 125.9,372.7 126.9,371.8 127.9,370.6 128.9,371.2 129.9,369.4 130.9,369.7 131.9,368.0 132.9,367.8 133.9,366.9 134.9,366.9 135.9,365.2 136.9,364.2 137.9,362.2 138.9,362.5 139.9,360.9 140.9,359.4" fill="none" stroke="#22cc22" stroke-width="1.1" stroke-linejoin="round"/><polyline points="80.9,389.0 81.9,389.0 82.9,387.9 83.9,387.7 84.9,387.6 85.9,387.5 86.9,387.1 87.9,386.5 88.9,386.1 89.9,386.0 90.9,385.4 91.9,385.2 92.9,384.6 93.9,384.4 94.9,384.5 95.9,383.6 96.9,383.3 97.9,383.0 98.9,382.9 99.9,382.8 100.9,382.5 101.9,381.9 102.9,381.6 103.9,382.0 104.9,381.4 105.9,381.2 106.9,381.2 107.9,380.6 108.9,380.1 109.9,379.8 110.9,379.5 111.9,379.4 112.9,379.0 113.9,379.1 114.9,379.3 115.9,378.8 116.9,379.0 117.9,378.8 118.9,378.0 119.9,377.9 120.9,378.2 121.9,377.5 122.9,377.5 123.9,377.5 124.9,376.8 125.9,376.7 126.9,376.5 127.9,376.3 128.9,376.3 129.9,375.7 130.9,375.5 131.9,374.8 132.9,374.5 133.9,374.2 134.9,372.9 135.9,372.4 136.9,372.0 137.9,371.2 138.9,370.0 139.9,369.5 140.9,368.4" fill="none" stroke="#000" stroke-width="1.1" stroke-linejoin="round"/><polyline points="80.9,388.4 81.9,388.1 82.9,387.4 83.9,386.9 84.9,386.7 85.9,386.1 86.9,385.7 87.9,385.4 88.9,384.5 89.9,384.2 90.9,383.4 91.9,383.4 92.9,382.6 93.9,382.3 94.9,381.6 95.9,380.9 96.9,380.8 97.9,380.1 98.9,380.1 99.9,379.2 100.9,379.2 101.9,378.1 102.9,378.1 103.9,377.2 104.9,376.6 105.9,376.8 106.9,375.7 107.9,375.6 108.9,375.4 109.9,374.9 110.9,374.0 111.9,373.5 112.9,373.2 113.9,373.1 114.9,372.5 115.9,372.3 116.9,371.7 117.9,371.6 118.9,371.4 119.9,370.3 120.9,369.9 121.9,369.5 122.9,369.5 123.9,369.3 124.9,368.2 125.9,368.1 126.9,367.4 127.9,366.9 128.9,366.9 129.9,365.8 130.9,365.5 131.9,364.6 132.9,363.6 133.9,362.9 134.9,361.5 135.9,361.3 136.9,359.7 137.9,358.5 138.9,357.5 139.9,356.6 140.9,355.4" fill="none" stroke="#000" stroke-width="1.1" stroke-linejoin="round"/></g><path d="M80.9,348.9 V393.3 M77.7,353.2 H80.9 M77.7,371.75 H80.9 M77.7,390.3 H140.9 M110.9,390.3 V393.3 M140.9,390.3 V393.3" fill="none" stroke="#222" stroke-width="1"/><text x="82.30" y="353.50" font-size="10.5" fill="#000" stroke="#000" stroke-width="0.12" text-anchor="start" font-weight="normal" >825±37</text><g clip-path="url(#pc21)"><polygon points="153.6,362.8 154.6,362.3 155.6,363.3 156.6,363.2 157.6,363.3 158.6,363.0 159.6,362.5 160.6,362.6 161.6,364.5 162.6,364.6 163.6,364.1 164.6,363.9 165.6,365.1 166.6,364.4 167.6,365.3 168.6,366.0 169.6,365.9 170.6,366.0 171.6,366.1 172.6,367.1 173.6,368.2 174.6,367.8 175.6,369.7 176.6,368.2 177.6,369.1 178.6,368.7 179.6,370.9 180.6,369.7 181.6,370.7 182.6,370.6 183.6,370.4 184.6,370.5 185.6,371.2 186.6,371.5 187.6,372.4 188.6,371.0 189.6,372.4 190.6,373.3 191.6,374.0 192.6,374.1 193.6,374.7 194.6,374.1 195.6,374.4 196.6,375.5 197.6,376.2 198.6,376.6 199.6,376.1 200.6,376.2 201.6,378.2 202.6,376.7 203.6,378.3 204.6,378.1 205.6,378.4 206.6,378.2 207.6,377.4 208.6,377.6 209.6,377.3 210.6,377.6 211.6,378.4 212.6,377.6 213.6,376.3 213.6,388.6 212.6,387.4 211.6,388.5 210.6,387.7 209.6,388.3 208.6,388.8 207.6,387.7 206.6,386.3 205.6,387.1 204.6,385.7 203.6,385.5 202.6,386.3 201.6,385.6 200.6,385.5 199.6,385.5 198.6,386.1 197.6,386.3 196.6,386.1 195.6,385.3 194.6,385.5 193.6,383.8 192.6,384.1 191.6,382.8 190.6,382.9 189.6,383.9 188.6,384.1 187.6,382.4 186.6,383.0 185.6,381.4 184.6,380.7 183.6,382.2 182.6,382.2 181.6,381.3 180.6,380.7 179.6,379.3 178.6,379.3 177.6,379.0 176.6,381.0 175.6,378.7 174.6,380.9 173.6,379.0 172.6,380.0 171.6,380.4 170.6,379.3 169.6,379.5 168.6,380.2 167.6,380.3 166.6,378.4 165.6,379.4 164.6,380.1 163.6,380.1 162.6,379.9 161.6,379.8 160.6,379.8 159.6,379.9 158.6,380.0 157.6,379.8 156.6,380.0 155.6,381.9 154.6,382.0 153.6,381.3" fill="#8080f2" fill-opacity="1"/><polygon points="153.6,364.0 154.6,362.8 155.6,363.3 156.6,362.5 157.6,362.5 158.6,362.1 159.6,361.9 160.6,361.8 161.6,362.0 162.6,361.5 163.6,360.9 164.6,361.6 165.6,361.6 166.6,361.4 167.6,360.8 168.6,361.3 169.6,361.3 170.6,360.3 171.6,360.2 172.6,360.9 173.6,359.8 174.6,359.5 175.6,360.4 176.6,359.3 177.6,360.3 178.6,360.4 179.6,358.8 180.6,358.6 181.6,360.0 182.6,359.0 183.6,359.4 184.6,359.7 185.6,358.5 186.6,359.4 187.6,359.1 188.6,358.7 189.6,358.4 190.6,358.5 191.6,357.7 192.6,358.7 193.6,358.5 194.6,358.1 195.6,357.1 196.6,357.6 197.6,357.3 198.6,358.0 199.6,357.8 200.6,357.3 201.6,357.1 202.6,357.6 203.6,357.7 204.6,357.4 205.6,357.0 206.6,357.4 207.6,356.2 208.6,356.9 209.6,356.2 210.6,356.2 211.6,356.5 212.6,356.2 213.6,356.3 213.6,376.0 212.6,376.3 211.6,375.3 210.6,374.8 209.6,376.1 208.6,374.8 207.6,375.1 206.6,375.2 205.6,374.2 204.6,374.0 203.6,374.5 202.6,373.0 201.6,374.0 200.6,372.5 199.6,373.4 198.6,372.2 197.6,372.7 196.6,371.6 195.6,372.2 194.6,371.9 193.6,372.6 192.6,372.3 191.6,372.6 190.6,372.4 189.6,371.1 188.6,370.8 187.6,371.9 186.6,371.5 185.6,370.8 184.6,371.8 183.6,371.5 182.6,371.8 181.6,371.6 180.6,372.4 179.6,372.1 178.6,372.7 177.6,373.1 176.6,373.0 175.6,373.5 174.6,373.9 173.6,374.0 172.6,374.2 171.6,375.6 170.6,375.7 169.6,376.2 168.6,376.1 167.6,376.5 166.6,376.6 165.6,377.2 164.6,378.5 163.6,378.5 162.6,379.5 161.6,379.0 160.6,380.4 159.6,380.8 158.6,379.9 157.6,380.2 156.6,381.7 155.6,381.3 154.6,382.4 153.6,382.4" fill="#00c800" fill-opacity="0.45"/><polyline points="153.6,364.0 154.6,362.8 155.6,363.3 156.6,362.5 157.6,362.5 158.6,362.1 159.6,361.9 160.6,361.8 161.6,362.0 162.6,361.5 163.6,360.9 164.6,361.6 165.6,361.6 166.6,361.4 167.6,360.8 168.6,361.3 169.6,361.3 170.6,360.3 171.6,360.2 172.6,360.9 173.6,359.8 174.6,359.5 175.6,360.4 176.6,359.3 177.6,360.3 178.6,360.4 179.6,358.8 180.6,358.6 181.6,360.0 182.6,359.0 183.6,359.4 184.6,359.7 185.6,358.5 186.6,359.4 187.6,359.1 188.6,358.7 189.6,358.4 190.6,358.5 191.6,357.7 192.6,358.7 193.6,358.5 194.6,358.1 195.6,357.1 196.6,357.6 197.6,357.3 198.6,358.0 199.6,357.8 200.6,357.3 201.6,357.1 202.6,357.6 203.6,357.7 204.6,357.4 205.6,357.0 206.6,357.4 207.6,356.2 208.6,356.9 209.6,356.2 210.6,356.2 211.6,356.5 212.6,356.2 213.6,356.3" fill="none" stroke="#22cc22" stroke-width="1.1" stroke-linejoin="round"/><polyline points="153.6,382.4 154.6,382.4 155.6,381.3 156.6,381.7 157.6,380.2 158.6,379.9 159.6,380.8 160.6,380.4 161.6,379.0 162.6,379.5 163.6,378.5 164.6,378.5 165.6,377.2 166.6,376.6 167.6,376.5 168.6,376.1 169.6,376.2 170.6,375.7 171.6,375.6 172.6,374.2 173.6,374.0 174.6,373.9 175.6,373.5 176.6,373.0 177.6,373.1 178.6,372.7 179.6,372.1 180.6,372.4 181.6,371.6 182.6,371.8 183.6,371.5 184.6,371.8 185.6,370.8 186.6,371.5 187.6,371.9 188.6,370.8 189.6,371.1 190.6,372.4 191.6,372.6 192.6,372.3 193.6,372.6 194.6,371.9 195.6,372.2 196.6,371.6 197.6,372.7 198.6,372.2 199.6,373.4 200.6,372.5 201.6,374.0 202.6,373.0 203.6,374.5 204.6,374.0 205.6,374.2 206.6,375.2 207.6,375.1 208.6,374.8 209.6,376.1 210.6,374.8 211.6,375.3 212.6,376.3 213.6,376.0" fill="none" stroke="#22cc22" stroke-width="1.1" stroke-linejoin="round"/><polyline points="153.6,372.8 154.6,372.2 155.6,372.5 156.6,372.2 157.6,372.3 158.6,371.6 159.6,372.0 160.6,371.7 161.6,371.7 162.6,371.9 163.6,372.0 164.6,371.7 165.6,372.1 166.6,371.9 167.6,372.3 168.6,372.3 169.6,372.6 170.6,372.4 171.6,373.1 172.6,373.2 173.6,373.6 174.6,373.9 175.6,374.1 176.6,374.6 177.6,374.5 178.6,374.9 179.6,374.7 180.6,375.5 181.6,375.3 182.6,376.1 183.6,376.0 184.6,376.1 185.6,376.6 186.6,376.6 187.6,377.3 188.6,377.3 189.6,377.9 190.6,377.7 191.6,378.2 192.6,378.4 193.6,378.7 194.6,378.9 195.6,379.7 196.6,379.7 197.6,380.2 198.6,380.4 199.6,380.9 200.6,380.8 201.6,381.1 202.6,381.3 203.6,381.6 204.6,381.8 205.6,382.2 206.6,382.1 207.6,381.8 208.6,382.3 209.6,382.6 210.6,382.7 211.6,382.4 212.6,382.7 213.6,382.2" fill="none" stroke="#000" stroke-width="1.1" stroke-linejoin="round"/><polyline points="153.6,372.6 154.6,372.3 155.6,371.6 156.6,371.1 157.6,371.1 158.6,370.5 159.6,370.0 160.6,370.0 161.6,369.6 162.6,369.5 163.6,369.0 164.6,368.9 165.6,368.8 166.6,367.8 167.6,368.1 168.6,367.9 169.6,367.4 170.6,367.0 171.6,367.2 172.6,366.9 173.6,366.6 174.6,366.1 175.6,365.9 176.6,365.9 177.6,365.9 178.6,366.0 179.6,365.3 180.6,365.4 181.6,365.3 182.6,365.6 183.6,365.0 184.6,364.9 185.6,365.1 186.6,364.9 187.6,364.5 188.6,364.3 189.6,364.5 190.6,365.1 191.6,364.6 192.6,364.7 193.6,364.6 194.6,364.9 195.6,364.5 196.6,364.5 197.6,364.5 198.6,364.8 199.6,364.5 200.6,364.6 201.6,365.2 202.6,365.1 203.6,365.2 204.6,364.8 205.6,365.2 206.6,365.3 207.6,365.2 208.6,365.6 209.6,365.2 210.6,365.1 211.6,365.8 212.6,365.4 213.6,366.1" fill="none" stroke="#000" stroke-width="1.1" stroke-linejoin="round"/></g><path d="M153.6,348.9 V393.3 M150.4,353.2 H153.6 M150.4,371.75 H153.6 M150.4,390.3 H213.6 M183.6,390.3 V393.3 M213.6,390.3 V393.3" fill="none" stroke="#222" stroke-width="1"/><text x="155.00" y="353.50" font-size="10.5" fill="#000" stroke="#000" stroke-width="0.12" text-anchor="start" font-weight="normal" >1347±83</text><g clip-path="url(#pc22)"><polygon points="227.6,386.7 228.6,386.8 229.6,385.4 230.6,386.6 231.6,384.7 232.6,384.6 233.6,386.0 234.6,384.9 235.6,385.1 236.6,384.5 237.6,383.7 238.6,383.8 239.6,383.1 240.6,383.5 241.6,382.7 242.6,381.3 243.6,381.1 244.6,380.7 245.6,381.1 246.6,381.1 247.6,380.3 248.6,380.2 249.6,380.4 250.6,379.6 251.6,379.9 252.6,378.0 253.6,379.1 254.6,378.7 255.6,378.2 256.6,376.1 257.6,376.7 258.6,375.3 259.6,376.0 260.6,374.1 261.6,373.8 262.6,373.9 263.6,374.0 264.6,373.4 265.6,371.8 266.6,372.2 267.6,372.6 268.6,372.0 269.6,371.5 270.6,370.4 271.6,369.2 272.6,368.6 273.6,368.1 274.6,367.8 275.6,368.2 276.6,367.1 277.6,365.6 278.6,366.3 279.6,364.5 280.6,364.9 281.6,363.8 282.6,362.3 283.6,362.3 284.6,362.4 285.6,360.3 286.6,360.9 287.6,359.7 287.6,371.3 286.6,372.9 285.6,371.4 284.6,373.2 283.6,372.9 282.6,374.0 281.6,373.2 280.6,373.2 279.6,374.5 278.6,375.4 277.6,374.9 276.6,375.3 275.6,377.1 274.6,377.8 273.6,378.0 272.6,376.9 271.6,378.5 270.6,378.1 269.6,377.0 268.6,378.8 267.6,378.2 266.6,380.2 265.6,380.5 264.6,379.3 263.6,379.3 262.6,381.3 261.6,380.3 260.6,381.0 259.6,380.9 258.6,380.9 257.6,381.7 256.6,382.5 255.6,383.1 254.6,382.4 253.6,382.5 252.6,383.4 251.6,384.2 250.6,383.8 249.6,383.7 248.6,385.4 247.6,385.5 246.6,386.2 245.6,385.6 244.6,387.2 243.6,386.4 242.6,385.8 241.6,386.8 240.6,387.8 239.6,388.1 238.6,388.8 237.6,387.5 236.6,389.1 235.6,387.7 234.6,388.7 233.6,388.6 232.6,388.0 231.6,389.0 230.6,390.8 229.6,390.4 228.6,389.4 227.6,391.1" fill="#8080f2" fill-opacity="1"/><polygon points="227.6,385.9 228.6,384.1 229.6,384.8 230.6,384.2 231.6,384.3 232.6,383.0 233.6,383.6 234.6,383.3 235.6,383.0 236.6,381.6 237.6,380.6 238.6,380.9 239.6,380.8 240.6,380.0 241.6,379.0 242.6,380.0 243.6,378.4 244.6,379.1 245.6,378.7 246.6,377.2 247.6,377.7 248.6,376.7 249.6,376.3 250.6,375.3 251.6,375.1 252.6,374.2 253.6,374.1 254.6,373.5 255.6,372.9 256.6,372.5 257.6,372.6 258.6,371.4 259.6,370.5 260.6,370.8 261.6,369.4 262.6,368.3 263.6,368.0 264.6,367.5 265.6,367.6 266.6,365.9 267.6,366.8 268.6,365.9 269.6,364.5 270.6,364.4 271.6,363.0 272.6,363.3 273.6,361.6 274.6,361.1 275.6,361.1 276.6,359.9 277.6,359.1 278.6,359.5 279.6,357.3 280.6,356.4 281.6,356.4 282.6,356.2 283.6,354.5 284.6,354.3 285.6,353.3 286.6,352.0 287.6,352.6 287.6,359.1 286.6,359.4 285.6,360.4 284.6,361.1 283.6,362.1 282.6,363.1 281.6,362.8 280.6,364.4 279.6,365.3 278.6,365.9 277.6,365.4 276.6,366.8 275.6,367.6 274.6,368.4 273.6,367.8 272.6,369.9 271.6,369.0 270.6,369.7 269.6,370.7 268.6,371.1 267.6,372.1 266.6,372.9 265.6,373.4 264.6,373.6 263.6,374.5 262.6,375.9 261.6,375.3 260.6,376.2 259.6,377.2 258.6,377.4 257.6,377.1 256.6,377.9 255.6,379.3 254.6,379.5 253.6,380.1 252.6,380.9 251.6,380.1 250.6,381.1 249.6,382.3 248.6,382.8 247.6,382.0 246.6,383.4 245.6,383.6 244.6,383.9 243.6,383.8 242.6,384.4 241.6,384.3 240.6,385.7 239.6,385.9 238.6,386.1 237.6,387.0 236.6,387.6 235.6,387.2 234.6,387.2 233.6,388.3 232.6,387.9 231.6,389.2 230.6,389.2 229.6,388.8 228.6,388.9 227.6,390.1" fill="#00c800" fill-opacity="0.45"/><polyline points="227.6,385.9 228.6,384.1 229.6,384.8 230.6,384.2 231.6,384.3 232.6,383.0 233.6,383.6 234.6,383.3 235.6,383.0 236.6,381.6 237.6,380.6 238.6,380.9 239.6,380.8 240.6,380.0 241.6,379.0 242.6,380.0 243.6,378.4 244.6,379.1 245.6,378.7 246.6,377.2 247.6,377.7 248.6,376.7 249.6,376.3 250.6,375.3 251.6,375.1 252.6,374.2 253.6,374.1 254.6,373.5 255.6,372.9 256.6,372.5 257.6,372.6 258.6,371.4 259.6,370.5 260.6,370.8 261.6,369.4 262.6,368.3 263.6,368.0 264.6,367.5 265.6,367.6 266.6,365.9 267.6,366.8 268.6,365.9 269.6,364.5 270.6,364.4 271.6,363.0 272.6,363.3 273.6,361.6 274.6,361.1 275.6,361.1 276.6,359.9 277.6,359.1 278.6,359.5 279.6,357.3 280.6,356.4 281.6,356.4 282.6,356.2 283.6,354.5 284.6,354.3 285.6,353.3 286.6,352.0 287.6,352.6" fill="none" stroke="#22cc22" stroke-width="1.1" stroke-linejoin="round"/><polyline points="227.6,390.1 228.6,388.9 229.6,388.8 230.6,389.2 231.6,389.2 232.6,387.9 233.6,388.3 234.6,387.2 235.6,387.2 236.6,387.6 237.6,387.0 238.6,386.1 239.6,385.9 240.6,385.7 241.6,384.3 242.6,384.4 243.6,383.8 244.6,383.9 245.6,383.6 246.6,383.4 247.6,382.0 248.6,382.8 249.6,382.3 250.6,381.1 251.6,380.1 252.6,380.9 253.6,380.1 254.6,379.5 255.6,379.3 256.6,377.9 257.6,377.1 258.6,377.4 259.6,377.2 260.6,376.2 261.6,375.3 262.6,375.9 263.6,374.5 264.6,373.6 265.6,373.4 266.6,372.9 267.6,372.1 268.6,371.1 269.6,370.7 270.6,369.7 271.6,369.0 272.6,369.9 273.6,367.8 274.6,368.4 275.6,367.6 276.6,366.8 277.6,365.4 278.6,365.9 279.6,365.3 280.6,364.4 281.6,362.8 282.6,363.1 283.6,362.1 284.6,361.1 285.6,360.4 286.6,359.4 287.6,359.1" fill="none" stroke="#22cc22" stroke-width="1.1" stroke-linejoin="round"/><polyline points="227.6,388.6 228.6,388.1 229.6,388.1 230.6,387.5 231.6,387.4 232.6,387.0 233.6,387.2 234.6,386.8 235.6,386.6 236.6,386.3 237.6,385.5 238.6,385.8 239.6,385.2 240.6,384.4 241.6,384.0 242.6,384.3 243.6,384.1 244.6,383.6 245.6,382.8 246.6,382.8 247.6,382.4 248.6,382.4 249.6,381.9 250.6,381.7 251.6,380.7 252.6,380.3 253.6,380.2 254.6,380.1 255.6,379.2 256.6,379.4 257.6,378.7 258.6,378.2 259.6,377.8 260.6,377.6 261.6,377.2 262.6,376.9 263.6,376.0 264.6,376.1 265.6,375.4 266.6,375.1 267.6,374.4 268.6,374.3 269.6,374.0 270.6,373.0 271.6,373.0 272.6,372.3 273.6,371.6 274.6,371.5 275.6,370.9 276.6,370.7 277.6,369.4 278.6,369.7 279.6,369.0 280.6,368.4 281.6,367.8 282.6,367.6 283.6,366.8 284.6,366.1 285.6,365.8 286.6,365.0 287.6,365.0" fill="none" stroke="#000" stroke-width="1.1" stroke-linejoin="round"/><polyline points="227.6,387.5 228.6,387.4 229.6,387.2 230.6,387.2 231.6,386.9 232.6,386.3 233.6,385.7 234.6,385.3 235.6,385.3 236.6,384.7 237.6,384.7 238.6,384.4 239.6,384.0 240.6,383.3 241.6,383.1 242.6,382.6 243.6,382.4 244.6,381.4 245.6,381.3 246.6,380.6 247.6,380.3 248.6,380.1 249.6,379.4 250.6,378.5 251.6,378.1 252.6,378.2 253.6,377.4 254.6,377.1 255.6,376.0 256.6,375.7 257.6,375.0 258.6,374.5 259.6,374.1 260.6,373.5 261.6,372.5 262.6,372.2 263.6,371.9 264.6,371.3 265.6,370.8 266.6,370.1 267.6,369.3 268.6,368.6 269.6,367.8 270.6,367.5 271.6,366.4 272.6,366.0 273.6,365.2 274.6,364.9 275.6,364.2 276.6,363.2 277.6,362.4 278.6,361.3 279.6,360.8 280.6,360.4 281.6,359.4 282.6,359.0 283.6,358.0 284.6,356.8 285.6,356.2 286.6,355.2 287.6,354.3" fill="none" stroke="#000" stroke-width="1.1" stroke-linejoin="round"/></g><path d="M227.6,348.9 V393.3 M224.4,353.2 H227.6 M224.4,371.75 H227.6 M224.4,390.3 H287.6 M257.6,390.3 V393.3 M287.6,390.3 V393.3" fill="none" stroke="#222" stroke-width="1"/><text x="229.00" y="353.50" font-size="10.5" fill="#000" stroke="#000" stroke-width="0.12" text-anchor="start" font-weight="normal" >519±64</text><g clip-path="url(#pc23)"><polygon points="300.7,385.6 301.7,386.4 302.7,384.9 303.7,384.6 304.7,385.7 305.7,383.8 306.7,384.6 307.7,384.3 308.7,382.5 309.7,384.0 310.7,383.6 311.7,381.4 312.7,382.7 313.7,382.0 314.7,382.1 315.7,382.1 316.7,381.2 317.7,380.9 318.7,380.9 319.7,379.5 320.7,380.1 321.7,378.5 322.7,378.9 323.7,378.0 324.7,378.8 325.7,377.9 326.7,376.9 327.7,376.7 328.7,375.9 329.7,376.7 330.7,376.2 331.7,375.3 332.7,375.6 333.7,374.3 334.7,375.6 335.7,374.8 336.7,375.0 337.7,375.3 338.7,374.9 339.7,373.7 340.7,374.1 341.7,374.6 342.7,373.8 343.7,374.7 344.7,375.9 345.7,375.2 346.7,374.6 347.7,375.5 348.7,376.3 349.7,377.0 350.7,376.0 351.7,376.4 352.7,375.6 353.7,375.7 354.7,377.3 355.7,377.3 356.7,376.0 357.7,376.7 358.7,377.0 359.7,376.3 360.7,377.1 360.7,388.7 359.7,387.2 358.7,388.9 357.7,386.7 356.7,387.5 355.7,386.7 354.7,388.5 353.7,387.7 352.7,387.4 351.7,387.6 350.7,388.4 349.7,386.6 348.7,387.3 347.7,388.2 346.7,386.6 345.7,386.7 344.7,388.3 343.7,388.5 342.7,387.1 341.7,387.1 340.7,386.9 339.7,386.8 338.7,387.7 337.7,388.2 336.7,386.9 335.7,388.5 334.7,388.7 333.7,388.8 332.7,389.0 331.7,388.1 330.7,388.4 329.7,389.1 328.7,390.0 327.7,387.9 326.7,388.6 325.7,387.9 324.7,388.7 323.7,389.9 322.7,389.5 321.7,388.2 320.7,390.5 319.7,390.0 318.7,390.3 317.7,390.6 316.7,389.8 315.7,389.1 314.7,390.5 313.7,390.6 312.7,390.9 311.7,389.7 310.7,389.3 309.7,390.8 308.7,391.0 307.7,390.7 306.7,390.0 305.7,389.0 304.7,391.3 303.7,391.4 302.7,389.7 301.7,389.1 300.7,389.7" fill="#8080f2" fill-opacity="1"/><polygon points="300.7,385.8 301.7,385.8 302.7,384.2 303.7,384.7 304.7,383.9 305.7,383.6 306.7,382.3 307.7,382.3 308.7,380.7 309.7,379.7 310.7,380.3 311.7,379.2 312.7,377.5 313.7,378.1 314.7,375.8 315.7,376.4 316.7,375.5 317.7,373.8 318.7,373.3 319.7,373.2 320.7,372.1 321.7,371.9 322.7,372.0 323.7,370.9 324.7,369.9 325.7,370.1 326.7,370.0 327.7,369.2 328.7,368.9 329.7,367.3 330.7,368.0 331.7,365.1 332.7,364.1 333.7,362.2 334.7,360.3 335.7,358.3 336.7,357.2 337.7,355.8 338.7,354.4 339.7,354.8 340.7,354.4 341.7,355.6 342.7,355.1 343.7,355.7 344.7,356.9 345.7,357.6 346.7,358.5 347.7,358.5 348.7,359.5 349.7,361.1 350.7,360.8 351.7,362.4 352.7,362.7 353.7,362.6 354.7,363.6 355.7,365.0 356.7,365.7 357.7,366.5 358.7,367.5 359.7,367.0 360.7,368.4 360.7,384.3 359.7,383.4 358.7,384.1 357.7,383.0 356.7,383.4 355.7,383.1 354.7,383.4 353.7,383.0 352.7,382.0 351.7,380.2 350.7,379.2 349.7,379.1 348.7,377.3 347.7,376.3 346.7,375.9 345.7,375.1 344.7,374.3 343.7,372.5 342.7,372.0 341.7,372.3 340.7,372.5 339.7,373.1 338.7,373.3 337.7,374.5 336.7,374.8 335.7,377.1 334.7,377.1 333.7,379.0 332.7,380.9 331.7,384.1 330.7,385.8 329.7,386.1 328.7,387.7 327.7,388.1 326.7,387.8 325.7,388.6 324.7,390.3 323.7,390.2 322.7,390.3 321.7,389.5 320.7,391.0 319.7,390.9 318.7,390.4 317.7,389.8 316.7,390.1 315.7,389.7 314.7,390.8 313.7,390.8 312.7,390.6 311.7,389.5 310.7,391.0 309.7,389.9 308.7,390.6 307.7,390.4 306.7,390.6 305.7,390.7 304.7,390.2 303.7,390.5 302.7,389.5 301.7,390.9 300.7,390.5" fill="#00c800" fill-opacity="0.45"/><polyline points="300.7,385.8 301.7,385.8 302.7,384.2 303.7,384.7 304.7,383.9 305.7,383.6 306.7,382.3 307.7,382.3 308.7,380.7 309.7,379.7 310.7,380.3 311.7,379.2 312.7,377.5 313.7,378.1 314.7,375.8 315.7,376.4 316.7,375.5 317.7,373.8 318.7,373.3 319.7,373.2 320.7,372.1 321.7,371.9 322.7,372.0 323.7,370.9 324.7,369.9 325.7,370.1 326.7,370.0 327.7,369.2 328.7,368.9 329.7,367.3 330.7,368.0 331.7,365.1 332.7,364.1 333.7,362.2 334.7,360.3 335.7,358.3 336.7,357.2 337.7,355.8 338.7,354.4 339.7,354.8 340.7,354.4 341.7,355.6 342.7,355.1 343.7,355.7 344.7,356.9 345.7,357.6 346.7,358.5 347.7,358.5 348.7,359.5 349.7,361.1 350.7,360.8 351.7,362.4 352.7,362.7 353.7,362.6 354.7,363.6 355.7,365.0 356.7,365.7 357.7,366.5 358.7,367.5 359.7,367.0 360.7,368.4" fill="none" stroke="#22cc22" stroke-width="1.1" stroke-linejoin="round"/><polyline points="300.7,390.5 301.7,390.9 302.7,389.5 303.7,390.5 304.7,390.2 305.7,390.7 306.7,390.6 307.7,390.4 308.7,390.6 309.7,389.9 310.7,391.0 311.7,389.5 312.7,390.6 313.7,390.8 314.7,390.8 315.7,389.7 316.7,390.1 317.7,389.8 318.7,390.4 319.7,390.9 320.7,391.0 321.7,389.5 322.7,390.3 323.7,390.2 324.7,390.3 325.7,388.6 326.7,387.8 327.7,388.1 328.7,387.7 329.7,386.1 330.7,385.8 331.7,384.1 332.7,380.9 333.7,379.0 334.7,377.1 335.7,377.1 336.7,374.8 337.7,374.5 338.7,373.3 339.7,373.1 340.7,372.5 341.7,372.3 342.7,372.0 343.7,372.5 344.7,374.3 345.7,375.1 346.7,375.9 347.7,376.3 348.7,377.3 349.7,379.1 350.7,379.2 351.7,380.2 352.7,382.0 353.7,383.0 354.7,383.4 355.7,383.1 356.7,383.4 357.7,383.0 358.7,384.1 359.7,383.4 360.7,384.3" fill="none" stroke="#22cc22" stroke-width="1.1" stroke-linejoin="round"/><polyline points="300.7,388.1 301.7,387.8 302.7,387.3 303.7,387.7 304.7,387.0 305.7,387.3 306.7,387.1 307.7,386.6 308.7,386.8 309.7,386.6 310.7,386.2 311.7,386.2 312.7,386.6 313.7,386.1 314.7,386.0 315.7,385.6 316.7,386.1 317.7,385.5 318.7,385.2 319.7,385.3 320.7,385.1 321.7,384.5 322.7,385.1 323.7,384.4 324.7,384.6 325.7,383.9 326.7,383.8 327.7,383.9 328.7,383.3 329.7,383.4 330.7,383.5 331.7,383.0 332.7,382.6 333.7,382.4 334.7,381.7 335.7,381.2 336.7,381.1 337.7,380.7 338.7,381.0 339.7,381.2 340.7,380.9 341.7,381.6 342.7,381.6 343.7,381.6 344.7,381.7 345.7,382.0 346.7,382.7 347.7,382.1 348.7,383.1 349.7,383.1 350.7,382.9 351.7,382.7 352.7,383.0 353.7,382.8 354.7,382.9 355.7,382.8 356.7,383.1 357.7,382.5 358.7,382.6 359.7,383.3 360.7,383.3" fill="none" stroke="#000" stroke-width="1.1" stroke-linejoin="round"/><polyline points="300.7,387.9 301.7,387.5 302.7,386.9 303.7,387.2 304.7,386.9 305.7,386.0 306.7,386.1 307.7,385.8 308.7,385.3 309.7,384.7 310.7,384.9 311.7,384.0 312.7,383.6 313.7,383.3 314.7,383.0 315.7,382.6 316.7,382.7 317.7,381.7 318.7,381.4 319.7,381.7 320.7,381.1 321.7,381.0 322.7,380.5 323.7,379.5 324.7,379.1 325.7,379.2 326.7,378.4 327.7,378.1 328.7,377.3 329.7,376.0 330.7,374.9 331.7,373.3 332.7,371.8 333.7,370.4 334.7,368.8 335.7,366.8 336.7,365.8 337.7,364.7 338.7,363.2 339.7,363.1 340.7,362.6 341.7,363.4 342.7,363.7 343.7,364.1 344.7,364.9 345.7,366.0 346.7,366.7 347.7,367.9 348.7,368.5 349.7,369.9 350.7,370.2 351.7,371.0 352.7,371.9 353.7,372.3 354.7,373.3 355.7,373.3 356.7,374.0 357.7,374.9 358.7,375.4 359.7,375.7 360.7,377.0" fill="none" stroke="#000" stroke-width="1.1" stroke-linejoin="round"/></g><path d="M300.7,348.9 V393.3 M297.5,353.2 H300.7 M297.5,371.75 H300.7 M297.5,390.3 H360.7 M330.7,390.3 V393.3 M360.7,390.3 V393.3" fill="none" stroke="#222" stroke-width="1"/><text x="302.10" y="353.50" font-size="10.5" fill="#000" stroke="#000" stroke-width="0.12" text-anchor="start" font-weight="normal" >1066±45</text><g clip-path="url(#pc24)"><polygon points="373.5,361.8 374.5,361.9 375.5,362.5 376.5,364.2 377.5,364.2 378.5,365.1 379.5,364.1 380.5,364.7 381.5,366.2 382.5,366.6 383.5,367.6 384.5,367.1 385.5,367.0 386.5,367.3 387.5,368.8 388.5,368.1 389.5,368.8 390.5,370.2 391.5,369.6 392.5,370.4 393.5,369.8 394.5,370.4 395.5,371.8 396.5,371.5 397.5,372.1 398.5,371.6 399.5,372.6 400.5,371.7 401.5,372.9 402.5,373.5 403.5,372.5 404.5,373.3 405.5,374.4 406.5,374.0 407.5,374.7 408.5,375.5 409.5,375.4 410.5,374.4 411.5,374.4 412.5,375.6 413.5,375.1 414.5,375.9 415.5,376.2 416.5,375.8 417.5,375.2 418.5,377.0 419.5,375.4 420.5,377.1 421.5,377.2 422.5,377.2 423.5,376.5 424.5,377.8 425.5,376.7 426.5,377.0 427.5,376.5 428.5,377.7 429.5,377.8 430.5,378.4 431.5,376.8 432.5,377.9 433.5,377.9 433.5,388.3 432.5,388.9 431.5,388.9 430.5,389.6 429.5,388.7 428.5,387.6 427.5,387.6 426.5,388.3 425.5,387.2 424.5,388.4 423.5,387.6 422.5,387.9 421.5,387.7 420.5,387.7 419.5,387.3 418.5,385.5 417.5,385.2 416.5,385.9 415.5,384.6 414.5,386.2 413.5,385.1 412.5,385.1 411.5,385.0 410.5,384.4 409.5,383.2 408.5,383.5 407.5,383.4 406.5,384.1 405.5,382.0 404.5,381.6 403.5,382.6 402.5,382.6 401.5,381.1 400.5,380.6 399.5,380.0 398.5,379.5 397.5,380.7 396.5,380.0 395.5,380.7 394.5,378.9 393.5,379.2 392.5,378.9 391.5,377.4 390.5,378.4 389.5,378.0 388.5,377.8 387.5,376.5 386.5,377.5 385.5,378.2 384.5,376.9 383.5,378.2 382.5,376.6 381.5,377.3 380.5,377.0 379.5,376.4 378.5,375.7 377.5,377.6 376.5,375.8 375.5,377.4 374.5,376.4 373.5,377.2" fill="#8080f2" fill-opacity="1"/><polygon points="373.5,360.0 374.5,360.3 375.5,359.9 376.5,359.3 377.5,360.3 378.5,359.0 379.5,359.6 380.5,360.4 381.5,360.0 382.5,360.2 383.5,358.8 384.5,358.7 385.5,359.2 386.5,359.7 387.5,359.3 388.5,358.7 389.5,358.7 390.5,359.4 391.5,358.9 392.5,358.0 393.5,358.2 394.5,358.0 395.5,358.7 396.5,358.1 397.5,357.6 398.5,358.9 399.5,358.7 400.5,357.8 401.5,358.4 402.5,357.2 403.5,357.0 404.5,357.9 405.5,357.1 406.5,357.4 407.5,356.7 408.5,357.2 409.5,356.8 410.5,356.2 411.5,357.4 412.5,356.8 413.5,356.8 414.5,356.7 415.5,355.8 416.5,356.0 417.5,356.1 418.5,356.2 419.5,355.9 420.5,355.8 421.5,355.1 422.5,355.7 423.5,355.6 424.5,354.7 425.5,354.6 426.5,355.2 427.5,354.0 428.5,354.8 429.5,353.4 430.5,353.3 431.5,354.4 432.5,353.8 433.5,353.6 433.5,363.9 432.5,365.0 431.5,365.5 430.5,364.8 429.5,365.5 428.5,365.2 427.5,364.9 426.5,364.7 425.5,365.7 424.5,364.2 423.5,365.2 422.5,365.0 421.5,364.6 420.5,365.6 419.5,365.1 418.5,364.7 417.5,365.9 416.5,366.2 415.5,366.2 414.5,366.3 413.5,366.9 412.5,365.5 411.5,366.2 410.5,366.2 409.5,367.2 408.5,367.0 407.5,366.6 406.5,366.7 405.5,367.3 404.5,367.4 403.5,367.2 402.5,368.1 401.5,368.7 400.5,367.8 399.5,368.0 398.5,368.6 397.5,368.9 396.5,369.4 395.5,369.6 394.5,370.5 393.5,371.2 392.5,371.7 391.5,371.6 390.5,372.9 389.5,372.9 388.5,373.3 387.5,372.7 386.5,373.7 385.5,374.2 384.5,374.6 383.5,374.6 382.5,375.1 381.5,374.3 380.5,374.3 379.5,375.7 378.5,375.7 377.5,375.1 376.5,375.1 375.5,376.3 374.5,375.6 373.5,375.8" fill="#00c800" fill-opacity="0.45"/><polyline points="373.5,360.0 374.5,360.3 375.5,359.9 376.5,359.3 377.5,360.3 378.5,359.0 379.5,359.6 380.5,360.4 381.5,360.0 382.5,360.2 383.5,358.8 384.5,358.7 385.5,359.2 386.5,359.7 387.5,359.3 388.5,358.7 389.5,358.7 390.5,359.4 391.5,358.9 392.5,358.0 393.5,358.2 394.5,358.0 395.5,358.7 396.5,358.1 397.5,357.6 398.5,358.9 399.5,358.7 400.5,357.8 401.5,358.4 402.5,357.2 403.5,357.0 404.5,357.9 405.5,357.1 406.5,357.4 407.5,356.7 408.5,357.2 409.5,356.8 410.5,356.2 411.5,357.4 412.5,356.8 413.5,356.8 414.5,356.7 415.5,355.8 416.5,356.0 417.5,356.1 418.5,356.2 419.5,355.9 420.5,355.8 421.5,355.1 422.5,355.7 423.5,355.6 424.5,354.7 425.5,354.6 426.5,355.2 427.5,354.0 428.5,354.8 429.5,353.4 430.5,353.3 431.5,354.4 432.5,353.8 433.5,353.6" fill="none" stroke="#22cc22" stroke-width="1.1" stroke-linejoin="round"/><polyline points="373.5,375.8 374.5,375.6 375.5,376.3 376.5,375.1 377.5,375.1 378.5,375.7 379.5,375.7 380.5,374.3 381.5,374.3 382.5,375.1 383.5,374.6 384.5,374.6 385.5,374.2 386.5,373.7 387.5,372.7 388.5,373.3 389.5,372.9 390.5,372.9 391.5,371.6 392.5,371.7 393.5,371.2 394.5,370.5 395.5,369.6 396.5,369.4 397.5,368.9 398.5,368.6 399.5,368.0 400.5,367.8 401.5,368.7 402.5,368.1 403.5,367.2 404.5,367.4 405.5,367.3 406.5,366.7 407.5,366.6 408.5,367.0 409.5,367.2 410.5,366.2 411.5,366.2 412.5,365.5 413.5,366.9 414.5,366.3 415.5,366.2 416.5,366.2 417.5,365.9 418.5,364.7 419.5,365.1 420.5,365.6 421.5,364.6 422.5,365.0 423.5,365.2 424.5,364.2 425.5,365.7 426.5,364.7 427.5,364.9 428.5,365.2 429.5,365.5 430.5,364.8 431.5,365.5 432.5,365.0 433.5,363.9" fill="none" stroke="#22cc22" stroke-width="1.1" stroke-linejoin="round"/><polyline points="373.5,369.2 374.5,369.6 375.5,369.4 376.5,369.8 377.5,370.3 378.5,370.8 379.5,370.9 380.5,371.4 381.5,371.3 382.5,372.0 383.5,371.7 384.5,372.4 385.5,372.3 386.5,373.1 387.5,373.2 388.5,373.5 389.5,374.0 390.5,374.0 391.5,374.6 392.5,374.3 393.5,375.2 394.5,375.4 395.5,375.6 396.5,375.6 397.5,376.5 398.5,376.5 399.5,377.2 400.5,377.4 401.5,377.1 402.5,377.7 403.5,377.8 404.5,378.6 405.5,379.0 406.5,379.0 407.5,379.1 408.5,379.2 409.5,379.3 410.5,379.4 411.5,380.2 412.5,380.4 413.5,380.7 414.5,380.3 415.5,381.1 416.5,380.7 417.5,381.0 418.5,381.8 419.5,381.7 420.5,382.0 421.5,381.7 422.5,381.7 423.5,382.4 424.5,382.8 425.5,382.7 426.5,382.8 427.5,383.3 428.5,382.6 429.5,383.3 430.5,382.9 431.5,383.2 432.5,383.6 433.5,383.5" fill="none" stroke="#000" stroke-width="1.1" stroke-linejoin="round"/><polyline points="373.5,367.9 374.5,368.2 375.5,367.4 376.5,367.1 377.5,366.9 378.5,366.9 379.5,366.3 380.5,366.3 381.5,366.4 382.5,366.2 383.5,365.9 384.5,365.2 385.5,365.0 386.5,364.9 387.5,364.9 388.5,365.0 389.5,364.3 390.5,364.0 391.5,364.5 392.5,363.7 393.5,363.5 394.5,363.1 395.5,363.7 396.5,362.9 397.5,363.2 398.5,363.1 399.5,362.8 400.5,362.3 401.5,362.6 402.5,362.4 403.5,362.2 404.5,361.8 405.5,362.1 406.5,361.6 407.5,361.2 408.5,361.1 409.5,361.2 410.5,361.1 411.5,360.9 412.5,360.8 413.5,361.0 414.5,361.0 415.5,360.5 416.5,360.7 417.5,360.7 418.5,360.8 419.5,360.0 420.5,360.2 421.5,360.0 422.5,360.1 423.5,360.1 424.5,360.2 425.5,359.6 426.5,359.9 427.5,359.7 428.5,359.4 429.5,359.3 430.5,359.4 431.5,359.3 432.5,359.3 433.5,359.1" fill="none" stroke="#000" stroke-width="1.1" stroke-linejoin="round"/></g><path d="M373.5,348.9 V393.3 M370.3,353.2 H373.5 M370.3,371.75 H373.5 M370.3,390.3 H433.5 M403.5,390.3 V393.3 M433.5,390.3 V393.3" fill="none" stroke="#222" stroke-width="1"/><text x="374.90" y="353.50" font-size="10.5" fill="#000" stroke="#000" stroke-width="0.12" text-anchor="start" font-weight="normal" >1944±47</text><g clip-path="url(#pc25)"><polygon points="446.5,378.2 447.5,378.2 448.5,380.1 449.5,379.6 450.5,378.1 451.5,379.5 452.5,379.6 453.5,378.3 454.5,379.3 455.5,378.4 456.5,379.4 457.5,378.0 458.5,378.1 459.5,378.4 460.5,379.0 461.5,378.9 462.5,379.1 463.5,377.5 464.5,378.9 465.5,378.1 466.5,377.4 467.5,378.3 468.5,377.3 469.5,378.5 470.5,376.7 471.5,378.5 472.5,377.6 473.5,377.4 474.5,377.3 475.5,377.7 476.5,377.1 477.5,376.2 478.5,377.7 479.5,376.9 480.5,377.6 481.5,376.3 482.5,375.9 483.5,375.8 484.5,376.1 485.5,375.6 486.5,374.5 487.5,375.1 488.5,374.3 489.5,374.6 490.5,374.6 491.5,374.1 492.5,373.9 493.5,372.5 494.5,372.0 495.5,371.6 496.5,372.2 497.5,372.3 498.5,371.3 499.5,371.4 500.5,370.6 501.5,370.5 502.5,369.7 503.5,368.4 504.5,367.6 505.5,367.3 506.5,367.9 506.5,379.6 505.5,380.7 504.5,380.4 503.5,379.7 502.5,381.2 501.5,381.5 500.5,382.0 499.5,381.2 498.5,382.6 497.5,381.8 496.5,381.8 495.5,383.5 494.5,383.8 493.5,383.6 492.5,384.7 491.5,384.9 490.5,385.5 489.5,384.9 488.5,385.1 487.5,385.7 486.5,386.3 485.5,386.3 484.5,386.4 483.5,386.9 482.5,386.1 481.5,387.0 480.5,386.6 479.5,385.3 478.5,385.6 477.5,386.6 476.5,387.6 475.5,387.0 474.5,386.1 473.5,386.3 472.5,386.9 471.5,387.6 470.5,387.8 469.5,386.0 468.5,387.5 467.5,388.5 466.5,387.7 465.5,388.5 464.5,387.6 463.5,386.9 462.5,388.7 461.5,386.9 460.5,387.5 459.5,387.4 458.5,388.1 457.5,387.2 456.5,387.3 455.5,387.6 454.5,387.4 453.5,389.3 452.5,389.5 451.5,387.9 450.5,389.4 449.5,389.5 448.5,388.4 447.5,388.2 446.5,389.2" fill="#8080f2" fill-opacity="1"/><polygon points="446.5,375.0 447.5,373.9 448.5,373.7 449.5,372.1 450.5,372.2 451.5,370.4 452.5,370.9 453.5,370.4 454.5,369.2 455.5,369.4 456.5,367.9 457.5,368.7 458.5,368.3 459.5,368.3 460.5,367.3 461.5,367.6 462.5,367.4 463.5,365.9 464.5,365.8 465.5,366.4 466.5,365.5 467.5,366.4 468.5,366.6 469.5,365.4 470.5,365.7 471.5,366.0 472.5,364.8 473.5,365.0 474.5,365.2 475.5,364.6 476.5,363.7 477.5,364.3 478.5,364.0 479.5,362.9 480.5,362.8 481.5,362.2 482.5,362.2 483.5,362.1 484.5,362.5 485.5,361.6 486.5,361.7 487.5,361.1 488.5,360.8 489.5,360.9 490.5,360.7 491.5,360.3 492.5,359.1 493.5,359.1 494.5,358.4 495.5,357.3 496.5,358.2 497.5,356.6 498.5,355.9 499.5,356.5 500.5,355.5 501.5,354.4 502.5,353.3 503.5,353.0 504.5,353.1 505.5,352.6 506.5,350.6 506.5,361.9 505.5,362.7 504.5,363.4 503.5,363.2 502.5,365.2 501.5,365.6 500.5,365.6 499.5,367.9 498.5,368.3 497.5,369.3 496.5,369.7 495.5,370.5 494.5,369.8 493.5,370.3 492.5,371.2 491.5,372.5 490.5,372.4 489.5,372.6 488.5,372.1 487.5,373.7 486.5,373.2 485.5,374.2 484.5,374.6 483.5,374.1 482.5,375.1 481.5,375.4 480.5,376.2 479.5,376.0 478.5,375.5 477.5,376.6 476.5,377.4 475.5,377.1 474.5,377.1 473.5,378.5 472.5,377.5 471.5,378.2 470.5,379.2 469.5,379.8 468.5,379.3 467.5,380.2 466.5,380.4 465.5,380.8 464.5,380.9 463.5,380.8 462.5,381.3 461.5,381.8 460.5,383.5 459.5,383.5 458.5,383.7 457.5,383.4 456.5,384.5 455.5,384.1 454.5,384.9 453.5,385.4 452.5,385.4 451.5,386.1 450.5,386.5 449.5,387.7 448.5,388.2 447.5,387.9 446.5,388.5" fill="#00c800" fill-opacity="0.45"/><polyline points="446.5,375.0 447.5,373.9 448.5,373.7 449.5,372.1 450.5,372.2 451.5,370.4 452.5,370.9 453.5,370.4 454.5,369.2 455.5,369.4 456.5,367.9 457.5,368.7 458.5,368.3 459.5,368.3 460.5,367.3 461.5,367.6 462.5,367.4 463.5,365.9 464.5,365.8 465.5,366.4 466.5,365.5 467.5,366.4 468.5,366.6 469.5,365.4 470.5,365.7 471.5,366.0 472.5,364.8 473.5,365.0 474.5,365.2 475.5,364.6 476.5,363.7 477.5,364.3 478.5,364.0 479.5,362.9 480.5,362.8 481.5,362.2 482.5,362.2 483.5,362.1 484.5,362.5 485.5,361.6 486.5,361.7 487.5,361.1 488.5,360.8 489.5,360.9 490.5,360.7 491.5,360.3 492.5,359.1 493.5,359.1 494.5,358.4 495.5,357.3 496.5,358.2 497.5,356.6 498.5,355.9 499.5,356.5 500.5,355.5 501.5,354.4 502.5,353.3 503.5,353.0 504.5,353.1 505.5,352.6 506.5,350.6" fill="none" stroke="#22cc22" stroke-width="1.1" stroke-linejoin="round"/><polyline points="446.5,388.5 447.5,387.9 448.5,388.2 449.5,387.7 450.5,386.5 451.5,386.1 452.5,385.4 453.5,385.4 454.5,384.9 455.5,384.1 456.5,384.5 457.5,383.4 458.5,383.7 459.5,383.5 460.5,383.5 461.5,381.8 462.5,381.3 463.5,380.8 464.5,380.9 465.5,380.8 466.5,380.4 467.5,380.2 468.5,379.3 469.5,379.8 470.5,379.2 471.5,378.2 472.5,377.5 473.5,378.5 474.5,377.1 475.5,377.1 476.5,377.4 477.5,376.6 478.5,375.5 479.5,376.0 480.5,376.2 481.5,375.4 482.5,375.1 483.5,374.1 484.5,374.6 485.5,374.2 486.5,373.2 487.5,373.7 488.5,372.1 489.5,372.6 490.5,372.4 491.5,372.5 492.5,371.2 493.5,370.3 494.5,369.8 495.5,370.5 496.5,369.7 497.5,369.3 498.5,368.3 499.5,367.9 500.5,365.6 501.5,365.6 502.5,365.2 503.5,363.2 504.5,363.4 505.5,362.7 506.5,361.9" fill="none" stroke="#22cc22" stroke-width="1.1" stroke-linejoin="round"/><polyline points="446.5,383.7 447.5,383.4 448.5,383.3 449.5,383.3 450.5,383.2 451.5,382.9 452.5,383.7 453.5,383.3 454.5,383.2 455.5,383.3 456.5,382.9 457.5,383.1 458.5,383.1 459.5,383.0 460.5,382.8 461.5,383.1 462.5,382.7 463.5,383.0 464.5,382.5 465.5,382.7 466.5,382.4 467.5,382.5 468.5,382.6 469.5,383.0 470.5,382.9 471.5,383.0 472.5,382.4 473.5,382.9 474.5,382.5 475.5,382.7 476.5,382.6 477.5,382.9 478.5,382.8 479.5,382.3 480.5,382.5 481.5,382.3 482.5,382.7 483.5,381.9 484.5,381.9 485.5,381.7 486.5,382.0 487.5,381.3 488.5,381.3 489.5,381.0 490.5,380.7 491.5,380.5 492.5,379.9 493.5,379.4 494.5,378.9 495.5,378.9 496.5,378.3 497.5,377.7 498.5,377.3 499.5,377.0 500.5,376.7 501.5,376.1 502.5,375.1 503.5,374.1 504.5,373.7 505.5,373.0 506.5,372.9" fill="none" stroke="#000" stroke-width="1.1" stroke-linejoin="round"/><polyline points="446.5,382.2 447.5,381.8 448.5,381.4 449.5,380.3 450.5,379.6 451.5,379.5 452.5,378.5 453.5,377.9 454.5,377.6 455.5,377.4 456.5,376.3 457.5,376.1 458.5,375.8 459.5,375.4 460.5,375.2 461.5,375.1 462.5,374.7 463.5,374.4 464.5,374.2 465.5,374.1 466.5,373.7 467.5,373.3 468.5,372.6 469.5,372.6 470.5,372.4 471.5,372.3 472.5,371.9 473.5,371.3 474.5,371.1 475.5,370.5 476.5,370.2 477.5,370.2 478.5,369.7 479.5,369.4 480.5,368.9 481.5,368.7 482.5,368.4 483.5,368.2 484.5,368.0 485.5,367.7 486.5,366.9 487.5,366.4 488.5,366.0 489.5,366.3 490.5,365.1 491.5,364.8 492.5,364.4 493.5,364.5 494.5,363.4 495.5,363.6 496.5,363.1 497.5,361.9 498.5,361.3 499.5,360.8 500.5,360.3 501.5,360.4 502.5,359.3 503.5,358.8 504.5,358.5 505.5,357.9 506.5,356.9" fill="none" stroke="#000" stroke-width="1.1" stroke-linejoin="round"/></g><path d="M446.5,348.9 V393.3 M443.3,353.2 H446.5 M443.3,371.75 H446.5 M443.3,390.3 H506.5 M476.5,390.3 V393.3 M506.5,390.3 V393.3" fill="none" stroke="#222" stroke-width="1"/><text x="447.90" y="353.50" font-size="10.5" fill="#000" stroke="#000" stroke-width="0.12" text-anchor="start" font-weight="normal" >1397±170</text><text x="72.20" y="355.80" font-size="10.4" fill="#000" stroke="#000" stroke-width="0.12" text-anchor="middle" font-weight="normal" >1</text><text x="71.60" y="375.20" font-size="10.4" fill="#000" stroke="#000" stroke-width="0.12" text-anchor="middle" font-weight="normal" >.5</text><text x="72.20" y="393.80" font-size="10.4" fill="#000" stroke="#000" stroke-width="0.12" text-anchor="middle" font-weight="normal" >0</text><text x="78.50" y="404.00" font-size="10.4" fill="#000" stroke="#000" stroke-width="0.12" text-anchor="middle" font-weight="normal" >0</text><text x="140.40" y="404.00" font-size="10.4" fill="#000" stroke="#000" stroke-width="0.12" text-anchor="middle" font-weight="normal" >50</text></svg></body></html>
